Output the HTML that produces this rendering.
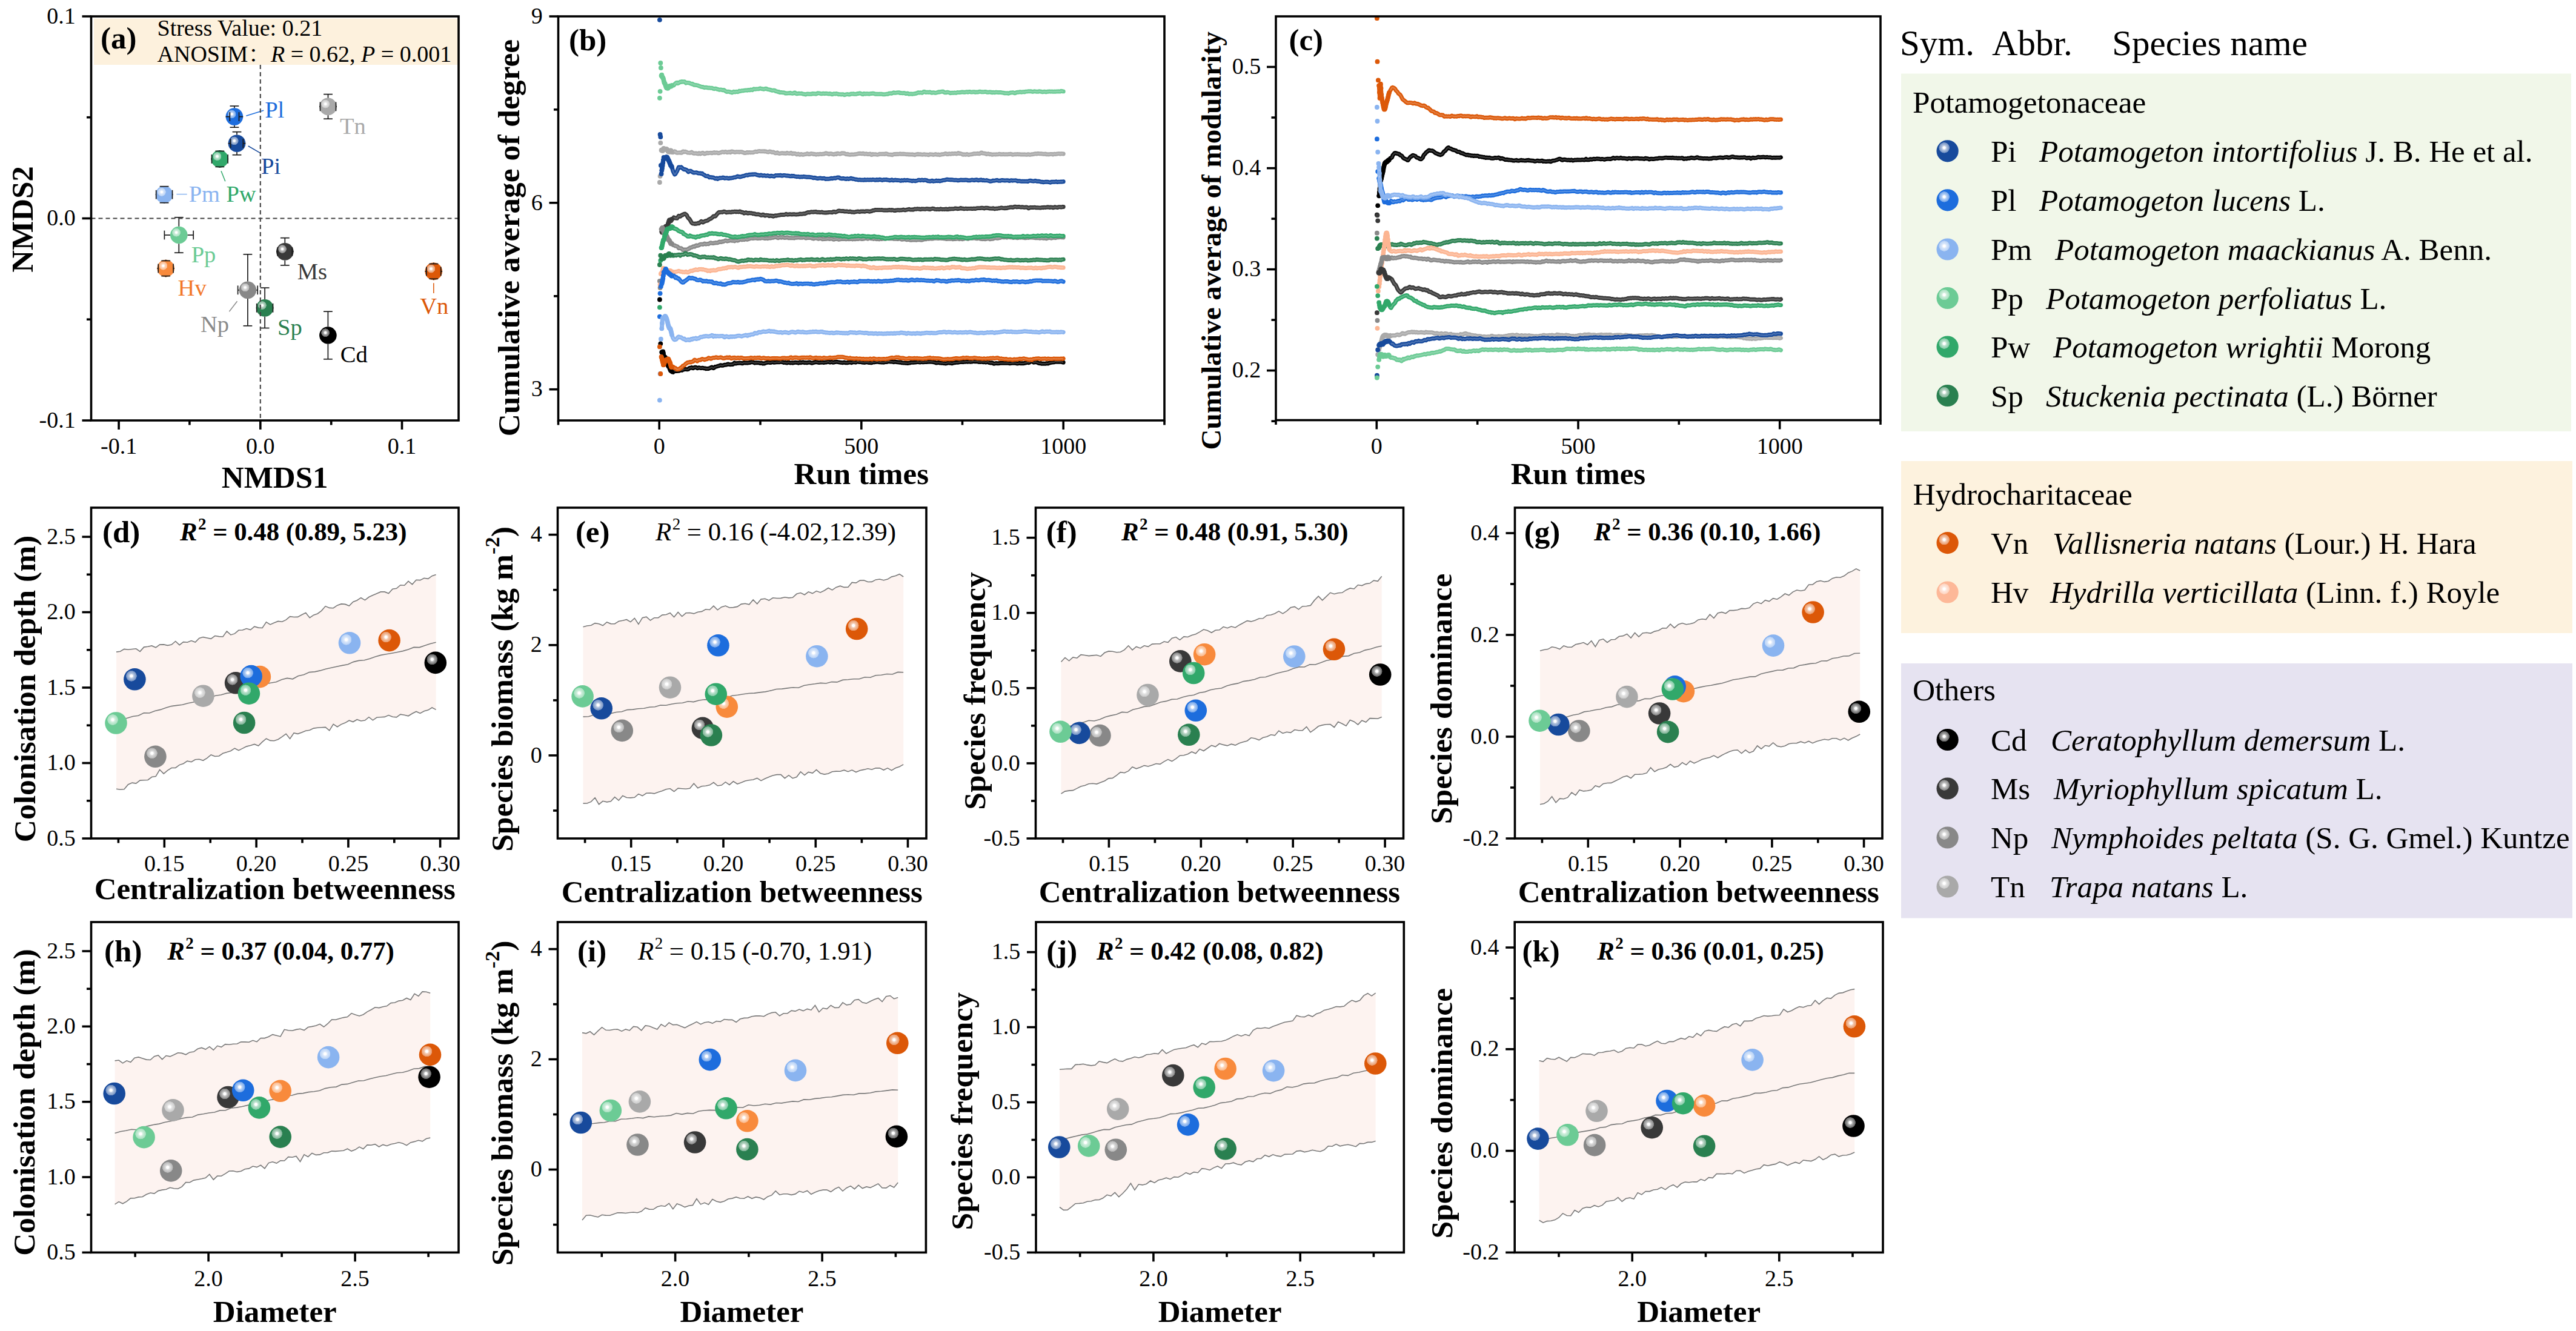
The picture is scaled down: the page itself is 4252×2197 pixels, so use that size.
<!DOCTYPE html><html><head><meta charset="utf-8"><title>Figure</title><style>html,body{margin:0;padding:0;background:#fff;overflow:hidden;}svg{display:block;}</style></head><body><svg width="4252" height="2197" viewBox="0 0 4252 2197" font-family="'Liberation Serif', 'Times New Roman', serif"><defs><radialGradient id="ga9a9a9" cx="0.35" cy="0.35" fx="0.35" fy="0.35" r="0.245"><stop offset="0" stop-color="#ffffff"/><stop offset="0.24" stop-color="#ffffff"/><stop offset="0.36" stop-color="#eaeaea"/><stop offset="0.6" stop-color="#dbdbdb"/><stop offset="0.82" stop-color="#d2d2d2"/><stop offset="0.96" stop-color="#c8c8c8"/><stop offset="1" stop-color="#a9a9a9"/></radialGradient><radialGradient id="g1d6ddd" cx="0.35" cy="0.35" fx="0.35" fy="0.35" r="0.245"><stop offset="0" stop-color="#ffffff"/><stop offset="0.24" stop-color="#ffffff"/><stop offset="0.36" stop-color="#c6daf6"/><stop offset="0.6" stop-color="#a0c2f1"/><stop offset="0.82" stop-color="#89b3ed"/><stop offset="0.96" stop-color="#6ea2e9"/><stop offset="1" stop-color="#1d6ddd"/></radialGradient><radialGradient id="g174a9c" cx="0.35" cy="0.35" fx="0.35" fy="0.35" r="0.245"><stop offset="0" stop-color="#ffffff"/><stop offset="0.24" stop-color="#ffffff"/><stop offset="0.36" stop-color="#c5d2e6"/><stop offset="0.6" stop-color="#9eb3d5"/><stop offset="0.82" stop-color="#86a1cc"/><stop offset="0.96" stop-color="#6b8bc0"/><stop offset="1" stop-color="#174a9c"/></radialGradient><radialGradient id="g31a86a" cx="0.35" cy="0.35" fx="0.35" fy="0.35" r="0.245"><stop offset="0" stop-color="#ffffff"/><stop offset="0.24" stop-color="#ffffff"/><stop offset="0.36" stop-color="#cce9da"/><stop offset="0.6" stop-color="#a8dac0"/><stop offset="0.82" stop-color="#94d2b2"/><stop offset="0.96" stop-color="#7bc7a0"/><stop offset="1" stop-color="#31a86a"/></radialGradient><radialGradient id="g8ab4f0" cx="0.35" cy="0.35" fx="0.35" fy="0.35" r="0.245"><stop offset="0" stop-color="#ffffff"/><stop offset="0.24" stop-color="#ffffff"/><stop offset="0.36" stop-color="#e2ecfb"/><stop offset="0.6" stop-color="#cee0f9"/><stop offset="0.82" stop-color="#c2d8f7"/><stop offset="0.96" stop-color="#b4cff5"/><stop offset="1" stop-color="#8ab4f0"/></radialGradient><radialGradient id="g6ccb95" cx="0.35" cy="0.35" fx="0.35" fy="0.35" r="0.245"><stop offset="0" stop-color="#ffffff"/><stop offset="0.24" stop-color="#ffffff"/><stop offset="0.36" stop-color="#daf2e4"/><stop offset="0.6" stop-color="#c1e9d2"/><stop offset="0.82" stop-color="#b3e4c8"/><stop offset="0.96" stop-color="#a1debb"/><stop offset="1" stop-color="#6ccb95"/></radialGradient><radialGradient id="gf88a3c" cx="0.35" cy="0.35" fx="0.35" fy="0.35" r="0.245"><stop offset="0" stop-color="#ffffff"/><stop offset="0.24" stop-color="#ffffff"/><stop offset="0.36" stop-color="#fde2ce"/><stop offset="0.6" stop-color="#fccead"/><stop offset="0.82" stop-color="#fbc29a"/><stop offset="0.96" stop-color="#fbb482"/><stop offset="1" stop-color="#f88a3c"/></radialGradient><radialGradient id="g393939" cx="0.35" cy="0.35" fx="0.35" fy="0.35" r="0.245"><stop offset="0" stop-color="#ffffff"/><stop offset="0.24" stop-color="#ffffff"/><stop offset="0.36" stop-color="#cecece"/><stop offset="0.6" stop-color="#acacac"/><stop offset="0.82" stop-color="#989898"/><stop offset="0.96" stop-color="#808080"/><stop offset="1" stop-color="#393939"/></radialGradient><radialGradient id="gdc5808" cx="0.35" cy="0.35" fx="0.35" fy="0.35" r="0.245"><stop offset="0" stop-color="#ffffff"/><stop offset="0.24" stop-color="#ffffff"/><stop offset="0.36" stop-color="#f6d5c1"/><stop offset="0.6" stop-color="#f0b997"/><stop offset="0.82" stop-color="#eda87f"/><stop offset="0.96" stop-color="#e99461"/><stop offset="1" stop-color="#dc5808"/></radialGradient><radialGradient id="g888888" cx="0.35" cy="0.35" fx="0.35" fy="0.35" r="0.245"><stop offset="0" stop-color="#ffffff"/><stop offset="0.24" stop-color="#ffffff"/><stop offset="0.36" stop-color="#e1e1e1"/><stop offset="0.6" stop-color="#cdcdcd"/><stop offset="0.82" stop-color="#c1c1c1"/><stop offset="0.96" stop-color="#b3b3b3"/><stop offset="1" stop-color="#888888"/></radialGradient><radialGradient id="g2a8050" cx="0.35" cy="0.35" fx="0.35" fy="0.35" r="0.245"><stop offset="0" stop-color="#ffffff"/><stop offset="0.24" stop-color="#ffffff"/><stop offset="0.36" stop-color="#cadfd3"/><stop offset="0.6" stop-color="#a6cab5"/><stop offset="0.82" stop-color="#90bda4"/><stop offset="0.96" stop-color="#77ae8f"/><stop offset="1" stop-color="#2a8050"/></radialGradient><radialGradient id="g000000" cx="0.35" cy="0.35" fx="0.35" fy="0.35" r="0.245"><stop offset="0" stop-color="#ffffff"/><stop offset="0.24" stop-color="#ffffff"/><stop offset="0.36" stop-color="#bfbfbf"/><stop offset="0.6" stop-color="#949494"/><stop offset="0.82" stop-color="#7a7a7a"/><stop offset="0.96" stop-color="#5c5c5c"/><stop offset="1" stop-color="#000000"/></radialGradient><radialGradient id="gfdb898" cx="0.35" cy="0.35" fx="0.35" fy="0.35" r="0.245"><stop offset="0" stop-color="#ffffff"/><stop offset="0.24" stop-color="#ffffff"/><stop offset="0.36" stop-color="#feede5"/><stop offset="0.6" stop-color="#fee1d4"/><stop offset="0.82" stop-color="#fedac9"/><stop offset="0.96" stop-color="#fed2bd"/><stop offset="1" stop-color="#fdb898"/></radialGradient><path id="r1" d="M1092.3 123.6l1.3 4 1.3 2.2 1.4 6.2 1.3 2.2 1.3 3.9 1.4 2.8 1.3 0.6 1.3 -0.5 1.4 -1.9 1.3 -1.2 1.3 0.7 1.4 -0.8 1.3 -0.9 1.3 0.2 1.4 -0.3 1.3 -1.8 1.3 -1.1 1.4 -1.3 1.3 -0.3 1.3 1.4 1.4 -0.7 1.3 -1.1 1.3 -0.9 1.4 0.5 1.3 -0.9 1.3 0.6 1.4 -0.3 1.3 -0.3 1.3 1 1.4 1.6 1.3 -0.6 1.3 -0.1 1.4 0.4 1.3 -0.2 1.3 0.8 1.4 0.6 1.3 0.6 1.3 -0.5 1.4 1 1.3 1 1.3 0 1.4 0.3 1.3 0 1.3 0.3 1.4 0.3 1.3 0.9 1.4 0.3 1.3 0.5 1.3 0.6 1.4 0.1 1.3 -0.1 1.3 0.9 1.4 0.4 1.3 -0.3 1.3 -0.3 1.4 0.6 1.3 0.1 1.3 0.3 1.4 -0.2 1.3 0.4 1.3 0.1 1.4 -0.2 1.3 0.5 1.3 0.7 1.4 0.3 1.3 -0.4 1.3 -0.1 1.4 0.5 1.3 0.7 1.3 0.1 1.4 0.7 1.3 0 1.3 -0.3 1.4 0.2 1.3 0.7 1.3 -0.1 1.4 -0.2 1.3 1 1.3 0.9 1.4 0.9 1.3 0.2 1.3 -0.4 1.4 0.1 1.3 0.4 1.3 0.7 1.4 -0.2 1.3 0.9 1.3 -0.7 1.4 -1.1 1.3 0.6 1.3 0.2 1.4 -0.8 1.3 0.2 1.3 0.4 1.4 -0.5 1.3 -1.2 1.3 0.5 1.4 -0.4 1.3 -0.5 1.4 0.1 1.3 -0.1 1.3 -0.4 1.4 -0.1 1.3 -0.2 1.3 -0.1 1.4 0.3 1.3 -0.7 1.3 0.2 1.4 0.1 1.3 -0.9 1.3 0.2 1.4 0.6 1.3 -1 1.3 -1 1.4 0.4 1.3 0.2 1.3 -0.4 1.4 0 1.3 0 1.3 -0.1 1.4 -0.7 1.3 -0.3 1.3 0.6 1.4 0.3 1.3 0.1 1.3 0.4 1.4 -0.1 1.3 -0.8 1.3 -0.2 1.4 0.8 1.3 0.4 1.3 0.3 1.4 0.2 1.3 0.5 1.3 0.2 1.4 0.6 1.3 0.3 1.3 -0.3 1.4 -0.1 1.3 0.3 1.3 1.3 1.4 0.1 1.3 0.4 1.3 0.6 1.4 -0.2 1.3 1 1.4 0.1 1.3 -0.2 1.3 0.3 1.4 0.2 1.3 -0.1 1.3 0.3 1.4 0.9 1.3 -0.2 1.3 0.2 1.4 -0.1 1.3 -0.1 1.3 0 1.4 -0.6 1.3 0.7 1.3 0.2 1.4 0.2 1.3 -0.4 1.3 -0.9 1.4 0 1.3 1.4 1.3 0.5 1.4 -0.3 1.3 -0.3 1.3 0 1.4 0.1 1.3 0 1.3 -0.1 1.4 0.5 1.3 0.4 1.3 0 1.4 0.4 1.3 0.4 1.3 -0.8 1.4 0 1.3 -0.3 1.3 0.5 1.4 -0.3 1.3 0.2 1.3 0.1 1.4 -0.8 1.3 -0.1 1.3 0.4 1.4 -0.3 1.3 0.4 1.3 0.2 1.4 -0.6 1.3 -0.8 1.3 0.1 1.4 0 1.3 0.5 1.3 0.3 1.4 0.1 1.3 -0.3 1.4 -0.4 1.3 0.6 1.3 -0.2 1.4 -0.2 1.3 0.1 1.3 0.2 1.4 0.3 1.3 0.1 1.3 -0.5 1.4 0.4 1.3 0.6 1.3 0.3 1.4 -0.5 1.3 -0.6 1.3 0.2 1.4 0.1 1.3 -0.5 1.3 0.4 1.4 0.3 1.3 0.7 1.3 -0.3 1.4 0 1.3 0.5 1.3 -0.5 1.4 0 1.3 0.4 1.3 0.7 1.4 -0.3 1.3 -0.6 1.3 -0.2 1.4 -0.1 1.3 0.3 1.3 0.2 1.4 -0.2 1.3 -0.8 1.3 0 1.4 0.1 1.3 -0.3 1.3 0.5 1.4 0 1.3 0.1 1.3 -0.1 1.4 -0.8 1.3 0 1.3 -0.2 1.4 -0.4 1.3 0.4 1.4 0.4 1.3 0.7 1.3 0.3 1.4 -1.2 1.3 0.2 1.3 0.4 1.4 -0.3 1.3 -0.1 1.3 0.1 1.4 0.2 1.3 0.2 1.3 -0.6 1.4 -0.1 1.3 0 1.3 -0.3 1.4 0 1.3 0.4 1.3 0.7 1.4 -0.1 1.3 0 1.3 0.1 1.4 0.1 1.3 -0.1 1.3 -0.1 1.4 0 1.3 0 1.3 0.3 1.4 0.4 1.3 -0.3 1.3 0.1 1.4 -0.1 1.3 -0.5 1.3 0.1 1.4 0 1.3 -0.9 1.3 -0.1 1.4 -0.3 1.3 0.5 1.3 -0.4 1.4 -0.8 1.3 -0.4 1.3 0.5 1.4 0.1 1.3 -0.3 1.3 -0.2 1.4 -0.1 1.3 -0.2 1.3 0 1.4 1 1.3 -0.1 1.3 0.1 1.4 0.1 1.3 0 1.4 -0.2 1.3 0.4 1.3 0.6 1.4 0 1.3 -0.5 1.3 0.4 1.4 0.9 1.3 -0.2 1.3 -0.2 1.4 0.1 1.3 0.3 1.3 -0.3 1.4 -0.1 1.3 -0.1 1.3 -0.5 1.4 -0.1 1.3 -0.7 1.3 -0.7 1.4 0 1.3 0.3 1.3 -0.3 1.4 0.1 1.3 0.5 1.3 -0.7 1.4 -1.2 1.3 -0.2 1.3 0.7 1.4 0.5 1.3 -0.4 1.3 0.1 1.4 0.3 1.3 -0.4 1.3 -0.2 1.4 0.9 1.3 0.4 1.3 -0.1 1.4 -0.5 1.3 0.3 1.3 0.4 1.4 0.1 1.3 -0.5 1.3 -0.2 1.4 -0.8 1.3 -0.1 1.3 0.3 1.4 -0.5 1.3 -0.5 1.4 0.3 1.3 -0.5 1.3 0.9 1.4 1 1.3 0 1.3 0 1.4 -0.7 1.3 0 1.3 0.5 1.4 0.2 1.3 0.9 1.3 -0.2 1.4 -0.3 1.3 0.1 1.3 0.1 1.4 -0.5 1.3 0.2 1.3 0.3 1.4 -0.5 1.3 -0.5 1.3 0.2 1.4 0 1.3 -0.1 1.3 -0.1 1.4 -0.4 1.3 0 1.3 0 1.4 0.3 1.3 0 1.3 -0.3 1.4 -0.3 1.3 0.1 1.3 0.4 1.4 -0.7 1.3 0 1.3 0.2 1.4 0.4 1.3 0 1.3 -0.5 1.4 0.1 1.3 0 1.3 0.6 1.4 -0.3 1.3 0 1.3 0 1.4 -0.2 1.3 -0.5 1.3 -0.1 1.4 0.3 1.3 0.4 1.3 -0.1 1.4 0.1 1.3 -0.2 1.4 -0.2 1.3 0 1.3 0.4 1.4 0.5 1.3 -0.1 1.3 -0.3 1.4 0 1.3 -0.1 1.3 0.7 1.4 0.2 1.3 -0.6 1.3 0.4 1.4 0.1 1.3 -0.5 1.3 0 1.4 0.2 1.3 0.1 1.3 0.2 1.4 -0.2 1.3 -0.1 1.3 0.2 1.4 0.3 1.3 0.2 1.3 0.1 1.4 0.6 1.3 -0.2 1.3 0.2 1.4 0.1 1.3 -0.2 1.3 0.5 1.4 -0.5 1.3 -0.5 1.3 -0.2 1.4 -0.1 1.3 -0.1 1.3 -0.1 1.4 0.8 1.3 0.3 1.3 -0.5 1.4 -0.8 1.3 -0.2 1.3 0 1.4 -0.2 1.3 -0.4 1.3 0 1.4 0.5 1.3 -0.2 1.4 -0.3 1.3 0 1.3 0.3 1.4 -0.8 1.3 -0.1 1.3 0 1.4 -0.2 1.3 -0.2 1.3 0.2 1.4 -0.2 1.3 0.1 1.3 0.4 1.4 0.3 1.3 -0.3 1.3 -0.4 1.4 0.1 1.3 0.2 1.3 0.3 1.4 -0.1 1.3 0 1.3 -0.6 1.4 0.2 1.3 0.3 1.3 0.1 1.4 0.6 1.3 -0.3 1.3 -0.4 1.4 0.1 1.3 0.5 1.3 -0.1 1.4 -0.5 1.3 0.2 1.3 -0.4 1.4 0 1.3 0.2 1.3 -0.1 1.4 -0.1 1.3 0.4 1.3 -0.1 1.4 -0.3 1.3 0.4 1.3 -0.3 1.4 -0.2 1.3 0.2 1.3 -0.3 1.4 0.3 1.3 0 1.3 -0.8 1.4 0.1 1.3 0.4 1.3 0.1"/><path id="r2" d="M1092.3 247.6l1.3 1.3 1.3 -3.2 1.4 0.2 1.3 0.8 1.3 -0.7 1.4 0.1 1.3 1.4 1.3 2.6 1.4 0.2 1.3 0.2 1.3 -2.1 1.4 1.7 1.3 0.9 1.3 0.7 1.4 -0.6 1.3 -1.4 1.3 0.7 1.4 1.5 1.3 0.4 1.3 -0.2 1.4 -0.2 1.3 0.2 1.3 -0.4 1.4 0.6 1.3 -0.2 1.3 -1.9 1.4 -0.3 1.3 0.8 1.3 -0.5 1.4 0.3 1.3 0.8 1.3 0.7 1.4 0.1 1.3 0 1.3 0.3 1.4 -0.6 1.3 -0.7 1.3 1 1.4 0.9 1.3 0.3 1.3 -0.3 1.4 0.2 1.3 -0.2 1.3 0.7 1.4 0.3 1.3 -1.2 1.4 0.1 1.3 1.1 1.3 -0.7 1.4 -0.9 1.3 -0.1 1.3 1.1 1.4 0.6 1.3 -0.4 1.3 -0.9 1.4 -0.5 1.3 0.6 1.3 -0.1 1.4 -0.3 1.3 0 1.3 -0.1 1.4 0.5 1.3 -0.3 1.3 -0.7 1.4 -0.3 1.3 0.9 1.3 -0.4 1.4 -0.2 1.3 0.3 1.3 0.8 1.4 -0.2 1.3 -0.7 1.3 -0.1 1.4 -0.7 1.3 -0.6 1.3 0.2 1.4 0.5 1.3 -0.3 1.3 -0.6 1.4 0.5 1.3 0.7 1.3 -0.2 1.4 -0.7 1.3 0.1 1.3 0.8 1.4 -1.5 1.3 -0.2 1.3 0.6 1.4 -0 1.3 0.7 1.3 0.1 1.4 -0.6 1.3 -0 1.3 0.2 1.4 -0.1 1.3 0.4 1.3 -0.6 1.4 0.1 1.3 -0 1.4 0.7 1.3 0.3 1.3 0.6 1.4 0.2 1.3 -0.1 1.3 -0.7 1.4 -0.3 1.3 0.6 1.3 -0.4 1.4 -0.1 1.3 0.3 1.3 -0.2 1.4 -0 1.3 0.1 1.3 -0.4 1.4 -0.8 1.3 -0.3 1.3 0.3 1.4 -0 1.3 -0.6 1.3 -0.3 1.4 -0.2 1.3 0.5 1.3 -0.1 1.4 0.1 1.3 -0.2 1.3 -0.1 1.4 0.5 1.3 -0.3 1.3 0.2 1.4 0.5 1.3 0.4 1.3 0.2 1.4 -0.9 1.3 -0.2 1.3 0.3 1.4 1 1.3 -0 1.3 -0.4 1.4 0.7 1.3 0.9 1.3 0.4 1.4 -0.3 1.3 -0.8 1.3 1 1.4 0.6 1.3 0.1 1.4 -0.3 1.3 -0.3 1.3 -0.2 1.4 0.3 1.3 -0 1.3 -0 1.4 0.3 1.3 -0.1 1.3 -0.9 1.4 0.5 1.3 0.3 1.3 0.1 1.4 -0.1 1.3 -0.9 1.3 1.3 1.4 0.6 1.3 -1 1.3 0.2 1.4 0.2 1.3 0.6 1.3 0.9 1.4 -0.6 1.3 -0.5 1.3 1 1.4 0.5 1.3 -0.7 1.3 -0.3 1.4 0.8 1.3 0.1 1.3 -0.2 1.4 -0.5 1.3 -0.1 1.3 -0.2 1.4 -0.8 1.3 0.8 1.3 0.2 1.4 0.1 1.3 -0.8 1.3 -0.3 1.4 0.3 1.3 0.2 1.3 0.6 1.4 -0.3 1.3 0.3 1.3 0.6 1.4 -0.3 1.3 -0.5 1.3 0.5 1.4 -0.4 1.3 -0.3 1.3 0.2 1.4 0.2 1.3 -0.5 1.4 0.1 1.3 -0.2 1.3 -0.6 1.4 -0.6 1.3 0.5 1.3 0.2 1.4 0.4 1.3 0.6 1.3 -0.8 1.4 0.1 1.3 0 1.3 0.7 1.4 0 1.3 0.5 1.3 -0.7 1.4 -0.4 1.3 0.6 1.3 -1.1 1.4 -0.3 1.3 0.5 1.3 0.5 1.4 -0.1 1.3 -0.5 1.3 -0.8 1.4 0.4 1.3 -0.2 1.3 0.3 1.4 0.7 1.3 0.6 1.3 0.2 1.4 -0.5 1.3 0.8 1.3 0.2 1.4 0 1.3 0 1.3 -0.2 1.4 0 1.3 0.1 1.3 -0.1 1.4 -0.3 1.3 0 1.3 -0.4 1.4 -0.2 1.3 -0.4 1.3 -0.2 1.4 -0.2 1.3 0.1 1.4 0.4 1.3 -0.1 1.3 -0.5 1.4 0.3 1.3 0.8 1.3 -0.2 1.4 -0.3 1.3 0.5 1.3 0.2 1.4 0 1.3 -0.4 1.3 -0.1 1.4 1.4 1.3 0.2 1.3 -1.1 1.4 0.2 1.3 0.2 1.3 -0.2 1.4 0.1 1.3 0.3 1.3 0.2 1.4 -0.3 1.3 -0.5 1.3 -0.4 1.4 0.2 1.3 0.1 1.3 -0.2 1.4 0.1 1.3 -0.1 1.3 0.3 1.4 -0.8 1.3 0 1.3 0.5 1.4 0.7 1.3 0.2 1.3 0 1.4 0.1 1.3 -0.1 1.3 0.7 1.4 -0.6 1.3 -0.5 1.3 -0.2 1.4 -0.2 1.3 0.4 1.3 -0.6 1.4 0.4 1.3 -0.1 1.3 -0.2 1.4 -0.4 1.3 0.6 1.3 -0.1 1.4 0 1.3 -0.3 1.4 0.3 1.3 0.1 1.3 0.2 1.4 0.1 1.3 -0.1 1.3 0.1 1.4 0.4 1.3 -0.3 1.3 0.2 1.4 0 1.3 -0.2 1.3 0.4 1.4 0.1 1.3 0.4 1.3 -0.5 1.4 -0.4 1.3 0.1 1.3 -0.7 1.4 0.5 1.3 0 1.3 -0.1 1.4 0.5 1.3 0 1.3 0.1 1.4 -0.4 1.3 -0.2 1.3 0.6 1.4 -0.1 1.3 0 1.3 0.3 1.4 0.4 1.3 -0.5 1.3 -0.6 1.4 0.2 1.3 0 1.3 0.3 1.4 0.3 1.3 -0.3 1.3 -0.3 1.4 -0.4 1.3 0.7 1.3 0.2 1.4 -0.4 1.3 0.2 1.3 0.5 1.4 -0.3 1.3 -0.7 1.4 0.1 1.3 0 1.3 -0.4 1.4 -0.4 1.3 -0.5 1.3 0.1 1.4 1 1.3 0 1.3 -0.7 1.4 -0.1 1.3 0.4 1.3 0.1 1.4 -0.8 1.3 0.1 1.3 0.2 1.4 -0.3 1.3 -0.1 1.3 0.4 1.4 0.2 1.3 -0.7 1.3 -0.8 1.4 1.1 1.3 -0.3 1.3 0.4 1.4 0.3 1.3 0.8 1.3 0.6 1.4 -0.7 1.3 0.5 1.3 0.2 1.4 -0.7 1.3 -0.2 1.3 0.7 1.4 0.4 1.3 -0.5 1.3 -0.2 1.4 0 1.3 -0.4 1.3 -0.2 1.4 -0.6 1.3 0.1 1.3 0 1.4 -0.2 1.3 0 1.3 -0.3 1.4 0.3 1.3 0.2 1.3 -0.5 1.4 -1.1 1.3 -0.3 1.3 0.9 1.4 0.3 1.3 0 1.4 0.4 1.3 0.2 1.3 0.8 1.4 -0.3 1.3 -0.4 1.3 0.4 1.4 0.5 1.3 -0.2 1.3 0.4 1.4 0.5 1.3 -0.4 1.3 -0.1 1.4 0 1.3 0.2 1.3 -0.3 1.4 0.1 1.3 0 1.3 -0.5 1.4 -0.3 1.3 0.6 1.3 0.1 1.4 0 1.3 -0.1 1.3 -0.2 1.4 0.4 1.3 -0.1 1.3 -0.2 1.4 0.3 1.3 -0.1 1.3 -0.3 1.4 0.1 1.3 -0.3 1.3 0 1.4 0.5 1.3 0.5 1.3 -0.2 1.4 -0.2 1.3 -0.3 1.3 0.1 1.4 0.2 1.3 -0.4 1.3 0.2 1.4 0 1.3 0 1.3 0.3 1.4 0 1.3 -0.1 1.4 0.1 1.3 0 1.3 -0.2 1.4 0.3 1.3 0.1 1.3 0.1 1.4 -0.6 1.3 -0.1 1.3 0.8 1.4 -0.1 1.3 -0.3 1.3 -0.3 1.4 0 1.3 -0.2 1.3 -0.4 1.4 -0.4 1.3 0.1 1.3 0.2 1.4 -0.6 1.3 0.1 1.3 0.1 1.4 0.3 1.3 -0.1 1.3 -0.1 1.4 0.4 1.3 0.1 1.3 0.2 1.4 -0.3 1.3 -0.1 1.3 0.8 1.4 -0.1 1.3 -0.1 1.3 0.4 1.4 -0.3 1.3 -0.3 1.3 0 1.4 0.1 1.3 0.5 1.3 -0.5 1.4 -0.4 1.3 0.4 1.3 -0.1 1.4 -0.4 1.3 -0.2 1.3 -0.2 1.4 0 1.3 0.6 1.3 -0.3 1.4 -0.3 1.3 0.2 1.3 0.2"/><path id="r3" d="M1092.3 281.3l1.3 -8.1 1.3 -9.1 1.4 -3.2 1.3 -0.2 1.3 -1 1.4 -0.4 1.3 1.1 1.3 3 1.4 2.5 1.3 3.2 1.3 3.3 1.4 1.9 1.3 3.3 1.3 4.9 1.4 2.9 1.3 2.5 1.3 -0.7 1.4 -2.6 1.3 -2.2 1.3 -3 1.4 -3.5 1.3 0.1 1.3 0.5 1.4 -0.7 1.3 1.2 1.3 1 1.4 1.4 1.3 0.4 1.3 -0.3 1.4 0.8 1.3 0.5 1.3 1.5 1.4 1.4 1.3 -1.3 1.3 -0.2 1.4 0.1 1.3 0.9 1.3 0.8 1.4 0.8 1.3 0.3 1.3 -0.2 1.4 0 1.3 -0.2 1.3 0.5 1.4 0.7 1.3 0.2 1.4 -0.1 1.3 -0.1 1.3 0.7 1.4 -0.3 1.3 1.3 1.3 0.9 1.4 0.5 1.3 1.2 1.3 0.5 1.4 0.2 1.3 -0.5 1.3 1.3 1.4 1.2 1.3 -0.2 1.3 -0.3 1.4 0.7 1.3 -0.3 1.3 0.3 1.4 0.7 1.3 0.9 1.3 0.1 1.4 -0.7 1.3 1.3 1.3 -0.4 1.4 -1 1.3 -0.4 1.3 0.4 1.4 -0.4 1.3 0 1.3 -0.7 1.4 0.5 1.3 0.8 1.3 -0.2 1.4 -0.2 1.3 -0.1 1.3 0.7 1.4 0.2 1.3 -0.6 1.3 0 1.4 0 1.3 -0.3 1.3 -0.2 1.4 -0.6 1.3 -0.2 1.3 0.1 1.4 -0.5 1.3 -0.7 1.3 -0.6 1.4 0.3 1.3 0.6 1.3 0.2 1.4 -0.5 1.3 -0.4 1.4 -0.5 1.3 -0.1 1.3 -0.3 1.4 -0.6 1.3 -0.4 1.3 -0.4 1.4 0.4 1.3 -0.3 1.3 -0.8 1.4 -0.1 1.3 0.3 1.3 -0.4 1.4 -0.2 1.3 0.4 1.3 -0.6 1.4 0.3 1.3 -0.2 1.3 0.6 1.4 0.5 1.3 0.2 1.3 0.2 1.4 0.7 1.3 -0.7 1.3 -0.2 1.4 0.5 1.3 0.5 1.3 -0.1 1.4 -0.4 1.3 0.5 1.3 0.3 1.4 -0.2 1.3 -0.4 1.3 0.5 1.4 0.4 1.3 0.4 1.3 -0.7 1.4 0 1.3 0.3 1.3 0.3 1.4 0.3 1.3 -1 1.3 -0.7 1.4 0.1 1.3 0.1 1.3 -0.2 1.4 0.2 1.3 -0.2 1.4 -0.4 1.3 1 1.3 0 1.4 -0.4 1.3 -0.3 1.3 -0 1.4 0.2 1.3 0.5 1.3 -0.2 1.4 0.4 1.3 -0.2 1.3 0.4 1.4 0.4 1.3 -0.1 1.3 -0.6 1.4 0.5 1.3 -0.3 1.3 0.4 1.4 0.3 1.3 0.2 1.3 0.4 1.4 -0.1 1.3 -0.1 1.3 0.3 1.4 0.4 1.3 -0.3 1.3 -0.1 1.4 0.2 1.3 -0.3 1.3 -0.2 1.4 0.4 1.3 0 1.3 0.4 1.4 -0.1 1.3 0 1.3 0.1 1.4 0 1.3 0.2 1.3 0.1 1.4 0.2 1.3 0.8 1.3 0.1 1.4 -0.4 1.3 0.2 1.3 0.5 1.4 0.3 1.3 0.3 1.3 -0.2 1.4 -0.2 1.3 -0.2 1.3 0.2 1.4 0.3 1.3 0 1.4 -0.1 1.3 -0.1 1.3 0.7 1.4 0.5 1.3 -0.3 1.3 0.1 1.4 0.1 1.3 -0.3 1.3 -0.1 1.4 -0.5 1.3 -0.3 1.3 0.5 1.4 -0.4 1.3 -0.3 1.3 -0.2 1.4 0.4 1.3 -0.7 1.3 -0.3 1.4 -0.3 1.3 0 1.3 0.7 1.4 0.8 1.3 0.2 1.3 0.3 1.4 -0.5 1.3 0.1 1.3 0.3 1.4 0.3 1.3 0.4 1.3 -0.6 1.4 -0.1 1.3 0.7 1.3 -0.4 1.4 -0.3 1.3 -0.6 1.3 0.3 1.4 0.8 1.3 -0.2 1.3 0.4 1.4 0.3 1.3 0.5 1.3 -0.1 1.4 0.3 1.3 0.4 1.3 0.1 1.4 -0.3 1.3 0.3 1.4 0.1 1.3 -0.1 1.3 0.1 1.4 0.1 1.3 -0.7 1.3 0.5 1.4 0.1 1.3 -0.3 1.3 -0.1 1.4 0.3 1.3 0 1.3 -0.3 1.4 0.3 1.3 -0.1 1.3 -0.4 1.4 0.1 1.3 0.2 1.3 0.4 1.4 -0.1 1.3 -0.6 1.3 0.6 1.4 0 1.3 -0.7 1.3 -0.1 1.4 0.3 1.3 0.6 1.3 0.3 1.4 -0.7 1.3 -0.3 1.3 0.4 1.4 -0.2 1.3 -0.3 1.3 0.6 1.4 0.1 1.3 0.1 1.3 0.7 1.4 -0.2 1.3 -0.8 1.3 -0.1 1.4 0.9 1.3 0 1.3 -0.4 1.4 -0.3 1.3 0.4 1.3 0.1 1.4 -0.1 1.3 0.2 1.3 0 1.4 0.6 1.3 0.1 1.3 -0.8 1.4 0.3 1.3 0.2 1.4 -0.8 1.3 0.3 1.3 0.3 1.4 -0.3 1.3 -0.2 1.3 0.3 1.4 0.2 1.3 0.3 1.3 0 1.4 0.5 1.3 0.2 1.3 -0.5 1.4 0.1 1.3 0.2 1.3 0.2 1.4 -0.5 1.3 -0.2 1.3 -0.5 1.4 -0.5 1.3 0 1.3 0.6 1.4 -0.3 1.3 -0.5 1.3 0.5 1.4 0.3 1.3 -0.6 1.3 0.1 1.4 0.3 1.3 0.2 1.3 0.9 1.4 0.3 1.3 0 1.3 0.3 1.4 -0.3 1.3 -0.7 1.3 0.1 1.4 1 1.3 -0.4 1.3 0 1.4 -0.5 1.3 -0.4 1.3 0.7 1.4 -0.3 1.3 -0.1 1.3 0.7 1.4 -0.4 1.3 -0.4 1.4 -0.2 1.3 -0.5 1.3 -0.1 1.4 -0.1 1.3 -0.3 1.3 -0.5 1.4 -0.3 1.3 0.2 1.3 0.2 1.4 0 1.3 0.2 1.3 -0.1 1.4 0 1.3 0.2 1.3 0.2 1.4 0.2 1.3 0.1 1.3 -0.3 1.4 0.2 1.3 0.4 1.3 0.1 1.4 -0.3 1.3 -0.2 1.3 -0.3 1.4 0.2 1.3 -0.1 1.3 0.3 1.4 -0.2 1.3 0.1 1.3 -0.3 1.4 0.2 1.3 0 1.3 0.6 1.4 0 1.3 -0.1 1.3 0 1.4 -0.6 1.3 -0.1 1.3 0.1 1.4 0.4 1.3 0.1 1.3 -0.6 1.4 -0.2 1.3 0 1.3 0.8 1.4 0.1 1.3 -0.4 1.3 -0.1 1.4 -0.5 1.3 0.6 1.3 0.4 1.4 -0.4 1.3 0.5 1.4 0.1 1.3 0 1.3 -0.5 1.4 0.5 1.3 0.5 1.3 0.2 1.4 0.6 1.3 0 1.3 -0.2 1.4 -0.4 1.3 -0.6 1.3 0.3 1.4 -0.2 1.3 -0.2 1.3 -0.4 1.4 -0.2 1.3 0.7 1.3 0.3 1.4 -0.1 1.3 0.2 1.3 -0.8 1.4 -0.2 1.3 0.4 1.3 -0.2 1.4 0.4 1.3 0.1 1.3 -0.5 1.4 0.2 1.3 0 1.3 0.1 1.4 0.6 1.3 -0.1 1.3 -0.8 1.4 0 1.3 0.7 1.3 -0.4 1.4 0 1.3 0 1.3 -0.2 1.4 0.4 1.3 0.9 1.3 -0.2 1.4 0 1.3 -0.1 1.3 0.4 1.4 0.2 1.3 -0.2 1.4 0.1 1.3 0.2 1.3 -0.1 1.4 0.1 1.3 -0.2 1.3 0.1 1.4 0.3 1.3 -0.8 1.3 -0.4 1.4 -0.3 1.3 0.3 1.3 0.4 1.4 0.1 1.3 0.2 1.3 -0.2 1.4 -0.6 1.3 0.3 1.3 0.7 1.4 -0.1 1.3 0 1.3 0.1 1.4 0.3 1.3 0.5 1.3 0.3 1.4 -0.1 1.3 0.5 1.3 -0.2 1.4 -0.2 1.3 -0.3 1.3 0.3 1.4 -0.3 1.3 0.3 1.3 0.3 1.4 0.2 1.3 0.4 1.3 -1 1.4 0 1.3 0 1.3 -0.1 1.4 0.1 1.3 -0.2 1.3 -0.4 1.4 0.6 1.3 0.2 1.3 -0.4 1.4 0 1.3 0.1 1.3 -0.2 1.4 0.2 1.3 -0.3 1.3 -0.1"/><path id="r4" d="M1092.3 382.3l1.3 1 1.3 -1.3 1.4 -0.9 1.3 -4.7 1.3 -2.5 1.4 -0.2 1.3 -0.9 1.3 -3.5 1.4 -4.5 1.3 -1.4 1.3 1.2 1.4 -2.1 1.3 -1.2 1.3 -0.6 1.4 -1.8 1.3 0.6 1.3 0.6 1.4 -0 1.3 0.2 1.3 -2 1.4 -2.1 1.3 0.5 1.3 0.6 1.4 -1.3 1.3 -1.2 1.3 0.2 1.4 -1.5 1.3 -0.3 1.3 -0.2 1.4 1.1 1.3 1.2 1.3 2.7 1.4 2.2 1.3 0.8 1.3 1.8 1.4 2.6 1.3 2.1 1.3 1.2 1.4 0.4 1.3 -0 1.3 0.4 1.4 -0.6 1.3 0.5 1.3 -0.5 1.4 -0.7 1.3 0.6 1.4 -1.4 1.3 -1.1 1.3 -1.1 1.4 1.1 1.3 0.8 1.3 -0.9 1.4 -0.7 1.3 -0.6 1.3 -0.4 1.4 -0.2 1.3 -0.3 1.3 -1.5 1.4 -0.7 1.3 -0.6 1.3 -0.5 1.4 -1.1 1.3 -1.2 1.3 -1.5 1.4 -0.1 1.3 0.3 1.3 -0.9 1.4 -2.1 1.3 -1.5 1.3 -1.3 1.4 -1.1 1.3 0.4 1.3 -0.5 1.4 0 1.3 0.2 1.3 -0.8 1.4 -0.3 1.3 0.2 1.3 0.5 1.4 0.8 1.3 -0.5 1.3 0.2 1.4 -0.5 1.3 0.1 1.3 0.3 1.4 0 1.3 -0.9 1.3 0.5 1.4 -0.3 1.3 -0.5 1.3 0 1.4 0.7 1.3 -0.6 1.3 0.4 1.4 0.2 1.3 -0.6 1.3 -0.3 1.4 1.2 1.3 0.5 1.4 -0.5 1.3 0.8 1.3 1.2 1.4 -0.5 1.3 -0.9 1.3 0.3 1.4 1 1.3 0 1.3 -0.6 1.4 0.2 1.3 0.3 1.3 -0.1 1.4 0.4 1.3 0.6 1.3 -0.2 1.4 0 1.3 1.1 1.3 0.2 1.4 -0.1 1.3 -0.1 1.3 0.1 1.4 0.4 1.3 0.5 1.3 0.6 1.4 0 1.3 -1.2 1.3 0.3 1.4 1.1 1.3 0.5 1.3 -0.9 1.4 0.3 1.3 0 1.3 0.3 1.4 0.9 1.3 -0.7 1.3 0.1 1.4 0.5 1.3 -0.4 1.3 1.1 1.4 -0.4 1.3 -0.9 1.3 -0.1 1.4 0.4 1.3 -0.6 1.3 -0.2 1.4 -0.3 1.3 0 1.4 -0.6 1.3 0 1.3 0 1.4 -0.2 1.3 0.3 1.3 -0.2 1.4 -0.6 1.3 -0.5 1.3 0.8 1.4 0.1 1.3 -0.2 1.3 -0.3 1.4 -0 1.3 0.2 1.3 0.1 1.4 -0.2 1.3 -0.1 1.3 -0.1 1.4 0.3 1.3 0.2 1.3 -0.1 1.4 -0.1 1.3 -0.1 1.3 -0.2 1.4 -0.6 1.3 0.1 1.3 0.3 1.4 -0.3 1.3 -0.3 1.3 -0.3 1.4 0.4 1.3 -0.6 1.3 -0.7 1.4 -0.5 1.3 -0.6 1.3 0 1.4 0.3 1.3 -0.7 1.3 -0.3 1.4 0.1 1.3 0.1 1.3 0.1 1.4 -0.5 1.3 0.1 1.3 -0.3 1.4 0.9 1.3 0.1 1.3 -0.3 1.4 0.1 1.3 0.4 1.3 -0.2 1.4 -0.4 1.3 0.4 1.4 0.5 1.3 0 1.3 0.2 1.4 -0.3 1.3 0.2 1.3 -0.3 1.4 0 1.3 -0.3 1.3 0 1.4 0 1.3 0.1 1.3 0.2 1.4 -1 1.3 -0.3 1.3 0.3 1.4 0.5 1.3 -0.5 1.3 -0.4 1.4 -0.8 1.3 -0.6 1.3 0.1 1.4 0.3 1.3 0.1 1.3 0.2 1.4 -0.3 1.3 0.2 1.3 0.5 1.4 -0.1 1.3 0.1 1.3 -0.2 1.4 0.3 1.3 0.5 1.3 0 1.4 -0.7 1.3 0.5 1.3 0.6 1.4 -0.2 1.3 0.2 1.3 0.4 1.4 -0.4 1.3 -0.3 1.3 -0.3 1.4 -0.3 1.3 -0.1 1.3 0.4 1.4 0.3 1.3 -0.7 1.4 -0.1 1.3 0.1 1.3 -0.2 1.4 0.2 1.3 0.3 1.3 -0.2 1.4 -0.5 1.3 0 1.3 0 1.4 0.3 1.3 0.5 1.3 -0.6 1.4 -0.1 1.3 -0.3 1.3 -0.9 1.4 -0.2 1.3 -0.1 1.3 -0.8 1.4 0.1 1.3 0.1 1.3 -0.1 1.4 0.1 1.3 -0.1 1.3 0.1 1.4 0 1.3 -0.1 1.3 0.1 1.4 0.3 1.3 0.2 1.3 -0.2 1.4 0.1 1.3 0.1 1.3 -0.1 1.4 0 1.3 -0.4 1.3 -0.2 1.4 0.5 1.3 0.2 1.3 -0.6 1.4 0.3 1.3 0.4 1.3 0.4 1.4 -0.1 1.3 -0.6 1.3 0.1 1.4 -0.3 1.3 -0.1 1.3 0.5 1.4 -0.3 1.3 0.1 1.3 -0.1 1.4 -0.5 1.3 -0.3 1.4 0.6 1.3 0.2 1.3 -0.1 1.4 -0.6 1.3 -0.1 1.3 -0.3 1.4 -0.4 1.3 0.5 1.3 0.3 1.4 -0.1 1.3 -0.2 1.3 0.4 1.4 -0.4 1.3 -0.9 1.3 0.2 1.4 0.1 1.3 -0.4 1.3 0 1.4 0.3 1.3 -0.1 1.3 0.6 1.4 -0.3 1.3 -0.5 1.3 0.2 1.4 -0.1 1.3 0.2 1.3 0.3 1.4 -0.6 1.3 -0.1 1.3 0.1 1.4 0.4 1.3 -0.3 1.3 0.6 1.4 -0.5 1.3 -0.3 1.3 -0.4 1.4 0.1 1.3 0.3 1.3 0.7 1.4 0 1.3 0.1 1.3 -0.2 1.4 0 1.3 0.2 1.3 0 1.4 -0.7 1.3 0.3 1.4 0.4 1.3 -0.1 1.3 0 1.4 0.1 1.3 -0.4 1.3 -0.2 1.4 0.6 1.3 0 1.3 -0.2 1.4 -0.7 1.3 0.4 1.3 -0.1 1.4 -0.1 1.3 0.1 1.3 -0.1 1.4 -0.3 1.3 -0.5 1.3 0.2 1.4 0.1 1.3 0.4 1.3 -0.2 1.4 -0.2 1.3 -0.2 1.3 -0.7 1.4 0.7 1.3 0.2 1.3 -0.1 1.4 0.5 1.3 -0.1 1.3 -0.5 1.4 0.2 1.3 0.4 1.3 -0.3 1.4 0 1.3 0 1.3 0 1.4 -0.1 1.3 0.3 1.3 0 1.4 -0.5 1.3 0.1 1.3 0.4 1.4 -0.5 1.3 -0.4 1.3 -0.1 1.4 0 1.3 0 1.3 0 1.4 -0.3 1.3 0 1.3 -0.2 1.4 0.6 1.3 0.3 1.4 -0.5 1.3 -0.4 1.3 0.1 1.4 0.1 1.3 0.2 1.3 0.3 1.4 0.2 1.3 0.1 1.3 0 1.4 0.1 1.3 -0.6 1.3 0.7 1.4 0.6 1.3 -0.5 1.3 -0.3 1.4 0.3 1.3 -0.4 1.3 -0.3 1.4 0 1.3 -0.3 1.3 -0.5 1.4 0.4 1.3 0.1 1.3 0.2 1.4 0.1 1.3 -0.5 1.3 0.5 1.4 -0.2 1.3 -0.6 1.3 -0.1 1.4 -0.3 1.3 -0.4 1.3 -0.1 1.4 0 1.3 0.3 1.3 -0.1 1.4 -0.8 1.3 -0.3 1.3 0.1 1.4 0.5 1.3 0 1.3 -0.2 1.4 -0.2 1.3 0.3 1.3 0.2 1.4 0.2 1.3 -0.3 1.4 0.3 1.3 0.1 1.3 0.3 1.4 -0.2 1.3 -0.3 1.3 0.2 1.4 0.8 1.3 0.9 1.3 -0.6 1.4 -0.9 1.3 0.2 1.3 -0.1 1.4 0.1 1.3 0.1 1.3 -0.5 1.4 0.2 1.3 0.5 1.3 0.1 1.4 -0.2 1.3 0.2 1.3 0 1.4 0.2 1.3 -0.1 1.3 -0.4 1.4 -0.1 1.3 0.2 1.3 -0.5 1.4 0.2 1.3 0.1 1.3 -0.3 1.4 -0.2 1.3 -0.3 1.3 0.5 1.4 0.3 1.3 -0.6 1.3 0.2 1.4 0.1 1.3 0.5 1.3 0 1.4 -0.9 1.3 0 1.3 0.3 1.4 0.2 1.3 0.3 1.3 -1 1.4 0 1.3 0 1.3 0.4 1.4 -0.1 1.3 -0.6 1.3 0.2"/><path id="r5" d="M1092.3 377.8l1.3 -1.8 1.3 4.5 1.4 3.9 1.3 1.3 1.3 2.7 1.4 0.9 1.3 2.9 1.3 3 1.4 1.1 1.3 2.3 1.3 2.9 1.4 0.7 1.3 0.6 1.3 1.7 1.4 0.4 1.3 0 1.3 1.2 1.4 0 1.3 0.5 1.3 1 1.4 2.1 1.3 -0.3 1.3 0.5 1.4 -0.2 1.3 1 1.3 1.8 1.4 0.5 1.3 -1.1 1.3 0 1.4 0.3 1.3 0.2 1.3 -0.9 1.4 -1 1.3 0.1 1.3 -1.8 1.4 -0.3 1.3 -0.1 1.3 -0.7 1.4 -1.1 1.3 0.2 1.3 0.4 1.4 -1.8 1.3 -0.5 1.3 0.7 1.4 -0.2 1.3 -0.5 1.4 -1.3 1.3 -0.5 1.3 0 1.4 0.1 1.3 0.3 1.3 -0.7 1.4 -0.8 1.3 0.8 1.3 0.3 1.4 -0.5 1.3 -0.2 1.3 0.4 1.4 -1 1.3 -0.9 1.3 -0.1 1.4 0.6 1.3 0.1 1.3 0 1.4 -0.6 1.3 0.1 1.3 -0.5 1.4 0.3 1.3 0.1 1.3 -0.5 1.4 -1.2 1.3 -0.2 1.3 0.5 1.4 0 1.3 -1 1.3 0.3 1.4 -0.7 1.3 -0.5 1.3 -0.7 1.4 0.4 1.3 0.8 1.3 -0.4 1.4 -0.2 1.3 -0.4 1.3 -0.7 1.4 0.2 1.3 0.8 1.3 -0.1 1.4 0.1 1.3 0.5 1.3 -1 1.4 -0 1.3 -0 1.3 0.3 1.4 -0.4 1.3 -1.6 1.3 0.1 1.4 -0.4 1.3 0.9 1.4 -0.1 1.3 -0.2 1.3 0.2 1.4 -0.8 1.3 -0.8 1.3 1.1 1.4 0.1 1.3 -0.8 1.3 -0 1.4 -0.8 1.3 -0.7 1.3 0.3 1.4 -0 1.3 0.2 1.3 -0.1 1.4 -0.2 1.3 -0.2 1.3 -0.3 1.4 0.8 1.3 0.1 1.3 -0.4 1.4 -0.1 1.3 0.4 1.3 -0.7 1.4 -0 1.3 0.1 1.3 -0.1 1.4 0.7 1.3 0.1 1.3 -0.4 1.4 -0.1 1.3 0.6 1.3 -0.4 1.4 -0.5 1.3 0.2 1.3 -0 1.4 -0.3 1.3 -0.3 1.3 -0.1 1.4 -0.7 1.3 -0 1.3 -0.6 1.4 0.4 1.3 0.9 1.3 0.6 1.4 -0.8 1.3 -0.4 1.4 -0.3 1.3 0.8 1.3 -0.8 1.4 -0 1.3 0.7 1.3 0.4 1.4 -0.2 1.3 -0.1 1.3 -0.4 1.4 0.1 1.3 0.9 1.3 0.1 1.4 -0.2 1.3 -0 1.3 0.2 1.4 -0 1.3 -0 1.3 0.1 1.4 -0.6 1.3 -0.2 1.3 0.1 1.4 -0.2 1.3 -0 1.3 -0.3 1.4 0.6 1.3 -0 1.3 -0 1.4 -0.1 1.3 -0.5 1.3 -0.1 1.4 0.4 1.3 0.9 1.3 -0 1.4 -0.4 1.3 -0.3 1.3 0.3 1.4 -0 1.3 -0.6 1.3 0.5 1.4 1 1.3 -0.1 1.3 0.6 1.4 -0.5 1.3 -0.7 1.3 0.2 1.4 0.4 1.3 0.5 1.3 0.4 1.4 -0.5 1.3 -0.6 1.3 0.5 1.4 0.4 1.3 0.8 1.4 -0.3 1.3 0 1.3 -0.1 1.4 -0.1 1.3 -0.1 1.3 -0.6 1.4 0.3 1.3 0.3 1.3 0.2 1.4 -0.3 1.3 -0.2 1.3 0.3 1.4 0.8 1.3 0.2 1.3 -0.5 1.4 -0.2 1.3 0 1.3 -0.5 1.4 0.3 1.3 0.9 1.3 -0.2 1.4 -0.2 1.3 -0.6 1.3 0.2 1.4 -0.2 1.3 0.3 1.3 -0.1 1.4 -0.2 1.3 0.6 1.3 -0.3 1.4 -0.3 1.3 0.2 1.3 0.3 1.4 -0.4 1.3 0.2 1.3 -0.3 1.4 0.7 1.3 -0.5 1.3 0.2 1.4 0.2 1.3 -0.3 1.3 -0.4 1.4 0.1 1.3 0.3 1.3 -0.5 1.4 -0.3 1.3 0.4 1.4 0.3 1.3 0 1.3 -0.2 1.4 -0.1 1.3 -0.4 1.3 -0.4 1.4 -0.1 1.3 0.5 1.3 0.4 1.4 -0.8 1.3 -0.7 1.3 0.6 1.4 0.5 1.3 -0.2 1.3 0.1 1.4 0.7 1.3 -0.9 1.3 0.3 1.4 0.7 1.3 0.2 1.3 -0.5 1.4 0.5 1.3 0.3 1.3 -0.9 1.4 -0.3 1.3 0.8 1.3 -0.4 1.4 -0.2 1.3 -0.4 1.3 0.7 1.4 -0.2 1.3 -0.3 1.3 -0.3 1.4 0.1 1.3 0.2 1.3 0 1.4 0 1.3 -0.1 1.3 0 1.4 0.1 1.3 0.5 1.3 -0.2 1.4 0.2 1.3 -0.1 1.3 0.1 1.4 0.3 1.3 -0.4 1.3 -0.1 1.4 -0.3 1.3 0.9 1.3 0.5 1.4 0 1.3 -0.2 1.4 -0.4 1.3 0.2 1.3 0.5 1.4 0.5 1.3 -0.2 1.3 -0.6 1.4 0.6 1.3 0.4 1.3 0.4 1.4 -0.1 1.3 -0.5 1.3 0.3 1.4 -0.3 1.3 0.2 1.3 0 1.4 0.3 1.3 -0.3 1.3 -0.3 1.4 0.2 1.3 -0.4 1.3 0.5 1.4 0.2 1.3 -0.1 1.3 -0.4 1.4 -0.4 1.3 -0.4 1.3 -0.3 1.4 0.3 1.3 -0.8 1.3 -0.2 1.4 0.4 1.3 -0.2 1.3 -0.7 1.4 0.4 1.3 0.3 1.3 -0.1 1.4 -0.1 1.3 -0.5 1.3 -0.1 1.4 -0.2 1.3 0.2 1.3 0 1.4 0.3 1.3 -0.3 1.3 0.1 1.4 -0.2 1.3 0.3 1.4 0 1.3 -0.2 1.3 0.6 1.4 0 1.3 0.3 1.3 0.3 1.4 0 1.3 -0.4 1.3 0.1 1.4 0.2 1.3 -0 1.3 -0.4 1.4 -0.1 1.3 0.8 1.3 -0 1.4 -0.2 1.3 -0 1.3 -0.2 1.4 -0.1 1.3 -0.2 1.3 0.1 1.4 0.6 1.3 -0.4 1.3 -0.3 1.4 0.3 1.3 0.5 1.3 -0.3 1.4 -0.4 1.3 -0.6 1.3 -0.1 1.4 -0 1.3 0.6 1.3 0.3 1.4 -0.7 1.3 -0.2 1.3 -0.7 1.4 0.3 1.3 0.4 1.3 -0.1 1.4 -0.4 1.3 -0.1 1.3 0.5 1.4 0.3 1.3 0.3 1.3 -0.4 1.4 -0.2 1.3 -0.2 1.3 1 1.4 0.3 1.3 0.1 1.3 0.2 1.4 -0.2 1.3 -0.2 1.4 0.5 1.3 -0.3 1.3 -0.2 1.4 -0.3 1.3 -0.3 1.3 0.3 1.4 0.9 1.3 -0.3 1.3 -0.2 1.4 -0 1.3 -0.3 1.3 -0.7 1.4 -0.6 1.3 -0 1.3 0.2 1.4 0.3 1.3 -0 1.3 -0.4 1.4 -0.3 1.3 -0.1 1.3 -0.7 1.4 -0.3 1.3 0.1 1.3 0.3 1.4 -0 1.3 -0.5 1.3 -0 1.4 0.7 1.3 -0.6 1.3 -0.4 1.4 -0 1.3 0.7 1.3 -0 1.4 -0 1.3 0.2 1.3 0.5 1.4 -0.2 1.3 -0.4 1.3 0.3 1.4 -0 1.3 0.5 1.3 -0.1 1.4 -0.7 1.3 0.2 1.3 0.1 1.4 -0.3 1.3 -0.1 1.4 0.6 1.3 -0 1.3 0.4 1.4 0.1 1.3 -0.3 1.3 -0.4 1.4 0.1 1.3 0.2 1.3 -0.3 1.4 -0.4 1.3 0.3 1.3 -0 1.4 -0.1 1.3 0.4 1.3 -0 1.4 0.4 1.3 0.1 1.3 -0.3 1.4 0.1 1.3 0.1 1.3 -0.1 1.4 0.6 1.3 -0.4 1.3 -0.2 1.4 0.2 1.3 0.4 1.3 -0.1 1.4 -0.5 1.3 0.6 1.3 0.5 1.4 -0.5 1.3 -0.6 1.3 -0.3 1.4 -0 1.3 0.4 1.3 0.4 1.4 -0.4 1.3 -0.3 1.3 -0.3 1.4 -0.2 1.3 0.7 1.3 -0.3 1.4 -1 1.3 0.3 1.3 0.2 1.4 -0.4 1.3 -0 1.3 0.1 1.4 0.1 1.3 -0 1.3 0.3"/><path id="r6" d="M1092.3 408.6l1.3 -6.6 1.3 -5.6 1.4 -2.3 1.3 -6.8 1.3 -1.7 1.4 -4 1.3 -3.6 1.3 -0.2 1.4 -0.7 1.3 -0.3 1.3 -0.2 1.4 -1.9 1.3 -0.8 1.3 0.8 1.4 2.5 1.3 -0.2 1.3 1 1.4 0 1.3 1 1.3 1.2 1.4 1.1 1.3 0.3 1.3 1 1.4 0.2 1.3 0 1.3 0.9 1.4 2.5 1.3 0.3 1.3 0.8 1.4 1 1.3 0.7 1.3 1.2 1.4 0 1.3 0.2 1.3 -1.5 1.4 0.7 1.3 0.7 1.3 0.1 1.4 0.6 1.3 0 1.3 0 1.4 1.2 1.3 -0.7 1.3 -1.2 1.4 0.1 1.3 0.3 1.4 -0.1 1.3 -1.5 1.3 0.2 1.4 -0.5 1.3 -0.3 1.3 0.1 1.4 -0.1 1.3 -0.9 1.3 -0.3 1.4 0.4 1.3 -0.3 1.3 -1.6 1.4 -0.5 1.3 0.4 1.3 -0.1 1.4 -0.7 1.3 0.4 1.3 0.6 1.4 -0.3 1.3 -0.1 1.3 0.2 1.4 0.1 1.3 0.8 1.3 -0.4 1.4 0.6 1.3 -0.1 1.3 -0.5 1.4 -0.1 1.3 0.7 1.3 0.8 1.4 -0.1 1.3 0.1 1.3 0 1.4 0.8 1.3 0.2 1.3 0 1.4 0.6 1.3 0.4 1.3 0.5 1.4 0.4 1.3 0.5 1.3 0.1 1.4 0.2 1.3 -0.5 1.3 -0.4 1.4 0.5 1.3 0.7 1.3 -0.2 1.4 -0.6 1.3 0.3 1.3 -0.1 1.4 -0.9 1.3 -0.3 1.4 -0.3 1.3 0.5 1.3 0 1.4 -0.4 1.3 0 1.3 -0.5 1.4 -0.6 1.3 0.1 1.3 -0.6 1.4 -0.2 1.3 0.3 1.3 -0.4 1.4 0.2 1.3 -0.5 1.3 -0.1 1.4 -0.9 1.3 0.7 1.3 0.3 1.4 0.4 1.3 -0.2 1.3 0.1 1.4 0 1.3 -0.5 1.3 -0.2 1.4 -0.1 1.3 0.1 1.3 0.4 1.4 -0.6 1.3 -0.4 1.3 0 1.4 0.4 1.3 -0.2 1.3 -0.7 1.4 -0.4 1.3 0.3 1.3 0.2 1.4 -0.3 1.3 -0.2 1.3 -0.5 1.4 -0.2 1.3 0.1 1.3 0 1.4 -0.2 1.3 -0.6 1.3 0.2 1.4 0.5 1.3 -0.3 1.4 -0.1 1.3 -0.2 1.3 -0.2 1.4 0.4 1.3 0.4 1.3 -0.1 1.4 -0.5 1.3 0.1 1.3 -0.3 1.4 0.2 1.3 -0.1 1.3 0.7 1.4 0 1.3 0 1.3 0.5 1.4 -0.1 1.3 0 1.3 0 1.4 0.1 1.3 -0.5 1.3 0.4 1.4 0.1 1.3 -0.3 1.3 0.6 1.4 0.4 1.3 0.5 1.3 0 1.4 0.2 1.3 -0.1 1.3 -0.3 1.4 0.2 1.3 0.6 1.3 -0.1 1.4 -0.6 1.3 -0.3 1.3 0.5 1.4 0.7 1.3 0.2 1.3 0 1.4 -0.5 1.3 -0.1 1.3 0.7 1.4 0.4 1.3 0.1 1.3 0.2 1.4 -0.1 1.3 -0.9 1.3 0.1 1.4 -0.1 1.3 -0.1 1.3 0.4 1.4 -0.1 1.3 -0.5 1.4 0.4 1.3 0.5 1.3 0 1.4 0.2 1.3 -0.3 1.3 -0.1 1.4 -0.5 1.3 -0.3 1.3 0.2 1.4 0.7 1.3 -0.3 1.3 0.5 1.4 0.2 1.3 -0.1 1.3 -0.2 1.4 0.1 1.3 0.3 1.3 0.7 1.4 -0.2 1.3 -0.1 1.3 0.4 1.4 -0.1 1.3 -0.1 1.3 1.1 1.4 0.3 1.3 -0.5 1.3 -0.5 1.4 0.8 1.3 0.3 1.3 -0.2 1.4 0.6 1.3 0.7 1.3 -0.4 1.4 -0.3 1.3 -0.3 1.3 -0.5 1.4 0.2 1.3 0.1 1.3 -0.4 1.4 -0.6 1.3 0.5 1.3 0.1 1.4 -0.2 1.3 -0.7 1.3 0.5 1.4 0.3 1.3 0.3 1.4 -0.1 1.3 -0.6 1.3 -0.1 1.4 0.3 1.3 0.3 1.3 0 1.4 0.8 1.3 -0.4 1.3 -0.3 1.4 0.4 1.3 -0.1 1.3 0.3 1.4 0.8 1.3 -0.9 1.3 0 1.4 -0.2 1.3 -0.4 1.3 0.7 1.4 0.5 1.3 -0.1 1.3 0.4 1.4 -0.4 1.3 0.2 1.3 0.2 1.4 0.6 1.3 0.2 1.3 -0.2 1.4 0.1 1.3 0.7 1.3 1 1.4 0 1.3 -0.6 1.3 0 1.4 0.3 1.3 -0.3 1.3 -0.5 1.4 -0.3 1.3 0 1.3 -0.3 1.4 0.1 1.3 -0.6 1.3 -0.5 1.4 0 1.3 0 1.3 0.7 1.4 -0.2 1.3 0.4 1.3 -0.6 1.4 -0.1 1.3 -0.3 1.3 0.1 1.4 0.3 1.3 0.2 1.4 -0.2 1.3 0.7 1.3 -0.3 1.4 -0.2 1.3 0.2 1.3 -0.4 1.4 -0.3 1.3 1.3 1.3 -0.5 1.4 -0.5 1.3 0.1 1.3 0.1 1.4 -0.4 1.3 -0.1 1.3 0.6 1.4 -0.3 1.3 0.2 1.3 0.2 1.4 -0.2 1.3 0.3 1.3 0.1 1.4 0.1 1.3 0.1 1.3 -0.1 1.4 0.1 1.3 0.2 1.3 -0.1 1.4 -0.5 1.3 -0.1 1.3 0.1 1.4 -0.1 1.3 -0.4 1.3 0.2 1.4 0.1 1.3 0 1.3 -0.4 1.4 -0.3 1.3 0.6 1.3 0.2 1.4 -0.8 1.3 0.5 1.3 -0.1 1.4 -0.7 1.3 0.8 1.3 0.6 1.4 -0.4 1.3 -0.1 1.4 0.2 1.3 0 1.3 -0.1 1.4 0.1 1.3 -0.1 1.3 -0.1 1.4 -0.1 1.3 -0.3 1.3 -0.2 1.4 0.3 1.3 0.1 1.3 0 1.4 0.2 1.3 0.3 1.3 0.1 1.4 0 1.3 -0.7 1.3 -0.3 1.4 -0.3 1.3 -0.2 1.3 1.3 1.4 0.3 1.3 -0.5 1.3 -0.3 1.4 0.6 1.3 -0.1 1.3 0 1.4 0.5 1.3 0.2 1.3 0.4 1.4 0.6 1.3 -0.4 1.3 -0.2 1.4 -0.1 1.3 -0.1 1.3 0.1 1.4 0 1.3 -0.5 1.3 -0.3 1.4 -0.6 1.3 0.1 1.3 0 1.4 -0.6 1.3 0.5 1.3 0.3 1.4 -0.5 1.3 -0.5 1.3 0.8 1.4 -0.1 1.3 -0.7 1.3 0.1 1.4 0.2 1.3 0 1.4 0.1 1.3 -0.7 1.3 0.2 1.4 0 1.3 -0.1 1.3 0.3 1.4 -0.5 1.3 -0.1 1.3 -0.1 1.4 -0.2 1.3 -0.9 1.3 0.1 1.4 0.3 1.3 -0.6 1.3 -0.4 1.4 0.2 1.3 -0.2 1.3 0.1 1.4 0 1.3 0.4 1.3 -0.1 1.4 0.6 1.3 0.1 1.3 0.3 1.4 -0.1 1.3 0.2 1.3 -0.1 1.4 0.2 1.3 -0.2 1.3 -0.2 1.4 0.6 1.3 0.1 1.3 -0.5 1.4 0.5 1.3 0.4 1.3 0.5 1.4 0.1 1.3 -0.3 1.3 -0.2 1.4 0.5 1.3 -0.6 1.3 0.1 1.4 0.2 1.3 -0.2 1.3 -0.1 1.4 0.3 1.3 -0.2 1.4 -1.3 1.3 0.6 1.3 0.8 1.4 -0.5 1.3 -0.2 1.3 -0.3 1.4 0 1.3 0.4 1.3 0.3 1.4 -0.1 1.3 -0.3 1.3 -0.2 1.4 -0.3 1.3 -0.4 1.3 0.4 1.4 0.1 1.3 0.3 1.3 -0.1 1.4 -0.9 1.3 0.2 1.3 0.3 1.4 0.1 1.3 -0.5 1.3 -0.4 1.4 0.1 1.3 0.6 1.3 -0.1 1.4 -0.3 1.3 -0.1 1.3 -0.2 1.4 0.6 1.3 0.6 1.3 -0.2 1.4 -0.6 1.3 -0.6 1.3 0.1 1.4 0.7 1.3 0.3 1.3 0.1 1.4 -0.2 1.3 0.1 1.3 -0.1 1.4 -0.4 1.3 0.4 1.3 -0.1 1.4 -0.5 1.3 0.4 1.3 0.1 1.4 0.4 1.3 -0.1 1.3 -0.3"/><path id="r7" d="M1092.3 427.4l1.3 -2.1 1.3 1.4 1.4 -1.8 1.3 -2.5 1.3 -0.7 1.4 0.4 1.3 -0.3 1.3 -1.6 1.4 -1.2 1.3 1.5 1.3 1 1.4 -0.7 1.3 0.3 1.3 1.1 1.4 -0.3 1.3 -1 1.3 0.4 1.4 0.4 1.3 -1.1 1.3 0.3 1.4 -0.6 1.3 0.1 1.3 1.6 1.4 -1.5 1.3 -0.4 1.3 0 1.4 0.3 1.3 -0.8 1.3 -1.4 1.4 0.1 1.3 1.1 1.3 1.1 1.4 -0.6 1.3 0.2 1.3 -0.7 1.4 0.4 1.3 -0.1 1.3 0.7 1.4 1.1 1.3 0.4 1.3 -0.4 1.4 0.5 1.3 0.4 1.3 0.3 1.4 0.9 1.3 1 1.4 -0.3 1.3 0.7 1.3 -0.6 1.4 -0.6 1.3 0.2 1.3 0 1.4 -0.3 1.3 0.3 1.3 0.9 1.4 0.2 1.3 -0.3 1.3 0 1.4 0.2 1.3 0.1 1.3 -0.4 1.4 0.4 1.3 0.2 1.3 -0.8 1.4 0.4 1.3 1.3 1.3 -0.3 1.4 0.8 1.3 0.4 1.3 0.8 1.4 -0.6 1.3 -0.5 1.3 -0.5 1.4 0.2 1.3 0.9 1.3 -0.1 1.4 0 1.3 0.3 1.3 -0.8 1.4 0.2 1.3 0.6 1.3 0.1 1.4 0.5 1.3 -0.4 1.3 0.3 1.4 0.4 1.3 0.5 1.3 0.2 1.4 0.4 1.3 -0.2 1.3 0.4 1.4 0.9 1.3 0.5 1.3 0.4 1.4 0.4 1.3 -0.5 1.3 -0.4 1.4 -0.4 1.3 -0.5 1.4 -0.1 1.3 0.7 1.3 -0.4 1.4 -0.6 1.3 0.2 1.3 0.1 1.4 -1.3 1.3 -0.4 1.3 0.7 1.4 -0.1 1.3 0.4 1.3 -0.5 1.4 0.4 1.3 0.6 1.3 0.2 1.4 -0.8 1.3 -0.5 1.3 0.3 1.4 -0.1 1.3 0.4 1.3 0.1 1.4 -0.1 1.3 -1.2 1.3 0.2 1.4 0.7 1.3 0 1.3 0.2 1.4 -0.3 1.3 0.3 1.3 0.1 1.4 -0.1 1.3 0.3 1.3 0.2 1.4 0.6 1.3 -0.3 1.3 -0.1 1.4 0.4 1.3 -0.3 1.3 -0.3 1.4 0.7 1.3 0.2 1.3 -0.1 1.4 -1.1 1.3 0.1 1.3 0.7 1.4 0.5 1.3 -0.2 1.4 -0.7 1.3 -0.1 1.3 0.1 1.4 -0.4 1.3 -0.1 1.3 0.3 1.4 -0.3 1.3 -0.1 1.3 0 1.4 -0.8 1.3 0.8 1.3 0.3 1.4 -0.2 1.3 0.5 1.3 -0.7 1.4 0.7 1.3 0.5 1.3 -0.6 1.4 -0.3 1.3 -0.1 1.3 0.5 1.4 -0.4 1.3 -0.5 1.3 -0.1 1.4 -0.3 1.3 -0.3 1.3 0.3 1.4 0.9 1.3 -0.4 1.3 0 1.4 0.1 1.3 -0.4 1.3 -0.4 1.4 0.1 1.3 -0.1 1.3 0.4 1.4 -0.1 1.3 -0.5 1.3 0.1 1.4 -0.4 1.3 0.8 1.3 0 1.4 0.2 1.3 0.2 1.3 -0.5 1.4 -0.4 1.3 0.1 1.3 1 1.4 -0.2 1.3 0.4 1.3 -0.8 1.4 -0.8 1.3 -0.1 1.4 0.5 1.3 0.7 1.3 0.5 1.4 -0.5 1.3 -0.4 1.3 -0.3 1.4 -0.1 1.3 0.5 1.3 -0.5 1.4 -0.5 1.3 1 1.3 -0.1 1.4 -0.6 1.3 0.1 1.3 -0.1 1.4 -0.5 1.3 -0.5 1.3 0.1 1.4 0.2 1.3 0.1 1.3 -0.3 1.4 0.8 1.3 0.3 1.3 -0.5 1.4 -0.3 1.3 -0.2 1.3 0.6 1.4 -0.6 1.3 -0.4 1.3 0 1.4 0.6 1.3 0.3 1.3 -0.5 1.4 -0.8 1.3 0.5 1.3 0.1 1.4 -0.3 1.3 0.1 1.3 0.4 1.4 -0.2 1.3 0.1 1.3 0.8 1.4 -0.1 1.3 -0.9 1.3 -0.4 1.4 0.2 1.3 0.3 1.4 -0.1 1.3 0.6 1.3 0.5 1.4 -0.2 1.3 0.1 1.3 -0.1 1.4 0.2 1.3 -0.1 1.3 -0.5 1.4 -0.5 1.3 0 1.3 0.3 1.4 0.1 1.3 0.4 1.3 -0.6 1.4 -0.1 1.3 -0.2 1.3 0.4 1.4 -0.3 1.3 0 1.3 -0.2 1.4 0.3 1.3 -0.3 1.3 0.2 1.4 0.1 1.3 -0.1 1.3 -0.2 1.4 -0.1 1.3 0.6 1.3 0.1 1.4 0.4 1.3 0.3 1.3 -0.4 1.4 0.5 1.3 -0.2 1.3 -0.2 1.4 0.3 1.3 -0.4 1.3 0.4 1.4 -0.2 1.3 -0.4 1.3 0 1.4 0.6 1.3 0.4 1.3 0.2 1.4 -0.1 1.3 -0.4 1.3 -0.4 1.4 -0.4 1.3 -0.1 1.3 -0.1 1.4 0.1 1.3 0.2 1.4 0 1.3 0.2 1.3 0.2 1.4 0.1 1.3 0.1 1.3 0 1.4 -0.4 1.3 0.2 1.3 0.4 1.4 0.3 1.3 0.3 1.3 0.3 1.4 0 1.3 -0.5 1.3 0.2 1.4 -0.1 1.3 0.1 1.3 -0.4 1.4 -0.2 1.3 0.5 1.3 -0.4 1.4 0.1 1.3 0.6 1.3 0.1 1.4 -0.3 1.3 -0.5 1.3 0 1.4 -0.2 1.3 0.3 1.3 0 1.4 -0.1 1.3 -0.2 1.3 0.2 1.4 -0.3 1.3 0.2 1.3 0.2 1.4 0.1 1.3 -0.6 1.3 -0.6 1.4 0.3 1.3 0.3 1.3 -0.1 1.4 0.1 1.3 0.1 1.3 0 1.4 0.7 1.3 0.2 1.4 -0.3 1.3 0.1 1.3 0.2 1.4 0 1.3 0.4 1.3 0 1.4 -0.1 1.3 -0.2 1.3 -0.5 1.4 -0.6 1.3 0 1.3 -0.1 1.4 -0.3 1.3 -0.2 1.3 0 1.4 -0.3 1.3 0.4 1.3 0 1.4 0.3 1.3 0 1.3 0.4 1.4 -0.3 1.3 0.3 1.3 0.6 1.4 -0.4 1.3 0.8 1.3 -0.2 1.4 -0.6 1.3 0 1.3 0.7 1.4 0 1.3 0.1 1.3 -0.2 1.4 -0.3 1.3 -0.1 1.3 -0.1 1.4 -0.5 1.3 -0.1 1.3 0.4 1.4 -0.2 1.3 -0.2 1.3 0.2 1.4 -0.6 1.3 -0.2 1.3 -0.4 1.4 0.3 1.3 -0.5 1.3 0.1 1.4 0.3 1.3 0 1.3 0.2 1.4 0.3 1.3 0.2 1.4 0.1 1.3 0.3 1.3 -0.2 1.4 -0.1 1.3 0.1 1.3 0.3 1.4 0.1 1.3 -0.6 1.3 -0.1 1.4 0.2 1.3 -0.5 1.3 -0.1 1.4 -0.3 1.3 -0.1 1.3 0.2 1.4 0 1.3 0 1.3 -0.4 1.4 0.4 1.3 0.5 1.3 0.7 1.4 -0.4 1.3 0.3 1.3 0.4 1.4 0.3 1.3 0.1 1.3 0 1.4 0.2 1.3 0.2 1.3 0.2 1.4 -0.1 1.3 0.2 1.3 -0.6 1.4 0.5 1.3 0.4 1.3 -0.3 1.4 0.3 1.3 -0.2 1.3 -0.3 1.4 -0.3 1.3 -0.2 1.3 0.4 1.4 0 1.3 0.5 1.3 0.1 1.4 -0.4 1.3 -0.1 1.4 0.2 1.3 0.1 1.3 -0.3 1.4 -0.1 1.3 0 1.3 0.1 1.4 0.6 1.3 -0.1 1.3 0 1.4 -0.5 1.3 0.1 1.3 0.1 1.4 -0.4 1.3 -0.2 1.3 0.1 1.4 0.1 1.3 -0.5 1.3 -0.2 1.4 0.2 1.3 -0.1 1.3 0.3 1.4 0.2 1.3 -0.2 1.3 0.2 1.4 0 1.3 0.3 1.3 0.2 1.4 -0.3 1.3 0.2 1.3 0.3 1.4 0 1.3 -0.2 1.3 0.2 1.4 -0.9 1.3 -0.2 1.3 -0.1 1.4 0 1.3 0.3 1.3 0.1 1.4 -0.2 1.3 0 1.3 0.1 1.4 -0.2 1.3 0.6 1.3 0 1.4 -0.7 1.3 0.2 1.3 0.5 1.4 -0.9 1.3 0 1.3 -0.2"/><path id="r8" d="M1092.3 450.2l1.3 -1.6 1.3 -5.8 1.4 3.4 1.3 0.3 1.3 -0.1 1.4 0.4 1.3 -0.1 1.3 0.7 1.4 0.5 1.3 -0.4 1.3 -0.2 1.4 1.4 1.3 0 1.3 0 1.4 -0.1 1.3 0.8 1.3 -0.8 1.4 -0.2 1.3 -0.2 1.3 -0.4 1.4 -0.5 1.3 0.5 1.3 0.6 1.4 -0.1 1.3 0.2 1.3 0.7 1.4 -0.3 1.3 0.4 1.3 -0.2 1.4 -0.9 1.3 1 1.3 0.4 1.4 -0.2 1.3 -0.9 1.3 -0.8 1.4 -0.7 1.3 0.1 1.3 0.1 1.4 -0.9 1.3 -0.5 1.3 -0.1 1.4 -1 1.3 0.6 1.3 0.3 1.4 0 1.3 -1.1 1.4 -0.2 1.3 0.3 1.3 -0.3 1.4 0.8 1.3 -0.6 1.3 0.5 1.4 0.3 1.3 0.6 1.3 -0.3 1.4 0.9 1.3 0.8 1.3 -0.7 1.4 0.1 1.3 0.7 1.3 -1.1 1.4 0.1 1.3 0 1.3 -0.7 1.4 0.4 1.3 0.2 1.3 -0.2 1.4 -0.4 1.3 -0.8 1.3 -0.6 1.4 -0.3 1.3 0.3 1.3 -0.3 1.4 -0.1 1.3 -0.7 1.3 -0.4 1.4 0.4 1.3 -0.4 1.3 -0.5 1.4 0.5 1.3 -1 1.3 -0.8 1.4 -0.1 1.3 0.1 1.3 0 1.4 -0.3 1.3 0.1 1.3 0.5 1.4 -0.4 1.3 -0.2 1.3 -0.4 1.4 0.6 1.3 0.5 1.3 0.5 1.4 0.1 1.3 -1.1 1.3 -0.5 1.4 0.5 1.3 -0.2 1.4 -0.2 1.3 -0.3 1.3 0.1 1.4 -0.2 1.3 0.1 1.3 -0.2 1.4 -0.7 1.3 0.5 1.3 -0.3 1.4 0.1 1.3 -0.3 1.3 0.4 1.4 0.1 1.3 0.3 1.3 0.1 1.4 0.1 1.3 -0.2 1.3 -0.8 1.4 0.3 1.3 0.4 1.3 0.1 1.4 -0 1.3 0.1 1.3 -0 1.4 -0.3 1.3 -0.2 1.3 0.3 1.4 -0.2 1.3 -0 1.3 0.1 1.4 0.4 1.3 -0.8 1.3 0.5 1.4 0.5 1.3 0.2 1.3 -0.7 1.4 -0.6 1.3 0.7 1.3 0.3 1.4 -0.2 1.3 -0.1 1.3 -1.1 1.4 -0.2 1.3 0.5 1.3 -0.2 1.4 -0.5 1.3 0.4 1.4 -0.4 1.3 -0.7 1.3 -0 1.4 -0.3 1.3 0.1 1.3 0.1 1.4 -0.2 1.3 -0.1 1.3 -0.3 1.4 -0 1.3 0.4 1.3 0.4 1.4 0.7 1.3 -0 1.3 -1 1.4 0.6 1.3 0.5 1.3 0.3 1.4 0.3 1.3 -0.2 1.3 -1.1 1.4 0.1 1.3 1.2 1.3 -0.3 1.4 0.1 1.3 0.1 1.3 -0.4 1.4 0.3 1.3 0.1 1.3 -0.5 1.4 0.4 1.3 -0 1.3 -0.4 1.4 -0.1 1.3 0.2 1.3 -0.5 1.4 -0.2 1.3 -0 1.3 0.5 1.4 0.9 1.3 -0.1 1.3 -0.1 1.4 0.3 1.3 -0.1 1.3 -0.9 1.4 -0.2 1.3 -0.2 1.3 0.1 1.4 -0.6 1.3 0.2 1.3 0.5 1.4 -0.7 1.3 -0 1.4 -0.3 1.3 0.8 1.3 0.3 1.4 -0.6 1.3 0.2 1.3 -0.4 1.4 -0.5 1.3 0.8 1.3 -0 1.4 -0.1 1.3 -0.2 1.3 -0 1.4 -0.6 1.3 0.7 1.3 0.9 1.4 -0.3 1.3 -0.1 1.3 -0.7 1.4 -0.4 1.3 -0.1 1.3 0.2 1.4 0.4 1.3 -0 1.3 -0.5 1.4 0.5 1.3 0.1 1.3 -0.1 1.4 -0 1.3 0.4 1.3 0.6 1.4 -0.7 1.3 -0.2 1.3 0.6 1.4 0.1 1.3 0.2 1.3 -0.2 1.4 0.2 1.3 -0.2 1.3 0.3 1.4 0.3 1.3 -0.7 1.3 -0.3 1.4 0.3 1.3 0.1 1.3 -0.1 1.4 0.1 1.3 0.4 1.4 0.5 1.3 -0.5 1.3 -0.7 1.4 0.8 1.3 0.2 1.3 -0.1 1.4 0.3 1.3 0.8 1.3 0.6 1.4 0.2 1.3 0.1 1.3 1 1.4 -0.2 1.3 0.3 1.3 -0.5 1.4 -0.8 1.3 0.3 1.3 1.1 1.4 0.3 1.3 -0.5 1.3 0.3 1.4 -0 1.3 -0.5 1.3 0.1 1.4 -0 1.3 0.4 1.3 -0.8 1.4 -0.1 1.3 0.2 1.3 -0.3 1.4 0.2 1.3 0.1 1.3 -0.1 1.4 0.1 1.3 -0.3 1.3 -0.1 1.4 0.4 1.3 -0.1 1.3 -0.6 1.4 -0.2 1.3 -0.3 1.3 0.3 1.4 -0.1 1.3 -0.4 1.3 0.6 1.4 -0 1.3 -0.7 1.3 0.5 1.4 0.2 1.3 0.4 1.3 -0.8 1.4 0.5 1.3 0.5 1.4 -0.5 1.3 0.2 1.3 -0.1 1.4 -0 1.3 0.5 1.3 0.3 1.4 -0 1.3 -0.2 1.3 0.4 1.4 0.4 1.3 -0.2 1.3 -0 1.4 0.4 1.3 -0.2 1.3 0.3 1.4 -0.4 1.3 0.1 1.3 -0.1 1.4 0.5 1.3 0.3 1.3 -0 1.4 -0.6 1.3 -0 1.3 -0.6 1.4 -0.7 1.3 0.1 1.3 0.6 1.4 -0 1.3 0.1 1.3 -0.3 1.4 0.3 1.3 0.3 1.3 -0.4 1.4 0.3 1.3 0.6 1.3 -0.9 1.4 0.4 1.3 0.6 1.3 -0 1.4 0.1 1.3 -0.3 1.3 -0.2 1.4 -0.1 1.3 -0.4 1.3 0.6 1.4 -0.7 1.3 -0.4 1.4 -0 1.3 0.7 1.3 0.6 1.4 -0.4 1.3 -0.4 1.3 -0.5 1.4 0.2 1.3 -0.4 1.3 -0 1.4 0.9 1.3 -0.7 1.3 -0 1.4 -1.2 1.3 0.2 1.3 0.2 1.4 -0.2 1.3 0.6 1.3 0.3 1.4 -0.4 1.3 -0.1 1.3 0.1 1.4 -0.4 1.3 -0 1.3 0.8 1.4 1 1.3 0.2 1.3 -0.1 1.4 -0 1.3 0.3 1.3 -0.1 1.4 0.6 1.3 0.4 1.3 -0.1 1.4 -0.4 1.3 -0.2 1.3 0.2 1.4 -0.2 1.3 -0.3 1.3 -0.3 1.4 -0 1.3 0.5 1.3 -0.7 1.4 -0.8 1.3 0.1 1.3 -0.2 1.4 -0.5 1.3 -0.3 1.3 0.4 1.4 -0.3 1.3 0.2 1.3 -0 1.4 0.2 1.3 -0.2 1.4 -0.1 1.3 0.4 1.3 0.1 1.4 0.4 1.3 -0.4 1.3 -0.1 1.4 0.3 1.3 0.5 1.3 -0.4 1.4 0.1 1.3 -0 1.3 -0.2 1.4 0.1 1.3 0.3 1.3 0.2 1.4 -0 1.3 -0 1.3 -0.1 1.4 -0.4 1.3 0.8 1.3 -0 1.4 -0.3 1.3 -0.3 1.3 -0.2 1.4 0.4 1.3 -0 1.3 -0.4 1.4 -0.2 1.3 -0.2 1.3 -0 1.4 -0.5 1.3 0.2 1.3 0.4 1.4 -0.4 1.3 -0.2 1.3 0.8 1.4 -0.3 1.3 -0.3 1.3 0.3 1.4 0.2 1.3 0.2 1.3 -0.6 1.4 0.1 1.3 0.7 1.3 0.5 1.4 -0.3 1.3 -0.1 1.4 -0.1 1.3 0.4 1.3 -0 1.4 0.2 1.3 -0 1.3 -0.2 1.4 -0 1.3 -0.4 1.3 0.2 1.4 -0 1.3 -0.3 1.3 0.4 1.4 0.3 1.3 0.4 1.3 -0 1.4 -0.7 1.3 -0.3 1.3 0.8 1.4 -0 1.3 -0.3 1.3 -0 1.4 -0.1 1.3 0.5 1.3 0.1 1.4 -0.9 1.3 -0 1.3 0.2 1.4 -0.3 1.3 -0.1 1.3 -0.5 1.4 -0.3 1.3 -0.1 1.3 -0.5 1.4 0.2 1.3 -0.3 1.3 0.5 1.4 0.2 1.3 0.1 1.3 -0.5 1.4 -0.3 1.3 0.1 1.3 0.1 1.4 0.3 1.3 0.5 1.3 -0.2 1.4 0.3 1.3 -0.1 1.3 0.6 1.4 -0.4 1.3 0.3 1.3 -0.1"/><path id="r9" d="M1092.3 468.5l1.3 -5.5 1.3 -8.1 1.4 -5.6 1.3 -1.9 1.3 -3.6 1.4 3.9 1.3 1.3 1.3 1.4 1.4 0.9 1.3 1.5 1.3 0.4 1.4 1.8 1.3 0.8 1.3 -0.4 1.4 -0.5 1.3 1.7 1.3 2 1.4 -1.2 1.3 1.2 1.3 1.5 1.4 -0.3 1.3 1.5 1.3 1.8 1.4 1.5 1.3 1.2 1.3 0.6 1.4 -0.3 1.3 -1.9 1.3 -0.2 1.4 -1.4 1.3 -0.7 1.3 -1.1 1.4 -1.2 1.3 -1.3 1.3 0.4 1.4 0.8 1.3 -0.6 1.3 -0.3 1.4 0.9 1.3 0.5 1.3 0 1.4 0.5 1.3 1.4 1.3 0.4 1.4 0.1 1.3 0.2 1.4 -0.8 1.3 0.2 1.3 0.6 1.4 0.6 1.3 1.2 1.3 -0.6 1.4 0.2 1.3 0.4 1.3 -0.8 1.4 0.4 1.3 0.8 1.3 0 1.4 -0.3 1.3 0.4 1.3 0.4 1.4 -0.5 1.3 1 1.3 1.5 1.4 0.2 1.3 0.1 1.3 -0.7 1.4 0.2 1.3 1.1 1.3 0 1.4 -0.1 1.3 0.7 1.3 -1 1.4 1 1.3 0.9 1.3 -0.4 1.4 0.5 1.3 -0.1 1.3 -0.1 1.4 -0.8 1.3 -0.6 1.3 -0.7 1.4 0.2 1.3 -0.3 1.3 -0.3 1.4 -0.1 1.3 -0.7 1.3 -0.8 1.4 0.2 1.3 0.3 1.3 -0.3 1.4 0.4 1.3 0 1.3 -0.7 1.4 0 1.3 0.8 1.3 0 1.4 -0.4 1.3 0.3 1.4 0 1.3 -0.6 1.3 -0.1 1.4 -0.5 1.3 -0.2 1.3 -0.5 1.4 -0.8 1.3 -0.2 1.3 0.2 1.4 -0.4 1.3 -0.1 1.3 -0.4 1.4 -0.6 1.3 0.2 1.3 -0.2 1.4 0.7 1.3 -1.2 1.3 -0.2 1.4 0.2 1.3 -0.6 1.3 0.5 1.4 -0.2 1.3 -0.8 1.3 0.1 1.4 0.5 1.3 0.6 1.3 0.5 1.4 1.4 1.3 0.7 1.3 0 1.4 0.3 1.3 -0.3 1.3 -0.4 1.4 0.6 1.3 0 1.3 -0.1 1.4 -0.3 1.3 0 1.3 0.2 1.4 -0.3 1.3 -0.1 1.3 -0.4 1.4 0 1.3 0.4 1.3 0.3 1.4 0.9 1.3 -0.7 1.4 0.5 1.3 0.2 1.3 0.4 1.4 0.3 1.3 0.7 1.3 0.2 1.4 -0.1 1.3 0.5 1.3 0.5 1.4 -0.3 1.3 -0.4 1.3 1 1.4 0.5 1.3 0.2 1.3 0.2 1.4 0 1.3 -0.1 1.3 -0.1 1.4 -0.1 1.3 -0.2 1.3 -0.6 1.4 0.9 1.3 0.7 1.3 -0.9 1.4 -0.1 1.3 0.2 1.3 0 1.4 0.6 1.3 -0.3 1.3 -0.4 1.4 0.2 1.3 -0.2 1.3 -0.1 1.4 0 1.3 0.3 1.3 -0.3 1.4 0.6 1.3 0.1 1.3 -0.6 1.4 0.6 1.3 0.5 1.3 0.1 1.4 0.1 1.3 -0.4 1.3 -0.4 1.4 0 1.3 0.2 1.3 -0.2 1.4 -0.7 1.3 -0.2 1.3 0 1.4 0 1.3 0.3 1.4 0 1.3 -0.8 1.3 0.3 1.4 0.3 1.3 -0.4 1.3 -1.3 1.4 0.2 1.3 0.1 1.3 -0.3 1.4 -0.2 1.3 -0.3 1.3 -0.1 1.4 0.2 1.3 0.1 1.3 0.1 1.4 -0.3 1.3 -0.4 1.3 -0.7 1.4 0.5 1.3 -0.2 1.3 0.2 1.4 -0.4 1.3 0.3 1.3 0.5 1.4 0.4 1.3 -0.1 1.3 -0.2 1.4 0.4 1.3 -0.5 1.3 -0.1 1.4 -0.4 1.3 0.3 1.3 1 1.4 -0.6 1.3 -0.5 1.3 0.1 1.4 0.1 1.3 -0.1 1.3 -0.5 1.4 0.5 1.3 -0.2 1.3 0.4 1.4 0.4 1.3 -0.5 1.3 -0.8 1.4 -0.9 1.3 0.7 1.4 -0.3 1.3 0 1.3 0.2 1.4 0 1.3 -0.1 1.3 -0.1 1.4 0.3 1.3 -0.1 1.3 -0.6 1.4 0 1.3 0.4 1.3 0.5 1.4 -0.3 1.3 -0.2 1.3 0.8 1.4 -0.6 1.3 -0.3 1.3 0.3 1.4 0.5 1.3 -0.2 1.3 -0.4 1.4 -0.8 1.3 0.8 1.3 0.4 1.4 -0.3 1.3 0.4 1.3 0 1.4 -0.6 1.3 -0.2 1.3 0.1 1.4 -0.3 1.3 0 1.3 0.5 1.4 -0.4 1.3 -0.2 1.3 0.1 1.4 -0.5 1.3 0.3 1.3 -0.1 1.4 -0.3 1.3 0.1 1.3 -0.7 1.4 0.2 1.3 -0.4 1.3 -0.4 1.4 0.2 1.3 -0.5 1.3 0.5 1.4 0.4 1.3 0 1.3 -0.3 1.4 0.6 1.3 0 1.4 -0.2 1.3 0.2 1.3 -0.6 1.4 0 1.3 0.9 1.3 0.1 1.4 -0.1 1.3 -0.7 1.3 0 1.4 -0.7 1.3 0 1.3 0.6 1.4 0.3 1.3 0.1 1.3 0 1.4 -0.7 1.3 -0.2 1.3 0.5 1.4 0 1.3 0.3 1.3 0 1.4 -0.5 1.3 0.3 1.3 0.2 1.4 -0.2 1.3 0.4 1.3 0.1 1.4 0.2 1.3 0.1 1.3 0.2 1.4 -0.3 1.3 0.3 1.3 0.2 1.4 -0.2 1.3 0 1.3 0.1 1.4 0.6 1.3 0.3 1.3 -0.9 1.4 -0.4 1.3 -0.6 1.3 0.4 1.4 0 1.3 0.1 1.3 0.5 1.4 0.4 1.3 0.3 1.4 -0.4 1.3 -0.2 1.3 0.3 1.4 0.1 1.3 -0.1 1.3 1 1.4 0 1.3 -0.7 1.3 -0.7 1.4 0.1 1.3 0.3 1.3 -0.9 1.4 -0.2 1.3 0.2 1.3 0.2 1.4 -0.1 1.3 -0.5 1.3 0.2 1.4 0 1.3 0 1.3 -0.6 1.4 0.4 1.3 0 1.3 0.6 1.4 0.6 1.3 -0.5 1.3 0.1 1.4 -0.3 1.3 0.6 1.3 0.2 1.4 0.1 1.3 -0.6 1.3 0.2 1.4 0.6 1.3 -0.1 1.3 -1 1.4 -0.1 1.3 -0.2 1.3 0.1 1.4 0.4 1.3 -0.4 1.3 -0.4 1.4 -0.6 1.3 0.5 1.3 0.3 1.4 0.2 1.3 -0.4 1.3 -0.2 1.4 -0.5 1.3 -0.2 1.3 0.5 1.4 -0.6 1.3 -0.1 1.4 0.6 1.3 0.5 1.3 0 1.4 -0.1 1.3 -0.1 1.3 -0.1 1.4 0.7 1.3 -0.2 1.3 0.3 1.4 0.6 1.3 -0.5 1.3 -0.1 1.4 0.5 1.3 -0.4 1.3 -0.4 1.4 0.7 1.3 0.7 1.3 -0.2 1.4 0.1 1.3 0.1 1.3 0.6 1.4 0.1 1.3 0 1.3 0.2 1.4 -0.4 1.3 -0.2 1.3 0.3 1.4 -0.3 1.3 0.1 1.3 0.3 1.4 0.5 1.3 0.1 1.3 0.1 1.4 0.2 1.3 -0.7 1.3 -0.3 1.4 0.1 1.3 0.4 1.3 -0.4 1.4 0 1.3 0 1.3 0.4 1.4 0.3 1.3 0.2 1.3 -0.5 1.4 -0.1 1.3 -0.4 1.4 0.2 1.3 0.3 1.3 0 1.4 0.7 1.3 -0.6 1.3 -0.3 1.4 0.3 1.3 -0.1 1.3 -0.7 1.4 -0.5 1.3 0.7 1.3 -0.3 1.4 -0.6 1.3 -0.5 1.3 -0.2 1.4 0.3 1.3 -0.5 1.3 0 1.4 0.1 1.3 0.1 1.3 -0.2 1.4 0.1 1.3 -0.1 1.3 0.1 1.4 1 1.3 -0.1 1.3 -0.1 1.4 0 1.3 -0.2 1.3 0.1 1.4 0.2 1.3 -0.2 1.3 0.1 1.4 0.1 1.3 0 1.3 0.1 1.4 0.1 1.3 0.4 1.3 0.1 1.4 -0.8 1.3 0.1 1.3 0.4 1.4 0.7 1.3 0.4 1.3 -0.3 1.4 -0.4 1.3 -0.7 1.3 -0.1 1.4 -0.1 1.3 0.8 1.3 0.3"/><path id="r10" d="M1092.3 542.3l1.3 -16.7 1.3 -1.3 1.4 0.6 1.3 -2.8 1.3 1 1.4 3 1.3 4.4 1.3 5.7 1.4 4.2 1.3 1.6 1.3 1.9 1.4 5.7 1.3 5 1.3 3.5 1.4 2.1 1.3 0.7 1.3 -0.2 1.4 -0.6 1.3 -1.8 1.3 -1.7 1.4 -0.8 1.3 1.1 1.3 -0.4 1.4 0.4 1.3 1.1 1.3 0.9 1.4 0.8 1.3 -0.6 1.3 1.5 1.4 1 1.3 -0.4 1.3 -0.5 1.4 -0.2 1.3 1.1 1.3 -0.2 1.4 -1.6 1.3 -0.4 1.3 0.8 1.4 -1.5 1.3 0.3 1.3 0 1.4 -1 1.3 1.6 1.3 -0.5 1.4 -0.7 1.3 0.2 1.4 -1.4 1.3 -1.1 1.3 0.3 1.4 -0.1 1.3 -0.7 1.3 -0.5 1.4 0.3 1.3 -0.7 1.3 0 1.4 0.2 1.3 0.3 1.3 0.2 1.4 -0.6 1.3 -0.1 1.3 -0.3 1.4 -1.1 1.3 0.3 1.3 2 1.4 -1.1 1.3 -0.2 1.3 0.9 1.4 -0.5 1.3 0 1.3 0.2 1.4 0.2 1.3 -0.5 1.3 0.1 1.4 -0.1 1.3 -0.1 1.3 0.4 1.4 1.3 1.3 0.5 1.3 -0.9 1.4 -0.8 1.3 0.5 1.3 0.4 1.4 0.7 1.3 -0.3 1.3 -0.9 1.4 0.1 1.3 0.5 1.3 -0.5 1.4 0.2 1.3 0.2 1.3 -0.8 1.4 0.1 1.3 -0.5 1.3 -0.3 1.4 -0.3 1.3 -0 1.3 0.4 1.4 0.3 1.3 0.4 1.4 -0.6 1.3 -0.5 1.3 -0.4 1.4 -0.1 1.3 -0.6 1.3 0.6 1.4 0.7 1.3 -1.4 1.3 -0 1.4 0.3 1.3 -1 1.3 -0.2 1.4 -0.1 1.3 0.2 1.3 -0.8 1.4 -1.5 1.3 -0 1.3 0.3 1.4 0.3 1.3 -1.1 1.3 -1 1.4 -0.1 1.3 0.6 1.3 -0.3 1.4 -0.8 1.3 -0.2 1.3 -0.6 1.4 0.5 1.3 0.3 1.3 -0.2 1.4 -0.3 1.3 -0.1 1.3 -0.8 1.4 -0.3 1.3 1 1.3 0.3 1.4 -0.6 1.3 0.3 1.3 0.3 1.4 -0.4 1.3 0.7 1.3 0.2 1.4 0.2 1.3 0.5 1.3 0.1 1.4 0.2 1.3 -0 1.4 -0.4 1.3 0.1 1.3 0.9 1.4 -0.4 1.3 -0.3 1.3 -0.2 1.4 -0.3 1.3 0.7 1.3 -0.1 1.4 0.4 1.3 0.4 1.3 -0.5 1.4 -0.4 1.3 -0.7 1.3 -0.1 1.4 -0.1 1.3 0.4 1.3 0.1 1.4 0.7 1.3 -0.1 1.3 -0.8 1.4 -0.6 1.3 -0.2 1.3 0.7 1.4 -0.1 1.3 0.4 1.3 -0.1 1.4 -0.5 1.3 0 1.3 0.8 1.4 0 1.3 0.1 1.3 0.2 1.4 -0 1.3 -0.4 1.3 -0.3 1.4 0.2 1.3 -0.6 1.3 0.4 1.4 -0.2 1.3 -0.6 1.3 0.5 1.4 -0.1 1.3 -0.3 1.3 -0.2 1.4 0.7 1.3 0.1 1.3 -0.2 1.4 0.2 1.3 -0.2 1.3 -0.4 1.4 0.3 1.3 -0.2 1.4 1 1.3 0.1 1.3 -0.1 1.4 0.7 1.3 -0.2 1.3 0 1.4 0.4 1.3 0 1.3 0.3 1.4 -0.4 1.3 -0.2 1.3 0.1 1.4 0.7 1.3 0 1.3 -0.2 1.4 -0.5 1.3 -0.4 1.3 0.5 1.4 -0.3 1.3 0.1 1.3 0.2 1.4 0.3 1.3 -0.1 1.3 0.2 1.4 0.3 1.3 -0.4 1.3 0.1 1.4 0.4 1.3 -0.5 1.3 0.1 1.4 0.5 1.3 -0.3 1.3 -0.7 1.4 -0.7 1.3 0.2 1.3 0.1 1.4 -0 1.3 0.4 1.3 -0.2 1.4 -0.2 1.3 0.7 1.3 0.2 1.4 -0.3 1.3 -0.4 1.3 0.1 1.4 -0.5 1.3 0.3 1.4 0.2 1.3 0.2 1.3 0.1 1.4 0.2 1.3 0.3 1.3 -0.6 1.4 0.2 1.3 -0 1.3 0.4 1.4 0.7 1.3 -0.2 1.3 -0.2 1.4 -0.1 1.3 0.2 1.3 -0 1.4 0.6 1.3 -0.2 1.3 -0.4 1.4 -0.2 1.3 0.7 1.3 0.2 1.4 -0.2 1.3 -0.4 1.3 0.2 1.4 -0 1.3 -0.1 1.3 0.4 1.4 0.1 1.3 -0.2 1.3 -0.1 1.4 0.1 1.3 0.1 1.3 -0.8 1.4 0.2 1.3 0.2 1.3 -0 1.4 -0.2 1.3 -0.1 1.3 0.2 1.4 0.2 1.3 -0.4 1.3 -0.2 1.4 0.5 1.3 -0.4 1.3 -0.2 1.4 -0 1.3 -0 1.3 0.1 1.4 -0.5 1.3 -0.6 1.3 0.3 1.4 -0 1.3 0.5 1.4 -0.1 1.3 0.1 1.3 0.7 1.4 0.5 1.3 -0.9 1.3 -0.4 1.4 0.4 1.3 0.3 1.3 0.1 1.4 0.3 1.3 -0 1.3 -0.4 1.4 0.1 1.3 0.1 1.3 0.3 1.4 -0.6 1.3 -0.4 1.3 0.4 1.4 -0 1.3 0.1 1.3 0.5 1.4 -0.1 1.3 -0.7 1.3 0.1 1.4 -0 1.3 -0.5 1.3 0.2 1.4 -0.4 1.3 -0.3 1.3 0.2 1.4 0.3 1.3 -0.1 1.3 0.4 1.4 -0.5 1.3 0.1 1.3 0.2 1.4 -0 1.3 -0 1.3 0.2 1.4 -0 1.3 -0.2 1.3 -0.5 1.4 -0.2 1.3 -0.3 1.3 -0.2 1.4 -0.1 1.3 0.2 1.4 -0.3 1.3 -0.3 1.3 -0.2 1.4 0.1 1.3 0.1 1.3 0.8 1.4 -0.2 1.3 -0.5 1.3 -0.1 1.4 0.2 1.3 -0 1.3 0.1 1.4 0.6 1.3 -0 1.3 -0.3 1.4 -0.4 1.3 0.1 1.3 0.3 1.4 0.2 1.3 0.2 1.3 -0 1.4 -0.3 1.3 -0.1 1.3 -0.1 1.4 0.4 1.3 0.1 1.3 -0.4 1.4 0.3 1.3 -0.3 1.3 -0.5 1.4 0.4 1.3 0.5 1.3 -0.3 1.4 -0.4 1.3 -0.1 1.3 -0.2 1.4 0.3 1.3 0.4 1.3 0.2 1.4 0.2 1.3 0.3 1.3 -0.4 1.4 0.5 1.3 0.3 1.3 0.1 1.4 -0.2 1.3 -0 1.3 -0.4 1.4 0.1 1.3 -0.1 1.3 -0 1.4 0.6 1.3 -0.1 1.4 -0.4 1.3 -0.1 1.3 -0.3 1.4 -0.5 1.3 0.3 1.3 0.2 1.4 -0.4 1.3 -0.1 1.3 0.4 1.4 -0.6 1.3 0.6 1.3 0.5 1.4 0.1 1.3 -0.8 1.3 -0.1 1.4 0.4 1.3 -0.3 1.3 -0.2 1.4 -0.2 1.3 -0.3 1.3 -0.2 1.4 -0.1 1.3 -0.2 1.3 -0.6 1.4 -0 1.3 0.1 1.3 0.3 1.4 0.5 1.3 -0.5 1.3 0.2 1.4 0.2 1.3 -0.1 1.3 -0.5 1.4 0.4 1.3 0.6 1.3 -0.2 1.4 -0 1.3 0.3 1.3 -0.2 1.4 0.2 1.3 -0.1 1.3 -0.1 1.4 -0.3 1.3 0.2 1.3 -0.2 1.4 -0.2 1.3 -0 1.4 -0.4 1.3 -0.1 1.3 -0.3 1.4 0.1 1.3 0.2 1.3 -0 1.4 0.4 1.3 -0 1.3 0.1 1.4 -0 1.3 -0.2 1.3 0.4 1.4 0.4 1.3 -0.1 1.3 0.1 1.4 0.1 1.3 -0.5 1.3 0.5 1.4 -0 1.3 0.4 1.3 0.2 1.4 -0.6 1.3 -0.1 1.3 -0.8 1.4 -0.4 1.3 0.7 1.3 0.3 1.4 0.1 1.3 -0.7 1.3 -0.1 1.4 -0.1 1.3 0.3 1.3 -0 1.4 -0.5 1.3 0.6 1.3 0.8 1.4 -0.1 1.3 0.1 1.3 -0.2 1.4 0.2 1.3 -0 1.3 -0.3 1.4 -0 1.3 0.6 1.3 -0.6 1.4 0.3 1.3 0.1 1.3 -0.6 1.4 0.3 1.3 -0 1.3 0.3"/><path id="r11" d="M1092.3 581.3l1.3 -0.3 1.3 1.8 1.4 6.9 1.3 -0.4 1.3 2.9 1.4 3.4 1.3 4.8 1.3 3.2 1.4 1.3 1.3 3 1.3 3.4 1.4 0.7 1.3 2.2 1.3 0.3 1.4 -2.6 1.3 0.5 1.3 0.3 1.4 -0.4 1.3 0.2 1.3 -0.1 1.4 0 1.3 -0.6 1.3 -0.9 1.4 -0.1 1.3 0.5 1.3 -0.6 1.4 -0.6 1.3 -0.7 1.3 -0.1 1.4 0.2 1.3 0.2 1.3 0.1 1.4 -0.4 1.3 -1.7 1.3 -0.5 1.4 0.1 1.3 -0.7 1.3 1 1.4 0.1 1.3 -1 1.3 -0.4 1.4 0 1.3 0.5 1.3 1 1.4 -0.3 1.3 -0.8 1.4 0.4 1.3 0.5 1.3 0 1.4 -0.4 1.3 0.2 1.3 0.4 1.4 0.2 1.3 -0.1 1.3 0.8 1.4 -0.3 1.3 0.3 1.3 -0.2 1.4 -0.9 1.3 0 1.3 -1 1.4 -0.5 1.3 1.2 1.3 0.4 1.4 -0.8 1.3 -1.4 1.3 -0.2 1.4 -0.3 1.3 -0.5 1.3 -0.3 1.4 -0.3 1.3 -0.8 1.3 -0.3 1.4 0.5 1.3 -0 1.3 -0 1.4 -0.8 1.3 -0.4 1.3 0.1 1.4 -0.1 1.3 -0.6 1.3 -0.6 1.4 0.4 1.3 0.3 1.3 0.1 1.4 -0.1 1.3 -0.2 1.3 0.1 1.4 -1.3 1.3 -1.3 1.3 1.1 1.4 -0 1.3 -0.5 1.3 -0 1.4 -0.2 1.3 -0 1.3 -0.1 1.4 -0.1 1.3 0.7 1.4 0.1 1.3 -0.9 1.3 -0.5 1.4 0.5 1.3 -0.2 1.3 0.2 1.4 0.2 1.3 -0.3 1.3 -0.2 1.4 -0.1 1.3 -0.7 1.3 -0.3 1.4 0.1 1.3 0.1 1.3 0.7 1.4 0.7 1.3 -0.6 1.3 0.2 1.4 -0.2 1.3 0.1 1.3 -0.1 1.4 0.6 1.3 0.4 1.3 -0.5 1.4 0.5 1.3 0.6 1.3 -0.4 1.4 0.2 1.3 -0.6 1.3 -0.5 1.4 -0.3 1.3 -0.6 1.3 -0.1 1.4 0.5 1.3 0.2 1.3 -0.1 1.4 -0.6 1.3 -0.4 1.3 0.1 1.4 0.8 1.3 -0.3 1.3 -0 1.4 -0.5 1.3 0.1 1.3 0.1 1.4 0.1 1.3 -0.1 1.4 -0.8 1.3 0.4 1.3 0.3 1.4 0.1 1.3 0.8 1.3 -0.2 1.4 -0.2 1.3 0.7 1.3 0.2 1.4 -0.7 1.3 -0.4 1.3 0.6 1.4 0.4 1.3 -0.1 1.3 -0.3 1.4 0.6 1.3 -0.3 1.3 -0.2 1.4 -0.4 1.3 0.1 1.3 0.1 1.4 0.1 1.3 0.6 1.3 -0.5 1.4 -1 1.3 1.1 1.3 -0.3 1.4 -0.5 1.3 -0.2 1.3 0.8 1.4 0.1 1.3 -0.3 1.3 0.3 1.4 0.1 1.3 -0.5 1.3 -0.1 1.4 -0.3 1.3 0.6 1.3 0.5 1.4 0.4 1.3 -0.5 1.3 -0.4 1.4 -0.4 1.3 -0.7 1.3 0.3 1.4 0.1 1.3 0.4 1.3 0.3 1.4 -0 1.3 -0.2 1.3 0.1 1.4 -0.3 1.3 -0 1.4 0.5 1.3 -0.3 1.3 -0.1 1.4 -0.3 1.3 0.1 1.3 -0.7 1.4 -0.3 1.3 0.5 1.3 0.6 1.4 -0.1 1.3 -0.7 1.3 0.2 1.4 0.9 1.3 -0.2 1.3 -0.7 1.4 0.1 1.3 -0.2 1.3 -0.1 1.4 0.4 1.3 0.2 1.3 0.1 1.4 0.3 1.3 0.1 1.3 0.2 1.4 0.1 1.3 -0.4 1.3 -0.3 1.4 0.7 1.3 -0 1.3 -0.1 1.4 0.2 1.3 -0.5 1.3 -0.1 1.4 -0.3 1.3 0.3 1.3 0.5 1.4 -1 1.3 -0.2 1.3 0.4 1.4 -0 1.3 0.3 1.3 -0.4 1.4 -1 1.3 -0 1.3 0.7 1.4 0.1 1.3 -0.2 1.4 0.3 1.3 0.4 1.3 0.1 1.4 0.2 1.3 0.1 1.3 -0.4 1.4 -0.4 1.3 0.1 1.3 0.3 1.4 0.4 1.3 -0 1.3 -0.2 1.4 0.6 1.3 -0.3 1.3 -0.6 1.4 -0.3 1.3 0.3 1.3 -0.3 1.4 -0.2 1.3 -0.3 1.3 -0 1.4 0.2 1.3 0.4 1.3 -0.1 1.4 0.1 1.3 0.3 1.3 -0.1 1.4 0.2 1.3 -0.1 1.3 -0.4 1.4 -0.3 1.3 0.2 1.3 -0.3 1.4 -0.3 1.3 -0.4 1.3 0.1 1.4 0.4 1.3 -0 1.3 -0 1.4 0.3 1.3 0.3 1.3 -0.5 1.4 -0 1.3 0.3 1.3 0.2 1.4 0.1 1.3 0.1 1.3 0.4 1.4 -0.6 1.3 0.2 1.3 1 1.4 -0 1.3 0.2 1.4 -0 1.3 -0.1 1.3 0.4 1.4 -0 1.3 0.1 1.3 -0 1.4 -0.3 1.3 -0.2 1.3 -0.5 1.4 -0.4 1.3 0.3 1.3 -0.1 1.4 -0.1 1.3 -0.1 1.3 -0.1 1.4 -0.2 1.3 -0.2 1.3 -0.2 1.4 0.4 1.3 -0 1.3 0.3 1.4 -0.8 1.3 0.2 1.3 0.4 1.4 -0.1 1.3 -0.2 1.3 -0.2 1.4 0.2 1.3 -0.1 1.3 -0.5 1.4 0.3 1.3 -0 1.3 -0.5 1.4 0.6 1.3 -0.2 1.3 0.1 1.4 0.4 1.3 0.1 1.3 0.4 1.4 0.6 1.3 0.2 1.3 -0.2 1.4 -0.3 1.3 -0 1.3 0.6 1.4 -0 1.3 0.1 1.4 -0 1.3 0.2 1.3 0.3 1.4 -0.2 1.3 0.5 1.3 -0.1 1.4 -0.5 1.3 -0.4 1.3 -0 1.4 0.2 1.3 -0 1.3 -0 1.4 0.7 1.3 -0.4 1.3 -0.7 1.4 -0.2 1.3 0.1 1.3 -0.4 1.4 -0 1.3 -0 1.3 -0.1 1.4 -0.3 1.3 -0.3 1.3 -0.2 1.4 0.1 1.3 -0.2 1.3 0.4 1.4 -0.3 1.3 -0.1 1.3 -0.1 1.4 -0.6 1.3 0.6 1.3 -0 1.4 -0.3 1.3 -0 1.3 0.5 1.4 -0.3 1.3 -0.1 1.3 -0.6 1.4 -0 1.3 0.3 1.3 -0 1.4 -0 1.3 -0 1.3 0.1 1.4 0.7 1.3 -0.3 1.3 0.4 1.4 -0.2 1.3 -0 1.3 0.1 1.4 0.3 1.3 -0.5 1.4 0.4 1.3 0.4 1.3 -0.2 1.4 -0.9 1.3 0.4 1.3 1.1 1.4 0.2 1.3 0.4 1.3 -0.3 1.4 -0 1.3 0.9 1.3 0.5 1.4 -0.1 1.3 -0.5 1.3 -0.1 1.4 0.4 1.3 -0.1 1.3 -0 1.4 -0.3 1.3 -0.2 1.3 -0 1.4 -0 1.3 -0 1.3 -0 1.4 0.1 1.3 -0 1.3 -0.1 1.4 -0.2 1.3 0.3 1.3 -0.1 1.4 0.4 1.3 0.1 1.3 -0.2 1.4 -0.2 1.3 -0.1 1.3 -0.2 1.4 0.2 1.3 -0.3 1.3 0.3 1.4 0.6 1.3 0.2 1.3 -0.2 1.4 -0.4 1.3 -0.1 1.3 0.5 1.4 -0.1 1.3 -0 1.4 -0 1.3 -0 1.3 -0.4 1.4 -0.5 1.3 -0.1 1.3 -0.6 1.4 0.1 1.3 0.5 1.3 -0.5 1.4 -1.2 1.3 -0.2 1.3 -0.2 1.4 0.1 1.3 1.4 1.3 -0.1 1.4 -0.9 1.3 0.7 1.3 -0 1.4 0.6 1.3 0.7 1.3 0.4 1.4 0.2 1.3 -0.3 1.3 0.8 1.4 -0 1.3 -0.2 1.3 0.1 1.4 0.2 1.3 -0.1 1.3 -0.6 1.4 0.3 1.3 0.1 1.3 -0.7 1.4 -0.4 1.3 -0.4 1.3 -0.3 1.4 -0.2 1.3 -0.1 1.3 -0.2 1.4 -0.1 1.3 -0.8 1.3 -0 1.4 0.5 1.3 -0.3 1.3 0.1 1.4 -0 1.3 0.1 1.3 -0.1 1.4 0.1 1.3 0.7 1.3 0.2"/><path id="r12" d="M1092.3 590.9l1.3 5.6 1.3 5.8 1.4 -2.7 1.3 -3.2 1.3 -2 1.4 -0.6 1.3 0.2 1.3 -1.6 1.4 2.8 1.3 2.8 1.3 4.2 1.4 3.8 1.3 -0.6 1.3 -0.2 1.4 1 1.3 1.7 1.3 -0.4 1.4 1.4 1.3 1 1.3 -0.1 1.4 -0.8 1.3 0.3 1.3 -1.6 1.4 -1.2 1.3 0 1.3 -2.5 1.4 -0.6 1.3 -0.2 1.3 -1.7 1.4 -1.6 1.3 -0.3 1.3 -1.2 1.4 -0.2 1.3 -0.2 1.3 -0.5 1.4 0.5 1.3 -0.8 1.3 -0.1 1.4 -0.6 1.3 -1.9 1.3 -0.7 1.4 0.8 1.3 0.7 1.3 0.8 1.4 -1.6 1.3 -0.5 1.4 0.1 1.3 -0.1 1.3 -0.9 1.4 -0.8 1.3 0.5 1.3 0.2 1.4 0.7 1.3 -0.6 1.3 -0.2 1.4 -0.4 1.3 -0.7 1.3 -1.2 1.4 0.4 1.3 0.9 1.3 0.3 1.4 -0.8 1.3 -0.9 1.3 -0.1 1.4 0.2 1.3 -0.3 1.3 -0.7 1.4 0.2 1.3 0.6 1.3 0.1 1.4 -0.2 1.3 -0.2 1.3 -0.4 1.4 0.3 1.3 0.8 1.3 0.5 1.4 0 1.3 -0.6 1.3 -0.1 1.4 -0.5 1.3 -0.3 1.3 0.6 1.4 -0.2 1.3 -0.5 1.3 1 1.4 0.9 1.3 -0.5 1.3 -0.8 1.4 0.3 1.3 -0.5 1.3 0.4 1.4 0.7 1.3 -0.1 1.3 -0.8 1.4 0 1.3 0.8 1.3 -0.5 1.4 -0.2 1.3 -0.1 1.4 0.5 1.3 0.9 1.3 0 1.4 -0.3 1.3 0.3 1.3 -0.3 1.4 0.1 1.3 -0.5 1.3 0.5 1.4 -0.4 1.3 -0.8 1.3 0.2 1.4 0.5 1.3 0.5 1.3 -0.6 1.4 -0.5 1.3 0.3 1.3 0.2 1.4 -0.3 1.3 -0.3 1.3 0.2 1.4 -0.4 1.3 1 1.3 0.6 1.4 -0.3 1.3 -0.5 1.3 -0.3 1.4 0.2 1.3 0.9 1.3 -0.3 1.4 0.2 1.3 -0.4 1.3 -0.2 1.4 0.7 1.3 0.3 1.3 -0.4 1.4 0.1 1.3 -0.4 1.3 0.2 1.4 -0.3 1.3 0.2 1.3 0 1.4 -0.1 1.3 0 1.3 0.4 1.4 -0.1 1.3 0.2 1.4 0.1 1.3 -0.5 1.3 -0.4 1.4 -0.2 1.3 0.2 1.3 -0.2 1.4 0.4 1.3 0.2 1.3 -0.3 1.4 0.1 1.3 0.4 1.3 -0.9 1.4 -0.7 1.3 -0.3 1.3 1.1 1.4 0.3 1.3 -0.8 1.3 0 1.4 -0.4 1.3 0.4 1.3 -0.2 1.4 0.3 1.3 0.5 1.3 -0.1 1.4 -0.3 1.3 0.2 1.3 -0.6 1.4 0 1.3 0.1 1.3 -0.1 1.4 -0.1 1.3 0.5 1.3 -0.4 1.4 -0.1 1.3 0.3 1.3 0.2 1.4 -0.7 1.3 -0.3 1.3 1.1 1.4 0.1 1.3 0.3 1.3 0.3 1.4 -0.6 1.3 -0.1 1.3 -0.4 1.4 0.9 1.3 -0.2 1.3 -0.2 1.4 0.3 1.3 -0.5 1.3 0.6 1.4 0.8 1.3 -0.4 1.4 -0.9 1.3 -0.3 1.3 0.5 1.4 0.2 1.3 0 1.3 0 1.4 0 1.3 -0.5 1.3 -0.4 1.4 0.3 1.3 0.1 1.3 0.5 1.4 -0.6 1.3 -0.1 1.3 -0.1 1.4 0.1 1.3 -0.4 1.3 -0.5 1.4 -0.3 1.3 0.1 1.3 -0.1 1.4 -0.1 1.3 0.3 1.3 -0.2 1.4 0.1 1.3 0.2 1.3 0.3 1.4 0.7 1.3 0 1.3 0.2 1.4 0.2 1.3 0.8 1.3 0 1.4 -0.9 1.3 0.8 1.3 0.1 1.4 0.1 1.3 0 1.3 0.5 1.4 -0.3 1.3 -0.2 1.3 -0.3 1.4 0.5 1.3 0.4 1.3 -0.2 1.4 -0.2 1.3 0.1 1.4 0.5 1.3 0.3 1.3 -0.7 1.4 0.2 1.3 0.6 1.3 -0.1 1.4 -0.4 1.3 0.3 1.3 0 1.4 0.3 1.3 -0.7 1.3 -0.5 1.4 1 1.3 0.4 1.3 -0.8 1.4 -0.7 1.3 0.1 1.3 0.6 1.4 0.1 1.3 0.5 1.3 -0.3 1.4 -0.3 1.3 0 1.3 0.1 1.4 0.5 1.3 -0.5 1.3 0 1.4 0.2 1.3 -0.4 1.3 0.4 1.4 0.1 1.3 -0.6 1.3 0 1.4 0 1.3 -0.6 1.3 -0.3 1.4 -0.6 1.3 -0.1 1.3 -0.4 1.4 0.3 1.3 0.2 1.3 -0.2 1.4 -0.4 1.3 -0.3 1.3 -0.1 1.4 0.2 1.3 -0.2 1.3 0.9 1.4 0.1 1.3 0.2 1.3 0.4 1.4 -0.5 1.3 0.3 1.4 0.3 1.3 0.6 1.3 0.2 1.4 0 1.3 -0.3 1.3 0 1.4 -0.9 1.3 0.6 1.3 -0.2 1.4 0.1 1.3 0.3 1.3 -0.1 1.4 -0.4 1.3 -0.1 1.3 0.3 1.4 0 1.3 -0.4 1.3 0.9 1.4 -0.4 1.3 0.1 1.3 0.1 1.4 0.1 1.3 0.1 1.3 0.2 1.4 -0.1 1.3 -0.6 1.3 -0.1 1.4 0.6 1.3 -0.6 1.3 -0.5 1.4 -0.1 1.3 0.2 1.3 -0.6 1.4 0.6 1.3 0.3 1.3 0.2 1.4 -0.6 1.3 0.3 1.3 0.4 1.4 -0.3 1.3 0.4 1.3 -0.1 1.4 -0.2 1.3 0.3 1.3 0.1 1.4 0.4 1.3 0.1 1.4 0.6 1.3 0.1 1.3 0.4 1.4 -0.4 1.3 -0.1 1.3 0 1.4 -0.1 1.3 -0.4 1.3 0.3 1.4 0.2 1.3 -0.1 1.3 -0.1 1.4 0 1.3 0 1.3 -0.9 1.4 0.1 1.3 -0.3 1.3 -0.2 1.4 0 1.3 0.2 1.3 0.1 1.4 0.3 1.3 -0.3 1.3 -0.3 1.4 0 1.3 -0.3 1.3 -0.7 1.4 0.3 1.3 0.4 1.3 -0.3 1.4 -0.4 1.3 0.1 1.3 0.1 1.4 0.5 1.3 0.3 1.3 -0.1 1.4 -0.3 1.3 0.6 1.3 -0.5 1.4 -0.3 1.3 -0.3 1.3 0.2 1.4 0.3 1.3 0.3 1.3 0.4 1.4 -0.1 1.3 -0.2 1.3 0.4 1.4 0 1.3 0.3 1.3 0.2 1.4 -0.4 1.3 -0.3 1.4 0.4 1.3 0.2 1.3 -0.3 1.4 -0.4 1.3 0.3 1.3 0.3 1.4 -0.9 1.3 -0.2 1.3 0.3 1.4 -0.2 1.3 -0.3 1.3 0.4 1.4 0.3 1.3 -0.5 1.3 -0.1 1.4 -0.3 1.3 0.1 1.3 0.6 1.4 1 1.3 0 1.3 -0.7 1.4 0.6 1.3 0.1 1.3 0.1 1.4 0.6 1.3 -0.1 1.3 -0.6 1.4 0.7 1.3 0.4 1.3 0 1.4 -0.2 1.3 -0.3 1.3 0.4 1.4 0.4 1.3 0.3 1.3 -0.4 1.4 -0.7 1.3 0.6 1.3 -0.2 1.4 -0.2 1.3 0.3 1.3 -0.6 1.4 -0.2 1.3 -0.5 1.3 0.3 1.4 0.3 1.3 -0.4 1.4 -0.3 1.3 -0.5 1.3 0.5 1.4 0.6 1.3 -0.1 1.3 0.4 1.4 0.5 1.3 0.2 1.3 0.3 1.4 -0.7 1.3 0.1 1.3 0.8 1.4 -1.2 1.3 -0.5 1.3 -0.1 1.4 0 1.3 -0.5 1.3 0.1 1.4 -0.1 1.3 -0.2 1.3 0.3 1.4 0.2 1.3 0.4 1.3 -0.1 1.4 -0.4 1.3 0.1 1.3 -0.1 1.4 -0.2 1.3 0.3 1.3 0.4 1.4 -0.1 1.3 -0.5 1.3 0.1 1.4 0.2 1.3 0.3 1.3 -0.2 1.4 0.2 1.3 -0.2 1.3 -0.5 1.4 0.2 1.3 0.2 1.3 0 1.4 -0.1 1.3 0.3 1.3 -0.4 1.4 0.2 1.3 0.1 1.3 -0.4 1.4 0.1 1.3 0.4 1.3 -0.6"/><path id="r13" d="M2276.2 141.2l1.3 20.7 1.4 -23.2 1.3 17.8 1.3 9.6 1.4 6.7 1.3 6.1 1.3 1.5 1.4 -3.4 1.3 -6.5 1.3 -4.3 1.4 -4.7 1.3 -5.9 1.4 -3.7 1.3 -2.8 1.3 -1.9 1.4 -2.5 1.3 -0.4 1.3 0.6 1.4 0.7 1.3 1.2 1.3 2.5 1.4 1.2 1.3 1.5 1.3 2.2 1.4 1.1 1.3 0.9 1.3 1.8 1.4 2.8 1.3 2.6 1.3 1.2 1.4 1.1 1.3 1 1.3 1.2 1.4 1 1.3 0.9 1.3 -0.1 1.4 0.1 1.3 -0.4 1.4 0.2 1.3 0 1.3 0.6 1.4 0.7 1.3 -0.3 1.3 -0.8 1.4 0.9 1.3 0.5 1.3 0.1 1.4 0.2 1.3 0.6 1.3 0.6 1.4 0.5 1.3 1 1.3 0 1.4 0.5 1.3 -0.4 1.3 0 1.4 0.9 1.3 1.6 1.3 0.6 1.4 0.6 1.3 0 1.3 1.4 1.4 1.2 1.3 1.6 1.4 1.2 1.3 0.2 1.3 0.2 1.4 0.6 1.3 1.9 1.3 0.2 1.4 -0.1 1.3 0.9 1.3 0.4 1.4 1.4 1.3 0.7 1.3 0.1 1.4 -0.1 1.3 0 1.3 0.2 1.4 1.4 1.3 1 1.3 -0.3 1.4 -0.3 1.3 0.4 1.3 -0.1 1.4 -0.1 1.3 0.1 1.3 0.5 1.4 -0.6 1.3 -1 1.4 0.6 1.3 0.2 1.3 0.5 1.4 -0.2 1.3 0 1.3 0.2 1.4 -0.7 1.3 -0.2 1.3 0.3 1.4 -0.5 1.3 -0.3 1.3 0.1 1.4 0.8 1.3 0.3 1.3 -0.5 1.4 0 1.3 0.4 1.3 -0.1 1.4 -0.3 1.3 0.3 1.3 -0.3 1.4 0.2 1.3 1.4 1.3 0.2 1.4 -1.1 1.3 -0.1 1.4 0.4 1.3 0 1.3 0.3 1.4 -0.5 1.3 -0.7 1.3 1.3 1.4 0.4 1.3 -0.6 1.3 0.3 1.4 -0.1 1.3 0.6 1.3 -0.2 1.4 0.3 1.3 0.8 1.3 0 1.4 -0.3 1.3 0 1.3 0.2 1.4 -0.3 1.3 0.2 1.3 -0.5 1.4 -0.1 1.3 0.6 1.3 0 1.4 0.1 1.3 0.6 1.4 -0.2 1.3 0.1 1.3 0.4 1.4 -0.5 1.3 -0.2 1.3 0.2 1.4 0.3 1.3 0.1 1.3 0.3 1.4 0.3 1.3 0.1 1.3 -0.5 1.4 -0.5 1.3 -0.2 1.3 0.8 1.4 0.2 1.3 0.1 1.3 -0.4 1.4 -0.4 1.3 0.2 1.3 0.4 1.4 0 1.3 -0.3 1.3 -0.2 1.4 0.8 1.3 0.8 1.4 -0.5 1.3 -0.8 1.3 0.5 1.4 0 1.3 0.2 1.3 0 1.4 -0.3 1.3 -0.2 1.3 -0.6 1.4 0.7 1.3 0.1 1.3 -0.3 1.4 0.5 1.3 -0.2 1.3 -0.7 1.4 -0.6 1.3 0 1.3 0.4 1.4 0 1.3 -0.3 1.3 -0.3 1.4 0.1 1.3 -0.1 1.3 0.1 1.4 0 1.3 0 1.4 0.1 1.3 0 1.3 -0.5 1.4 0.1 1.3 0.6 1.3 -0.2 1.4 -0.1 1.3 1 1.3 0.1 1.4 -0.3 1.3 -0.5 1.3 0.5 1.4 0.1 1.3 0 1.3 -0.4 1.4 -0.5 1.3 -0.5 1.3 -0.3 1.4 0 1.3 0.2 1.3 -0.3 1.4 0.5 1.3 0.1 1.3 -0.4 1.4 -0.2 1.3 1 1.4 -0.3 1.3 -0.3 1.3 0.1 1.4 0.9 1.3 0.3 1.3 -1 1.4 0 1.3 0.5 1.3 0.2 1.4 0.3 1.3 -0.4 1.3 0.5 1.4 -0.2 1.3 -0.5 1.3 -0.1 1.4 0.5 1.3 0.4 1.3 0.2 1.4 0 1.3 0 1.3 -0.3 1.4 0.1 1.3 0.4 1.3 -0.5 1.4 0 1.3 0.5 1.3 0 1.4 -0.1 1.3 0.2 1.4 0 1.3 -0.2 1.3 -0.4 1.4 -0.2 1.3 0.4 1.3 0.3 1.4 -1.2 1.3 0.3 1.3 1 1.4 0 1.3 -0.5 1.3 0.3 1.4 0.4 1.3 0.2 1.3 0.4 1.4 -0.5 1.3 0 1.3 0.4 1.4 0.1 1.3 0.1 1.3 -0.4 1.4 -0.2 1.3 -0.3 1.3 0.1 1.4 0.5 1.3 0.3 1.4 0.2 1.3 -0.2 1.3 0 1.4 0.4 1.3 -0.1 1.3 -0.2 1.4 0.3 1.3 0.1 1.3 -0.5 1.4 -0.2 1.3 -0.2 1.3 -0.5 1.4 0.2 1.3 0.6 1.3 -0.2 1.4 0.1 1.3 0.5 1.3 -0.5 1.4 -0.3 1.3 0.2 1.3 0 1.4 0 1.3 0 1.3 0 1.4 0.1 1.3 0.3 1.4 0.1 1.3 -0.9 1.3 -0.1 1.4 0.4 1.3 -0.4 1.3 0.1 1.4 0.1 1.3 0.6 1.3 -0.2 1.4 -0.1 1.3 -0.2 1.3 -0.1 1.4 0.4 1.3 0 1.3 0 1.4 -0.2 1.3 -0.3 1.3 0 1.4 0.4 1.3 0.2 1.3 -0.5 1.4 -0.2 1.3 -0.1 1.3 0.5 1.4 -0.7 1.3 0.1 1.4 0 1.3 0.3 1.3 0.5 1.4 0.2 1.3 -0.8 1.3 0.6 1.4 0.7 1.3 -0.3 1.3 0.1 1.4 0 1.3 0.2 1.3 0 1.4 0.1 1.3 -0.2 1.3 0.1 1.4 0 1.3 -0.6 1.3 0.5 1.4 0.9 1.3 -0.2 1.3 -0.5 1.4 0 1.3 0.9 1.3 -0.5 1.4 0.3 1.3 0.8 1.4 -0.2 1.3 -0.7 1.3 -0.7 1.4 0.2 1.3 0.7 1.3 -0.4 1.4 -0.4 1.3 0.6 1.3 0 1.4 -0.2 1.3 -0.7 1.3 0 1.4 0.3 1.3 0 1.3 -0.3 1.4 0.1 1.3 0.8 1.3 0 1.4 -0.2 1.3 -0.2 1.3 0 1.4 0.1 1.3 -0.3 1.3 0.2 1.4 0.8 1.3 -0.6 1.4 0.1 1.3 0.5 1.3 0.1 1.4 -0.4 1.3 -0.1 1.3 -0.1 1.4 0.1 1.3 0 1.3 -0.3 1.4 0.2 1.3 0 1.3 -0.2 1.4 -0.2 1.3 0.1 1.3 -0.3 1.4 -0.3 1.3 -0.1 1.3 0.4 1.4 -0.3 1.3 0.5 1.3 0 1.4 -0.2 1.3 -0.5 1.3 -0.2 1.4 0.7 1.3 -0.3 1.4 -0.4 1.3 -0.2 1.3 0.6 1.4 0.6 1.3 0.2 1.3 -0.1 1.4 0.5 1.3 -0.2 1.3 -0.7 1.4 0.6 1.3 0.4 1.3 -0.2 1.4 -0.3 1.3 0.2 1.3 -0.3 1.4 -0.3 1.3 0.2 1.3 -1 1.4 0.2 1.3 0.4 1.3 -0.2 1.4 0 1.3 0.2 1.3 0.2 1.4 -0.4 1.3 -0.2 1.4 0.2 1.3 0.1 1.3 0 1.4 -0.2 1.3 0.4 1.3 0.4 1.4 0 1.3 0.2 1.3 0.9 1.4 -0.4 1.3 -0.2 1.3 -0.2 1.4 0.4 1.3 0.2 1.3 -0.6 1.4 -0.4 1.3 -0.4 1.3 -0.1 1.4 0.1 1.3 -0.4 1.3 0.7 1.4 0.3 1.3 -0.5 1.3 0.1 1.4 0.4 1.3 0 1.4 -0.2 1.3 -0.3 1.3 -0.5 1.4 0.5 1.3 -0.1 1.3 -0.5 1.4 0.1 1.3 0.2 1.3 -0.5 1.4 0.5 1.3 -0.1 1.3 -0.5 1.4 0.4 1.3 0.5 1.3 -0.2 1.4 -0.2 1.3 0.6 1.3 0 1.4 0.6 1.3 0.3 1.3 -0.9 1.4 -0.3 1.3 0.9 1.3 -0.3 1.4 -0.2 1.3 -0.6 1.4 -0.4 1.3 0 1.3 0.2 1.4 -0.1 1.3 0 1.3 0.5 1.4 -0.1 1.3 0.3 1.3 0.1 1.4 -0.4 1.3 0.4 1.3 0.1 1.4 -0.5 1.3 0.1"/><path id="r14" d="M2276.2 323.3l1.3 -11.6 1.4 -13.4 1.3 -3.8 1.3 -6.5 1.4 -5.3 1.3 -7.3 1.3 -5.1 1.4 -1.9 1.3 -1 1.3 -0.7 1.4 -1.5 1.3 -0.8 1.4 -1.8 1.3 -1.6 1.3 0 1.4 -1.2 1.3 -3.5 1.3 -1.5 1.4 -1.7 1.3 -0.7 1.3 0.7 1.4 -0.1 1.3 0.9 1.3 0.1 1.4 0.2 1.3 2 1.3 0.1 1.4 0.7 1.3 1.6 1.3 1.9 1.4 1.1 1.3 0.4 1.3 0.7 1.4 0.2 1.3 1.5 1.3 0.1 1.4 -2.2 1.3 -1.9 1.4 -1.8 1.3 -0.2 1.3 -1.4 1.4 -0.9 1.3 0.5 1.3 0.6 1.4 0.3 1.3 1.9 1.3 0.8 1.4 0.3 1.3 0.5 1.3 1 1.4 0.6 1.3 0.2 1.3 -1.1 1.4 -1.2 1.3 -3.4 1.3 -2 1.4 -1.2 1.3 -1.7 1.3 -1.4 1.4 -0.7 1.3 -1.5 1.3 -0.6 1.4 0.5 1.3 0.2 1.4 0.2 1.3 -0.1 1.3 0.7 1.4 1.1 1.3 1.1 1.3 1 1.4 0.5 1.3 0.4 1.3 0.9 1.4 0.6 1.3 -0.2 1.3 0.8 1.4 -0.4 1.3 -0.8 1.3 -1.5 1.4 -2.2 1.3 -1.2 1.3 -0.7 1.4 -1.6 1.3 -2 1.3 -1.2 1.4 -0.6 1.3 1.2 1.3 0.5 1.4 0.2 1.3 0.9 1.4 1 1.3 -0.1 1.3 0.6 1.4 0.4 1.3 0.2 1.3 1.2 1.4 0.9 1.3 0.1 1.3 -0.1 1.4 0.7 1.3 1.1 1.3 0.5 1.4 0.1 1.3 0.4 1.3 0.9 1.4 0.6 1.3 0.4 1.3 0.7 1.4 -0.2 1.3 -0.2 1.3 0.8 1.4 -0.1 1.3 0.2 1.3 0.6 1.4 -0.2 1.3 0.2 1.4 0.6 1.3 -0.6 1.3 0.1 1.4 0.4 1.3 -0.3 1.3 -0.1 1.4 0.6 1.3 1 1.3 -0.3 1.4 0.2 1.3 0.6 1.3 -0.2 1.4 0.7 1.3 -0.4 1.3 0.7 1.4 0.5 1.3 -0.5 1.3 0.2 1.4 0.3 1.3 -0.3 1.3 0.1 1.4 0.7 1.3 0.1 1.3 0.3 1.4 -0.1 1.3 -0.2 1.4 -0.6 1.3 -0 1.3 0.2 1.4 -0.1 1.3 -0.2 1.3 -0.4 1.4 0.7 1.3 1.4 1.3 -0.4 1.4 -0.5 1.3 0.5 1.3 0.5 1.4 0.7 1.3 0.6 1.3 0.2 1.4 -0.5 1.3 0.3 1.3 0.6 1.4 -0.1 1.3 0.2 1.3 0.2 1.4 -0.1 1.3 0.5 1.3 0.2 1.4 0.2 1.3 -0.3 1.4 -0.3 1.3 -0.3 1.3 0.8 1.4 0 1.3 0.1 1.3 -0.4 1.4 -0.3 1.3 -0.3 1.3 0.5 1.4 -0.1 1.3 0.3 1.3 0.2 1.4 -0.1 1.3 0 1.3 -0.5 1.4 0.2 1.3 -0.5 1.3 0.6 1.4 0.2 1.3 -0.1 1.3 0.5 1.4 -0.3 1.3 0.3 1.3 0.6 1.4 0.3 1.3 -0.4 1.4 -0.5 1.3 -0.3 1.3 0.3 1.4 0.5 1.3 -0.3 1.3 0.1 1.4 -0.6 1.3 0.1 1.3 1.3 1.4 -0.3 1.3 -0.1 1.3 0.5 1.4 0 1.3 -0.4 1.3 0.1 1.4 -0.1 1.3 -0.2 1.3 0.8 1.4 -0.1 1.3 -1.1 1.3 -0.5 1.4 0.1 1.3 -0.1 1.3 -0.4 1.4 -0.4 1.3 -0.4 1.4 -0.6 1.3 -0.5 1.3 -0.5 1.4 -0 1.3 0.6 1.3 1.2 1.4 0.2 1.3 -0.8 1.3 -0.2 1.4 0.1 1.3 0.4 1.3 0.2 1.4 0.3 1.3 -0.1 1.3 -0.2 1.4 0.6 1.3 -0.1 1.3 -0.7 1.4 0.6 1.3 0.6 1.3 -0.3 1.4 -0.7 1.3 0.1 1.3 0.2 1.4 -0.4 1.3 -0.1 1.3 0.2 1.4 -0.1 1.3 0.2 1.4 -0.1 1.3 -0.3 1.3 -0 1.4 0.3 1.3 0.1 1.3 -0.4 1.4 -1.3 1.3 1.4 1.3 -0.1 1.4 -0 1.3 0.2 1.3 -1.1 1.4 0 1.3 0.5 1.3 -0.3 1.4 -0.6 1.3 -0.2 1.3 0.5 1.4 -0.2 1.3 -0.3 1.3 -0.2 1.4 0.4 1.3 -0.3 1.3 0.4 1.4 0.3 1.3 -0.1 1.4 -0.3 1.3 0.2 1.3 0.5 1.4 0.2 1.3 -0.5 1.3 -0.3 1.4 -0.2 1.3 0 1.3 0.1 1.4 -0.2 1.3 0.4 1.3 -0.4 1.4 -0.5 1.3 -0.6 1.3 -0.6 1.4 0.7 1.3 0.5 1.3 -0.6 1.4 -0.5 1.3 0.1 1.3 0.4 1.4 0.1 1.3 -0.2 1.3 -0.7 1.4 0.7 1.3 0.3 1.4 -0.2 1.3 0.1 1.3 0.2 1.4 0.2 1.3 0.3 1.3 0.5 1.4 -0.7 1.3 -0.4 1.3 0.1 1.4 0.2 1.3 0.5 1.3 0 1.4 -0.9 1.3 0.3 1.3 0.1 1.4 -0.5 1.3 0.2 1.3 0.1 1.4 -0.3 1.3 0.2 1.3 0.6 1.4 -0.1 1.3 -0.2 1.3 0.2 1.4 0.1 1.3 0.2 1.4 0.3 1.3 -1 1.3 -0.2 1.4 0.6 1.3 -0.1 1.3 0.3 1.4 1 1.3 -0.2 1.3 -0.5 1.4 -0 1.3 -0.1 1.3 0.4 1.4 -0.3 1.3 0 1.3 -0.4 1.4 -0.3 1.3 0.1 1.3 0.1 1.4 -0.8 1.3 -0.1 1.3 0.2 1.4 -0.1 1.3 0.3 1.3 -0.3 1.4 -0.2 1.3 -0.3 1.4 -0.1 1.3 -0.2 1.3 0.2 1.4 0.1 1.3 0 1.3 0 1.4 0 1.3 -0.1 1.3 0.3 1.4 -0.5 1.3 0.3 1.3 0.3 1.4 0.1 1.3 -0 1.3 -0.1 1.4 0.3 1.3 0.1 1.3 -0.2 1.4 0.1 1.3 -0 1.3 -0.2 1.4 -0.3 1.3 1 1.3 0.8 1.4 -0.5 1.3 -0.2 1.4 0.3 1.3 -0.2 1.3 -0.7 1.4 0.1 1.3 -0 1.3 -0.5 1.4 -0.5 1.3 0.2 1.3 0.4 1.4 -0 1.3 0.2 1.3 -0.2 1.4 -0.4 1.3 -0.7 1.3 -0 1.4 0.9 1.3 0.5 1.3 -0.2 1.4 0.1 1.3 0.4 1.3 -0 1.4 0.4 1.3 -0.2 1.3 -0.2 1.4 0.2 1.3 0.1 1.4 -0.2 1.3 0.3 1.3 0.3 1.4 -0.3 1.3 -0.2 1.3 0.3 1.4 -0.7 1.3 -0.4 1.3 -0 1.4 -0.1 1.3 0.1 1.3 0.2 1.4 -0.2 1.3 -0.3 1.3 -0.1 1.4 -0.3 1.3 -0.2 1.3 0.3 1.4 -0 1.3 0.3 1.3 -0.2 1.4 -0.3 1.3 -0.3 1.3 -0.1 1.4 -0.2 1.3 0.3 1.4 0.6 1.3 -0.3 1.3 0.1 1.4 -0.5 1.3 -0.8 1.3 -0.2 1.4 -0 1.3 1 1.3 -0 1.4 0.1 1.3 -0 1.3 0.1 1.4 0.4 1.3 -0.3 1.3 0.5 1.4 -0.4 1.3 -0.1 1.3 0.1 1.4 0.1 1.3 -0.5 1.3 -0 1.4 0.5 1.3 0.5 1.3 0.4 1.4 -0.5 1.3 0.1 1.4 -0.4 1.3 0.7 1.3 0.8 1.4 -0.7 1.3 -0.7 1.3 -0 1.4 0.5 1.3 -0.2 1.3 -0 1.4 -0.4 1.3 -0.5 1.3 -0.6 1.4 0.4 1.3 0.2 1.3 -0 1.4 -0.3 1.3 0.1 1.3 -0.3 1.4 0.1 1.3 0.2 1.3 0.3 1.4 -0.3 1.3 -0.2 1.3 0.3 1.4 0.2 1.3 0.1 1.4 -0.2 1.3 0.4 1.3 0.4 1.4 -0.2 1.3 -0.2 1.3 -0 1.4 0.4 1.3 -0.3 1.3 0.1 1.4 -0.2 1.3 -0 1.3 0.3 1.4 -0.3 1.3 -0.4"/><path id="r15" d="M2276.2 294.5l1.3 5.8 1.4 4.6 1.3 6.6 1.3 5.3 1.4 4.7 1.3 7.4 1.3 4.5 1.4 -1.5 1.3 0.5 1.3 1.3 1.4 1 1.3 -0.1 1.4 0.9 1.3 -1.6 1.3 -2.4 1.4 1.1 1.3 1.2 1.3 0 1.4 -1.4 1.3 0.5 1.3 -0 1.4 -0.1 1.3 -1 1.3 -0.3 1.4 0.5 1.3 0 1.3 -1.6 1.4 -1 1.3 0 1.3 1.2 1.4 -1.1 1.3 -1 1.3 -0.6 1.4 -0.3 1.3 0.2 1.3 1.5 1.4 0.3 1.3 -0.9 1.4 0.4 1.3 0.4 1.3 0.5 1.4 -0.1 1.3 -0.8 1.3 -0.5 1.4 -0.5 1.3 0.9 1.3 0.6 1.4 -0.7 1.3 -0.8 1.3 -0.1 1.4 0.8 1.3 1 1.3 -0.2 1.4 -0.2 1.3 1 1.3 -0.7 1.4 0.2 1.3 0.2 1.3 -0.5 1.4 0 1.3 -0.3 1.3 0.1 1.4 0.2 1.3 0.4 1.4 0 1.3 -0.9 1.3 -1.3 1.4 0.1 1.3 -0.5 1.3 -0.6 1.4 -0.1 1.3 -0.6 1.3 0.3 1.4 -0.4 1.3 0 1.3 0 1.4 -0.4 1.3 -0.7 1.3 -1.2 1.4 -0.3 1.3 0.4 1.3 1.1 1.4 0.6 1.3 -1.7 1.3 -0.5 1.4 0.5 1.3 -0.5 1.3 0 1.4 -0.2 1.3 -0.2 1.4 -0.2 1.3 1.1 1.3 0.9 1.4 -0.5 1.3 -0.2 1.3 -0.8 1.4 -0.3 1.3 0.3 1.3 0.3 1.4 0.6 1.3 -0.2 1.3 0 1.4 -0.1 1.3 0.4 1.3 0.4 1.4 -0.1 1.3 -0.6 1.3 0 1.4 0.6 1.3 0.5 1.3 -0.2 1.4 0.1 1.3 0.3 1.3 0.1 1.4 -0.4 1.3 -0.5 1.4 0.5 1.3 0.5 1.3 -0.1 1.4 -1.1 1.3 0 1.3 0.2 1.4 0.4 1.3 -0.7 1.3 0.3 1.4 -0.2 1.3 -0.8 1.3 -0.5 1.4 0.5 1.3 -0.2 1.3 -0.5 1.4 0.3 1.3 -0.3 1.3 0.4 1.4 -0.1 1.3 -0.9 1.3 0.4 1.4 0.4 1.3 -0.3 1.3 -0.6 1.4 0.5 1.3 -0.3 1.4 -0.7 1.3 -0.2 1.3 -0.3 1.4 -0.2 1.3 -0.2 1.3 -0.7 1.4 -0.5 1.3 0.1 1.3 -0.6 1.4 -0.2 1.3 -0.3 1.3 0.4 1.4 -0.9 1.3 -0.8 1.3 -0.1 1.4 -0.6 1.3 -0.3 1.3 0 1.4 0 1.3 0.4 1.3 -0.9 1.4 -0.6 1.3 0.1 1.3 0.3 1.4 0.1 1.3 0.2 1.4 -0.6 1.3 -0.8 1.3 -0.2 1.4 0 1.3 -0.6 1.3 -0.9 1.4 -0.5 1.3 0.7 1.3 0.5 1.4 0 1.3 0.2 1.3 -0.4 1.4 0.2 1.3 0.4 1.3 0.4 1.4 0.3 1.3 -0.4 1.3 -0.5 1.4 -0.3 1.3 0.2 1.3 0.5 1.4 -0.3 1.3 -0.1 1.3 0.3 1.4 -0.2 1.3 -0.1 1.4 0.1 1.3 0.4 1.3 -0.4 1.4 -0.2 1.3 0.7 1.3 0.3 1.4 0.4 1.3 -0.8 1.3 -0.6 1.4 0.5 1.3 0.7 1.3 0.4 1.4 0.8 1.3 0.3 1.3 0.1 1.4 0 1.3 -0.2 1.3 -0.4 1.4 0.8 1.3 0.5 1.3 -0.3 1.4 0.1 1.3 0.3 1.3 0.6 1.4 -0.4 1.3 -0.7 1.4 0.1 1.3 0 1.3 -0.3 1.4 -0.3 1.3 0.5 1.3 -0.3 1.4 -0.1 1.3 0.2 1.3 -0.4 1.4 0 1.3 0.1 1.3 0.2 1.4 -0.2 1.3 0 1.3 0 1.4 -0.1 1.3 -0.1 1.3 -0.2 1.4 -0.2 1.3 0.2 1.3 -0.3 1.4 0 1.3 0.6 1.3 0.5 1.4 0.1 1.3 0.2 1.3 -0.3 1.4 -0.4 1.3 0.1 1.4 -0.1 1.3 0.4 1.3 0.6 1.4 -0.3 1.3 -0.4 1.3 0.1 1.4 -0.2 1.3 0.1 1.3 0.6 1.4 0.3 1.3 -0.1 1.3 0.1 1.4 -0.3 1.3 -0.2 1.3 0.4 1.4 0.6 1.3 -0.2 1.3 -0.3 1.4 -0.2 1.3 -0.2 1.3 0.7 1.4 0.7 1.3 -0.3 1.3 -0.3 1.4 0.3 1.3 0.2 1.4 -0.3 1.3 0.2 1.3 0.3 1.4 0.1 1.3 -0.3 1.3 -0.1 1.4 -0.5 1.3 -0.3 1.3 0.1 1.4 0.5 1.3 0.3 1.3 0.2 1.4 -0.4 1.3 -0.8 1.3 0.6 1.4 -0.1 1.3 -0.6 1.3 0.1 1.4 0.2 1.3 0.3 1.3 -0.3 1.4 0.2 1.3 0.1 1.3 -0.1 1.4 -0.1 1.3 0 1.4 0.1 1.3 -0.1 1.3 -0.2 1.4 -0.1 1.3 0 1.3 0.3 1.4 0.4 1.3 0.1 1.3 -0.4 1.4 0 1.3 1 1.3 -0.1 1.4 -0.2 1.3 -0.2 1.3 -0.2 1.4 -0.2 1.3 -0.2 1.3 0.2 1.4 0 1.3 -0.2 1.3 0.4 1.4 0.4 1.3 -0.5 1.3 -0.7 1.4 0.4 1.3 0.7 1.4 -0.2 1.3 -0.8 1.3 -0.1 1.4 0.4 1.3 0.2 1.3 -0.2 1.4 -0.3 1.3 0 1.3 0 1.4 0.1 1.3 0.3 1.3 0.5 1.4 0.8 1.3 -0.8 1.3 -0.4 1.4 0.6 1.3 0.4 1.3 0.1 1.4 0 1.3 0.2 1.3 0 1.4 0.2 1.3 -0.1 1.3 -0.2 1.4 -0.5 1.3 0 1.4 -0.1 1.3 0.5 1.3 0 1.4 -0.6 1.3 0.4 1.3 0.3 1.4 -0.4 1.3 0 1.3 0.2 1.4 0 1.3 -0.4 1.3 -0.1 1.4 0.3 1.3 -0.1 1.3 0 1.4 -0.6 1.3 0.5 1.3 0.1 1.4 -0.3 1.3 0.5 1.3 -0.2 1.4 -0.6 1.3 -0.2 1.3 0.7 1.4 -0.2 1.3 -0.4 1.4 0.4 1.3 -0.1 1.3 0 1.4 0 1.3 -0.1 1.3 -0.2 1.4 -0.5 1.3 -0.3 1.3 0 1.4 0.1 1.3 0.6 1.3 0.1 1.4 -0.4 1.3 -0.7 1.3 0.2 1.4 0.3 1.3 -0.4 1.3 0.1 1.4 0.1 1.3 -0.1 1.3 0.4 1.4 -0.6 1.3 0.6 1.3 0.1 1.4 -0.5 1.3 -0.2 1.4 0 1.3 -0.1 1.3 0.2 1.4 0.7 1.3 0.2 1.3 0 1.4 -0.2 1.3 0.2 1.3 0.1 1.4 0.1 1.3 0.2 1.3 0.3 1.4 -0.2 1.3 -0.1 1.3 0.4 1.4 0.3 1.3 0 1.3 0.6 1.4 -0.7 1.3 -0.6 1.3 0.3 1.4 0.1 1.3 0.5 1.3 0.3 1.4 -0.6 1.3 -0.3 1.4 -0.7 1.3 0.8 1.3 -0.2 1.4 -0.5 1.3 -0.3 1.3 0.5 1.4 0.1 1.3 -0.1 1.3 -0.4 1.4 -0.3 1.3 -0.1 1.3 -0.2 1.4 0.2 1.3 0.3 1.3 -0.1 1.4 -0.3 1.3 0.1 1.3 0 1.4 0.1 1.3 -0.2 1.3 0.2 1.4 0.1 1.3 0.2 1.3 0.2 1.4 0.1 1.3 0.3 1.4 -0.2 1.3 0.4 1.3 -0.3 1.4 -0.2 1.3 -0.3 1.3 -0.2 1.4 0.5 1.3 -0.4 1.3 0.1 1.4 0.6 1.3 -0.5 1.3 -0.7 1.4 0.1 1.3 -0.3 1.3 0.2 1.4 0.2 1.3 -0.1 1.3 -0.2 1.4 -0.4 1.3 0.1 1.3 0.5 1.4 0.2 1.3 -0.1 1.3 0.3 1.4 0.3 1.3 -0.3 1.4 -0.2 1.3 0.3 1.3 0.6 1.4 -0 1.3 -0.2 1.3 0.3 1.4 -0.3 1.3 0.1 1.3 0.3 1.4 -0.5 1.3 -0.3 1.3 0.2 1.4 0.4 1.3 -0.2"/><path id="r16" d="M2276.2 275.9l1.3 21.1 1.4 17.7 1.3 1.8 1.3 5 1.4 3.2 1.3 0.7 1.3 1 1.4 -0.5 1.3 -1.1 1.3 -1.2 1.4 -1 1.3 0.6 1.4 1.2 1.3 -0.1 1.3 -1.1 1.4 -1.2 1.3 0.3 1.3 -0.9 1.4 -0.2 1.3 0 1.3 0.7 1.4 -0.4 1.3 0.5 1.3 -0.5 1.4 0.1 1.3 1.3 1.3 1.1 1.4 -1.2 1.3 -0.9 1.3 0.9 1.4 1.9 1.3 -0.5 1.3 -0.2 1.4 0.9 1.3 -0.3 1.3 0.8 1.4 -0.1 1.3 -0.1 1.4 0.6 1.3 -0.4 1.3 -0.6 1.4 -0.5 1.3 0.5 1.3 1.2 1.4 0.3 1.3 -0.6 1.3 -0.2 1.4 0.7 1.3 0 1.3 -1.1 1.4 0 1.3 -0.9 1.3 1 1.4 0.6 1.3 0.1 1.3 0.1 1.4 -0.8 1.3 0.3 1.3 0.1 1.4 -0.5 1.3 -0.4 1.3 -0.3 1.4 -1.5 1.3 -0.9 1.4 -0.5 1.3 0.2 1.3 -0.3 1.4 -0.9 1.3 -0 1.3 -0 1.4 -0.5 1.3 -0.6 1.3 0.3 1.4 -0.1 1.3 -0.5 1.3 -0.4 1.4 0.6 1.3 -0.5 1.3 -0.3 1.4 0.3 1.3 2.1 1.3 0.7 1.4 -0.7 1.3 -0.3 1.3 0.2 1.4 0.8 1.3 0.1 1.3 0.1 1.4 0.4 1.3 1.3 1.4 -0.1 1.3 0.6 1.3 -0.1 1.4 0.5 1.3 0.1 1.3 -1 1.4 -0.6 1.3 1.3 1.3 1.4 1.4 -0.5 1.3 -1.1 1.3 0.9 1.4 0.8 1.3 -0.4 1.3 0.3 1.4 1 1.3 -0 1.3 -0.4 1.4 0.3 1.3 1 1.3 -0 1.4 -0.1 1.3 1.4 1.3 0.8 1.4 0.5 1.3 0.7 1.4 0.2 1.3 0.7 1.3 0.6 1.4 0.5 1.3 -0 1.3 0.7 1.4 1 1.3 -0.2 1.3 0.1 1.4 0.5 1.3 0.6 1.3 -0.1 1.4 -0.5 1.3 -0.2 1.3 0.5 1.4 -0.1 1.3 0.7 1.3 0.7 1.4 -0.5 1.3 -0 1.3 0.5 1.4 0.2 1.3 0.2 1.3 -0.1 1.4 0.4 1.3 0.3 1.4 0.9 1.3 0.5 1.3 -0.8 1.4 0.5 1.3 0.1 1.3 0.3 1.4 -0 1.3 0.4 1.3 0.5 1.4 -0.4 1.3 0.4 1.3 0.4 1.4 -0.9 1.3 -0.5 1.3 0.2 1.4 -0.7 1.3 0.2 1.3 0.3 1.4 0.8 1.3 0.2 1.3 -0.1 1.4 -0.3 1.3 -0.2 1.3 0.3 1.4 0.5 1.3 -0.3 1.4 0.6 1.3 -0.5 1.3 0.1 1.4 -0.5 1.3 -0.3 1.3 0.1 1.4 0.6 1.3 0.8 1.3 0.1 1.4 0.2 1.3 0.1 1.3 -0.4 1.4 0.5 1.3 0.3 1.3 0.3 1.4 -0.3 1.3 -0.3 1.3 0.2 1.4 0.3 1.3 0.2 1.3 0.1 1.4 0.3 1.3 -0 1.3 0.2 1.4 -0.4 1.3 -0 1.4 -0.1 1.3 -0.3 1.3 0.6 1.4 -0.2 1.3 0.1 1.3 -0.6 1.4 -0.6 1.3 -0 1.3 0.2 1.4 -0.3 1.3 0.4 1.3 -0.4 1.4 -0 1.3 0.3 1.3 -0.4 1.4 0.1 1.3 0.2 1.3 0.1 1.4 0.6 1.3 0.4 1.3 -0.3 1.4 -0.4 1.3 0.6 1.3 -0.5 1.4 -0.3 1.3 0.8 1.4 -0.1 1.3 0.4 1.3 -0.2 1.4 -0.3 1.3 0.3 1.3 0.4 1.4 -0.7 1.3 -0 1.3 0.7 1.4 0.1 1.3 -0.2 1.3 0.3 1.4 -0.4 1.3 -0 1.3 -0.1 1.4 0.1 1.3 0.3 1.3 -0.3 1.4 -0 1.3 0.1 1.3 -0.2 1.4 0.1 1.3 -0.5 1.3 -0.1 1.4 0.3 1.3 -0.2 1.3 0.2 1.4 0.3 1.3 0.3 1.4 -0 1.3 -0.4 1.3 -0 1.4 -0 1.3 0.3 1.3 -0 1.4 -0.3 1.3 -0.2 1.3 -0.3 1.4 0.4 1.3 0.1 1.3 -0 1.4 0.2 1.3 0.3 1.3 0.3 1.4 -0.4 1.3 -0 1.3 -0.3 1.4 0.6 1.3 -0.1 1.3 -0.7 1.4 0.1 1.3 0.4 1.3 0.4 1.4 -0.2 1.3 0.3 1.4 -0 1.3 -0.4 1.3 0.8 1.4 -0 1.3 0.7 1.3 -0.4 1.4 -0.1 1.3 -0 1.3 -0.5 1.4 0.8 1.3 -0.1 1.3 -0 1.4 -0.4 1.3 -0.4 1.3 0.3 1.4 0.5 1.3 -0.4 1.3 -0.3 1.4 -0.1 1.3 0.2 1.3 -0.4 1.4 -0.6 1.3 0.8 1.3 -0 1.4 -0 1.3 0.6 1.4 -0 1.3 -0.3 1.3 0.4 1.4 0.2 1.3 0.2 1.3 -0.1 1.4 -0 1.3 0.3 1.3 -0.3 1.4 -0.3 1.3 -0 1.3 -0.6 1.4 1.1 1.3 0.3 1.3 -0.6 1.4 -0.5 1.3 0.3 1.3 0.3 1.4 -0.6 1.3 0.4 1.3 0.3 1.4 0.1 1.3 0.2 1.3 -0.9 1.4 -0.2 1.3 0.8 1.4 -0.1 1.3 -0.3 1.3 0.4 1.4 -0 1.3 0.2 1.3 0.1 1.4 -0.8 1.3 -0.1 1.3 0.3 1.4 -0.3 1.3 -0 1.3 0.3 1.4 -0.1 1.3 -0.7 1.3 -0.3 1.4 0.6 1.3 0.2 1.3 0.2 1.4 -0.2 1.3 -0.4 1.3 0.2 1.4 -0 1.3 0.3 1.3 0.2 1.4 0.3 1.3 0.1 1.4 0.4 1.3 -0.7 1.3 -0.4 1.4 -0 1.3 0.2 1.3 -0.6 1.4 -0.2 1.3 0.5 1.3 0.1 1.4 -0.2 1.3 0.5 1.3 0.1 1.4 -0.2 1.3 0.1 1.3 -0.2 1.4 -0 1.3 0.3 1.3 -0 1.4 -0.3 1.3 -0.1 1.3 -0.3 1.4 0.7 1.3 0.9 1.3 -0.2 1.4 -0.2 1.3 -0 1.4 -0 1.3 0.2 1.3 -0.4 1.4 -0.9 1.3 0.1 1.3 0.6 1.4 -0.6 1.3 -0.2 1.3 0.5 1.4 -0.4 1.3 -0.5 1.3 -0 1.4 -0 1.3 -0.1 1.3 0.5 1.4 0.1 1.3 -0.3 1.3 -0.3 1.4 0.2 1.3 0.2 1.3 0.6 1.4 -0.3 1.3 0.2 1.3 0.2 1.4 -0 1.3 0.2 1.4 -0 1.3 -0 1.3 0.3 1.4 0.1 1.3 -0.2 1.3 -0.6 1.4 -0.3 1.3 0.5 1.3 0.2 1.4 -0.1 1.3 0.5 1.3 -0.6 1.4 0.2 1.3 0.4 1.3 0.4 1.4 -0 1.3 -0.4 1.3 -0.2 1.4 -0.2 1.3 0.6 1.3 -0 1.4 0.3 1.3 0.3 1.3 -0.7 1.4 -0.2 1.3 0.3 1.4 0.3 1.3 0.4 1.3 0.2 1.4 -0.6 1.3 -0 1.3 0.1 1.4 -0.2 1.3 -0.4 1.3 0.4 1.4 0.4 1.3 -0.3 1.3 -0.4 1.4 0.7 1.3 -0 1.3 -0.5 1.4 -0.1 1.3 0.1 1.3 -0 1.4 0.3 1.3 0.4 1.3 0.1 1.4 -0.4 1.3 -0.4 1.3 -0 1.4 -0.7 1.3 0.4 1.4 0.3 1.3 -0.1 1.3 0.5 1.4 -0.4 1.3 -0.7 1.3 0.5 1.4 0.2 1.3 -0.1 1.3 -0.6 1.4 0.2 1.3 0.4 1.3 -0.2 1.4 0.1 1.3 -0 1.3 -0.3 1.4 -0.2 1.3 1.2 1.3 0.2 1.4 -0.4 1.3 -0.1 1.3 -0 1.4 0.2 1.3 -0.2 1.3 0.2 1.4 0.6 1.3 -0.2 1.4 -1 1.3 -0.2 1.3 -0.2 1.4 0.5 1.3 -0.7 1.3 -0.3 1.4 0.2 1.3 -0.2 1.3 0.2 1.4 -0.6 1.3 0.1 1.3 -0.2 1.4 -0.3 1.3 0.1"/><path id="r17" d="M2276.2 408.8l1.3 -3.4 1.4 -1.1 1.3 0.3 1.3 -0.4 1.4 0.7 1.3 0.4 1.3 -1.2 1.4 1.9 1.3 -0.5 1.3 -1.3 1.4 -0.7 1.3 -0.2 1.4 -0.4 1.3 0.9 1.3 -0.1 1.4 -0.8 1.3 0.9 1.3 0.1 1.4 0.5 1.3 -0.3 1.3 0.4 1.4 0 1.3 -0.2 1.3 -0.7 1.4 0.4 1.3 -0.2 1.3 -1.5 1.4 0.5 1.3 0.7 1.3 0.3 1.4 0.7 1.3 0.1 1.3 0.4 1.4 -0.3 1.3 -0.4 1.3 -0.7 1.4 -0.4 1.3 -0.1 1.4 0.3 1.3 0.8 1.3 -0.9 1.4 -0.4 1.3 -1.4 1.3 0.6 1.4 -0.7 1.3 -0.7 1.3 -0.2 1.4 0.5 1.3 0.1 1.3 -0.6 1.4 -0.2 1.3 0.6 1.3 -0.2 1.4 -0.7 1.3 -0.8 1.3 0.6 1.4 0.1 1.3 0.1 1.3 0.4 1.4 0.4 1.3 0.5 1.3 -0.2 1.4 0.8 1.3 -0.7 1.4 0.4 1.3 0.6 1.3 0.5 1.4 -0.1 1.3 0.6 1.3 0.4 1.4 0.3 1.3 0.5 1.3 -0.7 1.4 -0.6 1.3 -0 1.3 0.2 1.4 -0.5 1.3 -0.7 1.3 -0.4 1.4 -1 1.3 0.2 1.3 -0.3 1.4 -1 1.3 0.1 1.3 0.4 1.4 -0.3 1.3 -0.9 1.3 0.1 1.4 -0.6 1.3 -0.7 1.4 -0.2 1.3 -0.1 1.3 0.4 1.4 -0 1.3 -0.6 1.3 0.1 1.4 -0.6 1.3 -0.2 1.3 0.4 1.4 -0.4 1.3 -0 1.3 0.1 1.4 0.8 1.3 -0.1 1.3 -0.7 1.4 -0 1.3 0.7 1.3 -0.2 1.4 0.1 1.3 -0.3 1.3 0.8 1.4 -0 1.3 -0.8 1.3 0.5 1.4 -0.2 1.3 0.5 1.4 0.4 1.3 -0.2 1.3 0.3 1.4 1.1 1.3 0.5 1.3 -0.2 1.4 0.1 1.3 -0.5 1.3 0.4 1.4 0.4 1.3 0.4 1.3 -0.2 1.4 -0.7 1.3 0.5 1.3 0.2 1.4 -0.6 1.3 -0.3 1.3 0.2 1.4 0.2 1.3 -0.3 1.3 -0.1 1.4 0.7 1.3 -0.6 1.3 -0.5 1.4 0.5 1.3 0.7 1.4 0.3 1.3 -0.2 1.3 -1 1.4 -0 1.3 0.4 1.3 1.3 1.4 1 1.3 0.1 1.3 -0.8 1.4 -0.5 1.3 0.3 1.3 0.4 1.4 -0.8 1.3 0.2 1.3 0.6 1.4 -0.1 1.3 0.2 1.3 -0 1.4 -0.4 1.3 0.2 1.3 0.1 1.4 0.1 1.3 -0.3 1.3 -0.5 1.4 0.2 1.3 0.9 1.4 0.4 1.3 -0.1 1.3 -0.9 1.4 0.3 1.3 0.8 1.3 -0.4 1.4 -0.5 1.3 0.1 1.3 -0 1.4 -0.2 1.3 0.5 1.3 0.2 1.4 -0.9 1.3 0.4 1.3 0.1 1.4 0.4 1.3 -0.5 1.3 -0 1.4 -0.5 1.3 0.2 1.3 0.2 1.4 0.8 1.3 0.3 1.3 -0.3 1.4 -0.9 1.3 -0.1 1.4 0.5 1.3 -0.3 1.3 0.2 1.4 0.1 1.3 0.2 1.3 0.2 1.4 -0.1 1.3 0.1 1.3 0.6 1.4 0.3 1.3 0.1 1.3 -0.4 1.4 -0.1 1.3 -0.1 1.3 -0 1.4 -0.8 1.3 0.6 1.3 -0 1.4 -0 1.3 0.5 1.3 -0.1 1.4 -0.6 1.3 -0.3 1.3 -0.1 1.4 0.3 1.3 -0.1 1.4 -0 1.3 0.2 1.3 -0.7 1.4 0.5 1.3 0.4 1.3 0.3 1.4 0.1 1.3 0.6 1.3 -0.7 1.4 -0.2 1.3 0.2 1.3 0.2 1.4 -0.1 1.3 0.3 1.3 0.4 1.4 -0 1.3 -0.3 1.3 0.4 1.4 -0.4 1.3 -0.6 1.3 0.5 1.4 0.4 1.3 -0.7 1.3 0.5 1.4 0 1.3 0.1 1.3 -0.1 1.4 -0.2 1.3 -0.2 1.4 0.1 1.3 0.3 1.3 -0.3 1.4 0.1 1.3 0.2 1.3 0.1 1.4 -0 1.3 -0.6 1.3 -0.2 1.4 0.4 1.3 -0.2 1.3 -0.1 1.4 0.2 1.3 0 1.3 -0.1 1.4 -0.5 1.3 0.4 1.3 0.7 1.4 -0.3 1.3 0 1.3 -0.1 1.4 -0.1 1.3 -0.7 1.3 -0.6 1.4 0.9 1.3 0.3 1.4 -0.3 1.3 -0.3 1.3 -0.7 1.4 0.4 1.3 0.6 1.3 0 1.4 -0.2 1.3 -0.3 1.3 0 1.4 -0.1 1.3 -0.6 1.3 0.5 1.4 0.3 1.3 0.6 1.3 -0.3 1.4 -0.2 1.3 0.2 1.3 0.3 1.4 0.2 1.3 -0.1 1.3 -0.3 1.4 0.1 1.3 0.6 1.3 0.1 1.4 -0.4 1.3 -0.3 1.4 0.2 1.3 -0.2 1.3 0.1 1.4 0 1.3 -0.3 1.3 0 1.4 0.7 1.3 0.1 1.3 0.2 1.4 -0.3 1.3 0.6 1.3 0.1 1.4 -0.7 1.3 0.1 1.3 0.3 1.4 0.7 1.3 0 1.3 -0.7 1.4 0.5 1.3 0.1 1.3 -0.4 1.4 0.3 1.3 -0.2 1.3 0.2 1.4 -0.1 1.3 -0.4 1.4 -0.3 1.3 -0.4 1.3 0.1 1.4 0.1 1.3 0.2 1.3 0.3 1.4 0.2 1.3 -0.3 1.3 -0.5 1.4 -0.6 1.3 -0.4 1.3 -0.3 1.4 0.7 1.3 0.2 1.3 -0.6 1.4 0 1.3 0.7 1.3 -0.2 1.4 -0.7 1.3 -0.2 1.3 0.1 1.4 -0.2 1.3 -0 1.3 0.3 1.4 -0.1 1.3 -0.4 1.4 -0.1 1.3 0.3 1.3 0.7 1.4 -0.1 1.3 -0.5 1.3 -0.1 1.4 0 1.3 -0.3 1.3 -0.3 1.4 0.5 1.3 0.1 1.3 0.1 1.4 0.2 1.3 -0.2 1.3 -0.7 1.4 -0.7 1.3 -0 1.3 0.1 1.4 -0.3 1.3 0.3 1.3 0.5 1.4 -0.3 1.3 -0.8 1.3 0.3 1.4 0.8 1.3 -0.2 1.4 -0.1 1.3 0.4 1.3 -0 1.4 0.3 1.3 -0.2 1.3 -0.1 1.4 0.2 1.3 -0 1.3 -0.2 1.4 0.4 1.3 0.4 1.3 0 1.4 0.2 1.3 0.5 1.3 0.1 1.4 -0.3 1.3 -0.2 1.3 0 1.4 1 1.3 0 1.3 -1.1 1.4 -0.2 1.3 0.4 1.3 0 1.4 0.1 1.3 0.3 1.4 0.1 1.3 -0.2 1.3 -0.1 1.4 -0.1 1.3 -0.2 1.3 0.2 1.4 -0.1 1.3 -0.2 1.3 -0.9 1.4 -0.1 1.3 0.6 1.3 0.2 1.4 -0.1 1.3 0.2 1.3 0 1.4 -0.3 1.3 0.2 1.3 -0.1 1.4 0.4 1.3 -0.3 1.3 0.1 1.4 -0.9 1.3 0.4 1.3 0.8 1.4 -0.2 1.3 -0.5 1.4 0 1.3 0.4 1.3 0.7 1.4 -0.3 1.3 -0.1 1.3 0.6 1.4 -0.3 1.3 -0.1 1.3 0.3 1.4 -0.3 1.3 -0.1 1.3 0.6 1.4 -0.3 1.3 -0.2 1.3 0.2 1.4 -0.6 1.3 -0.7 1.3 0.4 1.4 0.8 1.3 -0.3 1.3 0.1 1.4 0 1.3 -0.3 1.3 0.4 1.4 -0.1 1.3 -0.6 1.4 -0.4 1.3 0.2 1.3 0.1 1.4 0.5 1.3 0 1.3 -0.5 1.4 0.2 1.3 0.1 1.3 -0.1 1.4 0.2 1.3 -0.2 1.3 -0.7 1.4 -0.2 1.3 0.3 1.3 -0.1 1.4 0.3 1.3 -0.2 1.3 0 1.4 -0.5 1.3 0.3 1.3 -0.1 1.4 -0.5 1.3 -0.5 1.3 0.3 1.4 0.6 1.3 0.4 1.4 -0.5 1.3 0.1 1.3 -0.2 1.4 0.8 1.3 0.3 1.3 0 1.4 0.2 1.3 -0.2 1.3 0 1.4 0.2 1.3 0.2 1.3 0.3 1.4 -0.1 1.3 -0.1"/><path id="r18" d="M2276.2 473.2l1.3 -10.3 1.4 -13.4 1.3 -9.9 1.3 -9.4 1.4 -8.9 1.3 -9.4 1.3 -10.9 1.4 -10.3 1.3 -5.9 1.3 0.9 1.4 9.6 1.3 10.6 1.4 7.1 1.3 0.9 1.3 0.8 1.4 0.5 1.3 -0.5 1.3 -0.6 1.4 0.1 1.3 1.1 1.3 0.1 1.4 -0.4 1.3 -0.5 1.3 -0 1.4 -0.2 1.3 0.1 1.3 -0.2 1.4 0.7 1.3 -0 1.3 -0.3 1.4 -1.3 1.3 -0.6 1.3 1.9 1.4 -0.5 1.3 -0.9 1.3 0.1 1.4 0.4 1.3 -0.4 1.4 1 1.3 0.2 1.3 -0.1 1.4 -0.3 1.3 -0.9 1.3 -0.2 1.4 0.7 1.3 0.1 1.3 0.4 1.4 -0.8 1.3 -0.5 1.3 -0.4 1.4 -1 1.3 0.4 1.3 1.4 1.4 -0.6 1.3 -0.4 1.3 -0.9 1.4 -0.2 1.3 -0.6 1.3 -0.5 1.4 -0.7 1.3 -0.1 1.3 0.9 1.4 0.2 1.3 -1.8 1.4 0.1 1.3 1.3 1.3 -0.3 1.4 -0.2 1.3 1.2 1.3 0.2 1.4 0.8 1.3 -0.4 1.3 1.5 1.4 0.4 1.3 -0.3 1.3 0.4 1.4 1.9 1.3 -0.2 1.3 -0.2 1.4 0.6 1.3 0.6 1.3 0.3 1.4 0.4 1.3 0.2 1.3 1.1 1.4 1.1 1.3 0.1 1.3 -0 1.4 0.1 1.3 -0 1.4 -0 1.3 0.4 1.3 0.5 1.4 0.5 1.3 -0.9 1.3 -0.1 1.4 1.2 1.3 1.3 1.3 -0.4 1.4 -0.1 1.3 -0.1 1.3 -1 1.4 0.5 1.3 0.3 1.3 -0.2 1.4 -0.9 1.3 0.4 1.3 0.6 1.4 0.4 1.3 0.3 1.3 0.2 1.4 0.1 1.3 -1.1 1.3 1 1.4 0.4 1.3 -0.1 1.4 0.7 1.3 0.2 1.3 -0 1.4 -0.7 1.3 0.3 1.3 0.6 1.4 -0.3 1.3 0.3 1.3 -0.3 1.4 -0.2 1.3 0.5 1.3 -0.4 1.4 -0.3 1.3 0.1 1.3 0.7 1.4 -0.6 1.3 -0.4 1.3 0.3 1.4 1 1.3 -0 1.3 -0.3 1.4 -0.6 1.3 0.2 1.3 -0.2 1.4 -0.4 1.3 0.6 1.4 -0.2 1.3 -0.4 1.3 -0.2 1.4 0.1 1.3 0.1 1.3 -0.1 1.4 0.5 1.3 -0.8 1.3 -0.4 1.4 -0.4 1.3 0.1 1.3 -0.1 1.4 -0.1 1.3 0.3 1.3 0.2 1.4 -0.5 1.3 -0.5 1.3 -0.1 1.4 0.3 1.3 -0.1 1.3 0.4 1.4 -0.2 1.3 0.1 1.3 0.2 1.4 -0.2 1.3 0.1 1.4 -0 1.3 -0.1 1.3 -0.2 1.4 -0.9 1.3 -0.2 1.3 0.3 1.4 1 1.3 0.3 1.3 0.1 1.4 -0.9 1.3 -0.5 1.3 0.1 1.4 0.4 1.3 -0.5 1.3 -0.2 1.4 -0.2 1.3 -0.6 1.3 1.2 1.4 0.2 1.3 -0.6 1.3 -0.1 1.4 -0.1 1.3 0.3 1.3 0.2 1.4 -0.2 1.3 0.2 1.4 0.3 1.3 -0.5 1.3 -1 1.4 -0.4 1.3 0.5 1.3 0.2 1.4 -0.2 1.3 -0.1 1.3 0.3 1.4 0.5 1.3 -0.9 1.3 -0.2 1.4 -0 1.3 0.4 1.3 0.5 1.4 -0.6 1.3 -0.2 1.3 0.5 1.4 -0.3 1.3 0.7 1.3 -0.2 1.4 -0.4 1.3 0.1 1.3 -0.2 1.4 -0.3 1.3 0.3 1.4 -0 1.3 -0 1.3 0.4 1.4 -0.7 1.3 -0.1 1.3 0.4 1.4 -0.1 1.3 -0.4 1.3 -0.6 1.4 -0 1.3 0.4 1.3 -0.2 1.4 0.3 1.3 0.2 1.3 -0.4 1.4 0.5 1.3 -0.5 1.3 -0.9 1.4 -0 1.3 0.4 1.3 -0 1.4 -0 1.3 0.1 1.3 -0.4 1.4 -0 1.3 -0.1 1.3 0.2 1.4 -0.1 1.3 0.2 1.4 -0.5 1.3 -0.1 1.3 0.8 1.4 -0.3 1.3 -0.2 1.3 0.3 1.4 -0.5 1.3 -0.2 1.3 -0 1.4 0.5 1.3 -0.1 1.3 -0.3 1.4 0.2 1.3 0.4 1.3 0.5 1.4 -0.5 1.3 -0.6 1.3 -0.3 1.4 0.6 1.3 -0.4 1.3 -0.7 1.4 0.5 1.3 0.1 1.3 -0.3 1.4 -0.8 1.3 -0.3 1.4 -0.2 1.3 0.5 1.3 -0.2 1.4 -1.3 1.3 0.6 1.3 0.4 1.4 -0.1 1.3 -0.4 1.3 0.4 1.4 -0.1 1.3 -0.4 1.3 0.4 1.4 0.1 1.3 -0.1 1.3 -0.1 1.4 -0.1 1.3 -0 1.3 0.5 1.4 -0.2 1.3 0.1 1.3 0.6 1.4 -0.6 1.3 -0 1.3 -0.2 1.4 0.2 1.3 -0.3 1.4 -0.1 1.3 0.2 1.3 0.1 1.4 -0.6 1.3 0.1 1.3 0.3 1.4 0.4 1.3 -0.1 1.3 -0.3 1.4 -0.4 1.3 -0 1.3 0.5 1.4 -0.1 1.3 -0.5 1.3 0.5 1.4 -0.4 1.3 -0 1.3 0.4 1.4 0.5 1.3 0.6 1.3 -0.7 1.4 -0.3 1.3 0.5 1.3 -0.4 1.4 -0.6 1.3 -0.2 1.4 -0.1 1.3 0.4 1.3 -0.1 1.4 -0.3 1.3 0.3 1.3 -0.4 1.4 -0.4 1.3 -0 1.3 0.1 1.4 -0.2 1.3 -0.4 1.3 -0 1.4 0.3 1.3 0.3 1.3 0.3 1.4 -0.7 1.3 -0 1.3 -0 1.4 0.7 1.3 0.1 1.3 0.1 1.4 -0.6 1.3 -0.1 1.3 0.2 1.4 0.2 1.3 0.3 1.4 0.4 1.3 -0.2 1.3 0.4 1.4 0.1 1.3 0.2 1.3 0.3 1.4 0.2 1.3 0.1 1.3 0.4 1.4 0.2 1.3 0.3 1.3 -0.2 1.4 -0 1.3 0.4 1.3 -0.1 1.4 0.3 1.3 -0.2 1.3 -0.1 1.4 -0.3 1.3 -0.6 1.3 0.2 1.4 -0 1.3 -0.7 1.3 -1 1.4 0.7 1.3 0.4 1.4 -0.7 1.3 -0.6 1.3 0.2 1.4 0.2 1.3 0.1 1.3 -0 1.4 0.2 1.3 -0.5 1.3 -0.8 1.4 -0.2 1.3 0.5 1.3 -0 1.4 -0 1.3 -0.1 1.3 0.4 1.4 -0.2 1.3 0.2 1.3 0.1 1.4 -0.2 1.3 0.1 1.3 -0.5 1.4 1 1.3 0.5 1.3 -0.5 1.4 -0.4 1.3 0.4 1.4 0.7 1.3 -0.9 1.3 -0.1 1.4 0.6 1.3 0.6 1.3 -0.3 1.4 0.4 1.3 0.1 1.3 -0.3 1.4 -0.3 1.3 -0.1 1.3 0.4 1.4 -0.5 1.3 -0.3 1.3 0.4 1.4 0.1 1.3 -0.4 1.3 -0.6 1.4 0.1 1.3 0.5 1.3 -0 1.4 0.3 1.3 -0 1.3 -0.3 1.4 0.1 1.3 0.1 1.4 0.6 1.3 -0 1.3 0.2 1.4 -0.1 1.3 0.3 1.3 -0.3 1.4 0.2 1.3 0.7 1.3 -0.2 1.4 -0 1.3 -0.7 1.3 0.6 1.4 0.3 1.3 -0.6 1.3 -0.5 1.4 0.1 1.3 0.8 1.3 -0.5 1.4 -0.4 1.3 0.3 1.3 0.1 1.4 -0.8 1.3 -0.1 1.3 0.4 1.4 -0 1.3 -0.8 1.4 0.4 1.3 0.4 1.3 -0 1.4 0.1 1.3 -0.2 1.3 -0.1 1.4 0.5 1.3 0.1 1.3 -0.1 1.4 0.3 1.3 0.3 1.3 -0.3 1.4 0.4 1.3 0.2 1.3 -0 1.4 0.2 1.3 0.1 1.3 -0.3 1.4 -0.3 1.3 -0 1.3 0.5 1.4 -0 1.3 -0.6 1.3 -0.2 1.4 -0.4 1.3 0.5 1.4 -0.1 1.3 -0.5 1.3 -0 1.4 -0 1.3 0.2 1.3 0.1 1.4 -0.8 1.3 -0.3 1.3 0.5 1.4 0.1 1.3 -0.1 1.3 -0.2 1.4 -0 1.3 0.1"/><path id="r19" d="M2276.2 446.6l1.3 -4.7 1.4 -5.3 1.3 -4.1 1.3 -6.5 1.4 -0.6 1.3 -0.1 1.3 -0.6 1.4 0.2 1.3 2.3 1.3 -0.9 1.4 -2 1.3 1.5 1.4 1.5 1.3 -0.8 1.3 -1.2 1.4 -0.4 1.3 1.3 1.3 0.1 1.4 -0.9 1.3 0.5 1.3 0.1 1.4 -0.5 1.3 -0.5 1.3 -0 1.4 -0.9 1.3 0.4 1.3 -0.2 1.4 -1.3 1.3 -0.1 1.3 -0 1.4 -0.4 1.3 0.4 1.3 0.4 1.4 -0.3 1.3 0.2 1.3 0.2 1.4 0.5 1.3 0 1.4 -0.1 1.3 1.6 1.3 0 1.4 0.3 1.3 0.2 1.3 -0.6 1.4 0.5 1.3 0 1.3 0.3 1.4 0.4 1.3 0.5 1.3 -0.1 1.4 0 1.3 0.2 1.3 -0.3 1.4 1 1.3 -0.2 1.3 -0.5 1.4 0.3 1.3 0.5 1.3 0.6 1.4 -1.3 1.3 0.1 1.3 0.6 1.4 0.9 1.3 1.1 1.4 -0.1 1.3 -0.4 1.3 -0.7 1.4 -0.1 1.3 0.5 1.3 0.1 1.4 0.3 1.3 0.3 1.3 -0.2 1.4 0.3 1.3 -0.2 1.3 0.6 1.4 0.6 1.3 -0.5 1.3 -0 1.4 0.7 1.3 0.6 1.3 -0.8 1.4 -0.1 1.3 0.5 1.3 -0.1 1.4 -0.1 1.3 0.3 1.3 0.6 1.4 -0.4 1.3 0.5 1.4 0.5 1.3 -0.1 1.3 0.5 1.4 -0.1 1.3 -0.3 1.3 0.3 1.4 -0.3 1.3 0 1.3 0.1 1.4 0.4 1.3 -0.6 1.3 0.1 1.4 0.7 1.3 0 1.3 0.1 1.4 -0.4 1.3 -0.1 1.3 -0.7 1.4 -0 1.3 -0.7 1.3 0.9 1.4 0.7 1.3 -0.5 1.3 0.2 1.4 -0.3 1.3 -0.7 1.4 0.4 1.3 0.1 1.3 -0.5 1.4 0.2 1.3 0.3 1.3 0.2 1.4 -0.7 1.3 -0.4 1.3 1 1.4 0.4 1.3 0.2 1.3 0.6 1.4 -0.9 1.3 -0.1 1.3 0.1 1.4 -0.3 1.3 -0 1.3 1 1.4 -0.8 1.3 -0.7 1.3 0.7 1.4 -0.1 1.3 -0.1 1.3 -0.6 1.4 0.1 1.3 -0.4 1.4 0.3 1.3 0.7 1.3 -0.3 1.4 -0.5 1.3 -0.3 1.3 -0.2 1.4 1 1.3 0.3 1.3 -0.3 1.4 -0.1 1.3 0 1.3 0.1 1.4 -0.1 1.3 0.3 1.3 -0.5 1.4 0.1 1.3 -0.1 1.3 0 1.4 -0.1 1.3 -0.2 1.3 0.4 1.4 0.4 1.3 0.3 1.3 -1.2 1.4 0.3 1.3 0.4 1.4 -0.2 1.3 -0.4 1.3 0.3 1.4 -0.2 1.3 0.2 1.3 0 1.4 -0.2 1.3 -0.1 1.3 0 1.4 0 1.3 0.2 1.3 0 1.4 0.4 1.3 0 1.3 -0.5 1.4 0.1 1.3 0.5 1.3 0.3 1.4 -0.5 1.3 -0.1 1.3 0.4 1.4 0.2 1.3 0.1 1.3 0.2 1.4 -0.2 1.3 0.6 1.4 -0.3 1.3 -0.3 1.3 -0.1 1.4 0.2 1.3 0.3 1.3 -0.2 1.4 -0.4 1.3 -1.1 1.3 0.6 1.4 -0.1 1.3 -0.7 1.3 -0.4 1.4 -0.8 1.3 0.8 1.3 0.7 1.4 -0.4 1.3 -0.2 1.3 0.4 1.4 0.2 1.3 -0.2 1.3 -0.3 1.4 0.5 1.3 0.2 1.3 0.2 1.4 0 1.3 0.1 1.4 -0.5 1.3 -0.3 1.3 0.9 1.4 0.3 1.3 -0.8 1.3 -0.4 1.4 -0.4 1.3 -0.2 1.3 0.7 1.4 -0.2 1.3 0.1 1.3 -0.3 1.4 -0.3 1.3 0 1.3 0.1 1.4 -0.7 1.3 -0.5 1.3 0.9 1.4 0.4 1.3 -0.4 1.3 0 1.4 -0.2 1.3 -0.7 1.3 0.4 1.4 1.2 1.3 0.2 1.3 0 1.4 0.6 1.3 0.2 1.4 -0.2 1.3 0.1 1.3 -0.4 1.4 -0.4 1.3 0.4 1.3 0.3 1.4 -0.6 1.3 -0.4 1.3 -0.1 1.4 -0.7 1.3 -0.1 1.3 0.5 1.4 -0.5 1.3 -0.3 1.3 0.5 1.4 0.3 1.3 -0.5 1.3 0 1.4 -0.1 1.3 0 1.3 0.4 1.4 0.5 1.3 -0.5 1.3 -0.3 1.4 -0.2 1.3 0.1 1.4 0.1 1.3 0.2 1.3 0.6 1.4 -0.5 1.3 0 1.3 0.3 1.4 -0.4 1.3 0.1 1.3 0.2 1.4 -0.1 1.3 -0.7 1.3 0.2 1.4 0.9 1.3 0.5 1.3 -0.1 1.4 0 1.3 -0.4 1.3 0.1 1.4 0.3 1.3 0.3 1.3 -0.5 1.4 -0.3 1.3 0.2 1.3 0.1 1.4 -0.3 1.3 0.3 1.4 0.4 1.3 0.1 1.3 -0.1 1.4 -0.3 1.3 -0.3 1.3 0.3 1.4 -0.7 1.3 -0.9 1.3 0.5 1.4 0.9 1.3 -0.1 1.3 -0.5 1.4 0 1.3 0.4 1.3 0.1 1.4 0.2 1.3 0 1.3 -0.8 1.4 -0.5 1.3 0.9 1.3 -0.1 1.4 0.3 1.3 0.2 1.3 -0.2 1.4 -0.3 1.3 0.2 1.4 0.4 1.3 0.7 1.3 0.5 1.4 -0.4 1.3 -0.6 1.3 0.2 1.4 0.3 1.3 0.6 1.3 0.3 1.4 0 1.3 0.3 1.3 -0.5 1.4 -0.2 1.3 -0.5 1.3 0.1 1.4 -0.2 1.3 0.1 1.3 0.1 1.4 -0.2 1.3 -0.4 1.3 -0.3 1.4 0.1 1.3 -0.5 1.3 -0 1.4 0.4 1.3 0.2 1.4 -0.1 1.3 0.7 1.3 -0.4 1.4 -0.1 1.3 0 1.3 0.7 1.4 -0.3 1.3 -0.1 1.3 -0.7 1.4 0.2 1.3 0.7 1.3 -0.5 1.4 -0.2 1.3 0 1.3 -0.2 1.4 0 1.3 -0.7 1.3 -0.9 1.4 -0.3 1.3 -0.5 1.3 0.2 1.4 0 1.3 0 1.3 -0.5 1.4 0 1.3 1.1 1.4 -0.1 1.3 0.1 1.3 -0.1 1.4 0.3 1.3 0 1.3 0.3 1.4 0 1.3 0.6 1.3 -0.1 1.4 -0.1 1.3 0.2 1.3 0.4 1.4 -0.2 1.3 0 1.3 1.3 1.4 -0.1 1.3 -1.1 1.3 0.3 1.4 0 1.3 -0.7 1.3 -0.2 1.4 0.4 1.3 0 1.3 0.1 1.4 -0.3 1.3 -0.3 1.4 0.3 1.3 0.2 1.3 0 1.4 -0.8 1.3 0 1.3 0.2 1.4 0.3 1.3 0.3 1.3 0.2 1.4 0.3 1.3 -0.1 1.3 -0.5 1.4 0 1.3 0.7 1.3 0 1.4 0.2 1.3 0 1.3 -0.7 1.4 -0.5 1.3 -0.2 1.3 0.8 1.4 -0.3 1.3 -0.5 1.3 -0.1 1.4 0.1 1.3 0 1.4 -0.4 1.3 0.1 1.3 -0.5 1.4 -0.2 1.3 -0.1 1.3 0.1 1.4 0 1.3 0.3 1.3 0.4 1.4 0.1 1.3 -0.1 1.3 0 1.4 0 1.3 0.3 1.3 -0.8 1.4 0.4 1.3 0 1.3 0 1.4 -0.5 1.3 -0.4 1.3 0.5 1.4 0.5 1.3 -0.5 1.3 -0.1 1.4 0.1 1.3 -0.1 1.4 0.3 1.3 -0.1 1.3 -0.2 1.4 -0.2 1.3 0.7 1.3 0.3 1.4 -0.9 1.3 0.1 1.3 0.5 1.4 0.5 1.3 0.1 1.3 -0.2 1.4 0.2 1.3 0.4 1.3 0.1 1.4 -0.2 1.3 -0.3 1.3 -0.1 1.4 0 1.3 0.2 1.3 0.2 1.4 -0.4 1.3 -0.3 1.3 -0.2 1.4 0.3 1.3 0.2 1.4 0 1.3 -0.2 1.3 0.4 1.4 0.3 1.3 -0.2 1.3 -0.5 1.4 -0.1 1.3 0.3 1.3 0.1 1.4 -0.1 1.3 -0.1 1.3 0.4 1.4 -0.3 1.3 -0.4"/><path id="r20" d="M2276.2 450.7l1.3 -0.2 1.4 -4.8 1.3 -1.5 1.3 1.9 1.4 -0.7 1.3 2.2 1.3 3.9 1.4 3.7 1.3 3 1.3 2 1.4 -1.5 1.3 -0.4 1.4 0.5 1.3 0.5 1.3 0.7 1.4 1.2 1.3 2.9 1.3 2 1.4 2.7 1.3 0.7 1.3 1.6 1.4 3 1.3 2.9 1.3 2.1 1.4 1.2 1.3 1.7 1.3 0.9 1.4 -0.9 1.3 -2 1.3 -0.8 1.4 -1.2 1.3 -1.3 1.3 -0.8 1.4 0 1.3 -0.3 1.3 -0.1 1.4 -1.2 1.3 -0.9 1.4 0.8 1.3 1 1.3 -0.6 1.4 -0.1 1.3 0.6 1.3 0.8 1.4 0.9 1.3 -0.3 1.3 -0.1 1.4 -0.6 1.3 -0.3 1.3 0.9 1.4 0.6 1.3 -0.1 1.3 0.5 1.4 1.1 1.3 -0.2 1.3 -0.6 1.4 0.2 1.3 1.3 1.3 0.3 1.4 -0.6 1.3 1.3 1.3 1.5 1.4 0.3 1.3 -0.4 1.4 1.2 1.3 1 1.3 0.5 1.4 0.4 1.3 0.7 1.3 0.6 1.4 0.9 1.3 0.2 1.3 0.9 1.4 1.4 1.3 1.1 1.3 0.2 1.4 -0.3 1.3 -0.7 1.3 -0.2 1.4 0.6 1.3 0.1 1.3 0.3 1.4 -0.2 1.3 -0.5 1.3 -0.8 1.4 -0.6 1.3 0.3 1.3 0.3 1.4 0.2 1.3 -0.2 1.4 -0.4 1.3 -0.5 1.3 -0.2 1.4 -0.3 1.3 0.3 1.3 -0.1 1.4 -1.2 1.3 -0.4 1.3 -0.1 1.4 0.2 1.3 -0.3 1.3 -1 1.4 0.6 1.3 0.5 1.3 -0.2 1.4 -0.4 1.3 0.3 1.3 -0.8 1.4 -0.7 1.3 0.3 1.3 0 1.4 -0.7 1.3 -0.3 1.3 -0.3 1.4 -0.2 1.3 -0.5 1.4 -0.1 1.3 0.3 1.3 0.1 1.4 -0.3 1.3 -0.8 1.3 -0.2 1.4 -0.3 1.3 -0.3 1.3 0.3 1.4 1.1 1.3 -0.2 1.3 0.1 1.4 -0.1 1.3 -0.2 1.3 -0.4 1.4 0 1.3 0.2 1.3 0.3 1.4 0 1.3 -0.4 1.3 -0.3 1.4 0.1 1.3 -0.1 1.3 0.6 1.4 0.5 1.3 -0.1 1.4 -0.7 1.3 0.6 1.3 -0.1 1.4 0.5 1.3 0.5 1.3 -0.6 1.4 -0.3 1.3 0.2 1.3 -0.4 1.4 -0.2 1.3 0.8 1.3 0.6 1.4 -0.5 1.3 0.6 1.3 0 1.4 0.2 1.3 0.8 1.3 -0.1 1.4 -0.3 1.3 0.4 1.3 -0.1 1.4 -0.2 1.3 -0.2 1.3 0.3 1.4 0.1 1.3 0.2 1.4 -0.5 1.3 -0.1 1.3 0.7 1.4 0 1.3 -0.2 1.3 0.5 1.4 0.9 1.3 0.1 1.3 -1.1 1.4 0.5 1.3 0.6 1.3 0.4 1.4 0 1.3 -0.5 1.3 0 1.4 0.1 1.3 0.2 1.3 0.7 1.4 0.2 1.3 0.1 1.3 -0.1 1.4 -0.1 1.3 0.7 1.3 0.1 1.4 -0.4 1.3 -0.2 1.4 0.2 1.3 -0.5 1.3 0.3 1.4 0.3 1.3 -1.1 1.3 -0.7 1.4 0 1.3 0.1 1.3 0 1.4 -0.2 1.3 0.1 1.3 -0.6 1.4 -0.9 1.3 0.3 1.3 -0.1 1.4 -0.5 1.3 0.7 1.3 0.3 1.4 -0.3 1.3 0.1 1.3 0.2 1.4 -0.8 1.3 -0.2 1.3 0.2 1.4 0.4 1.3 0 1.4 0.2 1.3 -0.5 1.3 -0.2 1.4 0 1.3 0.7 1.3 -0.1 1.4 0.7 1.3 0.6 1.3 -0.5 1.4 -0.3 1.3 0 1.3 0.6 1.4 0.2 1.3 -0.1 1.3 -0.3 1.4 0.2 1.3 0.4 1.3 -0.2 1.4 -0.1 1.3 0.5 1.3 0.5 1.4 -0.3 1.3 -0.6 1.3 -0.2 1.4 0.9 1.3 0.3 1.3 -0.2 1.4 1 1.3 0.2 1.4 -0.4 1.3 0.2 1.3 0.5 1.4 -0.5 1.3 0.5 1.3 0.7 1.4 -0.3 1.3 0.3 1.3 0.2 1.4 0 1.3 0.5 1.3 0.5 1.4 0.5 1.3 0 1.3 -0.1 1.4 -0.1 1.3 0.4 1.3 0 1.4 -0.5 1.3 0.2 1.3 0.4 1.4 0.4 1.3 0.3 1.3 -0.2 1.4 0.3 1.3 0.1 1.4 -0.1 1.3 0.6 1.3 0 1.4 0 1.3 -0.1 1.3 0.3 1.4 0.2 1.3 -0.1 1.3 0.1 1.4 0.1 1.3 0.2 1.3 0.6 1.4 0.3 1.3 -0.4 1.3 0.5 1.4 0.2 1.3 0.4 1.3 -0.1 1.4 -0.5 1.3 0.4 1.3 0.1 1.4 0 1.3 0.2 1.3 0.3 1.4 -0.6 1.3 -0.3 1.4 0.2 1.3 -0.1 1.3 -0.5 1.4 0 1.3 -0.1 1.3 -0.6 1.4 -0.6 1.3 0.4 1.3 -0.6 1.4 -0.1 1.3 0.4 1.3 -0.5 1.4 -0.2 1.3 0.3 1.3 -0.2 1.4 -0.1 1.3 0.2 1.3 0.1 1.4 0 1.3 -0.1 1.3 0.7 1.4 0.5 1.3 0 1.3 -0.1 1.4 0.4 1.3 0.1 1.4 -0.5 1.3 0.2 1.3 0.2 1.4 -0.1 1.3 -0.3 1.3 -0.3 1.4 0.2 1.3 0.5 1.3 0.4 1.4 0.6 1.3 -0.7 1.3 -0.6 1.4 0.1 1.3 -0.3 1.3 0.7 1.4 0.4 1.3 -0.7 1.3 0 1.4 0 1.3 -0.1 1.3 0.3 1.4 0.1 1.3 -0.9 1.3 0 1.4 0.3 1.3 0.2 1.4 -0.6 1.3 -0.1 1.3 0.4 1.4 0 1.3 -0.2 1.3 -0.3 1.4 -0.6 1.3 0 1.3 0.6 1.4 0.1 1.3 -0.7 1.3 0.4 1.4 0 1.3 -0.3 1.3 0.2 1.4 0.3 1.3 0.3 1.3 0.3 1.4 0.1 1.3 0 1.3 0.1 1.4 0.5 1.3 -0.2 1.3 0.3 1.4 0 1.3 0.1 1.4 -0.4 1.3 -0.4 1.3 -0.2 1.4 -0.1 1.3 0.3 1.3 0 1.4 0 1.3 0 1.3 0.1 1.4 -0.1 1.3 -0.2 1.3 0.1 1.4 0.2 1.3 -0.3 1.3 -0.2 1.4 0.3 1.3 -0.1 1.3 0.2 1.4 0.3 1.3 -0.1 1.3 -0.7 1.4 0.3 1.3 0 1.3 -0.6 1.4 0 1.3 0 1.4 0 1.3 0.1 1.3 0.2 1.4 0.7 1.3 0.1 1.3 -0.9 1.4 -0.3 1.3 0.5 1.3 0.4 1.4 -0.2 1.3 0.1 1.3 -0.1 1.4 -0.2 1.3 0 1.3 -0.2 1.4 -0.3 1.3 0.6 1.3 0.6 1.4 -0.4 1.3 0 1.3 0.2 1.4 0 1.3 0.4 1.3 -0.3 1.4 0 1.3 -0.5 1.4 0.2 1.3 1.1 1.3 0.2 1.4 0.1 1.3 -0.5 1.3 0.2 1.4 -0.3 1.3 -0.2 1.3 0 1.4 0.1 1.3 0 1.3 -0.4 1.4 0.7 1.3 -0.1 1.3 -0.2 1.4 0.1 1.3 0.1 1.3 -0.3 1.4 -0.7 1.3 0 1.3 0.3 1.4 0 1.3 -0.1 1.3 0.1 1.4 0.4 1.3 -0.1 1.4 0.4 1.3 0.5 1.3 -0.1 1.4 -0.1 1.3 0.1 1.3 0 1.4 -0.1 1.3 0 1.3 0.4 1.4 0.4 1.3 0.1 1.3 -0.5 1.4 0 1.3 0.1 1.3 0.5 1.4 0.1 1.3 -0.2 1.3 -0.4 1.4 -0.3 1.3 0 1.3 0.5 1.4 -0.2 1.3 -0.6 1.3 0.1 1.4 0.1 1.3 -0.3 1.4 -0.1 1.3 0 1.3 -0.4 1.4 0.4 1.3 -0.4 1.3 0.5 1.4 0.2 1.3 -0.1 1.3 0.1 1.4 -0.3 1.3 0.2 1.3 0.2 1.4 0.3 1.3 -0.7"/><path id="r21" d="M2276.2 499.5l1.3 7.8 1.4 2 1.3 1.7 1.3 -0.2 1.4 -2.1 1.3 -2 1.3 -1.7 1.4 -3.6 1.3 -3.4 1.3 -0.7 1.4 1 1.3 2.9 1.4 3.6 1.3 2.6 1.3 0.7 1.4 -2.3 1.3 -2.3 1.3 -1.2 1.4 -1.2 1.3 -1.6 1.3 -3.1 1.4 -1.1 1.3 -1.7 1.3 -0.6 1.4 0.4 1.3 -1.3 1.3 -1.1 1.4 -0.2 1.3 -1.1 1.3 -0.5 1.4 -0.6 1.3 -0.3 1.3 -0.7 1.4 -0.1 1.3 0.1 1.3 2.2 1.4 0.8 1.3 0.4 1.4 0.2 1.3 0.8 1.3 1 1.4 0.8 1.3 1.7 1.3 1.1 1.4 0.1 1.3 -0.1 1.3 1.8 1.4 0.9 1.3 0.2 1.3 0.7 1.4 1.2 1.3 0.1 1.3 0.6 1.4 1 1.3 0.4 1.3 -0.1 1.4 1.4 1.3 0.9 1.3 0.3 1.4 0.7 1.3 0.1 1.3 0.3 1.4 0.2 1.3 0.2 1.4 0.1 1.3 0.4 1.3 -0.8 1.4 -0.6 1.3 0.2 1.3 0.6 1.4 -0.2 1.3 0.3 1.3 -0.2 1.4 0.4 1.3 -0.3 1.3 0.1 1.4 -0.7 1.3 0.6 1.3 -0.5 1.4 -0.2 1.3 -0.5 1.3 -0.2 1.4 -0.2 1.3 -0.6 1.3 0.1 1.4 0 1.3 -0.2 1.3 -0.1 1.4 -0.5 1.3 0 1.4 0.1 1.3 -0.1 1.3 0.3 1.4 0 1.3 -0.6 1.3 0.1 1.4 0.3 1.3 1 1.3 -0.1 1.4 -0.6 1.3 0.6 1.3 0.6 1.4 0.4 1.3 -0.2 1.3 -0.5 1.4 0.6 1.3 0.9 1.3 0.5 1.4 0 1.3 0.2 1.3 0.3 1.4 -0.4 1.3 0.3 1.3 0.9 1.4 0.1 1.3 0.4 1.4 0 1.3 0.1 1.3 -0.1 1.4 -0.1 1.3 0.4 1.3 0.6 1.4 0.6 1.3 0.2 1.3 0 1.4 0.7 1.3 0.5 1.3 0.2 1.4 0 1.3 0.1 1.3 0 1.4 0.5 1.3 0.8 1.3 0.3 1.4 0.3 1.3 0.6 1.3 0.1 1.4 -0.1 1.3 1 1.3 -0.3 1.4 -0.1 1.3 0.5 1.4 0.5 1.3 -0.4 1.3 -0.6 1.4 0 1.3 -0.2 1.3 -0.4 1.4 0.1 1.3 0.2 1.3 -0.4 1.4 0.7 1.3 0.6 1.3 -1.2 1.4 0 1.3 -0.2 1.3 -0.7 1.4 0.2 1.3 0.1 1.3 -1 1.4 0.4 1.3 0.5 1.3 -0.6 1.4 0.4 1.3 -0.8 1.3 -0.1 1.4 -0.3 1.3 -0.3 1.4 0.1 1.3 -0.4 1.3 -0.4 1.4 0 1.3 -0.7 1.3 -0.2 1.4 -0.2 1.3 -0.1 1.3 -0.1 1.4 0.1 1.3 -0.6 1.3 -0.5 1.4 0 1.3 0.4 1.3 -0.1 1.4 -1 1.3 -0.1 1.3 -0.2 1.4 0.2 1.3 0.2 1.3 -0.4 1.4 -0.5 1.3 0 1.3 -0.5 1.4 -0.3 1.3 0.1 1.4 0.1 1.3 0.9 1.3 -0.7 1.4 -0.3 1.3 0.7 1.3 0.2 1.4 -0.8 1.3 -0.7 1.3 0.3 1.4 0.3 1.3 0.1 1.3 0 1.4 -0.4 1.3 0.2 1.3 0.2 1.4 -0.4 1.3 -0.4 1.3 0.2 1.4 0.3 1.3 0.4 1.3 0.3 1.4 -0.2 1.3 -0.6 1.3 0.1 1.4 -0.4 1.3 -0.6 1.4 0.5 1.3 -0.1 1.3 -0.5 1.4 0.4 1.3 0.6 1.3 -0.7 1.4 0.1 1.3 -0.3 1.3 1.2 1.4 -0.2 1.3 0.2 1.3 0.1 1.4 -0.6 1.3 -0.5 1.3 0.2 1.4 -0.7 1.3 0.3 1.3 0.1 1.4 -0.6 1.3 0.4 1.3 -0.6 1.4 -0.3 1.3 0.9 1.3 -0.1 1.4 -0.1 1.3 0.1 1.3 -0.1 1.4 -0.3 1.3 -0.3 1.4 0 1.3 -0.3 1.3 -0.3 1.4 0.5 1.3 0.3 1.3 -0.5 1.4 0.2 1.3 -0.3 1.3 -0.9 1.4 -0.4 1.3 0.4 1.3 0 1.4 -0.1 1.3 0.3 1.3 -0.5 1.4 -0.2 1.3 0.1 1.3 0.2 1.4 -0.3 1.3 0 1.3 -0.1 1.4 0 1.3 0.6 1.3 -0.3 1.4 -0.4 1.3 0.3 1.4 0 1.3 0.2 1.3 -0.2 1.4 0 1.3 0.4 1.3 -0.1 1.4 0 1.3 0.1 1.3 -0.8 1.4 -0.3 1.3 0.6 1.3 0.2 1.4 0 1.3 -0.5 1.3 -0.2 1.4 -0.1 1.3 -0.3 1.3 0 1.4 0.6 1.3 -0.1 1.3 -0.7 1.4 -0.2 1.3 0.2 1.3 0.5 1.4 -0.2 1.3 0.3 1.4 0.7 1.3 -0.4 1.3 -0.1 1.4 0.3 1.3 0 1.3 -0.2 1.4 0.3 1.3 -0.8 1.3 0.1 1.4 0.1 1.3 -0.7 1.3 0.4 1.4 0.8 1.3 -0.6 1.3 -0.5 1.4 -0.2 1.3 -0.6 1.3 0 1.4 -0.4 1.3 0.2 1.3 0.2 1.4 -0.1 1.3 0.4 1.3 0.1 1.4 -0.2 1.3 0 1.4 -0.6 1.3 -0.2 1.3 -0.1 1.4 0.3 1.3 0.4 1.3 0.5 1.4 0.1 1.3 -0.7 1.3 0.4 1.4 0.5 1.3 0 1.3 -0.3 1.4 0.6 1.3 0.2 1.3 -0.3 1.4 -0.6 1.3 0 1.3 0.3 1.4 -0.5 1.3 -0.1 1.3 0.4 1.4 -0.5 1.3 0.2 1.3 0.5 1.4 0.5 1.3 -0.3 1.4 0 1.3 0.3 1.3 0.3 1.4 -0.6 1.3 -0.2 1.3 -0.4 1.4 -0.1 1.3 0.5 1.3 0.2 1.4 0.3 1.3 0 1.3 -0.5 1.4 0.3 1.3 1.1 1.3 -0.4 1.4 -0.2 1.3 0.6 1.3 0.2 1.4 0.4 1.3 0 1.3 0 1.4 0.2 1.3 0.1 1.3 0.5 1.4 0.3 1.3 0 1.4 -1.1 1.3 -0.7 1.3 -0.1 1.4 0.3 1.3 0 1.3 0 1.4 -0.5 1.3 -0.5 1.3 0 1.4 -0.2 1.3 0.2 1.3 0.4 1.4 -0.6 1.3 -0.2 1.3 -0.5 1.4 0.6 1.3 0.4 1.3 -0.3 1.4 -0.2 1.3 -0.2 1.3 0.1 1.4 -0.4 1.3 -0.1 1.3 0.4 1.4 -0.5 1.3 0.8 1.4 -0.5 1.3 0.2 1.3 -0.3 1.4 0 1.3 0.5 1.3 0.2 1.4 -0.2 1.3 -0.6 1.3 0.5 1.4 0.9 1.3 -0.7 1.3 0.3 1.4 0.1 1.3 -0.9 1.3 0.3 1.4 0.6 1.3 -0.1 1.3 -0.3 1.4 0.2 1.3 -0.2 1.3 0 1.4 -0.2 1.3 0.1 1.3 0.1 1.4 -0.3 1.3 0.3 1.4 0.3 1.3 -0.2 1.3 0.2 1.4 0.7 1.3 -0.7 1.3 0.4 1.4 0.6 1.3 0.4 1.3 0.2 1.4 -0.3 1.3 0.2 1.3 0 1.4 0.7 1.3 -0.3 1.3 -0.4 1.4 0.4 1.3 0.2 1.3 -0.1 1.4 -0.2 1.3 -0.7 1.3 0 1.4 0.1 1.3 0.1 1.3 0.4 1.4 -0.4 1.3 0.2 1.4 0.2 1.3 0.5 1.3 -0.1 1.4 -0.3 1.3 -0.6 1.3 0.2 1.4 0.1 1.3 -0.2 1.3 0.2 1.4 0.1 1.3 -0.4 1.3 -0.5 1.4 0.3 1.3 0.5 1.3 -0.1 1.4 -0.4 1.3 0.2 1.3 0.6 1.4 0.2 1.3 0 1.3 -0.3 1.4 -0.6 1.3 0.5 1.3 0.4 1.4 -0.3 1.3 -0.1 1.4 -0.3 1.3 0 1.3 -0.4 1.4 0.1 1.3 0.4 1.3 -0.4 1.4 -0.7 1.3 0.2 1.3 -0.2 1.4 -0.4 1.3 -0.2 1.3 0.6 1.4 0.2 1.3 0"/><path id="r22" d="M2276.2 576.9l1.3 -5.4 1.4 -3.9 1.3 -4.5 1.3 -5 1.4 -2.9 1.3 -1.4 1.3 -0.4 1.4 -0.4 1.3 1.2 1.3 -0.7 1.4 1.3 1.3 1.2 1.4 -1.2 1.3 -1.4 1.3 1.2 1.4 -0.6 1.3 -0.3 1.3 0.1 1.4 0.1 1.3 -0.1 1.3 -0.9 1.4 -0.5 1.3 -0.2 1.3 0.6 1.4 0.3 1.3 -0.4 1.3 -0.8 1.4 -0.8 1.3 -1.1 1.3 0.4 1.4 0.6 1.3 0.2 1.3 -0.8 1.4 -0.5 1.3 -0.6 1.3 -0.7 1.4 -0.2 1.3 0.3 1.4 -0.3 1.3 -0.4 1.3 -0.4 1.4 0.9 1.3 -0.5 1.3 -0.1 1.4 0.8 1.3 -0.5 1.3 -0 1.4 0.8 1.3 -0.1 1.3 -0.1 1.4 -0.2 1.3 -0.3 1.3 0.4 1.4 -0.1 1.3 0.3 1.3 0.5 1.4 -0.2 1.3 -1.2 1.3 0.3 1.4 0.6 1.3 -0.2 1.3 -0.1 1.4 0.2 1.3 0 1.4 -0.2 1.3 0.4 1.3 0.1 1.4 1.2 1.3 0.5 1.3 -0.7 1.4 -0.1 1.3 0 1.3 0.8 1.4 0.1 1.3 0 1.3 0.4 1.4 -1.1 1.3 0.6 1.3 0.9 1.4 -0.3 1.3 -0.8 1.3 -0.2 1.4 0.2 1.3 0.3 1.3 1.1 1.4 0.4 1.3 -0.6 1.3 -0.4 1.4 -0.1 1.3 1.7 1.4 0 1.3 -0.7 1.3 0.2 1.4 0.8 1.3 -0.5 1.3 0.1 1.4 -0.1 1.3 0.5 1.3 0 1.4 -0.7 1.3 -1.1 1.3 0.8 1.4 0.4 1.3 -0.9 1.3 -0.8 1.4 -0.2 1.3 -0.5 1.3 0.3 1.4 0.9 1.3 0.1 1.3 0.5 1.4 -0.2 1.3 0.7 1.3 0.6 1.4 -0.1 1.3 0.3 1.4 0.3 1.3 0.3 1.3 -0.3 1.4 0.3 1.3 0.8 1.3 0.3 1.4 -0.4 1.3 -0.1 1.3 0.4 1.4 -0.1 1.3 1 1.3 0.3 1.4 -0.5 1.3 -0.3 1.3 0.2 1.4 0.3 1.3 0.4 1.3 -0.4 1.4 -0.4 1.3 0.4 1.3 -0.1 1.4 -0.2 1.3 -1.2 1.3 -0.1 1.4 0.7 1.3 0.3 1.4 0.4 1.3 0.1 1.3 -0.3 1.4 0.3 1.3 -0.2 1.3 -0.7 1.4 0.4 1.3 0.6 1.3 -0.6 1.4 0.4 1.3 0.4 1.3 -0.9 1.4 0.1 1.3 -0.4 1.3 -0.5 1.4 0.4 1.3 -0.6 1.3 -0.5 1.4 -0.2 1.3 0.1 1.3 -0.4 1.4 0 1.3 -0.3 1.3 0.1 1.4 0.6 1.3 0.5 1.4 -0.7 1.3 -0.7 1.3 0.3 1.4 0.4 1.3 0.6 1.3 0.4 1.4 -0.1 1.3 -0.9 1.3 0.3 1.4 0.5 1.3 0.3 1.3 -0.7 1.4 -0.1 1.3 0.2 1.3 0.4 1.4 -0.1 1.3 -0.4 1.3 -0.1 1.4 0.7 1.3 0.4 1.3 -0.5 1.4 0.3 1.3 0.1 1.3 0.6 1.4 -0.2 1.3 -0.4 1.4 0.2 1.3 0.2 1.3 -0.3 1.4 -0.2 1.3 -0.5 1.3 0 1.4 0.1 1.3 -0.2 1.3 -0.8 1.4 -0.1 1.3 0.3 1.3 0.5 1.4 0.3 1.3 -0.6 1.3 0 1.4 -0.1 1.3 -0.3 1.3 0.4 1.4 -0.1 1.3 -0.6 1.3 0.5 1.4 0.3 1.3 0 1.3 0.2 1.4 -0.5 1.3 -1.1 1.4 0.1 1.3 0.3 1.3 0.1 1.4 0.6 1.3 -0.1 1.3 -0.1 1.4 0.1 1.3 0.7 1.3 -0.3 1.4 -0.1 1.3 -0.6 1.3 0 1.4 0.5 1.3 0 1.3 0.2 1.4 0.8 1.3 -0.1 1.3 0.2 1.4 0 1.3 -0.1 1.3 0.6 1.4 0.1 1.3 -0.7 1.3 -0.1 1.4 0.3 1.3 -0.6 1.3 -0.7 1.4 0.2 1.3 -0.6 1.4 0.4 1.3 0.1 1.3 0.1 1.4 -0.7 1.3 -0.7 1.3 0.1 1.4 0.5 1.3 -0.4 1.3 -0.1 1.4 -0.3 1.3 0.1 1.3 0.3 1.4 0.5 1.3 0.3 1.3 -0.3 1.4 -0.3 1.3 0.4 1.3 -0.3 1.4 0.8 1.3 0.1 1.3 -0.5 1.4 -0.1 1.3 0.2 1.3 -0.6 1.4 0.2 1.3 -0.6 1.4 0.4 1.3 0.2 1.3 0.2 1.4 -0.4 1.3 0.2 1.3 -0.3 1.4 0.1 1.3 0.4 1.3 -0.4 1.4 -0.1 1.3 0 1.3 0.2 1.4 0.8 1.3 0.1 1.3 0.1 1.4 -0.4 1.3 -0.1 1.3 0.1 1.4 -0.3 1.3 -0.1 1.3 0 1.4 0.4 1.3 -0.4 1.3 0 1.4 0.6 1.3 0.3 1.4 0 1.3 0.2 1.3 -0.4 1.4 -0.6 1.3 0.3 1.3 0 1.4 0.5 1.3 0.2 1.3 0 1.4 0.2 1.3 -0.5 1.3 0.6 1.4 0.2 1.3 0 1.3 -0.1 1.4 0.2 1.3 -0.5 1.3 0.1 1.4 0 1.3 -0.2 1.3 -0.3 1.4 -0.1 1.3 0.1 1.3 0.4 1.4 -0.5 1.3 0.3 1.4 -0.2 1.3 -0.3 1.3 0.4 1.4 -0.4 1.3 -0.1 1.3 0.5 1.4 0.2 1.3 -0.4 1.3 -0.1 1.4 -0.4 1.3 0.1 1.3 0.4 1.4 0.2 1.3 0.2 1.3 0.8 1.4 0.5 1.3 -0.3 1.3 0.4 1.4 -0.2 1.3 -0.1 1.3 0.7 1.4 0.6 1.3 0.1 1.3 0 1.4 -0.4 1.3 -0.5 1.4 -0.3 1.3 0.2 1.3 0.4 1.4 0.3 1.3 -0.2 1.3 -0.3 1.4 -0.7 1.3 0.1 1.3 0 1.4 0 1.3 0.5 1.3 -0.4 1.4 0 1.3 0.1 1.3 0.2 1.4 -0.2 1.3 -0.3 1.3 -0.4 1.4 0.1 1.3 0.1 1.3 -0.1 1.4 -0.2 1.3 0.5 1.3 0.3 1.4 -0.3 1.3 0.3 1.4 -0.2 1.3 -0.1 1.3 0.6 1.4 0.3 1.3 -0.3 1.3 -0.3 1.4 -0.4 1.3 0.8 1.3 0.4 1.4 -0.7 1.3 -0.5 1.3 -0.5 1.4 0.1 1.3 0.4 1.3 0.4 1.4 0 1.3 -0.1 1.3 0.1 1.4 0.3 1.3 -0.2 1.3 0 1.4 0.1 1.3 -0.3 1.3 0.1 1.4 0.3 1.3 -0.1 1.4 -0.5 1.3 0.4 1.3 0.4 1.4 -0.7 1.3 0.3 1.3 0.2 1.4 -0.5 1.3 0.4 1.3 0.2 1.4 0.2 1.3 0.1 1.3 -0.1 1.4 0.4 1.3 -0.6 1.3 -0.5 1.4 0.1 1.3 0.2 1.3 -0.4 1.4 0.1 1.3 0.5 1.3 0.2 1.4 -0.2 1.3 -0.3 1.3 0.2 1.4 0.2 1.3 0.2 1.4 -0.1 1.3 -0.4 1.3 0.6 1.4 0.4 1.3 -0.6 1.3 0.1 1.4 0 1.3 -0.3 1.3 0.3 1.4 0 1.3 -0.1 1.3 0.3 1.4 -0.1 1.3 0.3 1.3 0.3 1.4 0 1.3 0.3 1.3 -0.3 1.4 0.6 1.3 1 1.3 -0.4 1.4 0.2 1.3 0.6 1.3 0.3 1.4 -0.3 1.3 0.2 1.4 0.4 1.3 -0.4 1.3 0.1 1.4 0.5 1.3 -0.5 1.3 -0.5 1.4 0.3 1.3 0.5 1.3 0 1.4 -0.3 1.3 -0.4 1.3 -0.5 1.4 0 1.3 0.4 1.3 0.1 1.4 -0.5 1.3 -0.1 1.3 -0.2 1.4 -0.5 1.3 0.1 1.3 0.2 1.4 -0.3 1.3 0.1 1.3 0.2 1.4 -0.1 1.3 -0.1 1.4 0.1 1.3 -0.2 1.3 0.1 1.4 0.4 1.3 -0.2 1.3 -0.1 1.4 0 1.3 -0.1 1.3 0.3 1.4 -0.2 1.3 0.1 1.3 0.6 1.4 0 1.3 -0.3"/><path id="r23" d="M2276.2 569.8l1.3 -1.6 1.4 0.7 1.3 -2 1.3 1.4 1.4 -0.5 1.3 -2.1 1.3 -0.9 1.4 -0.9 1.3 -0.8 1.3 0.6 1.4 -0.9 1.3 0.2 1.4 0.9 1.3 0.6 1.3 2 1.4 1.4 1.3 -0.8 1.3 1.3 1.4 1.9 1.3 0.4 1.3 0.3 1.4 0.1 1.3 -0.4 1.3 -0.2 1.4 -0.7 1.3 0.6 1.3 -0.4 1.4 -1.7 1.3 0 1.3 -0.1 1.4 -0.4 1.3 0.7 1.3 -0.9 1.4 -0.2 1.3 0.9 1.3 -1.7 1.4 -0.3 1.3 1.2 1.4 -0.9 1.3 -1.3 1.3 -0.5 1.4 0.2 1.3 0.7 1.3 -0.8 1.4 -1.5 1.3 -0.2 1.3 0.6 1.4 -0.3 1.3 -1.1 1.3 0.9 1.4 -0.2 1.3 0.1 1.3 0.2 1.4 -0.6 1.3 -0.5 1.3 -1 1.4 0.1 1.3 0.4 1.3 -0.8 1.4 -1.4 1.3 0.1 1.3 0.3 1.4 -0.2 1.3 -0.4 1.4 -0.3 1.3 -0.4 1.3 -0.1 1.4 0.4 1.3 -0.3 1.3 -0.6 1.4 -0.4 1.3 0.2 1.3 -0.4 1.4 1 1.3 0.2 1.3 -0.4 1.4 -0.6 1.3 -0 1.3 -0.2 1.4 0.7 1.3 -0.2 1.3 -0.9 1.4 -0 1.3 -0 1.3 -0.4 1.4 -0 1.3 -0.2 1.3 0.4 1.4 0.6 1.3 -0.2 1.4 0.1 1.3 -0.1 1.3 -0 1.4 -0.1 1.3 0.2 1.3 0.5 1.4 0.4 1.3 1 1.3 -0.1 1.4 -0.9 1.3 -0.3 1.3 1.3 1.4 0.4 1.3 -0.3 1.3 -0.3 1.4 0.6 1.3 -0.3 1.3 -0.4 1.4 -0.4 1.3 -0 1.3 0.6 1.4 -0.5 1.3 -0.2 1.3 0.5 1.4 0.1 1.3 0.4 1.4 -0.5 1.3 -0.2 1.3 0.2 1.4 0.4 1.3 -0.2 1.3 0.2 1.4 -0.1 1.3 -0.6 1.3 -0.3 1.4 0.6 1.3 0.5 1.3 0.5 1.4 0.2 1.3 0.3 1.3 0.5 1.4 -0.3 1.3 -0 1.3 0.2 1.4 -0.4 1.3 0.1 1.3 0.1 1.4 -0.1 1.3 -0.5 1.3 -0.7 1.4 0.3 1.3 0.8 1.4 -0.3 1.3 -0.4 1.3 -0 1.4 0.2 1.3 0.2 1.3 0.4 1.4 -0.3 1.3 0.1 1.3 -0.7 1.4 0.1 1.3 -0.3 1.3 -0 1.4 0.6 1.3 -0.3 1.3 -0 1.4 0.6 1.3 -0.2 1.3 0.7 1.4 0.1 1.3 -0.9 1.3 -0.5 1.4 -0.4 1.3 -0.3 1.3 0.5 1.4 -0.3 1.3 -0.1 1.4 0.8 1.3 0.6 1.3 -0 1.4 -0.5 1.3 -0.5 1.3 -0.1 1.4 0.3 1.3 1 1.3 -0.3 1.4 0.1 1.3 -0.4 1.3 -0.3 1.4 0.3 1.3 0.1 1.3 0.2 1.4 -0.1 1.3 -0.2 1.3 -1 1.4 -0 1.3 0.6 1.3 -0.2 1.4 -0.5 1.3 -0.1 1.3 -0 1.4 -0.1 1.3 -0.2 1.4 0.4 1.3 0.1 1.3 -0.2 1.4 -0.5 1.3 -0 1.3 0.2 1.4 -0.3 1.3 -0.5 1.3 0.3 1.4 -0.2 1.3 0.1 1.3 0.6 1.4 -0.2 1.3 -0.1 1.3 -0.4 1.4 0.7 1.3 0.5 1.3 0.1 1.4 -0.5 1.3 -0.3 1.3 0.1 1.4 0.7 1.3 0.3 1.3 -0.5 1.4 -0.4 1.3 -0.1 1.4 0.6 1.3 -0.5 1.3 0.1 1.4 0.2 1.3 -0.5 1.3 0.3 1.4 -0.3 1.3 0.1 1.3 0.3 1.4 -0.5 1.3 -0 1.3 0.6 1.4 0.1 1.3 0.4 1.3 -0.3 1.4 -0.5 1.3 0.4 1.3 0.5 1.4 0.1 1.3 -0.2 1.3 0.3 1.4 0.4 1.3 -0.2 1.3 -0.3 1.4 0.4 1.3 -0 1.3 -0.1 1.4 -0.8 1.3 -1.2 1.4 0.6 1.3 0.3 1.3 -0.5 1.4 0.5 1.3 -0.6 1.3 -0.2 1.4 0.6 1.3 -0.6 1.3 0.2 1.4 0.2 1.3 -0.5 1.3 -0.5 1.4 -0.2 1.3 0.3 1.3 0.3 1.4 -0.7 1.3 -0 1.3 0.1 1.4 -0.4 1.3 0.4 1.3 0.1 1.4 0.3 1.3 0.1 1.3 -0.6 1.4 0.2 1.3 0.1 1.4 0.5 1.3 -0.3 1.3 0.3 1.4 0.1 1.3 -0.4 1.3 0.1 1.4 -0.2 1.3 0.4 1.3 -0.2 1.4 -0.3 1.3 0.5 1.3 -0.2 1.4 -0 1.3 -0.1 1.3 0.2 1.4 -0.6 1.3 -0.6 1.3 0.2 1.4 0.3 1.3 -0.5 1.3 -0.3 1.4 0.4 1.3 0.5 1.3 -0.2 1.4 -0.4 1.3 0.2 1.4 -0.2 1.3 -0.4 1.3 -0.2 1.4 0.1 1.3 -0 1.3 -0.2 1.4 -0.4 1.3 -0.2 1.3 -0.2 1.4 0.3 1.3 -0 1.3 0.8 1.4 -0 1.3 -0.3 1.3 0.1 1.4 -0.1 1.3 0.2 1.3 -0.2 1.4 -0.2 1.3 0.3 1.3 0.6 1.4 0.4 1.3 -0.3 1.3 0.4 1.4 0.6 1.3 -0 1.4 -0.5 1.3 0.2 1.3 0.1 1.4 -0 1.3 0.2 1.3 -0.3 1.4 -0.2 1.3 0.4 1.3 -0 1.4 -0.3 1.3 -0.4 1.3 -0.3 1.4 -0.1 1.3 -0.1 1.3 -0.2 1.4 -0.1 1.3 -0 1.3 -0.5 1.4 0.1 1.3 0.2 1.3 0.4 1.4 0.3 1.3 -0 1.3 -0.5 1.4 -0.4 1.3 -0.2 1.4 0.3 1.3 -0.6 1.3 -0.5 1.4 0.3 1.3 -0.3 1.3 -0.1 1.4 -0.1 1.3 0.5 1.3 0.1 1.4 -1 1.3 -0.2 1.3 -0 1.4 0.1 1.3 -0.1 1.3 -0.4 1.4 0.2 1.3 0.2 1.3 0.5 1.4 0.3 1.3 -0.1 1.3 0.6 1.4 -0.1 1.3 -0.3 1.3 -0 1.4 -0.4 1.3 0.7 1.4 0.3 1.3 0.3 1.3 0.2 1.4 -0.6 1.3 -0.1 1.3 0.3 1.4 0.1 1.3 -0.7 1.3 -0.2 1.4 0.6 1.3 -0 1.3 -0.8 1.4 -0.3 1.3 1 1.3 0.3 1.4 -0.4 1.3 0.2 1.3 0.1 1.4 -0.6 1.3 -0.6 1.3 0.6 1.4 0.1 1.3 -0.6 1.3 0.1 1.4 0.5 1.3 -0.4 1.4 0.2 1.3 0.3 1.3 -0.1 1.4 -0.6 1.3 0.2 1.3 -0.3 1.4 0.4 1.3 0.2 1.3 -0.3 1.4 0.2 1.3 -0.4 1.3 0.2 1.4 0.1 1.3 0.1 1.3 0.1 1.4 -0.4 1.3 -0.3 1.3 0.1 1.4 -0 1.3 0.1 1.3 -0.2 1.4 -0 1.3 0.4 1.3 0.1 1.4 0.3 1.3 -0 1.4 -0.6 1.3 0.2 1.3 0.2 1.4 -0.4 1.3 -0.7 1.3 0.7 1.4 -0 1.3 -0.5 1.3 0.1 1.4 0.7 1.3 0.1 1.3 -1 1.4 0.2 1.3 -0.2 1.3 -0 1.4 0.1 1.3 -0.2 1.3 -0 1.4 -0.2 1.3 -0.8 1.3 -0.2 1.4 0.5 1.3 -0.5 1.3 -0.4 1.4 0.1 1.3 -0.4 1.4 -0.7 1.3 0.7 1.3 0.1 1.4 -0 1.3 0.6 1.3 -0 1.4 -0.3 1.3 -0.1 1.3 -0 1.4 -0.1 1.3 -0.1 1.3 0.4 1.4 0.2 1.3 0.4 1.3 0.3 1.4 0.2 1.3 -0 1.3 0.2 1.4 -0 1.3 -0.1 1.3 -0 1.4 -0.1 1.3 0.2 1.3 -0.4 1.4 -0.6 1.3 0.2 1.4 -0.4 1.3 0.4 1.3 -0 1.4 -1.1 1.3 -0.7 1.3 0.1 1.4 0.5 1.3 -0 1.3 -0.7 1.4 -0.2 1.3 -0.1 1.3 0.3 1.4 -0 1.3 0.2"/><path id="r24" d="M2276.2 593.7l1.3 -7.9 1.4 -1 1.3 0.3 1.3 1.3 1.4 2.1 1.3 -1.3 1.3 -1.3 1.4 1.9 1.3 -0.6 1.3 0 1.4 -0.2 1.3 -1.1 1.4 2.4 1.3 1.8 1.3 0.5 1.4 -0.7 1.3 0.2 1.3 1.3 1.4 -0.2 1.3 -0.1 1.3 2 1.4 0.9 1.3 -0.5 1.3 1 1.4 -0.8 1.3 0 1.3 1.7 1.4 0.5 1.3 -2 1.3 -1.3 1.4 1 1.3 -1.3 1.3 -0.4 1.4 0.2 1.3 -1.7 1.3 -0.5 1.4 1.1 1.3 0.1 1.4 -1.2 1.3 -0.9 1.3 -0.1 1.4 0.7 1.3 -0.7 1.3 -1.1 1.4 0.2 1.3 -0.7 1.3 -0.7 1.4 0.6 1.3 -0.2 1.3 -0.4 1.4 -0.3 1.3 -0.2 1.3 -0.4 1.4 -0.3 1.3 -0.4 1.3 -0.5 1.4 0.2 1.3 0.4 1.3 -0.8 1.4 -0.5 1.3 -0.1 1.3 0.2 1.4 -0.2 1.3 -0.7 1.4 -0.6 1.3 -0.1 1.3 0.4 1.4 -0.5 1.3 -0.1 1.3 -0.3 1.4 -0.6 1.3 0.2 1.3 -0.5 1.4 -0.4 1.3 -0.7 1.3 0.5 1.4 -0.6 1.3 -0.7 1.3 -0.7 1.4 -0.4 1.3 -0.4 1.3 -1.2 1.4 -0.6 1.3 0 1.3 0 1.4 0 1.3 0.2 1.3 0.4 1.4 0.2 1.3 0.1 1.4 0.4 1.3 0 1.3 -0.2 1.4 0.4 1.3 1.4 1.3 0.6 1.4 0.3 1.3 -0.5 1.3 0.4 1.4 -0.3 1.3 -0.7 1.3 0.8 1.4 1.1 1.3 0.1 1.3 -1 1.4 1 1.3 0.3 1.3 -0.2 1.4 0.1 1.3 -0.1 1.3 -0.6 1.4 -0.2 1.3 0.3 1.3 0.2 1.4 -0.8 1.3 -0.2 1.4 -0.6 1.3 0.4 1.3 0.5 1.4 -0.6 1.3 -0.1 1.3 0.4 1.4 0.3 1.3 -0.8 1.3 -0.4 1.4 -0.7 1.3 -0.3 1.3 -0.5 1.4 0.1 1.3 0.6 1.3 -0.5 1.4 -0.1 1.3 0.2 1.3 0.1 1.4 0.5 1.3 -0.4 1.3 0 1.4 0 1.3 -0.3 1.3 0.5 1.4 0.2 1.3 -0.4 1.4 -0.1 1.3 -0.3 1.3 0.3 1.4 -0.1 1.3 0.3 1.3 0.7 1.4 -0.7 1.3 -0.7 1.3 0.6 1.4 0.5 1.3 -0.3 1.3 -0.6 1.4 -0.1 1.3 0.3 1.3 0.1 1.4 -0.1 1.3 -0.1 1.3 0.6 1.4 0.4 1.3 0.4 1.3 0.4 1.4 0.1 1.3 -0.2 1.3 -0.6 1.4 -0.3 1.3 0.5 1.4 0.4 1.3 0.2 1.3 -0.4 1.4 0 1.3 0.1 1.3 0 1.4 0.1 1.3 -0.1 1.3 -0.3 1.4 0.2 1.3 -0.7 1.3 0.1 1.4 0.2 1.3 -1.1 1.3 0.3 1.4 0.8 1.3 0.1 1.3 -0.9 1.4 0.1 1.3 0.5 1.3 0.6 1.4 -0.1 1.3 -0.1 1.3 -0.2 1.4 -0.5 1.3 0.5 1.4 -0.3 1.3 0.1 1.3 0.1 1.4 -0.1 1.3 -0.3 1.3 -0.2 1.4 -0.1 1.3 0.3 1.3 0 1.4 -0.6 1.3 0.6 1.3 0.2 1.4 0.5 1.3 0.2 1.3 -0.3 1.4 0.2 1.3 0.1 1.3 -0.5 1.4 -0.2 1.3 0.2 1.3 -0.5 1.4 0.6 1.3 0.3 1.3 -0.3 1.4 0 1.3 -0.7 1.4 -0.1 1.3 0.3 1.3 -0.2 1.4 0 1.3 0.1 1.3 0.1 1.4 0.5 1.3 -1 1.3 0.2 1.4 -0.3 1.3 -0.8 1.3 -0.3 1.4 -0.1 1.3 0.1 1.3 0 1.4 0.3 1.3 0.2 1.3 -0.4 1.4 -0.4 1.3 0.2 1.3 0.3 1.4 -0.2 1.3 0.5 1.3 0.3 1.4 -0.4 1.3 -1.1 1.3 0.7 1.4 0.1 1.3 0 1.4 0.2 1.3 -0.1 1.3 0.1 1.4 -0.2 1.3 -0.2 1.3 1.2 1.4 0.1 1.3 -0.9 1.3 0.9 1.4 0.2 1.3 -0.2 1.3 -0.5 1.4 0.2 1.3 -0.1 1.3 -0.2 1.4 0.3 1.3 0.1 1.3 -0.1 1.4 0.2 1.3 0 1.3 -0.8 1.4 0.1 1.3 0.6 1.3 -0.3 1.4 0.5 1.3 -0.1 1.4 -0.3 1.3 -0.3 1.3 -0.2 1.4 0.2 1.3 -0.5 1.3 -0 1.4 1.2 1.3 -0.3 1.3 -0.5 1.4 0.7 1.3 0.1 1.3 -1 1.4 -0.1 1.3 0.1 1.3 -0.5 1.4 0.5 1.3 0.6 1.3 -0.5 1.4 -0.9 1.3 0.5 1.3 0.1 1.4 -0 1.3 -0.4 1.3 0.8 1.4 -0.2 1.3 -0.3 1.4 -0.2 1.3 0.2 1.3 0.4 1.4 -0.3 1.3 0.3 1.3 0.1 1.4 -0.4 1.3 -0.7 1.3 -0.1 1.4 0.8 1.3 -0.3 1.3 -0.4 1.4 -0.1 1.3 0.3 1.3 -0 1.4 0.2 1.3 0.1 1.3 0.1 1.4 0.1 1.3 1.3 1.3 -0 1.4 -0.5 1.3 0.1 1.3 0.1 1.4 0.4 1.3 0.2 1.4 0.1 1.3 -0.3 1.3 0.1 1.4 -0.2 1.3 0.5 1.3 -0.1 1.4 -0.2 1.3 0.4 1.3 -0.2 1.4 -0 1.3 0.2 1.3 -0.6 1.4 0.7 1.3 0.1 1.3 -0.4 1.4 -0 1.3 -0.5 1.3 0.1 1.4 0.8 1.3 -0 1.3 -0.8 1.4 -0.4 1.3 -0.1 1.3 0.4 1.4 0.2 1.3 -0.2 1.4 -0.2 1.3 -0.2 1.3 -0.5 1.4 0.1 1.3 0.4 1.3 -0.1 1.4 -0.1 1.3 0.2 1.3 0.2 1.4 0.4 1.3 0.1 1.3 -0.4 1.4 -0.1 1.3 -0.3 1.3 -0.2 1.4 -0.4 1.3 0.1 1.3 0.4 1.4 0.9 1.3 -0.2 1.3 -0.3 1.4 0.3 1.3 0.3 1.3 -0.7 1.4 -0 1.3 0.1 1.4 0.2 1.3 0.2 1.3 -0 1.4 0.1 1.3 0.1 1.3 0.1 1.4 -0.4 1.3 -0.1 1.3 0.7 1.4 -0.5 1.3 -0.1 1.3 -0 1.4 -0.3 1.3 0.1 1.3 -0.7 1.4 -0.2 1.3 -0.2 1.3 0.5 1.4 0.2 1.3 -0.1 1.3 -0.2 1.4 -0.3 1.3 0.1 1.3 0.3 1.4 0.1 1.3 -0.1 1.4 -0 1.3 -0.1 1.3 -0.1 1.4 -0 1.3 -0.3 1.3 -0.1 1.4 -0.1 1.3 0.2 1.3 -0.1 1.4 0.6 1.3 -0.1 1.3 0.7 1.4 -0.1 1.3 0.4 1.3 -0 1.4 -0 1.3 0.2 1.3 -0.3 1.4 -0.3 1.3 -0.3 1.3 0.4 1.4 0.5 1.3 -0.1 1.3 0.3 1.4 0.4 1.3 -0.4 1.4 0.2 1.3 -0.5 1.3 -0.4 1.4 -0 1.3 0.2 1.3 0.1 1.4 0.2 1.3 -0.4 1.3 -0.5 1.4 0.4 1.3 0.2 1.3 -0.2 1.4 -0 1.3 0.2 1.3 -0.4 1.4 0.2 1.3 0.7 1.3 -0.1 1.4 -0.4 1.3 -0 1.3 0.7 1.4 -0.2 1.3 -0.3 1.3 0.2 1.4 0.2 1.3 0.2 1.4 -0.1 1.3 -0.5 1.3 -0.2 1.4 -0.1 1.3 0.2 1.3 -0.6 1.4 -0 1.3 0.6 1.3 0.2 1.4 -0.2 1.3 -0.5 1.3 -0 1.4 0.1 1.3 -0.4 1.3 -0.1 1.4 0.2 1.3 -0.2 1.3 0.4 1.4 -0 1.3 -0.8 1.3 -0 1.4 0.3 1.3 0.1 1.3 0.1 1.4 0.1 1.3 -0.1 1.4 -0.6 1.3 0.2 1.3 0.6 1.4 0.4 1.3 0.4 1.3 -0.2 1.4 0.6 1.3 -0.3 1.3 -0 1.4 -0.1 1.3 -0.6 1.3 -0.1 1.4 0.7 1.3 0.5"/></defs><rect x="0" y="0" width="4252" height="2197" fill="#fff"/>
<rect x="155" y="30.5" width="600.5" height="76.5" fill="#fdf1dd"/>
<circle cx="541.5" cy="175.9" r="14.3" fill="url(#ga9a9a9)"/>
<line x1="541.5" y1="161.6" x2="541.5" y2="155.6" stroke="#1a1a1a" stroke-width="1.7"/>
<line x1="534.1" y1="155.6" x2="548.9" y2="155.6" stroke="#1a1a1a" stroke-width="1.7"/>
<line x1="541.5" y1="190.2" x2="541.5" y2="196.2" stroke="#1a1a1a" stroke-width="1.7"/>
<line x1="534.1" y1="196.2" x2="548.9" y2="196.2" stroke="#1a1a1a" stroke-width="1.7"/>
<line x1="527.2" y1="175.9" x2="528.5" y2="175.9" stroke="#1a1a1a" stroke-width="1.7"/>
<line x1="528.5" y1="168.5" x2="528.5" y2="183.3" stroke="#1a1a1a" stroke-width="1.7"/>
<line x1="555.8" y1="175.9" x2="554.5" y2="175.9" stroke="#1a1a1a" stroke-width="1.7"/>
<line x1="554.5" y1="168.5" x2="554.5" y2="183.3" stroke="#1a1a1a" stroke-width="1.7"/>
<text x="561.0" y="221.0" font-size="38.5" fill="#a9a9a9">Tn</text>
<circle cx="386.9" cy="192.6" r="14.3" fill="url(#g1d6ddd)"/>
<line x1="386.9" y1="178.3" x2="386.9" y2="175.0" stroke="#1a1a1a" stroke-width="1.7"/>
<line x1="379.5" y1="175.0" x2="394.3" y2="175.0" stroke="#1a1a1a" stroke-width="1.7"/>
<line x1="386.9" y1="206.9" x2="386.9" y2="210.2" stroke="#1a1a1a" stroke-width="1.7"/>
<line x1="379.5" y1="210.2" x2="394.3" y2="210.2" stroke="#1a1a1a" stroke-width="1.7"/>
<line x1="372.6" y1="192.6" x2="379.3" y2="192.6" stroke="#1a1a1a" stroke-width="1.7"/>
<line x1="379.3" y1="185.2" x2="379.3" y2="200.0" stroke="#1a1a1a" stroke-width="1.7"/>
<line x1="401.2" y1="192.6" x2="394.5" y2="192.6" stroke="#1a1a1a" stroke-width="1.7"/>
<line x1="394.5" y1="185.2" x2="394.5" y2="200.0" stroke="#1a1a1a" stroke-width="1.7"/>
<line x1="406.3" y1="191.2" x2="435.2" y2="182.2" stroke="#1d6ddd" stroke-width="1.5"/>
<text x="437.2" y="194.0" font-size="38.5" fill="#1d6ddd">Pl</text>
<circle cx="391.0" cy="236.7" r="14.3" fill="url(#g174a9c)"/>
<line x1="391.0" y1="222.4" x2="391.0" y2="217.7" stroke="#1a1a1a" stroke-width="1.7"/>
<line x1="383.6" y1="217.7" x2="398.4" y2="217.7" stroke="#1a1a1a" stroke-width="1.7"/>
<line x1="391.0" y1="251.0" x2="391.0" y2="255.7" stroke="#1a1a1a" stroke-width="1.7"/>
<line x1="383.6" y1="255.7" x2="398.4" y2="255.7" stroke="#1a1a1a" stroke-width="1.7"/>
<line x1="376.7" y1="236.7" x2="380.7" y2="236.7" stroke="#1a1a1a" stroke-width="1.7"/>
<line x1="380.7" y1="229.3" x2="380.7" y2="244.1" stroke="#1a1a1a" stroke-width="1.7"/>
<line x1="405.3" y1="236.7" x2="401.3" y2="236.7" stroke="#1a1a1a" stroke-width="1.7"/>
<line x1="401.3" y1="229.3" x2="401.3" y2="244.1" stroke="#1a1a1a" stroke-width="1.7"/>
<line x1="409.7" y1="241.0" x2="429.3" y2="252.3" stroke="#174a9c" stroke-width="1.5"/>
<text x="431.0" y="287.2" font-size="38.5" fill="#174a9c">Pi</text>
<circle cx="362.8" cy="262.4" r="14.3" fill="url(#g31a86a)"/>
<line x1="362.8" y1="248.1" x2="362.8" y2="249.4" stroke="#1a1a1a" stroke-width="1.7"/>
<line x1="355.4" y1="249.4" x2="370.2" y2="249.4" stroke="#1a1a1a" stroke-width="1.7"/>
<line x1="362.8" y1="276.7" x2="362.8" y2="275.4" stroke="#1a1a1a" stroke-width="1.7"/>
<line x1="355.4" y1="275.4" x2="370.2" y2="275.4" stroke="#1a1a1a" stroke-width="1.7"/>
<line x1="348.5" y1="262.4" x2="349.5" y2="262.4" stroke="#1a1a1a" stroke-width="1.7"/>
<line x1="349.5" y1="255.0" x2="349.5" y2="269.8" stroke="#1a1a1a" stroke-width="1.7"/>
<line x1="377.1" y1="262.4" x2="376.1" y2="262.4" stroke="#1a1a1a" stroke-width="1.7"/>
<line x1="376.1" y1="255.0" x2="376.1" y2="269.8" stroke="#1a1a1a" stroke-width="1.7"/>
<line x1="365.0" y1="282.3" x2="371.8" y2="299.2" stroke="#31a86a" stroke-width="1.5"/>
<text x="373.4" y="333.0" font-size="38.5" fill="#31a86a">Pw</text>
<circle cx="271.1" cy="321.2" r="14.3" fill="url(#g8ab4f0)"/>
<line x1="271.1" y1="306.9" x2="271.1" y2="307.7" stroke="#1a1a1a" stroke-width="1.7"/>
<line x1="263.7" y1="307.7" x2="278.5" y2="307.7" stroke="#1a1a1a" stroke-width="1.7"/>
<line x1="271.1" y1="335.5" x2="271.1" y2="334.7" stroke="#1a1a1a" stroke-width="1.7"/>
<line x1="263.7" y1="334.7" x2="278.5" y2="334.7" stroke="#1a1a1a" stroke-width="1.7"/>
<line x1="256.8" y1="321.2" x2="257.7" y2="321.2" stroke="#1a1a1a" stroke-width="1.7"/>
<line x1="257.7" y1="313.8" x2="257.7" y2="328.6" stroke="#1a1a1a" stroke-width="1.7"/>
<line x1="285.4" y1="321.2" x2="284.5" y2="321.2" stroke="#1a1a1a" stroke-width="1.7"/>
<line x1="284.5" y1="313.8" x2="284.5" y2="328.6" stroke="#1a1a1a" stroke-width="1.7"/>
<line x1="291.4" y1="320.6" x2="308.7" y2="320.6" stroke="#8ab4f0" stroke-width="1.5"/>
<text x="311.7" y="333.0" font-size="38.5" fill="#8ab4f0">Pm</text>
<circle cx="295.3" cy="388.0" r="14.3" fill="url(#g6ccb95)"/>
<line x1="295.3" y1="373.7" x2="295.3" y2="358.8" stroke="#1a1a1a" stroke-width="1.7"/>
<line x1="287.9" y1="358.8" x2="302.7" y2="358.8" stroke="#1a1a1a" stroke-width="1.7"/>
<line x1="295.3" y1="402.3" x2="295.3" y2="417.2" stroke="#1a1a1a" stroke-width="1.7"/>
<line x1="287.9" y1="417.2" x2="302.7" y2="417.2" stroke="#1a1a1a" stroke-width="1.7"/>
<line x1="281.0" y1="388.0" x2="271.4" y2="388.0" stroke="#1a1a1a" stroke-width="1.7"/>
<line x1="271.4" y1="380.6" x2="271.4" y2="395.4" stroke="#1a1a1a" stroke-width="1.7"/>
<line x1="309.6" y1="388.0" x2="319.2" y2="388.0" stroke="#1a1a1a" stroke-width="1.7"/>
<line x1="319.2" y1="380.6" x2="319.2" y2="395.4" stroke="#1a1a1a" stroke-width="1.7"/>
<text x="315.7" y="432.6" font-size="38.5" fill="#6ccb95">Pp</text>
<circle cx="273.7" cy="443.0" r="14.3" fill="url(#gf88a3c)"/>
<line x1="273.7" y1="428.7" x2="273.7" y2="430.4" stroke="#1a1a1a" stroke-width="1.7"/>
<line x1="266.3" y1="430.4" x2="281.1" y2="430.4" stroke="#1a1a1a" stroke-width="1.7"/>
<line x1="273.7" y1="457.3" x2="273.7" y2="455.6" stroke="#1a1a1a" stroke-width="1.7"/>
<line x1="266.3" y1="455.6" x2="281.1" y2="455.6" stroke="#1a1a1a" stroke-width="1.7"/>
<line x1="259.4" y1="443.0" x2="261.3" y2="443.0" stroke="#1a1a1a" stroke-width="1.7"/>
<line x1="261.3" y1="435.6" x2="261.3" y2="450.4" stroke="#1a1a1a" stroke-width="1.7"/>
<line x1="288.0" y1="443.0" x2="286.1" y2="443.0" stroke="#1a1a1a" stroke-width="1.7"/>
<line x1="286.1" y1="435.6" x2="286.1" y2="450.4" stroke="#1a1a1a" stroke-width="1.7"/>
<text x="293.6" y="488.3" font-size="38.5" fill="#f2792c">Hv</text>
<circle cx="470.3" cy="415.3" r="14.3" fill="url(#g393939)"/>
<line x1="470.3" y1="401.0" x2="470.3" y2="392.7" stroke="#1a1a1a" stroke-width="1.7"/>
<line x1="462.9" y1="392.7" x2="477.7" y2="392.7" stroke="#1a1a1a" stroke-width="1.7"/>
<line x1="470.3" y1="429.6" x2="470.3" y2="437.9" stroke="#1a1a1a" stroke-width="1.7"/>
<line x1="462.9" y1="437.9" x2="477.7" y2="437.9" stroke="#1a1a1a" stroke-width="1.7"/>
<line x1="456.0" y1="415.3" x2="458.3" y2="415.3" stroke="#1a1a1a" stroke-width="1.7"/>
<line x1="458.3" y1="407.9" x2="458.3" y2="422.7" stroke="#1a1a1a" stroke-width="1.7"/>
<line x1="484.6" y1="415.3" x2="482.3" y2="415.3" stroke="#1a1a1a" stroke-width="1.7"/>
<line x1="482.3" y1="407.9" x2="482.3" y2="422.7" stroke="#1a1a1a" stroke-width="1.7"/>
<text x="490.7" y="460.5" font-size="38.5" fill="#393939">Ms</text>
<circle cx="715.8" cy="447.9" r="14.3" fill="url(#gdc5808)"/>
<line x1="715.8" y1="433.6" x2="715.8" y2="435.5" stroke="#1a1a1a" stroke-width="1.7"/>
<line x1="708.4" y1="435.5" x2="723.2" y2="435.5" stroke="#1a1a1a" stroke-width="1.7"/>
<line x1="715.8" y1="462.2" x2="715.8" y2="460.3" stroke="#1a1a1a" stroke-width="1.7"/>
<line x1="708.4" y1="460.3" x2="723.2" y2="460.3" stroke="#1a1a1a" stroke-width="1.7"/>
<line x1="701.5" y1="447.9" x2="703.9" y2="447.9" stroke="#1a1a1a" stroke-width="1.7"/>
<line x1="703.9" y1="440.5" x2="703.9" y2="455.3" stroke="#1a1a1a" stroke-width="1.7"/>
<line x1="730.1" y1="447.9" x2="727.7" y2="447.9" stroke="#1a1a1a" stroke-width="1.7"/>
<line x1="727.7" y1="440.5" x2="727.7" y2="455.3" stroke="#1a1a1a" stroke-width="1.7"/>
<line x1="715.8" y1="467.3" x2="715.8" y2="484.0" stroke="#dc5808" stroke-width="1.5"/>
<text x="693.3" y="518.4" font-size="38.5" fill="#dc5808">Vn</text>
<circle cx="408.9" cy="478.8" r="14.3" fill="url(#g888888)"/>
<line x1="408.9" y1="464.5" x2="408.9" y2="419.8" stroke="#1a1a1a" stroke-width="1.7"/>
<line x1="401.5" y1="419.8" x2="416.3" y2="419.8" stroke="#1a1a1a" stroke-width="1.7"/>
<line x1="408.9" y1="493.1" x2="408.9" y2="537.8" stroke="#1a1a1a" stroke-width="1.7"/>
<line x1="401.5" y1="537.8" x2="416.3" y2="537.8" stroke="#1a1a1a" stroke-width="1.7"/>
<line x1="394.6" y1="478.8" x2="392.6" y2="478.8" stroke="#1a1a1a" stroke-width="1.7"/>
<line x1="392.6" y1="471.4" x2="392.6" y2="486.2" stroke="#1a1a1a" stroke-width="1.7"/>
<line x1="423.2" y1="478.8" x2="425.2" y2="478.8" stroke="#1a1a1a" stroke-width="1.7"/>
<line x1="425.2" y1="471.4" x2="425.2" y2="486.2" stroke="#1a1a1a" stroke-width="1.7"/>
<line x1="391.5" y1="497.3" x2="378.4" y2="514.2" stroke="#8a8a8a" stroke-width="1.5"/>
<text x="330.9" y="548.2" font-size="38.5" fill="#8a8a8a">Np</text>
<circle cx="437.1" cy="508.3" r="14.3" fill="url(#g2a8050)"/>
<line x1="437.1" y1="494.0" x2="437.1" y2="475.1" stroke="#1a1a1a" stroke-width="1.7"/>
<line x1="429.7" y1="475.1" x2="444.5" y2="475.1" stroke="#1a1a1a" stroke-width="1.7"/>
<line x1="437.1" y1="522.6" x2="437.1" y2="541.5" stroke="#1a1a1a" stroke-width="1.7"/>
<line x1="429.7" y1="541.5" x2="444.5" y2="541.5" stroke="#1a1a1a" stroke-width="1.7"/>
<line x1="422.8" y1="508.3" x2="423.7" y2="508.3" stroke="#1a1a1a" stroke-width="1.7"/>
<line x1="423.7" y1="500.9" x2="423.7" y2="515.7" stroke="#1a1a1a" stroke-width="1.7"/>
<line x1="451.4" y1="508.3" x2="450.5" y2="508.3" stroke="#1a1a1a" stroke-width="1.7"/>
<line x1="450.5" y1="500.9" x2="450.5" y2="515.7" stroke="#1a1a1a" stroke-width="1.7"/>
<text x="458.1" y="552.9" font-size="38.5" fill="#2a8050">Sp</text>
<circle cx="541.4" cy="553.5" r="14.3" fill="url(#g000000)"/>
<line x1="541.4" y1="539.2" x2="541.4" y2="514.2" stroke="#1a1a1a" stroke-width="1.7"/>
<line x1="534.0" y1="514.2" x2="548.8" y2="514.2" stroke="#1a1a1a" stroke-width="1.7"/>
<line x1="541.4" y1="567.8" x2="541.4" y2="592.8" stroke="#1a1a1a" stroke-width="1.7"/>
<line x1="534.0" y1="592.8" x2="548.8" y2="592.8" stroke="#1a1a1a" stroke-width="1.7"/>
<text x="561.8" y="597.7" font-size="38.5" fill="#000000">Cd</text>
<line x1="429.8" y1="107" x2="429.8" y2="694.0" stroke="#444" stroke-width="2.1" stroke-dasharray="7,5"/>
<line x1="150.5" y1="360.5" x2="757.0" y2="360.5" stroke="#444" stroke-width="2.1" stroke-dasharray="7,5"/>
<rect x="150.5" y="27.0" width="606.5" height="667.0" fill="none" stroke="#000" stroke-width="3.6"/>
<line x1="135.5" y1="27.0" x2="150.5" y2="27.0" stroke="#000" stroke-width="3.6"/>
<line x1="135.5" y1="360.5" x2="150.5" y2="360.5" stroke="#000" stroke-width="3.6"/>
<line x1="135.5" y1="694.0" x2="150.5" y2="694.0" stroke="#000" stroke-width="3.6"/>
<line x1="143.0" y1="193.7" x2="150.5" y2="193.7" stroke="#000" stroke-width="3.6"/>
<line x1="143.0" y1="527.2" x2="150.5" y2="527.2" stroke="#000" stroke-width="3.6"/>
<text x="124.7" y="38.6" font-size="38" text-anchor="end">0.1</text>
<text x="124.7" y="372.1" font-size="38" text-anchor="end">0.0</text>
<text x="124.7" y="705.6" font-size="38" text-anchor="end">-0.1</text>
<line x1="196.1" y1="694.0" x2="196.1" y2="709.0" stroke="#000" stroke-width="3.6"/>
<line x1="429.8" y1="694.0" x2="429.8" y2="709.0" stroke="#000" stroke-width="3.6"/>
<line x1="663.5" y1="694.0" x2="663.5" y2="709.0" stroke="#000" stroke-width="3.6"/>
<line x1="312.9" y1="694.0" x2="312.9" y2="701.5" stroke="#000" stroke-width="3.6"/>
<line x1="546.7" y1="694.0" x2="546.7" y2="701.5" stroke="#000" stroke-width="3.6"/>
<text x="196.1" y="749.0" font-size="38" text-anchor="middle">-0.1</text>
<text x="429.8" y="749.0" font-size="38" text-anchor="middle">0.0</text>
<text x="663.5" y="749.0" font-size="38" text-anchor="middle">0.1</text>
<text x="453.7" y="805.4" font-size="51" font-weight="bold" text-anchor="middle">NMDS1</text>
<text x="54.0" y="362.0" font-size="51" font-weight="bold" text-anchor="middle" transform="rotate(-90 54.0 362.0)">NMDS2</text>
<text x="166.0" y="80.0" font-size="51" font-weight="bold">(a)</text>
<text x="259.5" y="59.0" font-size="38">Stress Value: 0.21</text>
<text x="259.5" y="101.8" font-size="38">ANOSIM<tspan font-family="'Noto Serif CJK SC', serif">：</tspan><tspan font-style="italic" dx="-0.5">R</tspan> = 0.62, <tspan font-style="italic">P</tspan> = 0.001</text>
<rect x="3138" y="121.5" width="1106" height="590.5" fill="#f1f7e9"/>
<rect x="3138" y="761" width="1108" height="284" fill="#fdf2de"/>
<rect x="3138" y="1095" width="1108" height="420.5" fill="#e6e3f1"/>
<text x="3136.0" y="91.4" font-size="59">Sym.</text>
<text x="3288.0" y="91.4" font-size="59">Abbr.</text>
<text x="3486.2" y="91.4" font-size="59">Species name</text>
<text x="3157.0" y="185.6" font-size="51.4">Potamogetonaceae</text>
<text x="3157.5" y="833.3" font-size="51.4">Hydrocharitaceae</text>
<text x="3157.0" y="1156.0" font-size="51.4">Others</text>
<circle cx="3214.6" cy="249.3" r="18.1" fill="url(#g174a9c)"/>
<text x="3286.0" y="266.8" font-size="51">Pi</text>
<text x="3366" y="266.8" font-size="51"><tspan font-style="italic">Potamogeton intortifolius</tspan> J. B. He et al.</text>
<circle cx="3214.6" cy="330.3" r="18.1" fill="url(#g1d6ddd)"/>
<text x="3286.0" y="347.8" font-size="51">Pl</text>
<text x="3366" y="347.8" font-size="51"><tspan font-style="italic">Potamogeton lucens</tspan> L.</text>
<circle cx="3214.6" cy="411.5" r="18.1" fill="url(#g8ab4f0)"/>
<text x="3286.0" y="429.0" font-size="51">Pm</text>
<text x="3392" y="429" font-size="51"><tspan font-style="italic">Potamogeton maackianus</tspan> A. Benn.</text>
<circle cx="3214.6" cy="492.0" r="18.1" fill="url(#g6ccb95)"/>
<text x="3286.0" y="509.5" font-size="51">Pp</text>
<text x="3377" y="509.5" font-size="51"><tspan font-style="italic">Potamogeton perfoliatus</tspan> L.</text>
<circle cx="3214.6" cy="572.5" r="18.1" fill="url(#g31a86a)"/>
<text x="3286.0" y="590.0" font-size="51">Pw</text>
<text x="3389" y="590" font-size="51"><tspan font-style="italic">Potamogeton wrightii</tspan> Morong</text>
<circle cx="3214.6" cy="653.0" r="18.1" fill="url(#g2a8050)"/>
<text x="3286.0" y="670.5" font-size="51">Sp</text>
<text x="3377" y="670.5" font-size="51"><tspan font-style="italic">Stuckenia pectinata</tspan> (L.) Börner</text>
<circle cx="3214.6" cy="896.1" r="18.1" fill="url(#gdc5808)"/>
<text x="3286.0" y="913.6" font-size="51">Vn</text>
<text x="3388" y="913.6" font-size="51"><tspan font-style="italic">Vallisneria natans</tspan> (Lour.) H. Hara</text>
<circle cx="3214.6" cy="977.5" r="18.1" fill="url(#gfdb898)"/>
<text x="3286.0" y="995.0" font-size="51">Hv</text>
<text x="3384" y="995" font-size="51"><tspan font-style="italic">Hydrilla verticillata</tspan> (Linn. f.) Royle</text>
<circle cx="3214.6" cy="1221.0" r="18.1" fill="url(#g000000)"/>
<text x="3286.0" y="1238.5" font-size="51">Cd</text>
<text x="3385" y="1238.5" font-size="51"><tspan font-style="italic">Ceratophyllum demersum</tspan> L.</text>
<circle cx="3214.6" cy="1301.5" r="18.1" fill="url(#g393939)"/>
<text x="3286.0" y="1319.0" font-size="51">Ms</text>
<text x="3390" y="1319" font-size="51"><tspan font-style="italic">Myriophyllum spicatum</tspan> L.</text>
<circle cx="3214.6" cy="1382.5" r="18.1" fill="url(#g888888)"/>
<text x="3286.0" y="1400.0" font-size="51">Np</text>
<text x="3386" y="1400" font-size="51"><tspan font-style="italic">Nymphoides peltata</tspan> (S. G. Gmel.) Kuntze</text>
<circle cx="3214.6" cy="1463.5" r="18.1" fill="url(#ga9a9a9)"/>
<text x="3286.0" y="1481.0" font-size="51">Tn</text>
<text x="3383" y="1481" font-size="51"><tspan font-style="italic">Trapa natans</tspan> L.</text>
<use href="#r1" fill="none" stroke="#6ccb95" stroke-width="6.9" stroke-linejoin="round" stroke-linecap="round"/>
<use href="#r1" fill="none" stroke="#aee2c5" stroke-width="2.2" stroke-linejoin="round" opacity="0.5"/>
<circle cx="1088.9" cy="161.8" r="3.9" fill="#6ccb95"/>
<circle cx="1089.6" cy="150.8" r="3.9" fill="#6ccb95"/>
<circle cx="1090.3" cy="104.0" r="3.9" fill="#6ccb95"/>
<circle cx="1090.9" cy="112.0" r="3.9" fill="#6ccb95"/>
<circle cx="1091.6" cy="125.0" r="3.9" fill="#6ccb95"/>
<g fill="#6ccb95"><circle cx="1092.3" cy="123.6" r="3.9"/><circle cx="1092.9" cy="126.4" r="3.9"/><circle cx="1093.6" cy="127.6" r="3.9"/><circle cx="1094.3" cy="128.6" r="3.9"/><circle cx="1094.9" cy="129.8" r="3.9"/><circle cx="1095.6" cy="133.1" r="3.9"/><circle cx="1096.3" cy="136.0" r="3.9"/><circle cx="1096.9" cy="137.0" r="3.9"/><circle cx="1097.6" cy="138.2" r="3.9"/><circle cx="1098.3" cy="140.0" r="3.9"/><circle cx="1098.9" cy="142.1" r="3.9"/><circle cx="1099.6" cy="143.9" r="3.9"/><circle cx="1100.3" cy="144.9" r="3.9"/><circle cx="1100.9" cy="145.2" r="3.9"/><circle cx="1101.6" cy="145.5" r="3.9"/><circle cx="1102.3" cy="145.7" r="3.9"/><circle cx="1102.9" cy="145.0" r="3.9"/><circle cx="1103.6" cy="143.9" r="3.9"/><circle cx="1104.3" cy="143.1" r="3.9"/><circle cx="1104.9" cy="142.3" r="3.9"/><circle cx="1105.6" cy="141.9" r="3.9"/><circle cx="1106.3" cy="142.2" r="3.9"/><circle cx="1106.9" cy="142.6" r="3.9"/><circle cx="1107.6" cy="142.5" r="3.9"/><circle cx="1108.3" cy="141.8" r="3.9"/><circle cx="1108.9" cy="141.0" r="3.9"/></g>
<use href="#r2" fill="none" stroke="#a9a9a9" stroke-width="6.9" stroke-linejoin="round" stroke-linecap="round"/>
<use href="#r2" fill="none" stroke="#d0d0d0" stroke-width="2.2" stroke-linejoin="round" opacity="0.5"/>
<circle cx="1088.9" cy="301.0" r="3.9" fill="#a9a9a9"/>
<circle cx="1089.6" cy="290.8" r="3.9" fill="#a9a9a9"/>
<circle cx="1090.3" cy="235.8" r="3.9" fill="#a9a9a9"/>
<circle cx="1091.6" cy="248.0" r="3.9" fill="#a9a9a9"/>
<g fill="#a9a9a9"><circle cx="1092.3" cy="247.6" r="3.9"/><circle cx="1092.9" cy="248.2" r="3.9"/><circle cx="1093.6" cy="248.9" r="3.9"/><circle cx="1094.3" cy="248.0" r="3.9"/><circle cx="1094.9" cy="245.7" r="3.9"/><circle cx="1095.6" cy="245.0" r="3.9"/><circle cx="1096.3" cy="245.9" r="3.9"/><circle cx="1096.9" cy="246.4" r="3.9"/><circle cx="1097.6" cy="246.7" r="3.9"/><circle cx="1098.3" cy="246.5" r="3.9"/><circle cx="1098.9" cy="246.0" r="3.9"/><circle cx="1099.6" cy="245.8" r="3.9"/><circle cx="1100.3" cy="246.1" r="3.9"/><circle cx="1100.9" cy="246.6" r="3.9"/><circle cx="1101.6" cy="247.5" r="3.9"/><circle cx="1102.3" cy="248.9" r="3.9"/><circle cx="1102.9" cy="250.1" r="3.9"/><circle cx="1103.6" cy="250.4" r="3.9"/><circle cx="1104.3" cy="250.3" r="3.9"/><circle cx="1104.9" cy="250.5" r="3.9"/><circle cx="1105.6" cy="250.5" r="3.9"/><circle cx="1106.3" cy="249.5" r="3.9"/><circle cx="1106.9" cy="248.4" r="3.9"/><circle cx="1107.6" cy="248.7" r="3.9"/><circle cx="1108.3" cy="250.1" r="3.9"/><circle cx="1108.9" cy="251.1" r="3.9"/></g>
<use href="#r3" fill="none" stroke="#174a9c" stroke-width="6.9" stroke-linejoin="round" stroke-linecap="round"/>
<use href="#r3" fill="none" stroke="#7f9bc9" stroke-width="2.2" stroke-linejoin="round" opacity="0.5"/>
<circle cx="1088.9" cy="32.8" r="3.9" fill="#174a9c"/>
<circle cx="1089.6" cy="222.0" r="3.9" fill="#174a9c"/>
<circle cx="1090.3" cy="226.0" r="3.9" fill="#174a9c"/>
<circle cx="1090.9" cy="272.9" r="3.9" fill="#174a9c"/>
<circle cx="1091.6" cy="287.0" r="3.9" fill="#174a9c"/>
<g fill="#174a9c"><circle cx="1092.3" cy="281.3" r="3.9"/><circle cx="1092.9" cy="278.1" r="3.9"/><circle cx="1093.6" cy="273.2" r="3.9"/><circle cx="1094.3" cy="268.5" r="3.9"/><circle cx="1094.9" cy="264.1" r="3.9"/><circle cx="1095.6" cy="259.9" r="3.9"/><circle cx="1096.3" cy="260.9" r="3.9"/><circle cx="1096.9" cy="260.6" r="3.9"/><circle cx="1097.6" cy="260.7" r="3.9"/><circle cx="1098.3" cy="260.4" r="3.9"/><circle cx="1098.9" cy="259.7" r="3.9"/><circle cx="1099.6" cy="259.3" r="3.9"/><circle cx="1100.3" cy="259.3" r="3.9"/><circle cx="1100.9" cy="259.5" r="3.9"/><circle cx="1101.6" cy="260.4" r="3.9"/><circle cx="1102.3" cy="262.0" r="3.9"/><circle cx="1102.9" cy="263.4" r="3.9"/><circle cx="1103.6" cy="264.6" r="3.9"/><circle cx="1104.3" cy="265.9" r="3.9"/><circle cx="1104.9" cy="267.2" r="3.9"/><circle cx="1105.6" cy="269.1" r="3.9"/><circle cx="1106.3" cy="270.9" r="3.9"/><circle cx="1106.9" cy="272.4" r="3.9"/><circle cx="1107.6" cy="273.5" r="3.9"/><circle cx="1108.3" cy="274.3" r="3.9"/><circle cx="1108.9" cy="275.5" r="3.9"/></g>
<use href="#r4" fill="none" stroke="#393939" stroke-width="6.9" stroke-linejoin="round" stroke-linecap="round"/>
<use href="#r4" fill="none" stroke="#929292" stroke-width="2.2" stroke-linejoin="round" opacity="0.5"/>
<g fill="#393939"><circle cx="1092.3" cy="382.3" r="3.9"/><circle cx="1092.9" cy="383.5" r="3.9"/><circle cx="1093.6" cy="383.3" r="3.9"/><circle cx="1094.3" cy="382.5" r="3.9"/><circle cx="1094.9" cy="382.0" r="3.9"/><circle cx="1095.6" cy="381.8" r="3.9"/><circle cx="1096.3" cy="381.1" r="3.9"/><circle cx="1096.9" cy="378.9" r="3.9"/><circle cx="1097.6" cy="376.4" r="3.9"/><circle cx="1098.3" cy="374.7" r="3.9"/><circle cx="1098.9" cy="373.9" r="3.9"/><circle cx="1099.6" cy="373.6" r="3.9"/><circle cx="1100.3" cy="373.7" r="3.9"/><circle cx="1100.9" cy="373.6" r="3.9"/><circle cx="1101.6" cy="372.8" r="3.9"/><circle cx="1102.3" cy="371.3" r="3.9"/><circle cx="1102.9" cy="369.3" r="3.9"/><circle cx="1103.6" cy="367.1" r="3.9"/><circle cx="1104.3" cy="364.8" r="3.9"/><circle cx="1104.9" cy="363.3" r="3.9"/><circle cx="1105.6" cy="363.4" r="3.9"/><circle cx="1106.3" cy="364.3" r="3.9"/><circle cx="1106.9" cy="364.6" r="3.9"/><circle cx="1107.6" cy="363.7" r="3.9"/><circle cx="1108.3" cy="362.5" r="3.9"/><circle cx="1108.9" cy="361.8" r="3.9"/></g>
<use href="#r5" fill="none" stroke="#888888" stroke-width="6.9" stroke-linejoin="round" stroke-linecap="round"/>
<use href="#r5" fill="none" stroke="#bebebe" stroke-width="2.2" stroke-linejoin="round" opacity="0.5"/>
<circle cx="1088.9" cy="463.9" r="3.9" fill="#888888"/>
<circle cx="1089.6" cy="474.9" r="3.9" fill="#888888"/>
<circle cx="1091.6" cy="378.3" r="3.9" fill="#888888"/>
<g fill="#888888"><circle cx="1092.3" cy="377.8" r="3.9"/><circle cx="1092.9" cy="376.5" r="3.9"/><circle cx="1093.6" cy="376.0" r="3.9"/><circle cx="1094.3" cy="377.6" r="3.9"/><circle cx="1094.9" cy="380.5" r="3.9"/><circle cx="1095.6" cy="382.9" r="3.9"/><circle cx="1096.3" cy="384.4" r="3.9"/><circle cx="1096.9" cy="384.9" r="3.9"/><circle cx="1097.6" cy="385.7" r="3.9"/><circle cx="1098.3" cy="387.1" r="3.9"/><circle cx="1098.9" cy="388.4" r="3.9"/><circle cx="1099.6" cy="389.0" r="3.9"/><circle cx="1100.3" cy="389.3" r="3.9"/><circle cx="1100.9" cy="390.5" r="3.9"/><circle cx="1101.6" cy="392.2" r="3.9"/><circle cx="1102.3" cy="393.9" r="3.9"/><circle cx="1102.9" cy="395.2" r="3.9"/><circle cx="1103.6" cy="395.9" r="3.9"/><circle cx="1104.3" cy="396.3" r="3.9"/><circle cx="1104.9" cy="397.1" r="3.9"/><circle cx="1105.6" cy="398.6" r="3.9"/><circle cx="1106.3" cy="400.1" r="3.9"/><circle cx="1106.9" cy="401.5" r="3.9"/><circle cx="1107.6" cy="402.3" r="3.9"/><circle cx="1108.3" cy="402.2" r="3.9"/><circle cx="1108.9" cy="402.2" r="3.9"/></g>
<use href="#r6" fill="none" stroke="#31a86a" stroke-width="6.9" stroke-linejoin="round" stroke-linecap="round"/>
<use href="#r6" fill="none" stroke="#8ecfad" stroke-width="2.2" stroke-linejoin="round" opacity="0.5"/>
<circle cx="1088.9" cy="507.3" r="3.9" fill="#31a86a"/>
<circle cx="1090.3" cy="430.0" r="3.9" fill="#31a86a"/>
<circle cx="1091.6" cy="409.0" r="3.9" fill="#31a86a"/>
<g fill="#31a86a"><circle cx="1092.3" cy="408.6" r="3.9"/><circle cx="1092.9" cy="405.5" r="3.9"/><circle cx="1093.6" cy="402.0" r="3.9"/><circle cx="1094.3" cy="398.8" r="3.9"/><circle cx="1094.9" cy="396.4" r="3.9"/><circle cx="1095.6" cy="395.9" r="3.9"/><circle cx="1096.3" cy="394.1" r="3.9"/><circle cx="1096.9" cy="390.1" r="3.9"/><circle cx="1097.6" cy="387.3" r="3.9"/><circle cx="1098.3" cy="386.3" r="3.9"/><circle cx="1098.9" cy="385.6" r="3.9"/><circle cx="1099.6" cy="383.9" r="3.9"/><circle cx="1100.3" cy="381.6" r="3.9"/><circle cx="1100.9" cy="379.2" r="3.9"/><circle cx="1101.6" cy="378.0" r="3.9"/><circle cx="1102.3" cy="377.9" r="3.9"/><circle cx="1102.9" cy="377.8" r="3.9"/><circle cx="1103.6" cy="377.3" r="3.9"/><circle cx="1104.3" cy="377.1" r="3.9"/><circle cx="1104.9" cy="377.1" r="3.9"/><circle cx="1105.6" cy="376.8" r="3.9"/><circle cx="1106.3" cy="376.8" r="3.9"/><circle cx="1106.9" cy="376.6" r="3.9"/><circle cx="1107.6" cy="375.7" r="3.9"/><circle cx="1108.3" cy="374.7" r="3.9"/><circle cx="1108.9" cy="374.2" r="3.9"/></g>
<use href="#r7" fill="none" stroke="#2a8050" stroke-width="6.9" stroke-linejoin="round" stroke-linecap="round"/>
<use href="#r7" fill="none" stroke="#8ab99f" stroke-width="2.2" stroke-linejoin="round" opacity="0.5"/>
<circle cx="1088.9" cy="437.0" r="3.9" fill="#2a8050"/>
<circle cx="1090.3" cy="421.7" r="3.9" fill="#2a8050"/>
<g fill="#2a8050"><circle cx="1092.3" cy="427.4" r="3.9"/><circle cx="1092.9" cy="426.4" r="3.9"/><circle cx="1093.6" cy="425.3" r="3.9"/><circle cx="1094.3" cy="425.5" r="3.9"/><circle cx="1094.9" cy="426.7" r="3.9"/><circle cx="1095.6" cy="426.3" r="3.9"/><circle cx="1096.3" cy="424.9" r="3.9"/><circle cx="1096.9" cy="423.6" r="3.9"/><circle cx="1097.6" cy="422.4" r="3.9"/><circle cx="1098.3" cy="421.8" r="3.9"/><circle cx="1098.9" cy="421.7" r="3.9"/><circle cx="1099.6" cy="422.0" r="3.9"/><circle cx="1100.3" cy="422.1" r="3.9"/><circle cx="1100.9" cy="421.9" r="3.9"/><circle cx="1101.6" cy="421.8" r="3.9"/><circle cx="1102.3" cy="421.3" r="3.9"/><circle cx="1102.9" cy="420.2" r="3.9"/><circle cx="1103.6" cy="419.3" r="3.9"/><circle cx="1104.3" cy="419.0" r="3.9"/><circle cx="1104.9" cy="419.4" r="3.9"/><circle cx="1105.6" cy="420.5" r="3.9"/><circle cx="1106.3" cy="421.4" r="3.9"/><circle cx="1106.9" cy="421.5" r="3.9"/><circle cx="1107.6" cy="421.1" r="3.9"/><circle cx="1108.3" cy="420.8" r="3.9"/><circle cx="1108.9" cy="420.9" r="3.9"/></g>
<use href="#r8" fill="none" stroke="#fcb592" stroke-width="6.9" stroke-linejoin="round" stroke-linecap="round"/>
<use href="#r8" fill="none" stroke="#fdd6c3" stroke-width="2.2" stroke-linejoin="round" opacity="0.5"/>
<circle cx="1089.6" cy="470.0" r="3.9" fill="#fcb592"/>
<circle cx="1090.9" cy="452.0" r="3.9" fill="#fcb592"/>
<g fill="#fcb592"><circle cx="1092.3" cy="450.2" r="3.9"/><circle cx="1092.9" cy="450.2" r="3.9"/><circle cx="1093.6" cy="448.6" r="3.9"/><circle cx="1094.3" cy="445.6" r="3.9"/><circle cx="1094.9" cy="442.8" r="3.9"/><circle cx="1095.6" cy="443.6" r="3.9"/><circle cx="1096.3" cy="446.2" r="3.9"/><circle cx="1096.9" cy="447.1" r="3.9"/><circle cx="1097.6" cy="446.5" r="3.9"/><circle cx="1098.3" cy="446.1" r="3.9"/><circle cx="1098.9" cy="446.4" r="3.9"/><circle cx="1099.6" cy="446.7" r="3.9"/><circle cx="1100.3" cy="446.8" r="3.9"/><circle cx="1100.9" cy="446.7" r="3.9"/><circle cx="1101.6" cy="446.7" r="3.9"/><circle cx="1102.3" cy="446.9" r="3.9"/><circle cx="1102.9" cy="447.4" r="3.9"/><circle cx="1103.6" cy="447.9" r="3.9"/><circle cx="1104.3" cy="447.9" r="3.9"/><circle cx="1104.9" cy="447.7" r="3.9"/><circle cx="1105.6" cy="447.5" r="3.9"/><circle cx="1106.3" cy="447.2" r="3.9"/><circle cx="1106.9" cy="447.3" r="3.9"/><circle cx="1107.6" cy="447.8" r="3.9"/><circle cx="1108.3" cy="448.7" r="3.9"/><circle cx="1108.9" cy="449.0" r="3.9"/></g>
<use href="#r9" fill="none" stroke="#1d6ddd" stroke-width="6.9" stroke-linejoin="round" stroke-linecap="round"/>
<use href="#r9" fill="none" stroke="#83afec" stroke-width="2.2" stroke-linejoin="round" opacity="0.5"/>
<circle cx="1088.9" cy="522.6" r="3.9" fill="#1d6ddd"/>
<circle cx="1089.6" cy="484.3" r="3.9" fill="#1d6ddd"/>
<circle cx="1090.9" cy="472.8" r="3.9" fill="#1d6ddd"/>
<g fill="#1d6ddd"><circle cx="1092.3" cy="468.5" r="3.9"/><circle cx="1092.9" cy="466.2" r="3.9"/><circle cx="1093.6" cy="463.0" r="3.9"/><circle cx="1094.3" cy="459.4" r="3.9"/><circle cx="1094.9" cy="454.9" r="3.9"/><circle cx="1095.6" cy="449.4" r="3.9"/><circle cx="1096.3" cy="449.3" r="3.9"/><circle cx="1096.9" cy="448.6" r="3.9"/><circle cx="1097.6" cy="447.4" r="3.9"/><circle cx="1098.3" cy="445.0" r="3.9"/><circle cx="1098.9" cy="443.8" r="3.9"/><circle cx="1099.6" cy="445.4" r="3.9"/><circle cx="1100.3" cy="447.7" r="3.9"/><circle cx="1100.9" cy="448.7" r="3.9"/><circle cx="1101.6" cy="449.0" r="3.9"/><circle cx="1102.3" cy="449.5" r="3.9"/><circle cx="1102.9" cy="450.4" r="3.9"/><circle cx="1103.6" cy="451.1" r="3.9"/><circle cx="1104.3" cy="451.3" r="3.9"/><circle cx="1104.9" cy="451.8" r="3.9"/><circle cx="1105.6" cy="452.8" r="3.9"/><circle cx="1106.3" cy="453.2" r="3.9"/><circle cx="1106.9" cy="453.2" r="3.9"/><circle cx="1107.6" cy="453.9" r="3.9"/><circle cx="1108.3" cy="455.0" r="3.9"/><circle cx="1108.9" cy="455.6" r="3.9"/></g>
<use href="#r10" fill="none" stroke="#8ab4f0" stroke-width="6.9" stroke-linejoin="round" stroke-linecap="round"/>
<use href="#r10" fill="none" stroke="#bfd6f7" stroke-width="2.2" stroke-linejoin="round" opacity="0.5"/>
<circle cx="1088.9" cy="660.6" r="3.9" fill="#8ab4f0"/>
<circle cx="1089.6" cy="617.0" r="3.9" fill="#8ab4f0"/>
<circle cx="1090.9" cy="559.7" r="3.9" fill="#8ab4f0"/>
<g fill="#8ab4f0"><circle cx="1092.3" cy="542.3" r="3.9"/><circle cx="1092.9" cy="533.5" r="3.9"/><circle cx="1093.6" cy="525.6" r="3.9"/><circle cx="1094.3" cy="524.7" r="3.9"/><circle cx="1094.9" cy="524.3" r="3.9"/><circle cx="1095.6" cy="524.5" r="3.9"/><circle cx="1096.3" cy="524.9" r="3.9"/><circle cx="1096.9" cy="523.4" r="3.9"/><circle cx="1097.6" cy="522.1" r="3.9"/><circle cx="1098.3" cy="522.1" r="3.9"/><circle cx="1098.9" cy="523.1" r="3.9"/><circle cx="1099.6" cy="524.6" r="3.9"/><circle cx="1100.3" cy="526.1" r="3.9"/><circle cx="1100.9" cy="527.9" r="3.9"/><circle cx="1101.6" cy="530.5" r="3.9"/><circle cx="1102.3" cy="533.5" r="3.9"/><circle cx="1102.9" cy="536.2" r="3.9"/><circle cx="1103.6" cy="538.4" r="3.9"/><circle cx="1104.3" cy="540.4" r="3.9"/><circle cx="1104.9" cy="541.5" r="3.9"/><circle cx="1105.6" cy="542.0" r="3.9"/><circle cx="1106.3" cy="542.5" r="3.9"/><circle cx="1106.9" cy="543.9" r="3.9"/><circle cx="1107.6" cy="546.6" r="3.9"/><circle cx="1108.3" cy="549.6" r="3.9"/><circle cx="1108.9" cy="552.3" r="3.9"/></g>
<use href="#r11" fill="none" stroke="#000000" stroke-width="6.9" stroke-linejoin="round" stroke-linecap="round"/>
<use href="#r11" fill="none" stroke="#737373" stroke-width="2.2" stroke-linejoin="round" opacity="0.5"/>
<circle cx="1088.9" cy="494.5" r="3.9" fill="#000000"/>
<circle cx="1090.3" cy="567.3" r="3.9" fill="#000000"/>
<g fill="#000000"><circle cx="1092.3" cy="581.3" r="3.9"/><circle cx="1092.9" cy="581.7" r="3.9"/><circle cx="1093.6" cy="581.0" r="3.9"/><circle cx="1094.3" cy="580.5" r="3.9"/><circle cx="1094.9" cy="582.8" r="3.9"/><circle cx="1095.6" cy="587.3" r="3.9"/><circle cx="1096.3" cy="589.7" r="3.9"/><circle cx="1096.9" cy="589.4" r="3.9"/><circle cx="1097.6" cy="589.3" r="3.9"/><circle cx="1098.3" cy="590.6" r="3.9"/><circle cx="1098.9" cy="592.2" r="3.9"/><circle cx="1099.6" cy="593.4" r="3.9"/><circle cx="1100.3" cy="595.6" r="3.9"/><circle cx="1100.9" cy="598.3" r="3.9"/><circle cx="1101.6" cy="600.4" r="3.9"/><circle cx="1102.3" cy="602.0" r="3.9"/><circle cx="1102.9" cy="603.6" r="3.9"/><circle cx="1103.6" cy="604.7" r="3.9"/><circle cx="1104.3" cy="604.9" r="3.9"/><circle cx="1104.9" cy="605.7" r="3.9"/><circle cx="1105.6" cy="607.9" r="3.9"/><circle cx="1106.3" cy="610.0" r="3.9"/><circle cx="1106.9" cy="611.3" r="3.9"/><circle cx="1107.6" cy="611.8" r="3.9"/><circle cx="1108.3" cy="612.0" r="3.9"/><circle cx="1108.9" cy="612.7" r="3.9"/></g>
<use href="#r12" fill="none" stroke="#dc5808" stroke-width="6.9" stroke-linejoin="round" stroke-linecap="round"/>
<use href="#r12" fill="none" stroke="#eca377" stroke-width="2.2" stroke-linejoin="round" opacity="0.5"/>
<circle cx="1088.9" cy="572.4" r="3.9" fill="#dc5808"/>
<circle cx="1090.3" cy="617.0" r="3.9" fill="#dc5808"/>
<circle cx="1091.6" cy="589.0" r="3.9" fill="#dc5808"/>
<g fill="#dc5808"><circle cx="1092.3" cy="590.9" r="3.9"/><circle cx="1092.9" cy="593.7" r="3.9"/><circle cx="1093.6" cy="596.5" r="3.9"/><circle cx="1094.3" cy="599.1" r="3.9"/><circle cx="1094.9" cy="602.3" r="3.9"/><circle cx="1095.6" cy="601.9" r="3.9"/><circle cx="1096.3" cy="599.6" r="3.9"/><circle cx="1096.9" cy="598.0" r="3.9"/><circle cx="1097.6" cy="596.4" r="3.9"/><circle cx="1098.3" cy="595.2" r="3.9"/><circle cx="1098.9" cy="594.4" r="3.9"/><circle cx="1099.6" cy="593.9" r="3.9"/><circle cx="1100.3" cy="593.8" r="3.9"/><circle cx="1100.9" cy="594.2" r="3.9"/><circle cx="1101.6" cy="594.0" r="3.9"/><circle cx="1102.3" cy="592.8" r="3.9"/><circle cx="1102.9" cy="592.4" r="3.9"/><circle cx="1103.6" cy="593.3" r="3.9"/><circle cx="1104.3" cy="595.2" r="3.9"/><circle cx="1104.9" cy="596.8" r="3.9"/><circle cx="1105.6" cy="598.0" r="3.9"/><circle cx="1106.3" cy="599.6" r="3.9"/><circle cx="1106.9" cy="602.2" r="3.9"/><circle cx="1107.6" cy="604.8" r="3.9"/><circle cx="1108.3" cy="606.0" r="3.9"/><circle cx="1108.9" cy="605.8" r="3.9"/></g>
<rect x="921.5" y="27.0" width="1000.5" height="667.0" fill="none" stroke="#000" stroke-width="3.6"/>
<line x1="906.5" y1="27.0" x2="921.5" y2="27.0" stroke="#000" stroke-width="3.6"/>
<line x1="906.5" y1="334.8" x2="921.5" y2="334.8" stroke="#000" stroke-width="3.6"/>
<line x1="906.5" y1="642.7" x2="921.5" y2="642.7" stroke="#000" stroke-width="3.6"/>
<line x1="914.0" y1="180.9" x2="921.5" y2="180.9" stroke="#000" stroke-width="3.6"/>
<line x1="914.0" y1="488.8" x2="921.5" y2="488.8" stroke="#000" stroke-width="3.6"/>
<text x="895.7" y="38.6" font-size="38" text-anchor="end">9</text>
<text x="895.7" y="346.5" font-size="38" text-anchor="end">6</text>
<text x="895.7" y="654.3" font-size="38" text-anchor="end">3</text>
<line x1="1088.2" y1="694.0" x2="1088.2" y2="709.0" stroke="#000" stroke-width="3.6"/>
<line x1="1421.8" y1="694.0" x2="1421.8" y2="709.0" stroke="#000" stroke-width="3.6"/>
<line x1="1755.2" y1="694.0" x2="1755.2" y2="709.0" stroke="#000" stroke-width="3.6"/>
<line x1="921.5" y1="694.0" x2="921.5" y2="701.5" stroke="#000" stroke-width="3.6"/>
<line x1="1255.0" y1="694.0" x2="1255.0" y2="701.5" stroke="#000" stroke-width="3.6"/>
<line x1="1588.5" y1="694.0" x2="1588.5" y2="701.5" stroke="#000" stroke-width="3.6"/>
<line x1="1922.0" y1="694.0" x2="1922.0" y2="701.5" stroke="#000" stroke-width="3.6"/>
<text x="1088.2" y="748.5" font-size="38" text-anchor="middle">0</text>
<text x="1421.8" y="748.5" font-size="38" text-anchor="middle">500</text>
<text x="1755.2" y="748.5" font-size="38" text-anchor="middle">1000</text>
<text x="1421.8" y="798.5" font-size="51" font-weight="bold" text-anchor="middle">Run times</text>
<text x="857.5" y="392.6" font-size="51.5" font-weight="bold" text-anchor="middle" transform="rotate(-90 857.5 392.6)">Cumulative average of degree</text>
<text x="939.0" y="82.6" font-size="51" font-weight="bold">(b)</text>
<use href="#r13" fill="none" stroke="#dc5808" stroke-width="6.9" stroke-linejoin="round" stroke-linecap="round"/>
<use href="#r13" fill="none" stroke="#eca377" stroke-width="2.2" stroke-linejoin="round" opacity="0.5"/>
<circle cx="2272.9" cy="30.2" r="3.9" fill="#dc5808"/>
<circle cx="2273.5" cy="101.7" r="3.9" fill="#dc5808"/>
<circle cx="2274.9" cy="132.4" r="3.9" fill="#dc5808"/>
<g fill="#dc5808"><circle cx="2276.2" cy="141.2" r="3.9"/><circle cx="2276.9" cy="152.6" r="3.9"/><circle cx="2277.5" cy="161.9" r="3.9"/><circle cx="2278.2" cy="149.5" r="3.9"/><circle cx="2278.9" cy="138.7" r="3.9"/><circle cx="2279.5" cy="145.7" r="3.9"/><circle cx="2280.2" cy="156.5" r="3.9"/><circle cx="2280.9" cy="161.6" r="3.9"/><circle cx="2281.5" cy="166.1" r="3.9"/><circle cx="2282.2" cy="169.7" r="3.9"/><circle cx="2282.9" cy="172.8" r="3.9"/><circle cx="2283.5" cy="176.1" r="3.9"/><circle cx="2284.2" cy="178.9" r="3.9"/><circle cx="2284.9" cy="180.4" r="3.9"/><circle cx="2285.5" cy="180.4" r="3.9"/><circle cx="2286.2" cy="179.3" r="3.9"/><circle cx="2286.9" cy="177.0" r="3.9"/><circle cx="2287.5" cy="173.7" r="3.9"/><circle cx="2288.2" cy="170.5" r="3.9"/><circle cx="2288.9" cy="168.3" r="3.9"/><circle cx="2289.5" cy="166.2" r="3.9"/><circle cx="2290.2" cy="163.9" r="3.9"/><circle cx="2290.9" cy="161.5" r="3.9"/><circle cx="2291.6" cy="158.6" r="3.9"/><circle cx="2292.2" cy="155.6" r="3.9"/><circle cx="2292.9" cy="153.2" r="3.9"/></g>
<use href="#r14" fill="none" stroke="#000000" stroke-width="6.9" stroke-linejoin="round" stroke-linecap="round"/>
<use href="#r14" fill="none" stroke="#737373" stroke-width="2.2" stroke-linejoin="round" opacity="0.5"/>
<circle cx="2272.9" cy="354.6" r="3.9" fill="#000000"/>
<circle cx="2274.2" cy="339.3" r="3.9" fill="#000000"/>
<g fill="#000000"><circle cx="2276.2" cy="323.3" r="3.9"/><circle cx="2276.9" cy="317.9" r="3.9"/><circle cx="2277.5" cy="311.7" r="3.9"/><circle cx="2278.2" cy="305.0" r="3.9"/><circle cx="2278.9" cy="298.3" r="3.9"/><circle cx="2279.5" cy="295.9" r="3.9"/><circle cx="2280.2" cy="294.5" r="3.9"/><circle cx="2280.9" cy="291.1" r="3.9"/><circle cx="2281.5" cy="288.0" r="3.9"/><circle cx="2282.2" cy="285.5" r="3.9"/><circle cx="2282.9" cy="282.7" r="3.9"/><circle cx="2283.5" cy="279.1" r="3.9"/><circle cx="2284.2" cy="275.4" r="3.9"/><circle cx="2284.9" cy="272.6" r="3.9"/><circle cx="2285.5" cy="270.3" r="3.9"/><circle cx="2286.2" cy="268.8" r="3.9"/><circle cx="2286.9" cy="268.4" r="3.9"/><circle cx="2287.5" cy="268.0" r="3.9"/><circle cx="2288.2" cy="267.4" r="3.9"/><circle cx="2288.9" cy="267.0" r="3.9"/><circle cx="2289.5" cy="266.7" r="3.9"/><circle cx="2290.2" cy="266.0" r="3.9"/><circle cx="2290.9" cy="265.2" r="3.9"/><circle cx="2291.6" cy="264.7" r="3.9"/><circle cx="2292.2" cy="264.4" r="3.9"/><circle cx="2292.9" cy="263.8" r="3.9"/></g>
<use href="#r15" fill="none" stroke="#1d6ddd" stroke-width="6.9" stroke-linejoin="round" stroke-linecap="round"/>
<use href="#r15" fill="none" stroke="#83afec" stroke-width="2.2" stroke-linejoin="round" opacity="0.5"/>
<circle cx="2272.9" cy="229.4" r="3.9" fill="#1d6ddd"/>
<circle cx="2274.2" cy="283.1" r="3.9" fill="#1d6ddd"/>
<g fill="#1d6ddd"><circle cx="2276.2" cy="294.5" r="3.9"/><circle cx="2276.9" cy="297.2" r="3.9"/><circle cx="2277.5" cy="300.3" r="3.9"/><circle cx="2278.2" cy="302.6" r="3.9"/><circle cx="2278.9" cy="304.9" r="3.9"/><circle cx="2279.5" cy="307.8" r="3.9"/><circle cx="2280.2" cy="311.5" r="3.9"/><circle cx="2280.9" cy="314.6" r="3.9"/><circle cx="2281.5" cy="316.8" r="3.9"/><circle cx="2282.2" cy="319.1" r="3.9"/><circle cx="2282.9" cy="321.5" r="3.9"/><circle cx="2283.5" cy="324.7" r="3.9"/><circle cx="2284.2" cy="328.9" r="3.9"/><circle cx="2284.9" cy="332.1" r="3.9"/><circle cx="2285.5" cy="333.4" r="3.9"/><circle cx="2286.2" cy="333.1" r="3.9"/><circle cx="2286.9" cy="331.9" r="3.9"/><circle cx="2287.5" cy="331.5" r="3.9"/><circle cx="2288.2" cy="332.4" r="3.9"/><circle cx="2288.9" cy="333.3" r="3.9"/><circle cx="2289.5" cy="333.7" r="3.9"/><circle cx="2290.2" cy="334.1" r="3.9"/><circle cx="2290.9" cy="334.7" r="3.9"/><circle cx="2291.6" cy="334.8" r="3.9"/><circle cx="2292.2" cy="334.6" r="3.9"/><circle cx="2292.9" cy="335.0" r="3.9"/></g>
<use href="#r16" fill="none" stroke="#8ab4f0" stroke-width="6.9" stroke-linejoin="round" stroke-linecap="round"/>
<use href="#r16" fill="none" stroke="#bfd6f7" stroke-width="2.2" stroke-linejoin="round" opacity="0.5"/>
<circle cx="2272.9" cy="177.0" r="3.9" fill="#8ab4f0"/>
<circle cx="2273.5" cy="200.0" r="3.9" fill="#8ab4f0"/>
<circle cx="2274.2" cy="251.0" r="3.9" fill="#8ab4f0"/>
<circle cx="2275.5" cy="270.0" r="3.9" fill="#8ab4f0"/>
<g fill="#8ab4f0"><circle cx="2276.2" cy="275.9" r="3.9"/><circle cx="2276.9" cy="286.1" r="3.9"/><circle cx="2277.5" cy="297.0" r="3.9"/><circle cx="2278.2" cy="306.4" r="3.9"/><circle cx="2278.9" cy="314.7" r="3.9"/><circle cx="2279.5" cy="316.5" r="3.9"/><circle cx="2280.2" cy="316.5" r="3.9"/><circle cx="2280.9" cy="319.4" r="3.9"/><circle cx="2281.5" cy="321.5" r="3.9"/><circle cx="2282.2" cy="323.5" r="3.9"/><circle cx="2282.9" cy="324.7" r="3.9"/><circle cx="2283.5" cy="325.2" r="3.9"/><circle cx="2284.2" cy="325.4" r="3.9"/><circle cx="2284.9" cy="325.7" r="3.9"/><circle cx="2285.5" cy="326.4" r="3.9"/><circle cx="2286.2" cy="326.8" r="3.9"/><circle cx="2286.9" cy="325.9" r="3.9"/><circle cx="2287.5" cy="324.9" r="3.9"/><circle cx="2288.2" cy="324.8" r="3.9"/><circle cx="2288.9" cy="324.6" r="3.9"/><circle cx="2289.5" cy="323.6" r="3.9"/><circle cx="2290.2" cy="322.7" r="3.9"/><circle cx="2290.9" cy="322.6" r="3.9"/><circle cx="2291.6" cy="322.7" r="3.9"/><circle cx="2292.2" cy="323.2" r="3.9"/><circle cx="2292.9" cy="323.9" r="3.9"/></g>
<use href="#r17" fill="none" stroke="#2a8050" stroke-width="6.9" stroke-linejoin="round" stroke-linecap="round"/>
<use href="#r17" fill="none" stroke="#8ab99f" stroke-width="2.2" stroke-linejoin="round" opacity="0.5"/>
<circle cx="2272.9" cy="393.6" r="3.9" fill="#2a8050"/>
<circle cx="2274.2" cy="410.2" r="3.9" fill="#2a8050"/>
<g fill="#2a8050"><circle cx="2276.2" cy="408.8" r="3.9"/><circle cx="2276.9" cy="406.7" r="3.9"/><circle cx="2277.5" cy="405.4" r="3.9"/><circle cx="2278.2" cy="405.0" r="3.9"/><circle cx="2278.9" cy="404.3" r="3.9"/><circle cx="2279.5" cy="404.2" r="3.9"/><circle cx="2280.2" cy="404.6" r="3.9"/><circle cx="2280.9" cy="404.6" r="3.9"/><circle cx="2281.5" cy="404.2" r="3.9"/><circle cx="2282.2" cy="404.0" r="3.9"/><circle cx="2282.9" cy="404.9" r="3.9"/><circle cx="2283.5" cy="405.6" r="3.9"/><circle cx="2284.2" cy="405.3" r="3.9"/><circle cx="2284.9" cy="404.4" r="3.9"/><circle cx="2285.5" cy="404.1" r="3.9"/><circle cx="2286.2" cy="405.0" r="3.9"/><circle cx="2286.9" cy="406.0" r="3.9"/><circle cx="2287.5" cy="406.1" r="3.9"/><circle cx="2288.2" cy="405.5" r="3.9"/><circle cx="2288.9" cy="404.8" r="3.9"/><circle cx="2289.5" cy="404.2" r="3.9"/><circle cx="2290.2" cy="403.9" r="3.9"/><circle cx="2290.9" cy="403.5" r="3.9"/><circle cx="2291.6" cy="403.3" r="3.9"/><circle cx="2292.2" cy="403.3" r="3.9"/><circle cx="2292.9" cy="402.9" r="3.9"/></g>
<use href="#r18" fill="none" stroke="#fcb592" stroke-width="6.9" stroke-linejoin="round" stroke-linecap="round"/>
<use href="#r18" fill="none" stroke="#fdd6c3" stroke-width="2.2" stroke-linejoin="round" opacity="0.5"/>
<circle cx="2273.5" cy="541.8" r="3.9" fill="#fcb592"/>
<circle cx="2274.9" cy="480.5" r="3.9" fill="#fcb592"/>
<g fill="#fcb592"><circle cx="2276.2" cy="473.2" r="3.9"/><circle cx="2276.9" cy="468.6" r="3.9"/><circle cx="2277.5" cy="462.9" r="3.9"/><circle cx="2278.2" cy="455.8" r="3.9"/><circle cx="2278.9" cy="449.5" r="3.9"/><circle cx="2279.5" cy="444.4" r="3.9"/><circle cx="2280.2" cy="439.6" r="3.9"/><circle cx="2280.9" cy="434.8" r="3.9"/><circle cx="2281.5" cy="430.2" r="3.9"/><circle cx="2282.2" cy="425.9" r="3.9"/><circle cx="2282.9" cy="421.3" r="3.9"/><circle cx="2283.5" cy="416.6" r="3.9"/><circle cx="2284.2" cy="411.9" r="3.9"/><circle cx="2284.9" cy="406.7" r="3.9"/><circle cx="2285.5" cy="401.0" r="3.9"/><circle cx="2286.2" cy="395.6" r="3.9"/><circle cx="2286.9" cy="390.7" r="3.9"/><circle cx="2287.5" cy="386.8" r="3.9"/><circle cx="2288.2" cy="384.8" r="3.9"/><circle cx="2288.9" cy="384.4" r="3.9"/><circle cx="2289.5" cy="385.7" r="3.9"/><circle cx="2290.2" cy="389.5" r="3.9"/><circle cx="2290.9" cy="395.3" r="3.9"/><circle cx="2291.6" cy="401.1" r="3.9"/><circle cx="2292.2" cy="405.9" r="3.9"/><circle cx="2292.9" cy="410.2" r="3.9"/></g>
<use href="#r19" fill="none" stroke="#888888" stroke-width="6.9" stroke-linejoin="round" stroke-linecap="round"/>
<use href="#r19" fill="none" stroke="#bebebe" stroke-width="2.2" stroke-linejoin="round" opacity="0.5"/>
<circle cx="2272.9" cy="384.7" r="3.9" fill="#888888"/>
<circle cx="2273.5" cy="529.0" r="3.9" fill="#888888"/>
<circle cx="2275.5" cy="449.8" r="3.9" fill="#888888"/>
<g fill="#888888"><circle cx="2276.2" cy="446.6" r="3.9"/><circle cx="2276.9" cy="444.9" r="3.9"/><circle cx="2277.5" cy="441.9" r="3.9"/><circle cx="2278.2" cy="439.5" r="3.9"/><circle cx="2278.9" cy="436.6" r="3.9"/><circle cx="2279.5" cy="434.8" r="3.9"/><circle cx="2280.2" cy="432.5" r="3.9"/><circle cx="2280.9" cy="428.9" r="3.9"/><circle cx="2281.5" cy="426.0" r="3.9"/><circle cx="2282.2" cy="425.1" r="3.9"/><circle cx="2282.9" cy="425.4" r="3.9"/><circle cx="2283.5" cy="425.5" r="3.9"/><circle cx="2284.2" cy="425.3" r="3.9"/><circle cx="2284.9" cy="424.9" r="3.9"/><circle cx="2285.5" cy="424.7" r="3.9"/><circle cx="2286.2" cy="424.7" r="3.9"/><circle cx="2286.9" cy="424.9" r="3.9"/><circle cx="2287.5" cy="426.0" r="3.9"/><circle cx="2288.2" cy="427.2" r="3.9"/><circle cx="2288.9" cy="427.4" r="3.9"/><circle cx="2289.5" cy="426.3" r="3.9"/><circle cx="2290.2" cy="424.9" r="3.9"/><circle cx="2290.9" cy="424.3" r="3.9"/><circle cx="2291.6" cy="424.7" r="3.9"/><circle cx="2292.2" cy="425.8" r="3.9"/><circle cx="2292.9" cy="426.7" r="3.9"/></g>
<use href="#r20" fill="none" stroke="#393939" stroke-width="6.9" stroke-linejoin="round" stroke-linecap="round"/>
<use href="#r20" fill="none" stroke="#929292" stroke-width="2.2" stroke-linejoin="round" opacity="0.5"/>
<circle cx="2272.9" cy="516.2" r="3.9" fill="#393939"/>
<circle cx="2273.5" cy="355.3" r="3.9" fill="#393939"/>
<circle cx="2274.2" cy="364.3" r="3.9" fill="#393939"/>
<circle cx="2275.5" cy="450.0" r="3.9" fill="#393939"/>
<g fill="#393939"><circle cx="2276.2" cy="450.7" r="3.9"/><circle cx="2276.9" cy="450.2" r="3.9"/><circle cx="2277.5" cy="450.5" r="3.9"/><circle cx="2278.2" cy="449.0" r="3.9"/><circle cx="2278.9" cy="445.7" r="3.9"/><circle cx="2279.5" cy="444.2" r="3.9"/><circle cx="2280.2" cy="444.2" r="3.9"/><circle cx="2280.9" cy="444.8" r="3.9"/><circle cx="2281.5" cy="446.1" r="3.9"/><circle cx="2282.2" cy="446.0" r="3.9"/><circle cx="2282.9" cy="445.4" r="3.9"/><circle cx="2283.5" cy="446.1" r="3.9"/><circle cx="2284.2" cy="447.6" r="3.9"/><circle cx="2284.9" cy="449.4" r="3.9"/><circle cx="2285.5" cy="451.5" r="3.9"/><circle cx="2286.2" cy="453.5" r="3.9"/><circle cx="2286.9" cy="455.2" r="3.9"/><circle cx="2287.5" cy="456.7" r="3.9"/><circle cx="2288.2" cy="458.2" r="3.9"/><circle cx="2288.9" cy="459.5" r="3.9"/><circle cx="2289.5" cy="460.2" r="3.9"/><circle cx="2290.2" cy="459.9" r="3.9"/><circle cx="2290.9" cy="458.7" r="3.9"/><circle cx="2291.6" cy="458.1" r="3.9"/><circle cx="2292.2" cy="458.3" r="3.9"/><circle cx="2292.9" cy="458.7" r="3.9"/></g>
<use href="#r21" fill="none" stroke="#31a86a" stroke-width="6.9" stroke-linejoin="round" stroke-linecap="round"/>
<use href="#r21" fill="none" stroke="#8ecfad" stroke-width="2.2" stroke-linejoin="round" opacity="0.5"/>
<circle cx="2272.9" cy="472.8" r="3.9" fill="#31a86a"/>
<circle cx="2274.2" cy="488.1" r="3.9" fill="#31a86a"/>
<g fill="#31a86a"><circle cx="2276.2" cy="499.5" r="3.9"/><circle cx="2276.9" cy="503.5" r="3.9"/><circle cx="2277.5" cy="507.3" r="3.9"/><circle cx="2278.2" cy="508.1" r="3.9"/><circle cx="2278.9" cy="509.3" r="3.9"/><circle cx="2279.5" cy="510.6" r="3.9"/><circle cx="2280.2" cy="511.0" r="3.9"/><circle cx="2280.9" cy="511.3" r="3.9"/><circle cx="2281.5" cy="510.8" r="3.9"/><circle cx="2282.2" cy="509.9" r="3.9"/><circle cx="2282.9" cy="508.7" r="3.9"/><circle cx="2283.5" cy="507.6" r="3.9"/><circle cx="2284.2" cy="506.7" r="3.9"/><circle cx="2284.9" cy="505.9" r="3.9"/><circle cx="2285.5" cy="505.0" r="3.9"/><circle cx="2286.2" cy="503.5" r="3.9"/><circle cx="2286.9" cy="501.4" r="3.9"/><circle cx="2287.5" cy="499.4" r="3.9"/><circle cx="2288.2" cy="498.0" r="3.9"/><circle cx="2288.9" cy="497.3" r="3.9"/><circle cx="2289.5" cy="497.3" r="3.9"/><circle cx="2290.2" cy="497.7" r="3.9"/><circle cx="2290.9" cy="498.3" r="3.9"/><circle cx="2291.6" cy="499.5" r="3.9"/><circle cx="2292.2" cy="501.2" r="3.9"/><circle cx="2292.9" cy="503.0" r="3.9"/></g>
<use href="#r22" fill="none" stroke="#a9a9a9" stroke-width="6.9" stroke-linejoin="round" stroke-linecap="round"/>
<use href="#r22" fill="none" stroke="#d0d0d0" stroke-width="2.2" stroke-linejoin="round" opacity="0.5"/>
<circle cx="2272.9" cy="621.0" r="3.9" fill="#a9a9a9"/>
<circle cx="2274.2" cy="585.2" r="3.9" fill="#a9a9a9"/>
<g fill="#a9a9a9"><circle cx="2276.2" cy="576.9" r="3.9"/><circle cx="2276.9" cy="573.7" r="3.9"/><circle cx="2277.5" cy="571.5" r="3.9"/><circle cx="2278.2" cy="569.8" r="3.9"/><circle cx="2278.9" cy="567.6" r="3.9"/><circle cx="2279.5" cy="565.4" r="3.9"/><circle cx="2280.2" cy="563.1" r="3.9"/><circle cx="2280.9" cy="560.6" r="3.9"/><circle cx="2281.5" cy="558.1" r="3.9"/><circle cx="2282.2" cy="556.1" r="3.9"/><circle cx="2282.9" cy="555.2" r="3.9"/><circle cx="2283.5" cy="554.6" r="3.9"/><circle cx="2284.2" cy="553.8" r="3.9"/><circle cx="2284.9" cy="553.3" r="3.9"/><circle cx="2285.5" cy="553.4" r="3.9"/><circle cx="2286.2" cy="553.0" r="3.9"/><circle cx="2286.9" cy="553.0" r="3.9"/><circle cx="2287.5" cy="553.8" r="3.9"/><circle cx="2288.2" cy="554.2" r="3.9"/><circle cx="2288.9" cy="553.7" r="3.9"/><circle cx="2289.5" cy="553.5" r="3.9"/><circle cx="2290.2" cy="554.0" r="3.9"/><circle cx="2290.9" cy="554.8" r="3.9"/><circle cx="2291.6" cy="555.5" r="3.9"/><circle cx="2292.2" cy="556.0" r="3.9"/><circle cx="2292.9" cy="555.8" r="3.9"/></g>
<use href="#r23" fill="none" stroke="#174a9c" stroke-width="6.9" stroke-linejoin="round" stroke-linecap="round"/>
<use href="#r23" fill="none" stroke="#7f9bc9" stroke-width="2.2" stroke-linejoin="round" opacity="0.5"/>
<circle cx="2272.9" cy="619.7" r="3.9" fill="#174a9c"/>
<circle cx="2274.2" cy="577.5" r="3.9" fill="#174a9c"/>
<g fill="#174a9c"><circle cx="2276.2" cy="569.8" r="3.9"/><circle cx="2276.9" cy="568.8" r="3.9"/><circle cx="2277.5" cy="568.2" r="3.9"/><circle cx="2278.2" cy="568.9" r="3.9"/><circle cx="2278.9" cy="568.9" r="3.9"/><circle cx="2279.5" cy="567.7" r="3.9"/><circle cx="2280.2" cy="566.9" r="3.9"/><circle cx="2280.9" cy="567.4" r="3.9"/><circle cx="2281.5" cy="568.3" r="3.9"/><circle cx="2282.2" cy="568.4" r="3.9"/><circle cx="2282.9" cy="567.8" r="3.9"/><circle cx="2283.5" cy="566.8" r="3.9"/><circle cx="2284.2" cy="565.7" r="3.9"/><circle cx="2284.9" cy="564.9" r="3.9"/><circle cx="2285.5" cy="564.8" r="3.9"/><circle cx="2286.2" cy="564.7" r="3.9"/><circle cx="2286.9" cy="563.9" r="3.9"/><circle cx="2287.5" cy="563.1" r="3.9"/><circle cx="2288.2" cy="563.1" r="3.9"/><circle cx="2288.9" cy="563.7" r="3.9"/><circle cx="2289.5" cy="563.7" r="3.9"/><circle cx="2290.2" cy="563.2" r="3.9"/><circle cx="2290.9" cy="562.8" r="3.9"/><circle cx="2291.6" cy="562.8" r="3.9"/><circle cx="2292.2" cy="563.0" r="3.9"/><circle cx="2292.9" cy="563.5" r="3.9"/></g>
<use href="#r24" fill="none" stroke="#6ccb95" stroke-width="6.9" stroke-linejoin="round" stroke-linecap="round"/>
<use href="#r24" fill="none" stroke="#aee2c5" stroke-width="2.2" stroke-linejoin="round" opacity="0.5"/>
<circle cx="2272.9" cy="623.5" r="3.9" fill="#6ccb95"/>
<circle cx="2274.2" cy="605.6" r="3.9" fill="#6ccb95"/>
<g fill="#6ccb95"><circle cx="2276.2" cy="593.7" r="3.9"/><circle cx="2276.9" cy="589.8" r="3.9"/><circle cx="2277.5" cy="585.8" r="3.9"/><circle cx="2278.2" cy="585.1" r="3.9"/><circle cx="2278.9" cy="584.8" r="3.9"/><circle cx="2279.5" cy="584.7" r="3.9"/><circle cx="2280.2" cy="585.1" r="3.9"/><circle cx="2280.9" cy="585.5" r="3.9"/><circle cx="2281.5" cy="586.4" r="3.9"/><circle cx="2282.2" cy="587.6" r="3.9"/><circle cx="2282.9" cy="588.5" r="3.9"/><circle cx="2283.5" cy="588.3" r="3.9"/><circle cx="2284.2" cy="587.2" r="3.9"/><circle cx="2284.9" cy="586.2" r="3.9"/><circle cx="2285.5" cy="585.9" r="3.9"/><circle cx="2286.2" cy="586.6" r="3.9"/><circle cx="2286.9" cy="587.8" r="3.9"/><circle cx="2287.5" cy="588.1" r="3.9"/><circle cx="2288.2" cy="587.2" r="3.9"/><circle cx="2288.9" cy="586.7" r="3.9"/><circle cx="2289.5" cy="587.2" r="3.9"/><circle cx="2290.2" cy="587.5" r="3.9"/><circle cx="2290.9" cy="587.0" r="3.9"/><circle cx="2291.6" cy="586.1" r="3.9"/><circle cx="2292.2" cy="585.9" r="3.9"/><circle cx="2292.9" cy="587.0" r="3.9"/></g>
<rect x="2106.0" y="27.0" width="998.0" height="666.5" fill="none" stroke="#000" stroke-width="3.6"/>
<line x1="2091.0" y1="110.5" x2="2106.0" y2="110.5" stroke="#000" stroke-width="3.6"/>
<line x1="2091.0" y1="277.6" x2="2106.0" y2="277.6" stroke="#000" stroke-width="3.6"/>
<line x1="2091.0" y1="444.6" x2="2106.0" y2="444.6" stroke="#000" stroke-width="3.6"/>
<line x1="2091.0" y1="611.6" x2="2106.0" y2="611.6" stroke="#000" stroke-width="3.6"/>
<line x1="2098.5" y1="194.0" x2="2106.0" y2="194.0" stroke="#000" stroke-width="3.6"/>
<line x1="2098.5" y1="361.1" x2="2106.0" y2="361.1" stroke="#000" stroke-width="3.6"/>
<line x1="2098.5" y1="528.1" x2="2106.0" y2="528.1" stroke="#000" stroke-width="3.6"/>
<line x1="2098.5" y1="695.2" x2="2106.0" y2="695.2" stroke="#000" stroke-width="3.6"/>
<text x="2081.2" y="122.2" font-size="38" text-anchor="end">0.5</text>
<text x="2081.2" y="289.2" font-size="38" text-anchor="end">0.4</text>
<text x="2081.2" y="456.3" font-size="38" text-anchor="end">0.3</text>
<text x="2081.2" y="623.3" font-size="38" text-anchor="end">0.2</text>
<line x1="2272.3" y1="693.5" x2="2272.3" y2="708.5" stroke="#000" stroke-width="3.6"/>
<line x1="2605.0" y1="693.5" x2="2605.0" y2="708.5" stroke="#000" stroke-width="3.6"/>
<line x1="2937.7" y1="693.5" x2="2937.7" y2="708.5" stroke="#000" stroke-width="3.6"/>
<line x1="2106.0" y1="693.5" x2="2106.0" y2="701.0" stroke="#000" stroke-width="3.6"/>
<line x1="2438.7" y1="693.5" x2="2438.7" y2="701.0" stroke="#000" stroke-width="3.6"/>
<line x1="2771.3" y1="693.5" x2="2771.3" y2="701.0" stroke="#000" stroke-width="3.6"/>
<line x1="3104.0" y1="693.5" x2="3104.0" y2="701.0" stroke="#000" stroke-width="3.6"/>
<text x="2272.3" y="748.5" font-size="38" text-anchor="middle">0</text>
<text x="2605.0" y="748.5" font-size="38" text-anchor="middle">500</text>
<text x="2937.7" y="748.5" font-size="38" text-anchor="middle">1000</text>
<text x="2605.0" y="798.5" font-size="51" font-weight="bold" text-anchor="middle">Run times</text>
<text x="2015.3" y="397.2" font-size="47" font-weight="bold" text-anchor="middle" transform="rotate(-90 2015.3 397.2)">Cumulative average of modularity</text>
<text x="2127.5" y="82.6" font-size="51" font-weight="bold">(c)</text>
<polygon points="192.0,1076.1 198.5,1075.3 205.0,1071.4 211.5,1072.2 218.1,1071.5 224.6,1070.8 231.1,1075.4 237.6,1068.1 244.1,1067.2 250.6,1065.9 257.1,1068.8 263.6,1064.1 270.2,1063.9 276.7,1065.4 283.2,1064.1 289.7,1058.5 296.2,1064.7 302.7,1059.6 309.2,1060.3 315.8,1057.6 322.3,1060.0 328.8,1053.5 335.3,1051.6 341.8,1053.0 348.3,1054.4 354.8,1049.5 361.4,1050.6 367.9,1051.0 374.4,1041.9 380.9,1047.9 387.4,1045.9 393.9,1040.3 400.4,1040.0 406.9,1037.5 413.5,1039.5 420.0,1034.2 426.5,1036.1 433.0,1036.5 439.5,1026.8 446.0,1030.9 452.5,1028.1 459.1,1025.4 465.6,1026.2 472.1,1023.1 478.6,1017.7 485.1,1018.5 491.6,1018.4 498.1,1014.7 504.7,1011.5 511.2,1019.7 517.7,1015.2 524.2,1013.0 530.7,1008.1 537.2,1000.6 543.7,1003.4 550.2,1003.7 556.8,999.2 563.3,996.9 569.8,997.4 576.3,1000.1 582.8,993.4 589.3,991.0 595.8,986.7 602.4,990.6 608.9,985.5 615.4,982.5 621.9,979.7 628.4,976.9 634.9,976.9 641.4,979.6 648.0,972.2 654.5,971.3 661.0,965.7 667.5,966.2 674.0,959.4 680.5,964.6 687.0,957.2 693.5,957.6 700.1,954.3 706.6,955.3 713.1,950.7 719.6,948.4 719.6,1171.4 713.1,1168.0 706.6,1172.1 700.1,1173.8 693.5,1177.4 687.0,1174.5 680.5,1177.8 674.0,1181.8 667.5,1180.2 661.0,1179.2 654.5,1183.9 648.0,1183.3 641.4,1180.6 634.9,1183.4 628.4,1183.7 621.9,1184.3 615.4,1188.8 608.9,1183.7 602.4,1189.0 595.8,1190.0 589.3,1187.7 582.8,1191.5 576.3,1189.2 569.8,1193.1 563.3,1195.6 556.8,1199.7 550.2,1195.4 543.7,1205.8 537.2,1200.4 530.7,1200.8 524.2,1201.2 517.7,1202.1 511.2,1205.3 504.7,1206.2 498.1,1209.0 491.6,1211.3 485.1,1209.9 478.6,1219.4 472.1,1211.3 465.6,1216.1 459.1,1220.5 452.5,1222.7 446.0,1222.4 439.5,1219.2 433.0,1224.6 426.5,1231.0 420.0,1228.4 413.5,1230.5 406.9,1232.1 400.4,1235.4 393.9,1238.7 387.4,1235.2 380.9,1239.4 374.4,1241.6 367.9,1243.5 361.4,1248.0 354.8,1248.5 348.3,1245.9 341.8,1251.4 335.3,1255.3 328.8,1253.2 322.3,1253.7 315.8,1257.7 309.2,1256.1 302.7,1260.5 296.2,1262.6 289.7,1267.4 283.2,1267.5 276.7,1271.7 270.2,1277.1 263.6,1270.5 257.1,1281.6 250.6,1282.5 244.1,1287.5 237.6,1287.8 231.1,1288.1 224.6,1293.1 218.1,1292.1 211.5,1295.0 205.0,1302.7 198.5,1303.2 192.0,1302.2" fill="#fdf3f0"/>
<polyline points="192.0,1076.1 198.5,1075.3 205.0,1071.4 211.5,1072.2 218.1,1071.5 224.6,1070.8 231.1,1075.4 237.6,1068.1 244.1,1067.2 250.6,1065.9 257.1,1068.8 263.6,1064.1 270.2,1063.9 276.7,1065.4 283.2,1064.1 289.7,1058.5 296.2,1064.7 302.7,1059.6 309.2,1060.3 315.8,1057.6 322.3,1060.0 328.8,1053.5 335.3,1051.6 341.8,1053.0 348.3,1054.4 354.8,1049.5 361.4,1050.6 367.9,1051.0 374.4,1041.9 380.9,1047.9 387.4,1045.9 393.9,1040.3 400.4,1040.0 406.9,1037.5 413.5,1039.5 420.0,1034.2 426.5,1036.1 433.0,1036.5 439.5,1026.8 446.0,1030.9 452.5,1028.1 459.1,1025.4 465.6,1026.2 472.1,1023.1 478.6,1017.7 485.1,1018.5 491.6,1018.4 498.1,1014.7 504.7,1011.5 511.2,1019.7 517.7,1015.2 524.2,1013.0 530.7,1008.1 537.2,1000.6 543.7,1003.4 550.2,1003.7 556.8,999.2 563.3,996.9 569.8,997.4 576.3,1000.1 582.8,993.4 589.3,991.0 595.8,986.7 602.4,990.6 608.9,985.5 615.4,982.5 621.9,979.7 628.4,976.9 634.9,976.9 641.4,979.6 648.0,972.2 654.5,971.3 661.0,965.7 667.5,966.2 674.0,959.4 680.5,964.6 687.0,957.2 693.5,957.6 700.1,954.3 706.6,955.3 713.1,950.7 719.6,948.4" fill="none" stroke="#7a7a7a" stroke-width="1.6"/>
<polyline points="192.0,1302.2 198.5,1303.2 205.0,1302.7 211.5,1295.0 218.1,1292.1 224.6,1293.1 231.1,1288.1 237.6,1287.8 244.1,1287.5 250.6,1282.5 257.1,1281.6 263.6,1270.5 270.2,1277.1 276.7,1271.7 283.2,1267.5 289.7,1267.4 296.2,1262.6 302.7,1260.5 309.2,1256.1 315.8,1257.7 322.3,1253.7 328.8,1253.2 335.3,1255.3 341.8,1251.4 348.3,1245.9 354.8,1248.5 361.4,1248.0 367.9,1243.5 374.4,1241.6 380.9,1239.4 387.4,1235.2 393.9,1238.7 400.4,1235.4 406.9,1232.1 413.5,1230.5 420.0,1228.4 426.5,1231.0 433.0,1224.6 439.5,1219.2 446.0,1222.4 452.5,1222.7 459.1,1220.5 465.6,1216.1 472.1,1211.3 478.6,1219.4 485.1,1209.9 491.6,1211.3 498.1,1209.0 504.7,1206.2 511.2,1205.3 517.7,1202.1 524.2,1201.2 530.7,1200.8 537.2,1200.4 543.7,1205.8 550.2,1195.4 556.8,1199.7 563.3,1195.6 569.8,1193.1 576.3,1189.2 582.8,1191.5 589.3,1187.7 595.8,1190.0 602.4,1189.0 608.9,1183.7 615.4,1188.8 621.9,1184.3 628.4,1183.7 634.9,1183.4 641.4,1180.6 648.0,1183.3 654.5,1183.9 661.0,1179.2 667.5,1180.2 674.0,1181.8 680.5,1177.8 687.0,1174.5 693.5,1177.4 700.1,1173.8 706.6,1172.1 713.1,1168.0 719.6,1171.4" fill="none" stroke="#7a7a7a" stroke-width="1.6"/>
<polyline points="192.0,1190.1 201.1,1187.4 210.2,1185.3 219.3,1182.5 228.4,1181.3 237.5,1176.8 246.6,1177.0 255.7,1173.5 264.8,1171.4 273.9,1168.3 283.0,1165.6 292.1,1164.4 301.2,1163.3 310.3,1160.7 319.4,1159.0 328.4,1155.8 337.5,1153.9 346.6,1151.4 355.7,1148.3 364.8,1147.0 373.9,1144.4 383.0,1143.3 392.1,1140.2 401.2,1138.1 410.3,1136.4 419.4,1134.6 428.5,1131.4 437.6,1129.2 446.7,1127.2 455.8,1125.7 464.9,1121.8 474.0,1119.4 483.1,1120.8 492.2,1115.8 501.3,1113.8 510.4,1109.6 519.5,1108.9 528.6,1106.9 537.7,1104.3 546.8,1102.2 555.9,1100.2 565.0,1098.4 574.1,1096.8 583.2,1092.6 592.2,1090.4 601.3,1089.7 610.4,1087.2 619.5,1084.1 628.6,1081.4 637.7,1079.7 646.8,1078.2 655.9,1076.5 665.0,1074.6 674.1,1072.1 683.2,1068.4 692.3,1068.6 701.4,1065.4 710.5,1062.5 719.6,1060.2" fill="none" stroke="#7a7a7a" stroke-width="1.6"/>
<circle cx="335.4" cy="1148.7" r="18.3" fill="url(#ga9a9a9)"/>
<circle cx="256.4" cy="1248.8" r="18.3" fill="url(#g888888)"/>
<circle cx="222.4" cy="1121.3" r="18.3" fill="url(#g174a9c)"/>
<circle cx="191.5" cy="1193.5" r="18.3" fill="url(#g6ccb95)"/>
<circle cx="389.1" cy="1127.3" r="18.3" fill="url(#g393939)"/>
<circle cx="428.9" cy="1117.1" r="18.3" fill="url(#gf88a3c)"/>
<circle cx="414.6" cy="1116.1" r="18.3" fill="url(#g1d6ddd)"/>
<circle cx="410.9" cy="1144.7" r="18.3" fill="url(#g31a86a)"/>
<circle cx="403.1" cy="1193.0" r="18.3" fill="url(#g2a8050)"/>
<circle cx="577.0" cy="1061.3" r="18.3" fill="url(#g8ab4f0)"/>
<circle cx="642.6" cy="1057.1" r="18.3" fill="url(#gdc5808)"/>
<circle cx="718.8" cy="1093.9" r="18.3" fill="url(#g000000)"/>
<rect x="150.5" y="838.0" width="606.5" height="546.0" fill="none" stroke="#000" stroke-width="3.6"/>
<line x1="135.5" y1="1384.0" x2="150.5" y2="1384.0" stroke="#000" stroke-width="3.6"/>
<line x1="135.5" y1="1259.5" x2="150.5" y2="1259.5" stroke="#000" stroke-width="3.6"/>
<line x1="135.5" y1="1135.0" x2="150.5" y2="1135.0" stroke="#000" stroke-width="3.6"/>
<line x1="135.5" y1="1010.5" x2="150.5" y2="1010.5" stroke="#000" stroke-width="3.6"/>
<line x1="135.5" y1="886.1" x2="150.5" y2="886.1" stroke="#000" stroke-width="3.6"/>
<line x1="143.0" y1="1321.8" x2="150.5" y2="1321.8" stroke="#000" stroke-width="3.6"/>
<line x1="143.0" y1="1197.3" x2="150.5" y2="1197.3" stroke="#000" stroke-width="3.6"/>
<line x1="143.0" y1="1072.8" x2="150.5" y2="1072.8" stroke="#000" stroke-width="3.6"/>
<line x1="143.0" y1="948.3" x2="150.5" y2="948.3" stroke="#000" stroke-width="3.6"/>
<text x="124.7" y="1395.6" font-size="38" text-anchor="end">0.5</text>
<text x="124.7" y="1271.2" font-size="38" text-anchor="end">1.0</text>
<text x="124.7" y="1146.7" font-size="38" text-anchor="end">1.5</text>
<text x="124.7" y="1022.2" font-size="38" text-anchor="end">2.0</text>
<text x="124.7" y="897.7" font-size="38" text-anchor="end">2.5</text>
<line x1="271.3" y1="1384.0" x2="271.3" y2="1399.0" stroke="#000" stroke-width="3.6"/>
<line x1="423.1" y1="1384.0" x2="423.1" y2="1399.0" stroke="#000" stroke-width="3.6"/>
<line x1="574.9" y1="1384.0" x2="574.9" y2="1399.0" stroke="#000" stroke-width="3.6"/>
<line x1="726.6" y1="1384.0" x2="726.6" y2="1399.0" stroke="#000" stroke-width="3.6"/>
<line x1="195.4" y1="1384.0" x2="195.4" y2="1391.5" stroke="#000" stroke-width="3.6"/>
<line x1="347.2" y1="1384.0" x2="347.2" y2="1391.5" stroke="#000" stroke-width="3.6"/>
<line x1="499.0" y1="1384.0" x2="499.0" y2="1391.5" stroke="#000" stroke-width="3.6"/>
<line x1="650.8" y1="1384.0" x2="650.8" y2="1391.5" stroke="#000" stroke-width="3.6"/>
<text x="271.3" y="1438.0" font-size="38" text-anchor="middle">0.15</text>
<text x="423.1" y="1438.0" font-size="38" text-anchor="middle">0.20</text>
<text x="574.9" y="1438.0" font-size="38" text-anchor="middle">0.25</text>
<text x="726.6" y="1438.0" font-size="38" text-anchor="middle">0.30</text>
<text x="453.8" y="1483.5" font-size="51" font-weight="bold" text-anchor="middle">Centralization betweenness</text>
<text x="57.5" y="1137.0" font-size="51.5" font-weight="bold" text-anchor="middle" transform="rotate(-90 57.5 1137.0)">Colonisation depth (m)</text>
<text x="169.0" y="895.0" font-size="51" font-weight="bold">(d)</text>
<text x="296.9" y="891.7" font-size="42.8" font-weight="bold"><tspan font-style="italic">R</tspan><tspan font-size="27" dx="1.5" dy="-17.5">2</tspan><tspan dy="17.5"> = 0.48 (0.89, 5.23)</tspan></text>
<polygon points="962.5,1034.7 969.0,1033.0 975.6,1032.2 982.1,1028.6 988.6,1029.8 995.1,1032.6 1001.7,1027.0 1008.2,1029.6 1014.7,1029.7 1021.2,1025.5 1027.8,1024.2 1034.3,1022.7 1040.8,1026.6 1047.4,1020.4 1053.9,1030.3 1060.4,1019.7 1066.9,1018.1 1073.5,1024.0 1080.0,1019.7 1086.5,1019.7 1093.0,1015.1 1099.6,1014.5 1106.1,1011.7 1112.6,1018.6 1119.2,1010.4 1125.7,1017.5 1132.2,1011.8 1138.7,1011.5 1145.3,1012.9 1151.8,1010.2 1158.3,1009.4 1164.8,1005.8 1171.4,1006.5 1177.9,1000.2 1184.4,1006.8 1191.0,1001.9 1197.5,1000.1 1204.0,1003.0 1210.5,1002.6 1217.1,1001.4 1223.6,997.1 1230.1,996.2 1236.6,997.8 1243.2,990.0 1249.7,996.8 1256.2,989.1 1262.7,988.2 1269.3,991.0 1275.8,986.8 1282.3,987.5 1288.9,987.4 1295.4,985.8 1301.9,986.9 1308.4,986.3 1315.0,980.3 1321.5,978.6 1328.0,981.7 1334.5,976.8 1341.1,979.6 1347.6,975.6 1354.1,978.0 1360.7,974.7 1367.2,970.5 1373.7,973.9 1380.2,969.4 1386.8,967.2 1393.3,969.4 1399.8,969.2 1406.3,961.4 1412.9,962.1 1419.4,958.1 1425.9,957.7 1432.5,960.5 1439.0,960.4 1445.5,956.9 1452.0,956.0 1458.6,957.7 1465.1,956.1 1471.6,952.1 1478.1,950.6 1484.7,947.7 1491.2,952.0 1491.2,1261.9 1484.7,1265.4 1478.1,1267.8 1471.6,1271.6 1465.1,1267.8 1458.6,1271.0 1452.0,1267.9 1445.5,1267.7 1439.0,1270.2 1432.5,1268.7 1425.9,1270.4 1419.4,1271.8 1412.9,1274.5 1406.3,1271.1 1399.8,1273.7 1393.3,1271.2 1386.8,1273.3 1380.2,1273.1 1373.7,1273.8 1367.2,1277.0 1360.7,1278.1 1354.1,1276.4 1347.6,1270.6 1341.1,1276.1 1334.5,1274.4 1328.0,1279.5 1321.5,1274.0 1315.0,1282.5 1308.4,1284.7 1301.9,1279.7 1295.4,1284.6 1288.9,1278.6 1282.3,1278.6 1275.8,1279.9 1269.3,1282.4 1262.7,1285.3 1256.2,1288.6 1249.7,1284.4 1243.2,1287.0 1236.6,1287.8 1230.1,1289.0 1223.6,1291.8 1217.1,1294.0 1210.5,1289.8 1204.0,1295.4 1197.5,1290.9 1191.0,1296.1 1184.4,1297.0 1177.9,1291.6 1171.4,1295.8 1164.8,1297.3 1158.3,1297.8 1151.8,1300.7 1145.3,1293.2 1138.7,1301.3 1132.2,1302.3 1125.7,1301.8 1119.2,1301.2 1112.6,1306.5 1106.1,1301.8 1099.6,1302.8 1093.0,1305.4 1086.5,1307.5 1080.0,1309.9 1073.5,1309.0 1066.9,1309.3 1060.4,1313.6 1053.9,1310.6 1047.4,1316.3 1040.8,1316.9 1034.3,1316.5 1027.8,1313.5 1021.2,1321.2 1014.7,1315.7 1008.2,1322.7 1001.7,1323.9 995.1,1322.3 988.6,1327.7 982.1,1316.8 975.6,1323.4 969.0,1326.0 962.5,1326.1" fill="#fdf3f0"/>
<polyline points="962.5,1034.7 969.0,1033.0 975.6,1032.2 982.1,1028.6 988.6,1029.8 995.1,1032.6 1001.7,1027.0 1008.2,1029.6 1014.7,1029.7 1021.2,1025.5 1027.8,1024.2 1034.3,1022.7 1040.8,1026.6 1047.4,1020.4 1053.9,1030.3 1060.4,1019.7 1066.9,1018.1 1073.5,1024.0 1080.0,1019.7 1086.5,1019.7 1093.0,1015.1 1099.6,1014.5 1106.1,1011.7 1112.6,1018.6 1119.2,1010.4 1125.7,1017.5 1132.2,1011.8 1138.7,1011.5 1145.3,1012.9 1151.8,1010.2 1158.3,1009.4 1164.8,1005.8 1171.4,1006.5 1177.9,1000.2 1184.4,1006.8 1191.0,1001.9 1197.5,1000.1 1204.0,1003.0 1210.5,1002.6 1217.1,1001.4 1223.6,997.1 1230.1,996.2 1236.6,997.8 1243.2,990.0 1249.7,996.8 1256.2,989.1 1262.7,988.2 1269.3,991.0 1275.8,986.8 1282.3,987.5 1288.9,987.4 1295.4,985.8 1301.9,986.9 1308.4,986.3 1315.0,980.3 1321.5,978.6 1328.0,981.7 1334.5,976.8 1341.1,979.6 1347.6,975.6 1354.1,978.0 1360.7,974.7 1367.2,970.5 1373.7,973.9 1380.2,969.4 1386.8,967.2 1393.3,969.4 1399.8,969.2 1406.3,961.4 1412.9,962.1 1419.4,958.1 1425.9,957.7 1432.5,960.5 1439.0,960.4 1445.5,956.9 1452.0,956.0 1458.6,957.7 1465.1,956.1 1471.6,952.1 1478.1,950.6 1484.7,947.7 1491.2,952.0" fill="none" stroke="#7a7a7a" stroke-width="1.6"/>
<polyline points="962.5,1326.1 969.0,1326.0 975.6,1323.4 982.1,1316.8 988.6,1327.7 995.1,1322.3 1001.7,1323.9 1008.2,1322.7 1014.7,1315.7 1021.2,1321.2 1027.8,1313.5 1034.3,1316.5 1040.8,1316.9 1047.4,1316.3 1053.9,1310.6 1060.4,1313.6 1066.9,1309.3 1073.5,1309.0 1080.0,1309.9 1086.5,1307.5 1093.0,1305.4 1099.6,1302.8 1106.1,1301.8 1112.6,1306.5 1119.2,1301.2 1125.7,1301.8 1132.2,1302.3 1138.7,1301.3 1145.3,1293.2 1151.8,1300.7 1158.3,1297.8 1164.8,1297.3 1171.4,1295.8 1177.9,1291.6 1184.4,1297.0 1191.0,1296.1 1197.5,1290.9 1204.0,1295.4 1210.5,1289.8 1217.1,1294.0 1223.6,1291.8 1230.1,1289.0 1236.6,1287.8 1243.2,1287.0 1249.7,1284.4 1256.2,1288.6 1262.7,1285.3 1269.3,1282.4 1275.8,1279.9 1282.3,1278.6 1288.9,1278.6 1295.4,1284.6 1301.9,1279.7 1308.4,1284.7 1315.0,1282.5 1321.5,1274.0 1328.0,1279.5 1334.5,1274.4 1341.1,1276.1 1347.6,1270.6 1354.1,1276.4 1360.7,1278.1 1367.2,1277.0 1373.7,1273.8 1380.2,1273.1 1386.8,1273.3 1393.3,1271.2 1399.8,1273.7 1406.3,1271.1 1412.9,1274.5 1419.4,1271.8 1425.9,1270.4 1432.5,1268.7 1439.0,1270.2 1445.5,1267.7 1452.0,1267.9 1458.6,1271.0 1465.1,1267.8 1471.6,1271.6 1478.1,1267.8 1484.7,1265.4 1491.2,1261.9" fill="none" stroke="#7a7a7a" stroke-width="1.6"/>
<polyline points="962.5,1183.1 971.6,1182.7 980.7,1180.0 989.8,1179.5 999.0,1179.0 1008.1,1177.7 1017.2,1175.5 1026.3,1174.8 1035.4,1171.6 1044.5,1171.1 1053.7,1169.8 1062.8,1169.3 1071.9,1167.2 1081.0,1166.8 1090.1,1164.1 1099.2,1164.3 1108.3,1162.2 1117.5,1160.8 1126.6,1160.3 1135.7,1157.7 1144.8,1158.6 1153.9,1156.0 1163.0,1154.8 1172.2,1155.0 1181.3,1151.7 1190.4,1151.2 1199.5,1151.8 1208.6,1148.3 1217.7,1147.2 1226.8,1145.7 1236.0,1144.5 1245.1,1144.1 1254.2,1142.9 1263.3,1141.9 1272.4,1139.9 1281.5,1137.5 1290.7,1137.1 1299.8,1135.9 1308.9,1134.8 1318.0,1135.2 1327.1,1131.5 1336.2,1130.0 1345.4,1128.8 1354.5,1127.4 1363.6,1128.0 1372.7,1125.6 1381.8,1125.9 1390.9,1122.4 1400.0,1121.7 1409.2,1120.7 1418.3,1120.7 1427.4,1117.7 1436.5,1118.3 1445.6,1114.8 1454.7,1114.3 1463.9,1112.5 1473.0,1113.0 1482.1,1109.4 1491.2,1109.8" fill="none" stroke="#7a7a7a" stroke-width="1.6"/>
<circle cx="1106.0" cy="1134.7" r="18.3" fill="url(#ga9a9a9)"/>
<circle cx="1026.8" cy="1205.9" r="18.3" fill="url(#g888888)"/>
<circle cx="992.7" cy="1169.3" r="18.3" fill="url(#g174a9c)"/>
<circle cx="961.6" cy="1149.4" r="18.3" fill="url(#g6ccb95)"/>
<circle cx="1159.9" cy="1201.9" r="18.3" fill="url(#g393939)"/>
<circle cx="1199.8" cy="1166.7" r="18.3" fill="url(#gf88a3c)"/>
<circle cx="1185.5" cy="1065.3" r="18.3" fill="url(#g1d6ddd)"/>
<circle cx="1181.8" cy="1145.7" r="18.3" fill="url(#g31a86a)"/>
<circle cx="1173.9" cy="1213.5" r="18.3" fill="url(#g2a8050)"/>
<circle cx="1348.4" cy="1083.2" r="18.3" fill="url(#g8ab4f0)"/>
<circle cx="1414.2" cy="1038.0" r="18.3" fill="url(#gdc5808)"/>
<rect x="920.5" y="838.0" width="608.5" height="546.0" fill="none" stroke="#000" stroke-width="3.6"/>
<line x1="905.5" y1="1246.9" x2="920.5" y2="1246.9" stroke="#000" stroke-width="3.6"/>
<line x1="905.5" y1="1064.8" x2="920.5" y2="1064.8" stroke="#000" stroke-width="3.6"/>
<line x1="905.5" y1="882.6" x2="920.5" y2="882.6" stroke="#000" stroke-width="3.6"/>
<line x1="913.0" y1="1338.0" x2="920.5" y2="1338.0" stroke="#000" stroke-width="3.6"/>
<line x1="913.0" y1="1155.9" x2="920.5" y2="1155.9" stroke="#000" stroke-width="3.6"/>
<line x1="913.0" y1="973.7" x2="920.5" y2="973.7" stroke="#000" stroke-width="3.6"/>
<text x="894.7" y="1258.6" font-size="38" text-anchor="end">0</text>
<text x="894.7" y="1076.4" font-size="38" text-anchor="end">2</text>
<text x="894.7" y="894.3" font-size="38" text-anchor="end">4</text>
<line x1="1041.7" y1="1384.0" x2="1041.7" y2="1399.0" stroke="#000" stroke-width="3.6"/>
<line x1="1194.0" y1="1384.0" x2="1194.0" y2="1399.0" stroke="#000" stroke-width="3.6"/>
<line x1="1346.3" y1="1384.0" x2="1346.3" y2="1399.0" stroke="#000" stroke-width="3.6"/>
<line x1="1498.5" y1="1384.0" x2="1498.5" y2="1399.0" stroke="#000" stroke-width="3.6"/>
<line x1="965.6" y1="1384.0" x2="965.6" y2="1391.5" stroke="#000" stroke-width="3.6"/>
<line x1="1117.9" y1="1384.0" x2="1117.9" y2="1391.5" stroke="#000" stroke-width="3.6"/>
<line x1="1270.1" y1="1384.0" x2="1270.1" y2="1391.5" stroke="#000" stroke-width="3.6"/>
<line x1="1422.4" y1="1384.0" x2="1422.4" y2="1391.5" stroke="#000" stroke-width="3.6"/>
<text x="1041.7" y="1438.0" font-size="38" text-anchor="middle">0.15</text>
<text x="1194.0" y="1438.0" font-size="38" text-anchor="middle">0.20</text>
<text x="1346.3" y="1438.0" font-size="38" text-anchor="middle">0.25</text>
<text x="1498.5" y="1438.0" font-size="38" text-anchor="middle">0.30</text>
<text x="1224.8" y="1489.0" font-size="51" font-weight="bold" text-anchor="middle">Centralization betweenness</text>
<text x="845.5" y="1137.5" font-size="51.5" font-weight="bold" text-anchor="middle" transform="rotate(-90 845.5 1137.5)">Species biomass (kg m<tspan font-size="34.5" dy="-22">-2</tspan><tspan dy="22">)</tspan></text>
<text x="949.9" y="895.0" font-size="51" font-weight="bold">(e)</text>
<text x="1082.0" y="891.7" font-size="42.8"><tspan font-style="italic">R</tspan><tspan font-size="27" dx="1.5" dy="-17.5">2</tspan><tspan dy="17.5"> = 0.16 (-4.02,12.39)</tspan></text>
<polygon points="1751.5,1092.5 1758.0,1085.5 1764.6,1090.8 1771.1,1084.9 1777.6,1086.2 1784.2,1080.7 1790.7,1081.5 1797.2,1082.6 1803.8,1081.9 1810.3,1081.2 1816.8,1083.4 1823.4,1077.3 1829.9,1074.9 1836.4,1075.2 1843.0,1076.7 1849.5,1076.3 1856.0,1072.6 1862.6,1065.8 1869.1,1072.8 1875.6,1067.4 1882.2,1069.9 1888.7,1065.8 1895.2,1067.4 1901.8,1063.1 1908.3,1062.7 1914.8,1062.7 1921.4,1059.0 1927.9,1060.3 1934.4,1053.5 1941.0,1051.6 1947.5,1056.3 1954.0,1050.9 1960.6,1051.5 1967.1,1048.5 1973.6,1046.7 1980.2,1043.1 1986.7,1039.1 1993.2,1040.8 1999.8,1044.3 2006.3,1040.2 2012.8,1039.8 2019.4,1034.6 2025.9,1036.7 2032.4,1034.0 2039.0,1036.0 2045.5,1031.7 2052.0,1028.2 2058.6,1024.6 2065.1,1025.9 2071.6,1024.0 2078.2,1021.0 2084.7,1020.8 2091.2,1015.7 2097.8,1015.0 2104.3,1012.7 2110.8,1008.9 2117.4,1012.9 2123.9,1008.6 2130.4,1002.8 2137.0,1001.4 2143.5,1005.8 2150.0,1000.7 2156.6,1000.5 2163.1,999.4 2169.6,990.9 2176.2,984.2 2182.7,990.9 2189.2,984.7 2195.8,978.3 2202.3,980.4 2208.8,978.7 2215.4,978.3 2221.9,973.9 2228.4,970.9 2235.0,972.0 2241.5,965.5 2248.0,966.6 2254.6,963.6 2261.1,962.8 2267.6,958.2 2274.2,959.3 2280.7,951.2 2280.7,1183.5 2274.2,1186.2 2267.6,1185.9 2261.1,1185.6 2254.6,1192.1 2248.0,1189.2 2241.5,1196.1 2235.0,1191.2 2228.4,1188.5 2221.9,1198.2 2215.4,1194.5 2208.8,1191.5 2202.3,1200.5 2195.8,1195.6 2189.2,1195.8 2182.7,1196.9 2176.2,1198.8 2169.6,1204.2 2163.1,1208.6 2156.6,1199.6 2150.0,1205.6 2143.5,1205.8 2137.0,1204.5 2130.4,1209.3 2123.9,1208.2 2117.4,1210.4 2110.8,1206.3 2104.3,1213.9 2097.8,1212.8 2091.2,1215.9 2084.7,1217.6 2078.2,1221.6 2071.6,1218.9 2065.1,1217.8 2058.6,1222.9 2052.0,1224.8 2045.5,1226.7 2039.0,1230.1 2032.4,1228.2 2025.9,1230.9 2019.4,1229.4 2012.8,1227.5 2006.3,1232.6 1999.8,1230.4 1993.2,1235.0 1986.7,1239.5 1980.2,1236.4 1973.6,1243.8 1967.1,1241.0 1960.6,1244.7 1954.0,1246.8 1947.5,1247.2 1941.0,1252.4 1934.4,1256.6 1927.9,1253.6 1921.4,1257.1 1914.8,1261.4 1908.3,1260.5 1901.8,1263.0 1895.2,1265.0 1888.7,1263.6 1882.2,1266.4 1875.6,1268.8 1869.1,1266.0 1862.6,1272.6 1856.0,1275.7 1849.5,1274.6 1843.0,1279.8 1836.4,1284.4 1829.9,1284.9 1823.4,1289.0 1816.8,1291.6 1810.3,1294.1 1803.8,1293.2 1797.2,1293.8 1790.7,1296.4 1784.2,1298.1 1777.6,1301.4 1771.1,1304.6 1764.6,1305.1 1758.0,1306.1 1751.5,1310.1" fill="#fdf3f0"/>
<polyline points="1751.5,1092.5 1758.0,1085.5 1764.6,1090.8 1771.1,1084.9 1777.6,1086.2 1784.2,1080.7 1790.7,1081.5 1797.2,1082.6 1803.8,1081.9 1810.3,1081.2 1816.8,1083.4 1823.4,1077.3 1829.9,1074.9 1836.4,1075.2 1843.0,1076.7 1849.5,1076.3 1856.0,1072.6 1862.6,1065.8 1869.1,1072.8 1875.6,1067.4 1882.2,1069.9 1888.7,1065.8 1895.2,1067.4 1901.8,1063.1 1908.3,1062.7 1914.8,1062.7 1921.4,1059.0 1927.9,1060.3 1934.4,1053.5 1941.0,1051.6 1947.5,1056.3 1954.0,1050.9 1960.6,1051.5 1967.1,1048.5 1973.6,1046.7 1980.2,1043.1 1986.7,1039.1 1993.2,1040.8 1999.8,1044.3 2006.3,1040.2 2012.8,1039.8 2019.4,1034.6 2025.9,1036.7 2032.4,1034.0 2039.0,1036.0 2045.5,1031.7 2052.0,1028.2 2058.6,1024.6 2065.1,1025.9 2071.6,1024.0 2078.2,1021.0 2084.7,1020.8 2091.2,1015.7 2097.8,1015.0 2104.3,1012.7 2110.8,1008.9 2117.4,1012.9 2123.9,1008.6 2130.4,1002.8 2137.0,1001.4 2143.5,1005.8 2150.0,1000.7 2156.6,1000.5 2163.1,999.4 2169.6,990.9 2176.2,984.2 2182.7,990.9 2189.2,984.7 2195.8,978.3 2202.3,980.4 2208.8,978.7 2215.4,978.3 2221.9,973.9 2228.4,970.9 2235.0,972.0 2241.5,965.5 2248.0,966.6 2254.6,963.6 2261.1,962.8 2267.6,958.2 2274.2,959.3 2280.7,951.2" fill="none" stroke="#7a7a7a" stroke-width="1.6"/>
<polyline points="1751.5,1310.1 1758.0,1306.1 1764.6,1305.1 1771.1,1304.6 1777.6,1301.4 1784.2,1298.1 1790.7,1296.4 1797.2,1293.8 1803.8,1293.2 1810.3,1294.1 1816.8,1291.6 1823.4,1289.0 1829.9,1284.9 1836.4,1284.4 1843.0,1279.8 1849.5,1274.6 1856.0,1275.7 1862.6,1272.6 1869.1,1266.0 1875.6,1268.8 1882.2,1266.4 1888.7,1263.6 1895.2,1265.0 1901.8,1263.0 1908.3,1260.5 1914.8,1261.4 1921.4,1257.1 1927.9,1253.6 1934.4,1256.6 1941.0,1252.4 1947.5,1247.2 1954.0,1246.8 1960.6,1244.7 1967.1,1241.0 1973.6,1243.8 1980.2,1236.4 1986.7,1239.5 1993.2,1235.0 1999.8,1230.4 2006.3,1232.6 2012.8,1227.5 2019.4,1229.4 2025.9,1230.9 2032.4,1228.2 2039.0,1230.1 2045.5,1226.7 2052.0,1224.8 2058.6,1222.9 2065.1,1217.8 2071.6,1218.9 2078.2,1221.6 2084.7,1217.6 2091.2,1215.9 2097.8,1212.8 2104.3,1213.9 2110.8,1206.3 2117.4,1210.4 2123.9,1208.2 2130.4,1209.3 2137.0,1204.5 2143.5,1205.8 2150.0,1205.6 2156.6,1199.6 2163.1,1208.6 2169.6,1204.2 2176.2,1198.8 2182.7,1196.9 2189.2,1195.8 2195.8,1195.6 2202.3,1200.5 2208.8,1191.5 2215.4,1194.5 2221.9,1198.2 2228.4,1188.5 2235.0,1191.2 2241.5,1196.1 2248.0,1189.2 2254.6,1192.1 2261.1,1185.6 2267.6,1185.9 2274.2,1186.2 2280.7,1183.5" fill="none" stroke="#7a7a7a" stroke-width="1.6"/>
<polyline points="1751.5,1202.8 1760.6,1199.0 1769.7,1198.0 1778.9,1194.7 1788.0,1192.4 1797.1,1189.2 1806.2,1190.0 1815.4,1187.4 1824.5,1183.4 1833.6,1181.1 1842.7,1179.3 1851.9,1175.4 1861.0,1176.0 1870.1,1171.2 1879.2,1169.3 1888.4,1166.4 1897.5,1165.7 1906.6,1162.6 1915.7,1159.0 1924.9,1157.4 1934.0,1154.4 1943.1,1154.0 1952.2,1150.8 1961.4,1148.5 1970.5,1147.3 1979.6,1143.5 1988.7,1142.1 1997.9,1138.7 2007.0,1137.0 2016.1,1136.0 2025.2,1132.0 2034.3,1129.6 2043.5,1127.9 2052.6,1124.6 2061.7,1123.4 2070.8,1121.6 2080.0,1118.0 2089.1,1117.5 2098.2,1114.5 2107.3,1111.5 2116.5,1109.3 2125.6,1107.3 2134.7,1103.6 2143.8,1100.9 2153.0,1101.0 2162.1,1096.7 2171.2,1097.0 2180.3,1093.8 2189.5,1090.2 2198.6,1088.8 2207.7,1085.7 2216.8,1083.4 2226.0,1082.6 2235.1,1078.5 2244.2,1077.0 2253.3,1073.1 2262.5,1071.3 2271.6,1068.3 2280.7,1066.3" fill="none" stroke="#7a7a7a" stroke-width="1.6"/>
<circle cx="1894.5" cy="1147.0" r="18.3" fill="url(#ga9a9a9)"/>
<circle cx="1815.5" cy="1214.1" r="18.3" fill="url(#g888888)"/>
<circle cx="1781.5" cy="1209.9" r="18.3" fill="url(#g174a9c)"/>
<circle cx="1750.5" cy="1207.8" r="18.3" fill="url(#g6ccb95)"/>
<circle cx="1948.3" cy="1091.4" r="18.3" fill="url(#g393939)"/>
<circle cx="1988.1" cy="1080.2" r="18.3" fill="url(#gf88a3c)"/>
<circle cx="1973.8" cy="1172.8" r="18.3" fill="url(#g1d6ddd)"/>
<circle cx="1970.2" cy="1111.0" r="18.3" fill="url(#g31a86a)"/>
<circle cx="1962.3" cy="1212.8" r="18.3" fill="url(#g2a8050)"/>
<circle cx="2136.3" cy="1083.5" r="18.3" fill="url(#g8ab4f0)"/>
<circle cx="2202.0" cy="1071.8" r="18.3" fill="url(#gdc5808)"/>
<circle cx="2278.2" cy="1113.5" r="18.3" fill="url(#g000000)"/>
<rect x="1709.5" y="838.0" width="607.0" height="546.0" fill="none" stroke="#000" stroke-width="3.6"/>
<line x1="1694.5" y1="1384.0" x2="1709.5" y2="1384.0" stroke="#000" stroke-width="3.6"/>
<line x1="1694.5" y1="1259.9" x2="1709.5" y2="1259.9" stroke="#000" stroke-width="3.6"/>
<line x1="1694.5" y1="1135.8" x2="1709.5" y2="1135.8" stroke="#000" stroke-width="3.6"/>
<line x1="1694.5" y1="1011.7" x2="1709.5" y2="1011.7" stroke="#000" stroke-width="3.6"/>
<line x1="1694.5" y1="887.6" x2="1709.5" y2="887.6" stroke="#000" stroke-width="3.6"/>
<line x1="1702.0" y1="1322.0" x2="1709.5" y2="1322.0" stroke="#000" stroke-width="3.6"/>
<line x1="1702.0" y1="1197.9" x2="1709.5" y2="1197.9" stroke="#000" stroke-width="3.6"/>
<line x1="1702.0" y1="1073.8" x2="1709.5" y2="1073.8" stroke="#000" stroke-width="3.6"/>
<line x1="1702.0" y1="949.7" x2="1709.5" y2="949.7" stroke="#000" stroke-width="3.6"/>
<text x="1683.7" y="1395.6" font-size="38" text-anchor="end">-0.5</text>
<text x="1683.7" y="1271.6" font-size="38" text-anchor="end">0.0</text>
<text x="1683.7" y="1147.5" font-size="38" text-anchor="end">0.5</text>
<text x="1683.7" y="1023.4" font-size="38" text-anchor="end">1.0</text>
<text x="1683.7" y="899.3" font-size="38" text-anchor="end">1.5</text>
<line x1="1830.4" y1="1384.0" x2="1830.4" y2="1399.0" stroke="#000" stroke-width="3.6"/>
<line x1="1982.3" y1="1384.0" x2="1982.3" y2="1399.0" stroke="#000" stroke-width="3.6"/>
<line x1="2134.2" y1="1384.0" x2="2134.2" y2="1399.0" stroke="#000" stroke-width="3.6"/>
<line x1="2286.1" y1="1384.0" x2="2286.1" y2="1399.0" stroke="#000" stroke-width="3.6"/>
<line x1="1754.5" y1="1384.0" x2="1754.5" y2="1391.5" stroke="#000" stroke-width="3.6"/>
<line x1="1906.4" y1="1384.0" x2="1906.4" y2="1391.5" stroke="#000" stroke-width="3.6"/>
<line x1="2058.3" y1="1384.0" x2="2058.3" y2="1391.5" stroke="#000" stroke-width="3.6"/>
<line x1="2210.2" y1="1384.0" x2="2210.2" y2="1391.5" stroke="#000" stroke-width="3.6"/>
<text x="1830.4" y="1438.0" font-size="38" text-anchor="middle">0.15</text>
<text x="1982.3" y="1438.0" font-size="38" text-anchor="middle">0.20</text>
<text x="2134.2" y="1438.0" font-size="38" text-anchor="middle">0.25</text>
<text x="2286.1" y="1438.0" font-size="38" text-anchor="middle">0.30</text>
<text x="2013.0" y="1489.0" font-size="51" font-weight="bold" text-anchor="middle">Centralization betweenness</text>
<text x="1625.7" y="1140.5" font-size="51.5" font-weight="bold" text-anchor="middle" transform="rotate(-90 1625.7 1140.5)">Species frequency</text>
<text x="1726.8" y="895.0" font-size="51" font-weight="bold">(f)</text>
<text x="1850.9" y="891.7" font-size="42.8" font-weight="bold"><tspan font-style="italic">R</tspan><tspan font-size="27" dx="1.5" dy="-17.5">2</tspan><tspan dy="17.5"> = 0.48 (0.91, 5.30)</tspan></text>
<polygon points="2542.0,1074.2 2548.5,1072.5 2555.0,1071.6 2561.6,1067.8 2568.1,1068.9 2574.6,1071.6 2581.1,1065.9 2587.6,1068.3 2594.2,1068.2 2600.7,1063.8 2607.2,1062.4 2613.7,1060.6 2620.3,1064.3 2626.8,1057.8 2633.3,1067.5 2639.8,1056.7 2646.3,1054.8 2652.9,1060.4 2659.4,1055.8 2665.9,1055.5 2672.4,1050.5 2678.9,1049.6 2685.5,1046.5 2692.0,1053.0 2698.5,1044.4 2705.0,1051.1 2711.5,1045.0 2718.1,1044.2 2724.6,1045.3 2731.1,1042.1 2737.6,1040.8 2744.2,1036.8 2750.7,1037.0 2757.2,1030.1 2763.7,1036.3 2770.2,1030.8 2776.8,1028.5 2783.3,1030.8 2789.8,1029.8 2796.3,1028.1 2802.8,1023.2 2809.4,1021.7 2815.9,1022.6 2822.4,1014.1 2828.9,1020.3 2835.4,1012.0 2842.0,1010.4 2848.5,1012.5 2855.0,1007.6 2861.5,1007.6 2868.0,1006.7 2874.6,1004.4 2881.1,1004.7 2887.6,1003.3 2894.1,996.6 2900.7,994.1 2907.2,996.4 2913.7,990.7 2920.2,992.6 2926.7,987.7 2933.3,989.2 2939.8,985.1 2946.3,980.0 2952.8,982.5 2959.3,977.1 2965.9,974.0 2972.4,975.2 2978.9,974.0 2985.4,965.3 2991.9,964.9 2998.5,960.0 3005.0,958.6 3011.5,960.4 3018.0,959.2 3024.6,954.7 3031.1,952.7 3037.6,953.3 3044.1,950.6 3050.6,945.5 3057.2,942.9 3063.7,938.9 3070.2,942.0 3070.2,1212.0 3063.7,1215.6 3057.2,1218.2 3050.6,1222.0 3044.1,1218.4 3037.6,1221.7 3031.1,1218.8 3024.6,1218.8 3018.0,1221.5 3011.5,1220.2 3005.0,1222.1 2998.5,1223.7 2991.9,1226.7 2985.4,1223.5 2978.9,1226.4 2972.4,1224.2 2965.9,1226.6 2959.3,1226.7 2952.8,1227.8 2946.3,1231.3 2939.8,1232.8 2933.3,1231.4 2926.7,1226.0 2920.2,1231.9 2913.7,1230.5 2907.2,1236.1 2900.7,1231.0 2894.1,1240.0 2887.6,1242.7 2881.1,1238.1 2874.6,1243.5 2868.0,1238.0 2861.5,1238.5 2855.0,1240.4 2848.5,1243.4 2842.0,1246.8 2835.4,1250.8 2828.9,1247.1 2822.4,1250.3 2815.9,1251.7 2809.4,1253.6 2802.8,1256.9 2796.3,1259.8 2789.8,1256.3 2783.3,1262.6 2776.8,1258.7 2770.2,1264.7 2763.7,1266.3 2757.2,1261.6 2750.7,1266.5 2744.2,1268.8 2737.6,1270.0 2731.1,1273.7 2724.6,1267.1 2718.1,1275.9 2711.5,1277.7 2705.0,1278.1 2698.5,1278.3 2692.0,1284.5 2685.5,1280.7 2678.9,1282.6 2672.4,1286.1 2665.9,1289.2 2659.4,1292.4 2652.9,1292.5 2646.3,1293.7 2639.8,1299.0 2633.3,1297.0 2626.8,1303.7 2620.3,1305.3 2613.7,1305.9 2607.2,1304.0 2600.7,1312.7 2594.2,1308.2 2587.6,1316.4 2581.1,1318.7 2574.6,1318.1 2568.1,1324.7 2561.6,1314.9 2555.0,1322.7 2548.5,1326.5 2542.0,1327.7" fill="#fdf3f0"/>
<polyline points="2542.0,1074.2 2548.5,1072.5 2555.0,1071.6 2561.6,1067.8 2568.1,1068.9 2574.6,1071.6 2581.1,1065.9 2587.6,1068.3 2594.2,1068.2 2600.7,1063.8 2607.2,1062.4 2613.7,1060.6 2620.3,1064.3 2626.8,1057.8 2633.3,1067.5 2639.8,1056.7 2646.3,1054.8 2652.9,1060.4 2659.4,1055.8 2665.9,1055.5 2672.4,1050.5 2678.9,1049.6 2685.5,1046.5 2692.0,1053.0 2698.5,1044.4 2705.0,1051.1 2711.5,1045.0 2718.1,1044.2 2724.6,1045.3 2731.1,1042.1 2737.6,1040.8 2744.2,1036.8 2750.7,1037.0 2757.2,1030.1 2763.7,1036.3 2770.2,1030.8 2776.8,1028.5 2783.3,1030.8 2789.8,1029.8 2796.3,1028.1 2802.8,1023.2 2809.4,1021.7 2815.9,1022.6 2822.4,1014.1 2828.9,1020.3 2835.4,1012.0 2842.0,1010.4 2848.5,1012.5 2855.0,1007.6 2861.5,1007.6 2868.0,1006.7 2874.6,1004.4 2881.1,1004.7 2887.6,1003.3 2894.1,996.6 2900.7,994.1 2907.2,996.4 2913.7,990.7 2920.2,992.6 2926.7,987.7 2933.3,989.2 2939.8,985.1 2946.3,980.0 2952.8,982.5 2959.3,977.1 2965.9,974.0 2972.4,975.2 2978.9,974.0 2985.4,965.3 2991.9,964.9 2998.5,960.0 3005.0,958.6 3011.5,960.4 3018.0,959.2 3024.6,954.7 3031.1,952.7 3037.6,953.3 3044.1,950.6 3050.6,945.5 3057.2,942.9 3063.7,938.9 3070.2,942.0" fill="none" stroke="#7a7a7a" stroke-width="1.6"/>
<polyline points="2542.0,1327.7 2548.5,1326.5 2555.0,1322.7 2561.6,1314.9 2568.1,1324.7 2574.6,1318.1 2581.1,1318.7 2587.6,1316.4 2594.2,1308.2 2600.7,1312.7 2607.2,1304.0 2613.7,1305.9 2620.3,1305.3 2626.8,1303.7 2633.3,1297.0 2639.8,1299.0 2646.3,1293.7 2652.9,1292.5 2659.4,1292.4 2665.9,1289.2 2672.4,1286.1 2678.9,1282.6 2685.5,1280.7 2692.0,1284.5 2698.5,1278.3 2705.0,1278.1 2711.5,1277.7 2718.1,1275.9 2724.6,1267.1 2731.1,1273.7 2737.6,1270.0 2744.2,1268.8 2750.7,1266.5 2757.2,1261.6 2763.7,1266.3 2770.2,1264.7 2776.8,1258.7 2783.3,1262.6 2789.8,1256.3 2796.3,1259.8 2802.8,1256.9 2809.4,1253.6 2815.9,1251.7 2822.4,1250.3 2828.9,1247.1 2835.4,1250.8 2842.0,1246.8 2848.5,1243.4 2855.0,1240.4 2861.5,1238.5 2868.0,1238.0 2874.6,1243.5 2881.1,1238.1 2887.6,1242.7 2894.1,1240.0 2900.7,1231.0 2907.2,1236.1 2913.7,1230.5 2920.2,1231.9 2926.7,1226.0 2933.3,1231.4 2939.8,1232.8 2946.3,1231.3 2952.8,1227.8 2959.3,1226.7 2965.9,1226.6 2972.4,1224.2 2978.9,1226.4 2985.4,1223.5 2991.9,1226.7 2998.5,1223.7 3005.0,1222.1 3011.5,1220.2 3018.0,1221.5 3024.6,1218.8 3031.1,1218.8 3037.6,1221.7 3044.1,1218.4 3050.6,1222.0 3057.2,1218.2 3063.7,1215.6 3070.2,1212.0" fill="none" stroke="#7a7a7a" stroke-width="1.6"/>
<polyline points="2542.0,1192.0 2551.1,1190.9 2560.2,1187.5 2569.3,1186.3 2578.4,1185.1 2587.5,1183.1 2596.6,1180.2 2605.7,1178.8 2614.9,1174.9 2624.0,1173.7 2633.1,1171.7 2642.2,1170.5 2651.3,1167.7 2660.4,1166.6 2669.5,1163.2 2678.6,1162.7 2687.7,1159.9 2696.8,1157.8 2705.9,1156.6 2715.0,1153.3 2724.1,1153.5 2733.2,1150.2 2742.4,1148.3 2751.5,1147.8 2760.6,1143.9 2769.7,1142.7 2778.8,1142.5 2787.9,1138.4 2797.0,1136.5 2806.1,1134.4 2815.2,1132.5 2824.3,1131.3 2833.4,1129.4 2842.5,1127.7 2851.6,1125.1 2860.7,1122.0 2869.8,1120.8 2879.0,1119.0 2888.1,1117.1 2897.2,1116.9 2906.3,1112.5 2915.4,1110.3 2924.5,1108.4 2933.6,1106.3 2942.7,1106.1 2951.8,1103.0 2960.9,1102.6 2970.0,1098.5 2979.1,1097.1 2988.2,1095.4 2997.3,1094.7 3006.5,1091.0 3015.6,1090.9 3024.7,1086.7 3033.8,1085.5 3042.9,1083.0 3052.0,1082.8 3061.1,1078.5 3070.2,1078.2" fill="none" stroke="#7a7a7a" stroke-width="1.6"/>
<circle cx="2685.4" cy="1150.1" r="18.3" fill="url(#ga9a9a9)"/>
<circle cx="2606.4" cy="1206.5" r="18.3" fill="url(#g888888)"/>
<circle cx="2572.4" cy="1196.0" r="18.3" fill="url(#g174a9c)"/>
<circle cx="2541.5" cy="1189.7" r="18.3" fill="url(#g6ccb95)"/>
<circle cx="2739.1" cy="1177.5" r="18.3" fill="url(#g393939)"/>
<circle cx="2778.9" cy="1141.2" r="18.3" fill="url(#gf88a3c)"/>
<circle cx="2764.6" cy="1133.3" r="18.3" fill="url(#g1d6ddd)"/>
<circle cx="2760.9" cy="1137.5" r="18.3" fill="url(#g31a86a)"/>
<circle cx="2753.1" cy="1208.1" r="18.3" fill="url(#g2a8050)"/>
<circle cx="2927.0" cy="1065.6" r="18.3" fill="url(#g8ab4f0)"/>
<circle cx="2992.6" cy="1010.5" r="18.3" fill="url(#gdc5808)"/>
<circle cx="3068.8" cy="1174.8" r="18.3" fill="url(#g000000)"/>
<rect x="2500.5" y="838.0" width="606.5" height="546.0" fill="none" stroke="#000" stroke-width="3.6"/>
<line x1="2485.5" y1="1384.0" x2="2500.5" y2="1384.0" stroke="#000" stroke-width="3.6"/>
<line x1="2485.5" y1="1216.0" x2="2500.5" y2="1216.0" stroke="#000" stroke-width="3.6"/>
<line x1="2485.5" y1="1048.0" x2="2500.5" y2="1048.0" stroke="#000" stroke-width="3.6"/>
<line x1="2485.5" y1="880.0" x2="2500.5" y2="880.0" stroke="#000" stroke-width="3.6"/>
<line x1="2493.0" y1="1300.0" x2="2500.5" y2="1300.0" stroke="#000" stroke-width="3.6"/>
<line x1="2493.0" y1="1132.0" x2="2500.5" y2="1132.0" stroke="#000" stroke-width="3.6"/>
<line x1="2493.0" y1="964.0" x2="2500.5" y2="964.0" stroke="#000" stroke-width="3.6"/>
<text x="2474.7" y="1395.6" font-size="38" text-anchor="end">-0.2</text>
<text x="2474.7" y="1227.6" font-size="38" text-anchor="end">0.0</text>
<text x="2474.7" y="1059.6" font-size="38" text-anchor="end">0.2</text>
<text x="2474.7" y="891.6" font-size="38" text-anchor="end">0.4</text>
<line x1="2621.3" y1="1384.0" x2="2621.3" y2="1399.0" stroke="#000" stroke-width="3.6"/>
<line x1="2773.1" y1="1384.0" x2="2773.1" y2="1399.0" stroke="#000" stroke-width="3.6"/>
<line x1="2924.9" y1="1384.0" x2="2924.9" y2="1399.0" stroke="#000" stroke-width="3.6"/>
<line x1="3076.6" y1="1384.0" x2="3076.6" y2="1399.0" stroke="#000" stroke-width="3.6"/>
<line x1="2545.4" y1="1384.0" x2="2545.4" y2="1391.5" stroke="#000" stroke-width="3.6"/>
<line x1="2697.2" y1="1384.0" x2="2697.2" y2="1391.5" stroke="#000" stroke-width="3.6"/>
<line x1="2849.0" y1="1384.0" x2="2849.0" y2="1391.5" stroke="#000" stroke-width="3.6"/>
<line x1="3000.8" y1="1384.0" x2="3000.8" y2="1391.5" stroke="#000" stroke-width="3.6"/>
<text x="2621.3" y="1438.0" font-size="38" text-anchor="middle">0.15</text>
<text x="2773.1" y="1438.0" font-size="38" text-anchor="middle">0.20</text>
<text x="2924.9" y="1438.0" font-size="38" text-anchor="middle">0.25</text>
<text x="3076.6" y="1438.0" font-size="38" text-anchor="middle">0.30</text>
<text x="2803.8" y="1489.0" font-size="51" font-weight="bold" text-anchor="middle">Centralization betweenness</text>
<text x="2395.6" y="1153.4" font-size="51.5" font-weight="bold" text-anchor="middle" transform="rotate(-90 2395.6 1153.4)">Species dominance</text>
<text x="2515.7" y="895.0" font-size="51" font-weight="bold">(g)</text>
<text x="2630.9" y="891.7" font-size="42.8" font-weight="bold"><tspan font-style="italic">R</tspan><tspan font-size="27" dx="1.5" dy="-17.5">2</tspan><tspan dy="17.5"> = 0.36 (0.10, 1.66)</tspan></text>
<polygon points="189.6,1750.9 196.1,1750.0 202.6,1754.9 209.1,1750.8 215.6,1753.2 222.1,1746.2 228.6,1744.9 235.2,1746.9 241.7,1749.1 248.2,1749.5 254.7,1743.7 261.2,1742.0 267.7,1748.6 274.2,1742.5 280.7,1743.9 287.2,1741.0 293.7,1737.8 300.2,1738.4 306.7,1740.8 313.2,1736.9 319.8,1736.1 326.3,1731.3 332.8,1729.4 339.3,1732.1 345.8,1727.7 352.3,1733.2 358.8,1726.3 365.3,1728.3 371.8,1723.6 378.3,1724.3 384.8,1723.2 391.3,1723.0 397.8,1719.7 404.3,1719.9 410.9,1720.3 417.4,1717.3 423.9,1719.7 430.4,1713.5 436.9,1713.6 443.4,1711.3 449.9,1707.6 456.4,1709.2 462.9,1710.9 469.4,1699.3 475.9,1700.7 482.4,1701.3 488.9,1699.4 495.5,1698.3 502.0,1700.6 508.5,1695.5 515.0,1694.4 521.5,1693.0 528.0,1690.3 534.5,1695.0 541.0,1689.7 547.5,1683.1 554.0,1683.2 560.5,1681.3 567.0,1679.6 573.5,1678.5 580.1,1672.6 586.6,1675.1 593.1,1676.9 599.6,1674.7 606.1,1670.1 612.6,1666.7 619.1,1662.8 625.6,1663.6 632.1,1661.8 638.6,1660.6 645.1,1655.6 651.6,1655.0 658.1,1652.1 664.6,1651.2 671.2,1647.5 677.7,1650.4 684.2,1640.4 690.7,1644.2 697.2,1636.9 703.7,1637.2 710.2,1639.3 710.2,1878.1 703.7,1879.5 697.2,1883.8 690.7,1882.3 684.2,1884.4 677.7,1885.9 671.2,1890.6 664.6,1887.3 658.1,1885.8 651.6,1887.5 645.1,1888.8 638.6,1891.5 632.1,1889.4 625.6,1893.0 619.1,1888.7 612.6,1890.3 606.1,1889.9 599.6,1896.5 593.1,1893.1 586.6,1897.6 580.1,1900.1 573.5,1896.2 567.0,1899.2 560.5,1899.7 554.0,1900.4 547.5,1900.1 541.0,1902.6 534.5,1902.8 528.0,1905.9 521.5,1906.4 515.0,1903.5 508.5,1909.5 502.0,1905.9 495.5,1917.5 488.9,1908.5 482.4,1910.2 475.9,1909.7 469.4,1916.0 462.9,1915.8 456.4,1920.1 449.9,1917.8 443.4,1919.6 436.9,1928.8 430.4,1923.3 423.9,1926.6 417.4,1925.0 410.9,1928.9 404.3,1929.7 397.8,1933.2 391.3,1934.4 384.8,1932.7 378.3,1933.0 371.8,1937.4 365.3,1941.2 358.8,1941.1 352.3,1947.2 345.8,1938.5 339.3,1944.3 332.8,1945.8 326.3,1947.0 319.8,1948.1 313.2,1951.7 306.7,1951.6 300.2,1958.9 293.7,1962.3 287.2,1961.8 280.7,1960.3 274.2,1963.3 267.7,1964.1 261.2,1965.6 254.7,1970.1 248.2,1969.0 241.7,1971.5 235.2,1975.5 228.6,1975.9 222.1,1977.7 215.6,1977.9 209.1,1983.2 202.6,1986.8 196.1,1983.6 189.6,1987.8" fill="#fdf3f0"/>
<polyline points="189.6,1750.9 196.1,1750.0 202.6,1754.9 209.1,1750.8 215.6,1753.2 222.1,1746.2 228.6,1744.9 235.2,1746.9 241.7,1749.1 248.2,1749.5 254.7,1743.7 261.2,1742.0 267.7,1748.6 274.2,1742.5 280.7,1743.9 287.2,1741.0 293.7,1737.8 300.2,1738.4 306.7,1740.8 313.2,1736.9 319.8,1736.1 326.3,1731.3 332.8,1729.4 339.3,1732.1 345.8,1727.7 352.3,1733.2 358.8,1726.3 365.3,1728.3 371.8,1723.6 378.3,1724.3 384.8,1723.2 391.3,1723.0 397.8,1719.7 404.3,1719.9 410.9,1720.3 417.4,1717.3 423.9,1719.7 430.4,1713.5 436.9,1713.6 443.4,1711.3 449.9,1707.6 456.4,1709.2 462.9,1710.9 469.4,1699.3 475.9,1700.7 482.4,1701.3 488.9,1699.4 495.5,1698.3 502.0,1700.6 508.5,1695.5 515.0,1694.4 521.5,1693.0 528.0,1690.3 534.5,1695.0 541.0,1689.7 547.5,1683.1 554.0,1683.2 560.5,1681.3 567.0,1679.6 573.5,1678.5 580.1,1672.6 586.6,1675.1 593.1,1676.9 599.6,1674.7 606.1,1670.1 612.6,1666.7 619.1,1662.8 625.6,1663.6 632.1,1661.8 638.6,1660.6 645.1,1655.6 651.6,1655.0 658.1,1652.1 664.6,1651.2 671.2,1647.5 677.7,1650.4 684.2,1640.4 690.7,1644.2 697.2,1636.9 703.7,1637.2 710.2,1639.3" fill="none" stroke="#7a7a7a" stroke-width="1.6"/>
<polyline points="189.6,1987.8 196.1,1983.6 202.6,1986.8 209.1,1983.2 215.6,1977.9 222.1,1977.7 228.6,1975.9 235.2,1975.5 241.7,1971.5 248.2,1969.0 254.7,1970.1 261.2,1965.6 267.7,1964.1 274.2,1963.3 280.7,1960.3 287.2,1961.8 293.7,1962.3 300.2,1958.9 306.7,1951.6 313.2,1951.7 319.8,1948.1 326.3,1947.0 332.8,1945.8 339.3,1944.3 345.8,1938.5 352.3,1947.2 358.8,1941.1 365.3,1941.2 371.8,1937.4 378.3,1933.0 384.8,1932.7 391.3,1934.4 397.8,1933.2 404.3,1929.7 410.9,1928.9 417.4,1925.0 423.9,1926.6 430.4,1923.3 436.9,1928.8 443.4,1919.6 449.9,1917.8 456.4,1920.1 462.9,1915.8 469.4,1916.0 475.9,1909.7 482.4,1910.2 488.9,1908.5 495.5,1917.5 502.0,1905.9 508.5,1909.5 515.0,1903.5 521.5,1906.4 528.0,1905.9 534.5,1902.8 541.0,1902.6 547.5,1900.1 554.0,1900.4 560.5,1899.7 567.0,1899.2 573.5,1896.2 580.1,1900.1 586.6,1897.6 593.1,1893.1 599.6,1896.5 606.1,1889.9 612.6,1890.3 619.1,1888.7 625.6,1893.0 632.1,1889.4 638.6,1891.5 645.1,1888.8 651.6,1887.5 658.1,1885.8 664.6,1887.3 671.2,1890.6 677.7,1885.9 684.2,1884.4 690.7,1882.3 697.2,1883.8 703.7,1879.5 710.2,1878.1" fill="none" stroke="#7a7a7a" stroke-width="1.6"/>
<polyline points="189.6,1870.5 198.7,1867.8 207.9,1866.2 217.0,1864.2 226.1,1864.7 235.3,1861.0 244.4,1858.6 253.5,1856.5 262.7,1855.1 271.8,1852.5 280.9,1850.7 290.1,1849.3 299.2,1846.3 308.3,1844.6 317.5,1844.0 326.6,1840.1 335.7,1838.7 344.9,1837.0 354.0,1836.0 363.1,1832.9 372.3,1832.8 381.4,1829.0 390.5,1828.1 399.7,1826.5 408.8,1824.4 417.9,1823.1 427.1,1820.5 436.2,1817.8 445.3,1815.7 454.5,1814.4 463.6,1811.8 472.7,1809.3 481.9,1808.0 491.0,1805.4 500.1,1804.6 509.3,1802.6 518.4,1801.8 527.5,1800.2 536.7,1796.6 545.8,1794.7 554.9,1794.1 564.1,1790.1 573.2,1789.4 582.3,1786.7 591.5,1784.1 600.6,1783.7 609.7,1781.0 618.9,1778.7 628.0,1776.7 637.1,1775.5 646.3,1773.1 655.4,1770.7 664.5,1770.2 673.7,1767.8 682.8,1764.3 691.9,1763.6 701.1,1760.4 710.2,1761.2" fill="none" stroke="#7a7a7a" stroke-width="1.6"/>
<circle cx="285.5" cy="1832.4" r="18.3" fill="url(#ga9a9a9)"/>
<circle cx="282.2" cy="1932.4" r="18.3" fill="url(#g888888)"/>
<circle cx="188.7" cy="1805.0" r="18.3" fill="url(#g174a9c)"/>
<circle cx="237.6" cy="1877.1" r="18.3" fill="url(#g6ccb95)"/>
<circle cx="376.5" cy="1811.0" r="18.3" fill="url(#g393939)"/>
<circle cx="462.7" cy="1800.8" r="18.3" fill="url(#gf88a3c)"/>
<circle cx="401.2" cy="1799.8" r="18.3" fill="url(#g1d6ddd)"/>
<circle cx="427.9" cy="1828.4" r="18.3" fill="url(#g31a86a)"/>
<circle cx="462.7" cy="1876.6" r="18.3" fill="url(#g2a8050)"/>
<circle cx="542.1" cy="1745.1" r="18.3" fill="url(#g8ab4f0)"/>
<circle cx="710.0" cy="1740.9" r="18.3" fill="url(#gdc5808)"/>
<circle cx="708.6" cy="1777.7" r="18.3" fill="url(#g000000)"/>
<rect x="150.5" y="1522.0" width="606.5" height="545.4" fill="none" stroke="#000" stroke-width="3.6"/>
<line x1="135.5" y1="2067.4" x2="150.5" y2="2067.4" stroke="#000" stroke-width="3.6"/>
<line x1="135.5" y1="1943.0" x2="150.5" y2="1943.0" stroke="#000" stroke-width="3.6"/>
<line x1="135.5" y1="1818.7" x2="150.5" y2="1818.7" stroke="#000" stroke-width="3.6"/>
<line x1="135.5" y1="1694.3" x2="150.5" y2="1694.3" stroke="#000" stroke-width="3.6"/>
<line x1="135.5" y1="1570.0" x2="150.5" y2="1570.0" stroke="#000" stroke-width="3.6"/>
<line x1="143.0" y1="2005.2" x2="150.5" y2="2005.2" stroke="#000" stroke-width="3.6"/>
<line x1="143.0" y1="1880.9" x2="150.5" y2="1880.9" stroke="#000" stroke-width="3.6"/>
<line x1="143.0" y1="1756.5" x2="150.5" y2="1756.5" stroke="#000" stroke-width="3.6"/>
<line x1="143.0" y1="1632.2" x2="150.5" y2="1632.2" stroke="#000" stroke-width="3.6"/>
<text x="124.7" y="2079.0" font-size="38" text-anchor="end">0.5</text>
<text x="124.7" y="1954.7" font-size="38" text-anchor="end">1.0</text>
<text x="124.7" y="1830.3" font-size="38" text-anchor="end">1.5</text>
<text x="124.7" y="1706.0" font-size="38" text-anchor="end">2.0</text>
<text x="124.7" y="1581.6" font-size="38" text-anchor="end">2.5</text>
<line x1="344.1" y1="2067.4" x2="344.1" y2="2082.4" stroke="#000" stroke-width="3.6"/>
<line x1="586.1" y1="2067.4" x2="586.1" y2="2082.4" stroke="#000" stroke-width="3.6"/>
<line x1="223.1" y1="2067.4" x2="223.1" y2="2074.9" stroke="#000" stroke-width="3.6"/>
<line x1="465.1" y1="2067.4" x2="465.1" y2="2074.9" stroke="#000" stroke-width="3.6"/>
<line x1="707.1" y1="2067.4" x2="707.1" y2="2074.9" stroke="#000" stroke-width="3.6"/>
<text x="344.1" y="2122.7" font-size="38" text-anchor="middle">2.0</text>
<text x="586.1" y="2122.7" font-size="38" text-anchor="middle">2.5</text>
<text x="453.8" y="2181.7" font-size="51" font-weight="bold" text-anchor="middle">Diameter</text>
<text x="57.5" y="1819.6" font-size="51.5" font-weight="bold" text-anchor="middle" transform="rotate(-90 57.5 1819.6)">Colonisation depth (m)</text>
<text x="172.1" y="1587.0" font-size="51" font-weight="bold">(h)</text>
<text x="276.2" y="1583.7" font-size="42.8" font-weight="bold"><tspan font-style="italic">R</tspan><tspan font-size="27" dx="1.5" dy="-17.5">2</tspan><tspan dy="17.5"> = 0.37 (0.04, 0.77)</tspan></text>
<polygon points="961.0,1704.6 967.5,1705.8 974.0,1702.8 980.5,1708.1 987.1,1701.7 993.6,1695.7 1000.1,1700.3 1006.6,1700.5 1013.1,1699.2 1019.6,1699.0 1026.2,1702.1 1032.7,1698.9 1039.2,1700.9 1045.7,1694.4 1052.2,1695.3 1058.7,1700.8 1065.2,1692.9 1071.8,1693.8 1078.3,1696.5 1084.8,1699.0 1091.3,1690.7 1097.8,1694.6 1104.3,1688.0 1110.8,1691.6 1117.4,1691.2 1123.9,1694.0 1130.4,1696.6 1136.9,1693.0 1143.4,1690.0 1149.9,1686.6 1156.5,1690.7 1163.0,1687.7 1169.5,1686.8 1176.0,1689.1 1182.5,1685.5 1189.0,1686.4 1195.5,1682.5 1202.1,1683.4 1208.6,1683.3 1215.1,1687.3 1221.6,1682.1 1228.1,1680.4 1234.6,1680.1 1241.1,1677.8 1247.7,1676.9 1254.2,1676.7 1260.7,1677.7 1267.2,1674.1 1273.7,1671.6 1280.2,1670.8 1286.8,1676.8 1293.3,1672.7 1299.8,1672.7 1306.3,1668.1 1312.8,1669.1 1319.3,1666.0 1325.8,1668.6 1332.4,1665.4 1338.9,1667.2 1345.4,1659.5 1351.9,1670.5 1358.4,1664.0 1364.9,1665.3 1371.4,1659.5 1378.0,1663.4 1384.5,1663.2 1391.0,1654.9 1397.5,1658.9 1404.0,1657.8 1410.5,1650.8 1417.1,1649.6 1423.6,1654.8 1430.1,1656.1 1436.6,1652.8 1443.1,1649.8 1449.6,1647.5 1456.1,1653.4 1462.7,1644.8 1469.2,1643.5 1475.7,1648.7 1482.2,1646.6 1482.2,1952.1 1475.7,1960.0 1469.2,1956.7 1462.7,1960.9 1456.1,1960.8 1449.6,1953.9 1443.1,1957.3 1436.6,1960.4 1430.1,1958.9 1423.6,1961.6 1417.1,1956.4 1410.5,1962.7 1404.0,1957.6 1397.5,1960.7 1391.0,1966.0 1384.5,1959.4 1378.0,1962.5 1371.4,1967.3 1364.9,1964.1 1358.4,1964.1 1351.9,1965.4 1345.4,1968.0 1338.9,1971.3 1332.4,1965.5 1325.8,1968.2 1319.3,1966.3 1312.8,1970.9 1306.3,1972.4 1299.8,1970.8 1293.3,1970.7 1286.8,1972.2 1280.2,1966.0 1273.7,1972.9 1267.2,1975.2 1260.7,1980.0 1254.2,1977.1 1247.7,1975.9 1241.1,1978.3 1234.6,1975.0 1228.1,1978.2 1221.6,1978.0 1215.1,1975.9 1208.6,1978.1 1202.1,1979.0 1195.5,1982.7 1189.0,1984.6 1182.5,1982.9 1176.0,1979.5 1169.5,1988.3 1163.0,1985.3 1156.5,1987.9 1149.9,1978.8 1143.4,1989.4 1136.9,1990.2 1130.4,1992.6 1123.9,1989.2 1117.4,1987.0 1110.8,1995.7 1104.3,1986.4 1097.8,1991.2 1091.3,1990.2 1084.8,1992.1 1078.3,1996.3 1071.8,1996.1 1065.2,1994.0 1058.7,1999.6 1052.2,2001.8 1045.7,2001.0 1039.2,2001.5 1032.7,2002.5 1026.2,2001.9 1019.6,2001.7 1013.1,2003.9 1006.6,2006.3 1000.1,2006.1 993.6,2005.3 987.1,2009.0 980.5,2007.4 974.0,2005.7 967.5,2006.3 961.0,2014.0" fill="#fdf3f0"/>
<polyline points="961.0,1704.6 967.5,1705.8 974.0,1702.8 980.5,1708.1 987.1,1701.7 993.6,1695.7 1000.1,1700.3 1006.6,1700.5 1013.1,1699.2 1019.6,1699.0 1026.2,1702.1 1032.7,1698.9 1039.2,1700.9 1045.7,1694.4 1052.2,1695.3 1058.7,1700.8 1065.2,1692.9 1071.8,1693.8 1078.3,1696.5 1084.8,1699.0 1091.3,1690.7 1097.8,1694.6 1104.3,1688.0 1110.8,1691.6 1117.4,1691.2 1123.9,1694.0 1130.4,1696.6 1136.9,1693.0 1143.4,1690.0 1149.9,1686.6 1156.5,1690.7 1163.0,1687.7 1169.5,1686.8 1176.0,1689.1 1182.5,1685.5 1189.0,1686.4 1195.5,1682.5 1202.1,1683.4 1208.6,1683.3 1215.1,1687.3 1221.6,1682.1 1228.1,1680.4 1234.6,1680.1 1241.1,1677.8 1247.7,1676.9 1254.2,1676.7 1260.7,1677.7 1267.2,1674.1 1273.7,1671.6 1280.2,1670.8 1286.8,1676.8 1293.3,1672.7 1299.8,1672.7 1306.3,1668.1 1312.8,1669.1 1319.3,1666.0 1325.8,1668.6 1332.4,1665.4 1338.9,1667.2 1345.4,1659.5 1351.9,1670.5 1358.4,1664.0 1364.9,1665.3 1371.4,1659.5 1378.0,1663.4 1384.5,1663.2 1391.0,1654.9 1397.5,1658.9 1404.0,1657.8 1410.5,1650.8 1417.1,1649.6 1423.6,1654.8 1430.1,1656.1 1436.6,1652.8 1443.1,1649.8 1449.6,1647.5 1456.1,1653.4 1462.7,1644.8 1469.2,1643.5 1475.7,1648.7 1482.2,1646.6" fill="none" stroke="#7a7a7a" stroke-width="1.6"/>
<polyline points="961.0,2014.0 967.5,2006.3 974.0,2005.7 980.5,2007.4 987.1,2009.0 993.6,2005.3 1000.1,2006.1 1006.6,2006.3 1013.1,2003.9 1019.6,2001.7 1026.2,2001.9 1032.7,2002.5 1039.2,2001.5 1045.7,2001.0 1052.2,2001.8 1058.7,1999.6 1065.2,1994.0 1071.8,1996.1 1078.3,1996.3 1084.8,1992.1 1091.3,1990.2 1097.8,1991.2 1104.3,1986.4 1110.8,1995.7 1117.4,1987.0 1123.9,1989.2 1130.4,1992.6 1136.9,1990.2 1143.4,1989.4 1149.9,1978.8 1156.5,1987.9 1163.0,1985.3 1169.5,1988.3 1176.0,1979.5 1182.5,1982.9 1189.0,1984.6 1195.5,1982.7 1202.1,1979.0 1208.6,1978.1 1215.1,1975.9 1221.6,1978.0 1228.1,1978.2 1234.6,1975.0 1241.1,1978.3 1247.7,1975.9 1254.2,1977.1 1260.7,1980.0 1267.2,1975.2 1273.7,1972.9 1280.2,1966.0 1286.8,1972.2 1293.3,1970.7 1299.8,1970.8 1306.3,1972.4 1312.8,1970.9 1319.3,1966.3 1325.8,1968.2 1332.4,1965.5 1338.9,1971.3 1345.4,1968.0 1351.9,1965.4 1358.4,1964.1 1364.9,1964.1 1371.4,1967.3 1378.0,1962.5 1384.5,1959.4 1391.0,1966.0 1397.5,1960.7 1404.0,1957.6 1410.5,1962.7 1417.1,1956.4 1423.6,1961.6 1430.1,1958.9 1436.6,1960.4 1443.1,1957.3 1449.6,1953.9 1456.1,1960.8 1462.7,1960.9 1469.2,1956.7 1475.7,1960.0 1482.2,1952.1" fill="none" stroke="#7a7a7a" stroke-width="1.6"/>
<polyline points="961.0,1856.4 970.1,1854.9 979.3,1854.5 988.4,1853.4 997.6,1852.8 1006.7,1850.5 1015.9,1850.7 1025.0,1847.2 1034.2,1847.0 1043.3,1846.0 1052.4,1844.7 1061.6,1845.6 1070.7,1842.9 1079.9,1843.7 1089.0,1842.5 1098.2,1842.0 1107.3,1841.1 1116.4,1837.5 1125.6,1839.4 1134.7,1837.4 1143.9,1838.2 1153.0,1834.2 1162.2,1833.0 1171.3,1832.4 1180.5,1832.6 1189.6,1832.4 1198.7,1828.5 1207.9,1828.2 1217.0,1827.8 1226.2,1828.3 1235.3,1823.8 1244.5,1825.0 1253.6,1824.3 1262.7,1822.3 1271.9,1823.1 1281.0,1820.5 1290.2,1820.9 1299.3,1819.3 1308.5,1817.9 1317.6,1818.5 1326.8,1814.9 1335.9,1815.3 1345.0,1813.4 1354.2,1812.6 1363.3,1811.3 1372.5,1810.8 1381.6,1809.1 1390.8,1807.4 1399.9,1806.8 1409.0,1807.3 1418.2,1804.9 1427.3,1804.9 1436.5,1804.0 1445.6,1801.9 1454.8,1801.2 1463.9,1800.1 1473.1,1798.9 1482.2,1799.3" fill="none" stroke="#7a7a7a" stroke-width="1.6"/>
<circle cx="1055.9" cy="1818.4" r="18.3" fill="url(#ga9a9a9)"/>
<circle cx="1052.5" cy="1889.5" r="18.3" fill="url(#g888888)"/>
<circle cx="958.8" cy="1853.0" r="18.3" fill="url(#g174a9c)"/>
<circle cx="1007.8" cy="1833.0" r="18.3" fill="url(#g6ccb95)"/>
<circle cx="1147.1" cy="1885.5" r="18.3" fill="url(#g393939)"/>
<circle cx="1233.4" cy="1850.3" r="18.3" fill="url(#gf88a3c)"/>
<circle cx="1171.8" cy="1749.1" r="18.3" fill="url(#g1d6ddd)"/>
<circle cx="1198.5" cy="1829.3" r="18.3" fill="url(#g31a86a)"/>
<circle cx="1233.4" cy="1897.1" r="18.3" fill="url(#g2a8050)"/>
<circle cx="1313.0" cy="1766.9" r="18.3" fill="url(#g8ab4f0)"/>
<circle cx="1481.3" cy="1721.8" r="18.3" fill="url(#gdc5808)"/>
<circle cx="1479.9" cy="1875.9" r="18.3" fill="url(#g000000)"/>
<rect x="920.5" y="1522.0" width="607.9" height="545.4" fill="none" stroke="#000" stroke-width="3.6"/>
<line x1="905.5" y1="1930.5" x2="920.5" y2="1930.5" stroke="#000" stroke-width="3.6"/>
<line x1="905.5" y1="1748.5" x2="920.5" y2="1748.5" stroke="#000" stroke-width="3.6"/>
<line x1="905.5" y1="1566.6" x2="920.5" y2="1566.6" stroke="#000" stroke-width="3.6"/>
<line x1="913.0" y1="2021.5" x2="920.5" y2="2021.5" stroke="#000" stroke-width="3.6"/>
<line x1="913.0" y1="1839.5" x2="920.5" y2="1839.5" stroke="#000" stroke-width="3.6"/>
<line x1="913.0" y1="1657.6" x2="920.5" y2="1657.6" stroke="#000" stroke-width="3.6"/>
<text x="894.7" y="1942.1" font-size="38" text-anchor="end">0</text>
<text x="894.7" y="1760.2" font-size="38" text-anchor="end">2</text>
<text x="894.7" y="1578.2" font-size="38" text-anchor="end">4</text>
<line x1="1114.6" y1="2067.4" x2="1114.6" y2="2082.4" stroke="#000" stroke-width="3.6"/>
<line x1="1357.1" y1="2067.4" x2="1357.1" y2="2082.4" stroke="#000" stroke-width="3.6"/>
<line x1="993.3" y1="2067.4" x2="993.3" y2="2074.9" stroke="#000" stroke-width="3.6"/>
<line x1="1235.9" y1="2067.4" x2="1235.9" y2="2074.9" stroke="#000" stroke-width="3.6"/>
<line x1="1478.4" y1="2067.4" x2="1478.4" y2="2074.9" stroke="#000" stroke-width="3.6"/>
<text x="1114.6" y="2122.7" font-size="38" text-anchor="middle">2.0</text>
<text x="1357.1" y="2122.7" font-size="38" text-anchor="middle">2.5</text>
<text x="1224.5" y="2181.7" font-size="51" font-weight="bold" text-anchor="middle">Diameter</text>
<text x="845.5" y="1821.0" font-size="51.5" font-weight="bold" text-anchor="middle" transform="rotate(-90 845.5 1821.0)">Species biomass (kg m<tspan font-size="34.5" dy="-22">-2</tspan><tspan dy="22">)</tspan></text>
<text x="953.1" y="1587.0" font-size="51" font-weight="bold">(i)</text>
<text x="1053.0" y="1583.7" font-size="42.8"><tspan font-style="italic">R</tspan><tspan font-size="27" dx="1.5" dy="-17.5">2</tspan><tspan dy="17.5"> = 0.15 (-0.70, 1.91)</tspan></text>
<polygon points="1749.0,1765.3 1755.5,1764.8 1762.0,1764.2 1768.6,1764.4 1775.1,1757.4 1781.6,1757.1 1788.1,1756.2 1794.6,1757.9 1801.2,1758.9 1807.7,1758.0 1814.2,1751.8 1820.7,1753.4 1827.2,1754.6 1833.8,1751.0 1840.3,1747.9 1846.8,1751.2 1853.3,1751.9 1859.8,1748.6 1866.4,1747.1 1872.9,1744.5 1879.4,1746.0 1885.9,1744.4 1892.4,1740.7 1899.0,1740.2 1905.5,1738.7 1912.0,1739.6 1918.5,1732.7 1925.0,1739.0 1931.6,1735.6 1938.1,1732.4 1944.6,1731.2 1951.1,1730.2 1957.6,1729.5 1964.2,1726.8 1970.7,1724.7 1977.2,1728.7 1983.7,1722.1 1990.2,1724.1 1996.8,1719.3 2003.3,1719.5 2009.8,1719.0 2016.3,1718.7 2022.8,1717.1 2029.4,1714.0 2035.9,1710.4 2042.4,1707.8 2048.9,1710.2 2055.4,1707.5 2062.0,1709.6 2068.5,1700.5 2075.0,1697.1 2081.5,1697.5 2088.0,1696.2 2094.6,1697.5 2101.1,1694.2 2107.6,1692.1 2114.1,1689.4 2120.6,1687.3 2127.2,1686.2 2133.7,1685.1 2140.2,1676.2 2146.7,1678.2 2153.2,1678.6 2159.8,1675.4 2166.3,1678.1 2172.8,1673.5 2179.3,1671.4 2185.8,1667.4 2192.4,1666.0 2198.9,1664.1 2205.4,1661.5 2211.9,1661.9 2218.4,1661.0 2225.0,1655.4 2231.5,1651.1 2238.0,1653.6 2244.5,1651.2 2251.0,1643.4 2257.6,1639.7 2264.1,1643.9 2270.6,1639.2 2270.6,1883.5 2264.1,1885.4 2257.6,1885.4 2251.0,1887.8 2244.5,1887.4 2238.0,1892.7 2231.5,1890.8 2225.0,1889.3 2218.4,1890.2 2211.9,1891.8 2205.4,1888.6 2198.9,1892.3 2192.4,1891.8 2185.8,1898.1 2179.3,1900.8 2172.8,1899.8 2166.3,1898.3 2159.8,1900.3 2153.2,1901.6 2146.7,1899.4 2140.2,1900.1 2133.7,1905.0 2127.2,1905.2 2120.6,1905.4 2114.1,1908.9 2107.6,1907.9 2101.1,1905.8 2094.6,1909.3 2088.0,1906.7 2081.5,1912.4 2075.0,1912.5 2068.5,1917.6 2062.0,1915.9 2055.4,1917.8 2048.9,1922.9 2042.4,1921.8 2035.9,1919.2 2029.4,1920.9 2022.8,1921.0 2016.3,1928.6 2009.8,1925.0 2003.3,1927.6 1996.8,1931.5 1990.2,1929.5 1983.7,1928.9 1977.2,1935.7 1970.7,1934.6 1964.2,1938.3 1957.6,1935.7 1951.1,1939.9 1944.6,1943.2 1938.1,1942.6 1931.6,1946.4 1925.0,1944.2 1918.5,1946.5 1912.0,1948.0 1905.5,1952.4 1899.0,1949.0 1892.4,1954.2 1885.9,1955.9 1879.4,1955.0 1872.9,1964.3 1866.4,1953.3 1859.8,1962.8 1853.3,1969.8 1846.8,1975.7 1840.3,1968.4 1833.8,1974.0 1827.2,1972.3 1820.7,1977.5 1814.2,1980.5 1807.7,1980.6 1801.2,1982.8 1794.6,1983.3 1788.1,1985.8 1781.6,1986.4 1775.1,1986.7 1768.6,1992.2 1762.0,1997.2 1755.5,1997.4 1749.0,1992.5" fill="#fdf3f0"/>
<polyline points="1749.0,1765.3 1755.5,1764.8 1762.0,1764.2 1768.6,1764.4 1775.1,1757.4 1781.6,1757.1 1788.1,1756.2 1794.6,1757.9 1801.2,1758.9 1807.7,1758.0 1814.2,1751.8 1820.7,1753.4 1827.2,1754.6 1833.8,1751.0 1840.3,1747.9 1846.8,1751.2 1853.3,1751.9 1859.8,1748.6 1866.4,1747.1 1872.9,1744.5 1879.4,1746.0 1885.9,1744.4 1892.4,1740.7 1899.0,1740.2 1905.5,1738.7 1912.0,1739.6 1918.5,1732.7 1925.0,1739.0 1931.6,1735.6 1938.1,1732.4 1944.6,1731.2 1951.1,1730.2 1957.6,1729.5 1964.2,1726.8 1970.7,1724.7 1977.2,1728.7 1983.7,1722.1 1990.2,1724.1 1996.8,1719.3 2003.3,1719.5 2009.8,1719.0 2016.3,1718.7 2022.8,1717.1 2029.4,1714.0 2035.9,1710.4 2042.4,1707.8 2048.9,1710.2 2055.4,1707.5 2062.0,1709.6 2068.5,1700.5 2075.0,1697.1 2081.5,1697.5 2088.0,1696.2 2094.6,1697.5 2101.1,1694.2 2107.6,1692.1 2114.1,1689.4 2120.6,1687.3 2127.2,1686.2 2133.7,1685.1 2140.2,1676.2 2146.7,1678.2 2153.2,1678.6 2159.8,1675.4 2166.3,1678.1 2172.8,1673.5 2179.3,1671.4 2185.8,1667.4 2192.4,1666.0 2198.9,1664.1 2205.4,1661.5 2211.9,1661.9 2218.4,1661.0 2225.0,1655.4 2231.5,1651.1 2238.0,1653.6 2244.5,1651.2 2251.0,1643.4 2257.6,1639.7 2264.1,1643.9 2270.6,1639.2" fill="none" stroke="#7a7a7a" stroke-width="1.6"/>
<polyline points="1749.0,1992.5 1755.5,1997.4 1762.0,1997.2 1768.6,1992.2 1775.1,1986.7 1781.6,1986.4 1788.1,1985.8 1794.6,1983.3 1801.2,1982.8 1807.7,1980.6 1814.2,1980.5 1820.7,1977.5 1827.2,1972.3 1833.8,1974.0 1840.3,1968.4 1846.8,1975.7 1853.3,1969.8 1859.8,1962.8 1866.4,1953.3 1872.9,1964.3 1879.4,1955.0 1885.9,1955.9 1892.4,1954.2 1899.0,1949.0 1905.5,1952.4 1912.0,1948.0 1918.5,1946.5 1925.0,1944.2 1931.6,1946.4 1938.1,1942.6 1944.6,1943.2 1951.1,1939.9 1957.6,1935.7 1964.2,1938.3 1970.7,1934.6 1977.2,1935.7 1983.7,1928.9 1990.2,1929.5 1996.8,1931.5 2003.3,1927.6 2009.8,1925.0 2016.3,1928.6 2022.8,1921.0 2029.4,1920.9 2035.9,1919.2 2042.4,1921.8 2048.9,1922.9 2055.4,1917.8 2062.0,1915.9 2068.5,1917.6 2075.0,1912.5 2081.5,1912.4 2088.0,1906.7 2094.6,1909.3 2101.1,1905.8 2107.6,1907.9 2114.1,1908.9 2120.6,1905.4 2127.2,1905.2 2133.7,1905.0 2140.2,1900.1 2146.7,1899.4 2153.2,1901.6 2159.8,1900.3 2166.3,1898.3 2172.8,1899.8 2179.3,1900.8 2185.8,1898.1 2192.4,1891.8 2198.9,1892.3 2205.4,1888.6 2211.9,1891.8 2218.4,1890.2 2225.0,1889.3 2231.5,1890.8 2238.0,1892.7 2244.5,1887.4 2251.0,1887.8 2257.6,1885.4 2264.1,1885.4 2270.6,1883.5" fill="none" stroke="#7a7a7a" stroke-width="1.6"/>
<polyline points="1749.0,1881.9 1758.2,1879.8 1767.3,1877.4 1776.5,1875.2 1785.6,1873.1 1794.8,1872.0 1803.9,1869.4 1813.1,1866.6 1822.2,1864.4 1831.4,1864.6 1840.5,1860.8 1849.7,1858.8 1858.8,1856.7 1868.0,1855.9 1877.1,1852.0 1886.3,1849.8 1895.4,1847.3 1904.6,1846.3 1913.7,1845.0 1922.9,1842.0 1932.0,1838.6 1941.2,1838.3 1950.3,1836.6 1959.5,1834.3 1968.6,1832.3 1977.8,1829.3 1986.9,1828.9 1996.1,1826.7 2005.2,1824.2 2014.4,1820.6 2023.5,1819.5 2032.7,1818.1 2041.8,1813.9 2051.0,1813.4 2060.1,1810.0 2069.3,1809.8 2078.4,1806.3 2087.6,1804.3 2096.7,1804.9 2105.9,1801.0 2115.0,1798.9 2124.2,1794.1 2133.3,1794.8 2142.5,1792.7 2151.6,1789.1 2160.8,1787.9 2169.9,1787.6 2179.1,1784.3 2188.2,1782.0 2197.4,1780.0 2206.5,1778.9 2215.7,1774.5 2224.8,1775.4 2234.0,1771.2 2243.1,1770.0 2252.3,1767.7 2261.4,1766.3 2270.6,1762.1" fill="none" stroke="#7a7a7a" stroke-width="1.6"/>
<circle cx="1845.2" cy="1830.6" r="18.3" fill="url(#ga9a9a9)"/>
<circle cx="1841.8" cy="1897.7" r="18.3" fill="url(#g888888)"/>
<circle cx="1748.3" cy="1893.5" r="18.3" fill="url(#g174a9c)"/>
<circle cx="1797.2" cy="1891.4" r="18.3" fill="url(#g6ccb95)"/>
<circle cx="1936.3" cy="1775.1" r="18.3" fill="url(#g393939)"/>
<circle cx="2022.6" cy="1764.0" r="18.3" fill="url(#gf88a3c)"/>
<circle cx="1961.1" cy="1856.4" r="18.3" fill="url(#g1d6ddd)"/>
<circle cx="1987.7" cy="1794.7" r="18.3" fill="url(#g31a86a)"/>
<circle cx="2022.6" cy="1896.3" r="18.3" fill="url(#g2a8050)"/>
<circle cx="2102.1" cy="1767.2" r="18.3" fill="url(#g8ab4f0)"/>
<circle cx="2270.3" cy="1755.5" r="18.3" fill="url(#gdc5808)"/>
<rect x="1710.0" y="1522.0" width="607.3" height="545.4" fill="none" stroke="#000" stroke-width="3.6"/>
<line x1="1695.0" y1="2067.4" x2="1710.0" y2="2067.4" stroke="#000" stroke-width="3.6"/>
<line x1="1695.0" y1="1943.4" x2="1710.0" y2="1943.4" stroke="#000" stroke-width="3.6"/>
<line x1="1695.0" y1="1819.5" x2="1710.0" y2="1819.5" stroke="#000" stroke-width="3.6"/>
<line x1="1695.0" y1="1695.5" x2="1710.0" y2="1695.5" stroke="#000" stroke-width="3.6"/>
<line x1="1695.0" y1="1571.6" x2="1710.0" y2="1571.6" stroke="#000" stroke-width="3.6"/>
<line x1="1702.5" y1="2005.4" x2="1710.0" y2="2005.4" stroke="#000" stroke-width="3.6"/>
<line x1="1702.5" y1="1881.5" x2="1710.0" y2="1881.5" stroke="#000" stroke-width="3.6"/>
<line x1="1702.5" y1="1757.5" x2="1710.0" y2="1757.5" stroke="#000" stroke-width="3.6"/>
<line x1="1702.5" y1="1633.6" x2="1710.0" y2="1633.6" stroke="#000" stroke-width="3.6"/>
<text x="1684.2" y="2079.0" font-size="38" text-anchor="end">-0.5</text>
<text x="1684.2" y="1955.1" font-size="38" text-anchor="end">0.0</text>
<text x="1684.2" y="1831.1" font-size="38" text-anchor="end">0.5</text>
<text x="1684.2" y="1707.2" font-size="38" text-anchor="end">1.0</text>
<text x="1684.2" y="1583.2" font-size="38" text-anchor="end">1.5</text>
<line x1="1903.9" y1="2067.4" x2="1903.9" y2="2082.4" stroke="#000" stroke-width="3.6"/>
<line x1="2146.2" y1="2067.4" x2="2146.2" y2="2082.4" stroke="#000" stroke-width="3.6"/>
<line x1="1782.7" y1="2067.4" x2="1782.7" y2="2074.9" stroke="#000" stroke-width="3.6"/>
<line x1="2025.0" y1="2067.4" x2="2025.0" y2="2074.9" stroke="#000" stroke-width="3.6"/>
<line x1="2267.4" y1="2067.4" x2="2267.4" y2="2074.9" stroke="#000" stroke-width="3.6"/>
<text x="1903.9" y="2122.7" font-size="38" text-anchor="middle">2.0</text>
<text x="2146.2" y="2122.7" font-size="38" text-anchor="middle">2.5</text>
<text x="2013.7" y="2181.7" font-size="51" font-weight="bold" text-anchor="middle">Diameter</text>
<text x="1605.5" y="1834.2" font-size="51.5" font-weight="bold" text-anchor="middle" transform="rotate(-90 1605.5 1834.2)">Species frequency</text>
<text x="1727.2" y="1587.0" font-size="51" font-weight="bold">(j)</text>
<text x="1810.0" y="1583.7" font-size="42.8" font-weight="bold"><tspan font-style="italic">R</tspan><tspan font-size="27" dx="1.5" dy="-17.5">2</tspan><tspan dy="17.5"> = 0.42 (0.08, 0.82)</tspan></text>
<polygon points="2540.6,1750.8 2547.1,1752.3 2553.6,1746.6 2560.1,1748.2 2566.6,1748.8 2573.1,1745.2 2579.6,1748.7 2586.2,1752.0 2592.7,1745.4 2599.2,1745.8 2605.7,1742.9 2612.2,1739.2 2618.7,1739.9 2625.2,1739.7 2631.7,1742.2 2638.2,1737.5 2644.7,1737.2 2651.2,1735.6 2657.7,1735.0 2664.2,1733.3 2670.8,1737.2 2677.3,1735.2 2683.8,1730.4 2690.3,1729.2 2696.8,1730.0 2703.3,1724.1 2709.8,1723.7 2716.3,1726.7 2722.8,1725.2 2729.3,1721.5 2735.8,1718.3 2742.3,1722.2 2748.8,1722.8 2755.3,1719.4 2761.9,1719.4 2768.4,1716.2 2774.9,1713.7 2781.4,1715.5 2787.9,1710.8 2794.4,1712.4 2800.9,1705.8 2807.4,1709.8 2813.9,1702.1 2820.4,1700.4 2826.9,1701.8 2833.4,1702.4 2839.9,1698.2 2846.5,1694.7 2853.0,1696.0 2859.5,1691.0 2866.0,1689.3 2872.5,1693.7 2879.0,1685.4 2885.5,1685.4 2892.0,1684.9 2898.5,1680.7 2905.0,1679.1 2911.5,1676.5 2918.0,1677.4 2924.5,1676.7 2931.0,1675.7 2937.6,1675.5 2944.1,1665.8 2950.6,1670.5 2957.1,1668.3 2963.6,1664.5 2970.1,1661.6 2976.6,1662.7 2983.1,1660.3 2989.6,1659.6 2996.1,1651.3 3002.6,1657.6 3009.1,1651.7 3015.6,1647.3 3022.2,1648.1 3028.7,1642.6 3035.2,1639.4 3041.7,1638.6 3048.2,1636.1 3054.7,1633.7 3061.2,1632.6 3061.2,1902.0 3054.7,1904.9 3048.2,1906.7 3041.7,1907.0 3035.2,1909.1 3028.7,1905.1 3022.2,1906.4 3015.6,1911.2 3009.1,1914.4 3002.6,1908.9 2996.1,1913.8 2989.6,1916.6 2983.1,1915.9 2976.6,1915.0 2970.1,1920.5 2963.6,1918.4 2957.1,1920.7 2950.6,1923.7 2944.1,1920.0 2937.6,1917.9 2931.0,1921.4 2924.5,1922.6 2918.0,1924.2 2911.5,1922.7 2905.0,1928.9 2898.5,1929.7 2892.0,1931.8 2885.5,1933.6 2879.0,1936.4 2872.5,1932.4 2866.0,1932.5 2859.5,1937.7 2853.0,1936.7 2846.5,1937.9 2839.9,1937.5 2833.4,1937.6 2826.9,1944.3 2820.4,1943.6 2813.9,1948.9 2807.4,1946.6 2800.9,1950.9 2794.4,1950.8 2787.9,1951.8 2781.4,1951.1 2774.9,1953.8 2768.4,1959.9 2761.9,1955.7 2755.3,1958.6 2748.8,1963.6 2742.3,1959.8 2735.8,1963.3 2729.3,1964.0 2722.8,1966.6 2716.3,1966.5 2709.8,1971.9 2703.3,1968.7 2696.8,1979.1 2690.3,1977.1 2683.8,1978.3 2677.3,1983.2 2670.8,1976.6 2664.2,1981.3 2657.7,1982.3 2651.2,1983.3 2644.7,1989.4 2638.2,1992.0 2631.7,1989.7 2625.2,1993.1 2618.7,1992.6 2612.2,1994.8 2605.7,2001.2 2599.2,1997.5 2592.7,2006.7 2586.2,2006.5 2579.6,2002.9 2573.1,2009.7 2566.6,2013.6 2560.1,2015.2 2553.6,2015.6 2547.1,2018.2 2540.6,2014.2" fill="#fdf3f0"/>
<polyline points="2540.6,1750.8 2547.1,1752.3 2553.6,1746.6 2560.1,1748.2 2566.6,1748.8 2573.1,1745.2 2579.6,1748.7 2586.2,1752.0 2592.7,1745.4 2599.2,1745.8 2605.7,1742.9 2612.2,1739.2 2618.7,1739.9 2625.2,1739.7 2631.7,1742.2 2638.2,1737.5 2644.7,1737.2 2651.2,1735.6 2657.7,1735.0 2664.2,1733.3 2670.8,1737.2 2677.3,1735.2 2683.8,1730.4 2690.3,1729.2 2696.8,1730.0 2703.3,1724.1 2709.8,1723.7 2716.3,1726.7 2722.8,1725.2 2729.3,1721.5 2735.8,1718.3 2742.3,1722.2 2748.8,1722.8 2755.3,1719.4 2761.9,1719.4 2768.4,1716.2 2774.9,1713.7 2781.4,1715.5 2787.9,1710.8 2794.4,1712.4 2800.9,1705.8 2807.4,1709.8 2813.9,1702.1 2820.4,1700.4 2826.9,1701.8 2833.4,1702.4 2839.9,1698.2 2846.5,1694.7 2853.0,1696.0 2859.5,1691.0 2866.0,1689.3 2872.5,1693.7 2879.0,1685.4 2885.5,1685.4 2892.0,1684.9 2898.5,1680.7 2905.0,1679.1 2911.5,1676.5 2918.0,1677.4 2924.5,1676.7 2931.0,1675.7 2937.6,1675.5 2944.1,1665.8 2950.6,1670.5 2957.1,1668.3 2963.6,1664.5 2970.1,1661.6 2976.6,1662.7 2983.1,1660.3 2989.6,1659.6 2996.1,1651.3 3002.6,1657.6 3009.1,1651.7 3015.6,1647.3 3022.2,1648.1 3028.7,1642.6 3035.2,1639.4 3041.7,1638.6 3048.2,1636.1 3054.7,1633.7 3061.2,1632.6" fill="none" stroke="#7a7a7a" stroke-width="1.6"/>
<polyline points="2540.6,2014.2 2547.1,2018.2 2553.6,2015.6 2560.1,2015.2 2566.6,2013.6 2573.1,2009.7 2579.6,2002.9 2586.2,2006.5 2592.7,2006.7 2599.2,1997.5 2605.7,2001.2 2612.2,1994.8 2618.7,1992.6 2625.2,1993.1 2631.7,1989.7 2638.2,1992.0 2644.7,1989.4 2651.2,1983.3 2657.7,1982.3 2664.2,1981.3 2670.8,1976.6 2677.3,1983.2 2683.8,1978.3 2690.3,1977.1 2696.8,1979.1 2703.3,1968.7 2709.8,1971.9 2716.3,1966.5 2722.8,1966.6 2729.3,1964.0 2735.8,1963.3 2742.3,1959.8 2748.8,1963.6 2755.3,1958.6 2761.9,1955.7 2768.4,1959.9 2774.9,1953.8 2781.4,1951.1 2787.9,1951.8 2794.4,1950.8 2800.9,1950.9 2807.4,1946.6 2813.9,1948.9 2820.4,1943.6 2826.9,1944.3 2833.4,1937.6 2839.9,1937.5 2846.5,1937.9 2853.0,1936.7 2859.5,1937.7 2866.0,1932.5 2872.5,1932.4 2879.0,1936.4 2885.5,1933.6 2892.0,1931.8 2898.5,1929.7 2905.0,1928.9 2911.5,1922.7 2918.0,1924.2 2924.5,1922.6 2931.0,1921.4 2937.6,1917.9 2944.1,1920.0 2950.6,1923.7 2957.1,1920.7 2963.6,1918.4 2970.1,1920.5 2976.6,1915.0 2983.1,1915.9 2989.6,1916.6 2996.1,1913.8 3002.6,1908.9 3009.1,1914.4 3015.6,1911.2 3022.2,1906.4 3028.7,1905.1 3035.2,1909.1 3041.7,1907.0 3048.2,1906.7 3054.7,1904.9 3061.2,1902.0" fill="none" stroke="#7a7a7a" stroke-width="1.6"/>
<polyline points="2540.6,1884.2 2549.7,1881.4 2558.9,1878.7 2568.0,1877.3 2577.1,1875.2 2586.3,1872.9 2595.4,1872.4 2604.5,1869.1 2613.7,1867.6 2622.8,1866.1 2631.9,1864.4 2641.1,1861.2 2650.2,1860.4 2659.3,1856.6 2668.5,1855.4 2677.6,1855.0 2686.7,1851.1 2695.9,1849.9 2705.0,1848.3 2714.1,1845.3 2723.3,1843.9 2732.4,1840.4 2741.5,1840.6 2750.7,1837.8 2759.8,1837.4 2768.9,1834.5 2778.1,1832.7 2787.2,1828.9 2796.3,1828.1 2805.5,1827.1 2814.6,1824.4 2823.7,1822.8 2832.9,1821.1 2842.0,1817.1 2851.1,1817.1 2860.3,1813.2 2869.4,1812.0 2878.5,1809.9 2887.7,1808.0 2896.8,1804.4 2905.9,1804.4 2915.1,1803.0 2924.2,1800.5 2933.3,1799.7 2942.5,1795.6 2951.6,1794.9 2960.7,1792.0 2969.9,1789.5 2979.0,1788.3 2988.1,1787.0 2997.3,1784.5 3006.4,1781.9 3015.5,1779.8 3024.7,1778.6 3033.8,1775.9 3042.9,1774.0 3052.1,1771.3 3061.2,1771.4" fill="none" stroke="#7a7a7a" stroke-width="1.6"/>
<circle cx="2635.5" cy="1833.8" r="18.3" fill="url(#ga9a9a9)"/>
<circle cx="2632.1" cy="1890.1" r="18.3" fill="url(#g888888)"/>
<circle cx="2538.5" cy="1879.6" r="18.3" fill="url(#g174a9c)"/>
<circle cx="2587.5" cy="1873.3" r="18.3" fill="url(#g6ccb95)"/>
<circle cx="2726.7" cy="1861.2" r="18.3" fill="url(#g393939)"/>
<circle cx="2813.1" cy="1824.9" r="18.3" fill="url(#gf88a3c)"/>
<circle cx="2751.5" cy="1817.0" r="18.3" fill="url(#g1d6ddd)"/>
<circle cx="2778.1" cy="1821.2" r="18.3" fill="url(#g31a86a)"/>
<circle cx="2813.1" cy="1891.7" r="18.3" fill="url(#g2a8050)"/>
<circle cx="2892.6" cy="1749.4" r="18.3" fill="url(#g8ab4f0)"/>
<circle cx="3060.9" cy="1694.3" r="18.3" fill="url(#gdc5808)"/>
<circle cx="3059.5" cy="1858.5" r="18.3" fill="url(#g000000)"/>
<rect x="2500.2" y="1522.0" width="607.8" height="545.4" fill="none" stroke="#000" stroke-width="3.6"/>
<line x1="2485.2" y1="2067.4" x2="2500.2" y2="2067.4" stroke="#000" stroke-width="3.6"/>
<line x1="2485.2" y1="1899.6" x2="2500.2" y2="1899.6" stroke="#000" stroke-width="3.6"/>
<line x1="2485.2" y1="1731.8" x2="2500.2" y2="1731.8" stroke="#000" stroke-width="3.6"/>
<line x1="2485.2" y1="1564.0" x2="2500.2" y2="1564.0" stroke="#000" stroke-width="3.6"/>
<line x1="2492.7" y1="1983.5" x2="2500.2" y2="1983.5" stroke="#000" stroke-width="3.6"/>
<line x1="2492.7" y1="1815.7" x2="2500.2" y2="1815.7" stroke="#000" stroke-width="3.6"/>
<line x1="2492.7" y1="1647.9" x2="2500.2" y2="1647.9" stroke="#000" stroke-width="3.6"/>
<text x="2474.4" y="2079.0" font-size="38" text-anchor="end">-0.2</text>
<text x="2474.4" y="1911.2" font-size="38" text-anchor="end">0.0</text>
<text x="2474.4" y="1743.4" font-size="38" text-anchor="end">0.2</text>
<text x="2474.4" y="1575.6" font-size="38" text-anchor="end">0.4</text>
<line x1="2694.2" y1="2067.4" x2="2694.2" y2="2082.4" stroke="#000" stroke-width="3.6"/>
<line x1="2936.8" y1="2067.4" x2="2936.8" y2="2082.4" stroke="#000" stroke-width="3.6"/>
<line x1="2573.0" y1="2067.4" x2="2573.0" y2="2074.9" stroke="#000" stroke-width="3.6"/>
<line x1="2815.5" y1="2067.4" x2="2815.5" y2="2074.9" stroke="#000" stroke-width="3.6"/>
<line x1="3058.0" y1="2067.4" x2="3058.0" y2="2074.9" stroke="#000" stroke-width="3.6"/>
<text x="2694.2" y="2122.7" font-size="38" text-anchor="middle">2.0</text>
<text x="2936.8" y="2122.7" font-size="38" text-anchor="middle">2.5</text>
<text x="2804.1" y="2181.7" font-size="51" font-weight="bold" text-anchor="middle">Diameter</text>
<text x="2397.0" y="1837.7" font-size="51.5" font-weight="bold" text-anchor="middle" transform="rotate(-90 2397.0 1837.7)">Species dominance</text>
<text x="2512.5" y="1587.0" font-size="51" font-weight="bold">(k)</text>
<text x="2636.2" y="1583.7" font-size="42.8" font-weight="bold"><tspan font-style="italic">R</tspan><tspan font-size="27" dx="1.5" dy="-17.5">2</tspan><tspan dy="17.5"> = 0.36 (0.01, 0.25)</tspan></text></svg></body></html>
